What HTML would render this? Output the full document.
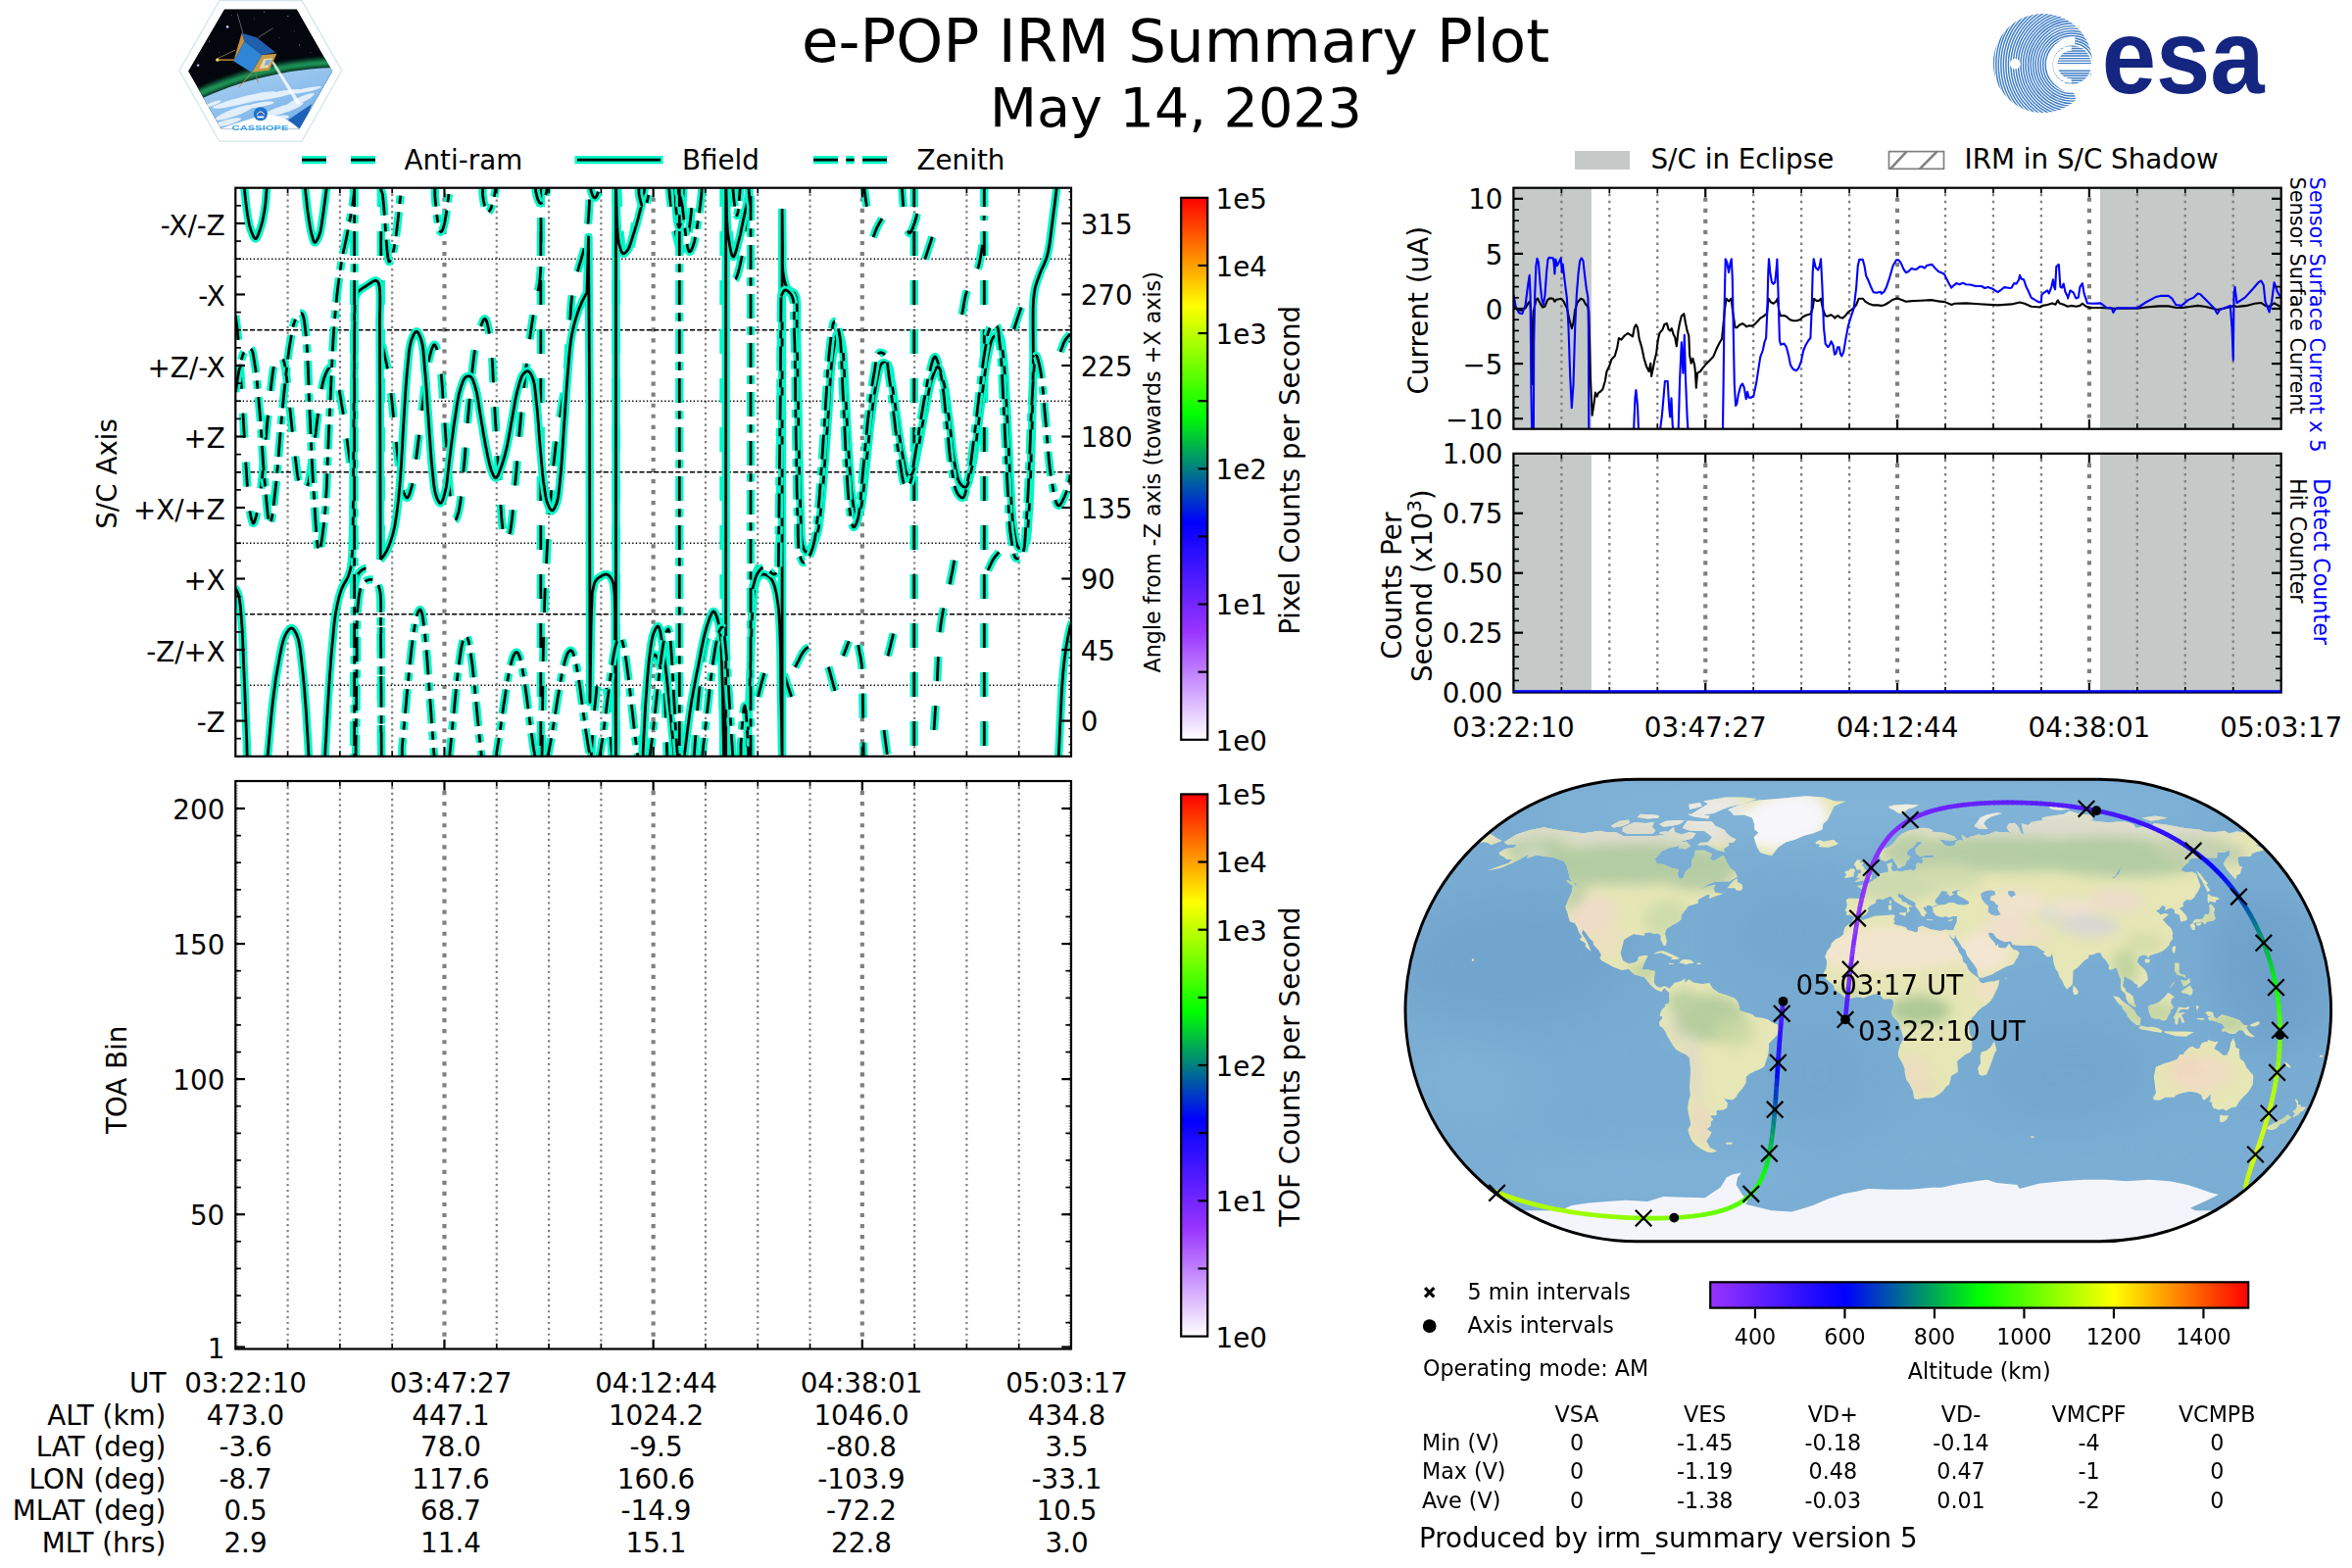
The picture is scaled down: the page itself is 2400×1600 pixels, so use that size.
<!DOCTYPE html><html><head><meta charset='utf-8'><title>e-POP IRM Summary Plot</title><style>html,body{margin:0;padding:0;background:#fff}svg{display:block}</style></head><body><svg width='2400' height='1600' viewBox='0 0 2400 1600' font-family="'DejaVu Sans','Liberation Sans',sans-serif">
<defs>
<linearGradient id='cb6' x1='0' y1='1' x2='0' y2='0'><stop offset='0' stop-color='#ffffff'/><stop offset='0.2' stop-color='#9933ff'/><stop offset='0.4' stop-color='#0000ff'/><stop offset='0.6' stop-color='#00ff00'/><stop offset='0.8' stop-color='#ffff00'/><stop offset='1' stop-color='#ff0000'/></linearGradient>
<linearGradient id='cb5' x1='0' y1='0' x2='1' y2='0'><stop offset='0' stop-color='#9933ff'/><stop offset='0.25' stop-color='#0000ff'/><stop offset='0.5' stop-color='#00ff00'/><stop offset='0.75' stop-color='#ffff00'/><stop offset='1' stop-color='#ff0000'/></linearGradient>
<pattern id='hatch' width='28' height='19' patternUnits='userSpaceOnUse'><path d='M-2 21 L16 -2 M26 21 L44 -2 M-30 21 L-12 -2' stroke='#808080' stroke-width='2.4'/></pattern>
<clipPath id='esadisc'><circle cx='2084.4' cy='64.5' r='50.5'/></clipPath><clipPath id='esaball'><circle cx='2114.2' cy='66.0' r='19.8'/></clipPath>
<clipPath id='hexclip'><path d='M191.9 72.7L228.9 9.2L302.9 9.2L339.2 72.7L305.4 131.4L225.7 131.4Z'/></clipPath><linearGradient id='earthg' x1='0' y1='0' x2='0.3' y2='1'><stop offset='0' stop-color='#d6ebfa'/><stop offset='0.18' stop-color='#7fb6ea'/><stop offset='1' stop-color='#2a74c8'/></linearGradient><filter id='bl2' x='-20%' y='-20%' width='140%' height='140%'><feGaussianBlur stdDeviation='1.6'/></filter><filter id='bl3' x='-20%' y='-20%' width='140%' height='140%'><feGaussianBlur stdDeviation='0.7'/></filter>
<clipPath id='mapclip'><path d='M1670.1 795.3L2142.5 795.3A236.2 235.7 0 0 1 2142.5 1266.7L1670.1 1266.7A236.2 235.7 0 0 1 1670.1 795.3Z'/></clipPath><clipPath id='landclip'><path d='M1534.7 859.5L1547.2 851.6L1561.0 846.9L1575.6 844.3L1587.1 846.4L1604.0 848.7L1615.4 850.3L1632.8 847.7L1638.1 849.0L1648.8 849.0L1656.5 852.9L1667.4 852.9L1678.3 852.9L1689.1 852.9L1698.6 851.6L1708.0 843.7L1708.9 849.0L1715.9 851.6L1723.9 849.0L1730.7 850.3L1726.9 855.5L1716.7 858.2L1711.9 863.4L1704.5 864.7L1695.8 868.6L1688.7 876.5L1691.0 881.7L1696.8 881.7L1706.8 886.2L1712.8 887.0L1711.7 892.2L1713.8 896.9L1717.6 896.1L1719.7 889.6L1726.2 884.3L1726.2 877.8L1728.8 873.9L1730.1 867.8L1739.1 867.8L1746.9 871.2L1744.9 877.0L1749.1 878.3L1756.3 873.9L1758.8 873.1L1762.4 880.4L1765.6 885.7L1770.5 889.6L1772.8 894.8L1764.6 899.5L1750.2 899.5L1742.2 902.7L1734.9 907.9L1741.8 904.5L1750.7 902.7L1748.6 906.6L1750.1 910.5L1757.2 911.8L1760.2 909.2L1757.0 912.6L1750.5 914.5L1743.9 917.1L1744.7 913.1L1742.2 913.1L1736.8 915.8L1732.5 918.4L1733.1 921.5L1729.1 922.8L1722.5 924.7L1720.7 927.6L1717.4 931.5L1715.7 934.1L1715.3 938.6L1710.4 942.0L1706.3 944.1L1700.6 947.7L1698.8 952.4L1700.9 960.3L1699.8 964.7L1697.5 965.0L1694.5 958.5L1694.8 955.1L1692.2 952.4L1688.2 953.0L1683.4 951.4L1678.2 951.9L1678.2 954.8L1674.0 954.3L1667.0 953.2L1663.6 955.1L1657.0 959.0L1655.5 965.5L1653.6 972.6L1656.0 979.9L1659.7 982.3L1662.2 983.3L1667.5 982.3L1670.8 980.5L1672.1 976.0L1678.7 974.7L1681.7 975.5L1679.1 979.9L1676.8 985.2L1675.3 989.4L1682.4 989.4L1688.8 990.9L1688.0 998.3L1687.5 1002.2L1690.4 1006.6L1694.2 1007.7L1698.2 1006.1L1703.6 1008.5L1702.2 1012.1L1701.4 1011.4L1698.2 1008.0L1695.6 1011.9L1692.3 1011.1L1688.9 1009.3L1683.9 1004.8L1682.0 1002.2L1677.9 997.0L1674.3 996.2L1667.6 994.3L1661.6 988.8L1655.0 989.9L1646.7 987.0L1641.3 983.9L1634.0 979.9L1632.5 977.6L1634.0 974.4L1631.6 969.7L1626.1 964.0L1625.5 960.3L1622.2 957.7L1618.7 952.4L1614.9 948.0L1614.1 952.4L1617.6 957.7L1620.4 962.9L1622.2 967.4L1623.7 970.5L1621.8 969.5L1617.8 966.1L1618.0 962.4L1613.3 959.8L1611.9 958.2L1614.4 956.1L1611.3 951.6L1609.3 945.9L1607.1 942.0L1602.1 940.6L1600.1 934.6L1599.7 932.0L1597.9 927.6L1597.4 925.2L1600.1 918.4L1603.9 910.0L1604.7 904.2L1609.5 902.7L1602.3 897.4L1600.0 888.3L1598.3 883.0L1596.0 879.1L1590.4 877.0L1585.1 874.7L1576.5 873.9L1568.3 872.6L1558.0 875.7L1559.8 871.8L1551.6 876.5L1542.6 880.9L1531.1 885.7L1522.7 887.5L1517.5 888.3L1526.9 884.9L1539.5 880.4L1543.2 877.0L1537.4 877.0L1534.9 874.4L1530.6 872.6L1529.4 869.9L1536.3 866.0L1545.3 864.7L1547.7 862.1L1538.8 862.1ZM1763.1 826.2L1777.2 820.2L1791.0 816.8L1814.5 814.9L1843.2 812.3L1860.8 813.6L1872.7 817.6L1883.9 817.6L1871.6 822.8L1868.5 829.3L1865.3 835.9L1860.3 841.1L1859.5 846.4L1850.3 850.3L1841.2 852.4L1831.6 856.8L1822.3 859.2L1814.4 864.7L1807.9 873.3L1801.4 871.8L1796.2 869.9L1793.1 864.7L1791.3 859.5L1789.7 854.2L1794.5 849.5L1790.3 846.4L1790.3 841.1L1788.1 834.6L1779.6 831.4L1769.3 832.0L1765.8 828.0ZM1703.6 1008.5L1708.9 1002.7L1715.5 1000.9L1719.5 998.5L1719.3 1002.7L1723.4 999.3L1728.5 1002.7L1737.6 1004.0L1744.2 1003.0L1747.9 1008.7L1754.3 1013.2L1762.1 1015.5L1769.9 1018.4L1772.5 1021.0L1775.1 1027.1L1775.1 1031.0L1780.3 1032.8L1788.2 1034.9L1790.8 1037.8L1797.4 1038.6L1804.0 1040.2L1808.7 1043.6L1814.0 1045.4L1815.1 1050.6L1813.4 1055.9L1808.8 1061.1L1805.0 1065.0L1804.8 1072.9L1803.7 1078.1L1801.4 1084.7L1800.3 1088.6L1795.3 1091.2L1790.3 1093.3L1785.3 1095.7L1781.7 1099.1L1781.7 1105.1L1777.7 1110.9L1773.8 1115.3L1771.1 1120.0L1767.6 1122.4L1761.2 1121.4L1758.7 1120.0L1763.0 1125.8L1762.2 1130.5L1759.0 1132.6L1751.6 1133.1L1751.7 1137.9L1745.1 1138.4L1748.3 1142.3L1745.6 1144.9L1745.9 1148.8L1741.7 1152.0L1746.6 1155.4L1743.8 1160.6L1741.2 1164.6L1743.6 1168.2L1744.8 1171.1L1752.2 1174.5L1746.8 1176.3L1741.9 1175.6L1736.2 1172.4L1730.3 1168.5L1725.9 1163.3L1723.4 1156.7L1722.4 1152.8L1725.3 1147.5L1724.1 1141.0L1722.7 1135.8L1722.2 1129.2L1723.0 1124.0L1724.9 1117.4L1724.0 1109.6L1724.4 1103.0L1724.9 1096.5L1724.9 1088.6L1723.8 1079.2L1720.4 1076.3L1715.0 1073.7L1710.1 1070.8L1707.2 1067.1L1704.6 1062.4L1701.4 1057.2L1698.9 1052.0L1696.6 1048.8L1693.4 1046.7L1693.1 1042.8L1695.6 1039.9L1696.4 1037.5L1693.8 1036.8L1694.3 1033.6L1696.1 1029.7L1699.0 1027.3L1699.5 1024.7L1702.7 1023.7L1703.5 1020.5L1703.1 1016.3L1703.5 1013.2L1702.2 1012.1ZM1891.5 937.2L1901.3 938.8L1906.3 937.0L1913.8 934.4L1923.9 934.1L1931.9 933.3L1933.9 934.4L1932.2 938.0L1933.6 940.6L1931.8 942.5L1935.4 944.1L1939.7 944.8L1945.1 946.4L1946.2 949.0L1950.8 950.1L1955.2 951.6L1957.2 949.8L1957.0 945.9L1962.0 944.8L1967.2 947.2L1970.3 948.2L1976.2 949.3L1980.1 950.1L1985.1 948.5L1988.4 949.0L1989.2 952.4L1989.9 956.4L1993.0 960.3L1995.0 964.2L1997.8 968.1L1998.4 970.8L2002.1 976.0L2003.1 981.2L2006.3 983.9L2008.4 989.1L2011.1 992.2L2015.4 995.6L2019.1 998.3L2019.5 1000.9L2022.7 1003.5L2029.2 1001.7L2034.4 1001.4L2040.1 999.8L2039.7 1003.8L2038.5 1007.4L2036.0 1012.7L2033.5 1017.9L2030.9 1021.8L2027.0 1025.2L2021.8 1028.4L2017.8 1032.3L2015.2 1035.7L2012.6 1038.1L2010.7 1041.5L2008.6 1045.4L2009.3 1049.3L2009.7 1054.6L2012.0 1058.5L2012.3 1065.0L2012.4 1070.3L2010.4 1073.7L2005.1 1076.3L2001.9 1078.9L1997.0 1083.1L1997.8 1088.6L1997.8 1093.9L1991.1 1097.8L1990.4 1101.7L1989.1 1106.4L1985.3 1109.6L1982.5 1113.5L1978.0 1116.9L1973.3 1119.8L1971.0 1120.2L1965.7 1120.3L1961.9 1120.6L1956.7 1122.1L1953.0 1120.8L1952.7 1116.6L1951.6 1112.2L1948.5 1105.9L1945.3 1101.7L1943.7 1093.9L1943.7 1090.4L1940.5 1083.4L1937.0 1078.1L1937.0 1072.9L1938.9 1066.4L1942.4 1059.8L1940.9 1054.6L1938.5 1046.7L1937.8 1044.1L1935.2 1041.0L1931.2 1037.0L1929.9 1032.8L1930.7 1029.7L1932.0 1025.8L1932.0 1021.8L1929.6 1019.2L1924.7 1019.5L1922.0 1019.7L1918.1 1014.8L1912.9 1014.5L1908.9 1015.5L1903.7 1017.4L1901.1 1018.4L1898.4 1017.6L1893.2 1017.4L1886.6 1019.5L1882.7 1017.9L1877.5 1013.5L1873.6 1011.4L1871.5 1008.7L1871.5 1006.1L1867.6 1002.7L1867.1 1002.2L1862.7 998.5L1862.5 995.6L1860.7 992.5L1863.3 989.1L1864.0 983.9L1864.0 979.9L1862.3 976.0L1865.0 969.5L1867.7 966.8L1869.1 962.4L1873.0 958.5L1876.9 956.9L1880.8 953.7L1881.6 949.8L1882.7 945.9L1886.1 943.3L1889.1 942.0ZM1883.4 918.4L1886.6 916.6L1894.0 916.8L1901.9 917.3L1903.4 914.2L1903.4 910.5L1901.0 907.9L1894.9 904.2L1899.1 903.2L1902.4 903.7L1902.7 900.8L1906.3 901.4L1909.9 899.5L1912.3 897.4L1914.7 896.4L1917.0 893.5L1918.1 891.4L1922.9 890.6L1926.9 889.8L1926.5 885.7L1925.4 881.7L1930.7 879.9L1930.4 883.6L1929.8 887.0L1932.3 889.6L1935.8 888.5L1939.4 889.6L1945.2 888.0L1949.8 887.5L1953.0 888.5L1955.5 885.7L1955.2 881.7L1957.4 880.2L1961.0 881.7L1962.5 878.3L1960.4 876.0L1963.7 875.2L1970.6 875.2L1975.0 873.9L1971.3 872.3L1965.7 872.8L1959.0 873.9L1955.3 871.2L1954.4 867.3L1955.6 864.7L1960.7 860.8L1961.6 859.2L1956.0 858.7L1954.2 862.1L1952.2 864.2L1948.0 866.8L1945.6 869.9L1946.3 872.6L1949.4 873.9L1947.8 876.5L1945.0 879.6L1944.1 883.0L1940.2 884.3L1939.1 885.9L1936.8 885.9L1936.0 883.8L1933.7 879.9L1931.6 876.5L1930.4 875.2L1928.2 877.0L1923.7 879.1L1919.0 877.0L1917.7 872.6L1917.6 868.6L1922.0 866.0L1927.6 863.9L1931.8 860.8L1934.9 856.8L1937.8 852.9L1941.9 850.3L1946.9 847.7L1953.1 846.4L1960.7 844.8L1966.7 845.1L1972.4 846.9L1970.6 848.5L1977.2 849.2L1983.7 849.8L1994.4 853.4L1996.8 856.8L1990.1 858.2L1978.7 856.3L1982.9 860.8L1984.4 862.6L1990.2 863.7L1995.3 861.8L1995.7 858.7L1999.7 857.1L2003.7 858.2L2002.2 854.2L2001.5 851.6L2007.0 855.5L2010.8 853.7L2018.8 851.6L2023.4 852.4L2029.5 851.3L2035.9 848.5L2043.9 849.5L2049.0 849.0L2053.4 851.6L2049.5 847.7L2047.6 844.5L2050.1 840.3L2056.0 839.8L2059.6 843.7L2062.5 850.3L2065.3 851.6L2063.4 843.7L2062.6 840.3L2069.8 841.9L2072.9 838.5L2081.0 843.2L2073.8 838.2L2084.4 837.2L2083.6 834.6L2088.7 833.3L2097.7 832.0L2106.6 830.7L2111.6 827.5L2119.9 829.9L2134.0 832.0L2135.7 835.9L2132.8 837.2L2139.7 838.0L2151.2 839.3L2161.9 838.5L2169.1 838.5L2176.9 841.1L2179.6 845.1L2184.7 843.7L2191.0 843.7L2197.0 841.4L2197.7 840.1L2212.0 841.7L2222.7 843.7L2230.7 845.3L2244.6 846.4L2250.4 848.7L2260.4 849.0L2269.6 847.7L2274.8 850.3L2283.0 848.2L2294.5 850.6L2305.9 860.8L2303.9 862.1L2301.1 861.6L2308.9 866.0L2311.3 867.3L2302.9 869.2L2298.0 871.2L2296.8 873.9L2286.5 873.9L2283.5 874.4L2283.7 879.1L2285.3 884.3L2288.3 884.3L2287.0 887.5L2285.8 891.9L2282.7 892.7L2281.3 897.4L2276.5 892.2L2272.1 887.0L2268.7 881.7L2269.9 879.1L2272.6 875.2L2275.1 872.6L2275.2 867.3L2269.5 869.9L2262.5 869.7L2262.3 875.2L2253.1 875.2L2248.3 874.9L2235.1 875.7L2232.5 880.4L2228.7 883.6L2225.3 887.7L2230.2 890.1L2237.0 889.6L2241.3 891.7L2242.3 894.8L2244.0 900.1L2245.5 904.0L2243.4 908.7L2240.5 913.1L2239.2 915.8L2235.4 918.4L2231.5 917.9L2229.0 919.7L2227.5 922.3L2228.0 924.9L2223.7 926.8L2226.7 929.6L2230.6 934.1L2232.0 937.5L2231.4 939.1L2228.0 940.1L2225.1 940.6L2224.4 936.7L2223.7 933.6L2219.2 932.0L2218.7 928.3L2215.6 926.5L2210.5 928.3L2209.1 929.4L2209.4 924.9L2206.6 924.1L2203.0 928.3L2199.9 928.9L2202.8 931.5L2204.6 933.3L2208.7 932.0L2213.3 933.1L2210.2 935.4L2206.9 938.6L2211.2 943.3L2215.5 947.2L2216.4 949.8L2217.3 952.4L2216.7 955.1L2217.3 957.7L2214.3 961.6L2213.5 964.2L2211.4 966.6L2208.0 969.5L2205.7 971.0L2201.6 972.6L2198.4 973.4L2193.4 975.0L2192.3 977.8L2190.0 974.7L2186.4 974.4L2182.5 976.5L2180.8 981.2L2183.0 984.4L2188.3 989.1L2191.1 994.3L2191.9 999.6L2187.5 1003.8L2185.5 1006.1L2181.2 1008.2L2181.0 1004.8L2178.3 1003.5L2174.9 1000.1L2170.0 997.7L2169.1 995.9L2167.4 997.0L2167.1 1000.9L2165.9 1006.1L2168.7 1008.7L2169.6 1012.1L2172.8 1013.5L2176.4 1016.6L2177.5 1020.5L2177.9 1023.9L2179.8 1027.3L2177.7 1027.3L2172.1 1023.7L2169.6 1019.2L2169.2 1015.3L2167.3 1012.7L2164.3 1010.0L2164.0 1004.8L2164.2 999.6L2161.9 994.3L2160.8 990.4L2159.2 987.3L2155.0 989.6L2151.8 989.1L2151.9 985.2L2149.4 980.5L2145.3 976.5L2143.5 972.6L2140.1 972.3L2136.4 973.9L2131.3 974.7L2131.2 977.8L2127.5 979.7L2124.4 982.8L2120.4 987.0L2115.5 990.4L2115.3 995.6L2115.1 999.6L2115.0 1003.8L2113.1 1006.6L2111.0 1007.7L2109.3 1009.8L2106.5 1006.1L2104.4 1000.9L2101.6 997.0L2099.9 991.7L2097.7 989.1L2095.9 983.9L2095.2 981.2L2094.7 976.0L2093.6 972.9L2092.7 976.0L2088.8 976.5L2084.6 972.6L2087.0 971.3L2083.2 969.5L2079.6 966.8L2077.9 965.5L2072.2 964.7L2064.5 965.0L2058.0 964.5L2053.6 964.0L2051.9 960.3L2046.1 961.3L2040.8 959.0L2036.7 956.4L2034.3 952.4L2031.1 951.4L2028.7 952.4L2030.3 956.4L2033.7 960.3L2035.2 962.1L2037.0 966.1L2038.8 962.9L2039.2 966.8L2042.8 967.6L2046.7 967.4L2050.1 962.9L2051.7 966.1L2054.5 968.7L2057.7 969.5L2060.8 972.1L2058.6 977.3L2056.0 981.2L2054.4 983.9L2050.1 985.4L2046.7 986.5L2042.2 989.1L2036.6 991.7L2032.8 994.3L2027.7 995.9L2023.8 997.5L2019.9 997.7L2017.9 994.3L2017.5 989.1L2014.1 983.9L2010.0 978.6L2007.2 974.7L2005.6 969.5L2002.3 966.8L2000.1 962.9L1996.6 957.7L1995.1 954.0L1994.1 958.2L1991.2 956.4L1989.4 952.7L1988.4 949.0L1993.3 949.0L1994.7 945.1L1996.7 940.6L1996.8 936.7L1997.2 934.9L1992.9 934.9L1989.3 936.5L1984.1 934.9L1982.9 935.9L1979.1 935.4L1975.3 934.1L1972.5 930.7L1972.3 927.6L1971.5 926.2L1974.6 924.9L1978.2 923.6L1984.4 923.1L1989.1 921.0L1993.3 921.0L1998.0 923.1L2004.3 923.6L2009.1 922.3L2008.8 919.7L2004.2 917.1L1999.5 914.5L1996.8 912.4L1997.6 909.2L2001.8 907.4L1999.9 907.7L1995.1 908.7L1991.6 910.0L1993.1 912.4L1995.6 912.1L1992.7 913.1L1989.7 914.7L1988.3 912.6L1985.8 912.1L1988.0 910.5L1984.2 909.2L1981.1 909.2L1979.0 913.1L1976.8 915.8L1975.0 917.9L1974.4 919.7L1975.6 921.8L1978.2 923.1L1975.8 923.6L1972.9 924.7L1970.9 925.7L1970.8 924.1L1965.9 924.1L1966.0 926.2L1962.9 924.9L1962.9 927.6L1964.5 929.4L1966.3 931.5L1964.4 933.3L1963.8 935.4L1960.8 934.6L1959.6 932.0L1959.0 930.7L1956.6 927.6L1954.5 924.9L1954.5 921.5L1952.0 919.7L1946.9 917.1L1943.1 914.5L1941.8 912.4L1939.6 913.1L1939.8 911.3L1936.4 912.4L1936.7 915.2L1939.5 916.8L1941.4 920.0L1945.9 921.3L1945.9 922.6L1949.7 924.1L1952.3 926.0L1948.5 924.9L1947.6 927.3L1949.0 928.9L1946.6 931.5L1945.8 929.9L1946.2 927.6L1944.6 926.0L1942.0 924.4L1938.5 922.8L1936.5 921.5L1933.5 919.7L1931.6 917.1L1929.6 915.0L1927.9 914.7L1924.7 916.3L1921.1 918.1L1918.1 917.3L1914.9 917.6L1914.0 919.7L1914.2 921.3L1911.8 922.6L1908.3 924.1L1905.6 927.6L1906.8 929.4L1904.5 932.5L1900.8 934.9L1895.3 934.9L1892.2 936.7L1890.5 935.1L1887.7 933.6L1884.0 934.1L1884.3 930.2L1882.6 929.4L1884.2 925.7L1884.7 923.1L1884.3 920.2ZM1518.1 850.6L1522.8 852.1L1527.7 855.5L1532.5 857.9L1521.8 862.3L1517.0 859.5L1511.4 859.5L1506.7 860.8ZM1892.6 899.8L1897.9 899.3L1902.7 898.2L1909.4 896.9L1910.3 893.0L1907.0 892.2L1906.3 890.6L1905.8 888.3L1902.8 887.0L1901.6 884.3L1899.8 883.3L1901.7 879.9L1897.0 880.2L1899.4 877.5L1894.8 877.5L1892.8 880.4L1891.8 882.5L1893.4 884.3L1894.5 887.0L1894.8 887.7L1898.1 887.2L1899.2 889.6L1898.7 891.2L1895.6 891.4L1896.1 892.7L1894.9 894.8L1893.9 895.3L1896.8 895.9L1899.1 896.4L1895.5 897.4ZM1892.0 894.3L1891.6 891.4L1893.1 888.0L1891.7 886.4L1888.7 886.2L1886.3 888.3L1882.7 889.1L1882.6 891.2L1884.2 891.9L1883.0 894.3L1881.7 895.3L1883.6 896.1L1887.2 895.3L1890.8 894.6ZM1852.5 859.5L1856.8 857.1L1861.0 858.7L1866.7 857.6L1871.2 856.8L1874.0 859.5L1876.1 860.8L1872.8 862.6L1865.9 864.7L1860.4 864.4L1855.5 863.9L1857.3 862.1L1853.0 861.0ZM1927.5 822.8L1933.1 821.5L1944.4 820.7L1957.9 821.2L1952.9 824.1L1947.3 825.4L1943.9 828.0L1940.3 830.4L1936.2 829.3L1932.9 826.7L1927.7 824.6ZM2014.7 843.2L2019.9 845.8L2028.5 846.1L2024.0 840.3L2026.5 836.7L2031.9 833.3L2043.1 829.9L2037.7 829.3L2026.9 831.4L2020.4 834.6L2018.1 838.5L2015.2 841.7ZM2090.7 824.1L2096.2 820.2L2111.5 825.4L2103.0 826.7L2094.4 825.9ZM2185.4 834.6L2199.2 832.5L2211.9 834.6L2205.4 835.9L2195.2 837.7ZM1995.6 820.2L2009.6 818.3L2025.0 818.9L2021.1 821.5L2002.0 821.5ZM2241.2 888.8L2245.1 891.4L2249.3 897.4L2253.1 901.4L2251.3 902.7L2255.4 908.4L2252.8 910.5L2250.3 905.3L2246.9 898.7L2243.5 893.5ZM2253.8 922.3L2252.6 918.4L2252.8 912.1L2257.1 914.5L2263.3 915.8L2264.6 917.6L2261.3 918.4L2260.7 921.0L2255.7 919.7L2254.1 920.2ZM2256.5 922.8L2260.1 927.6L2259.0 931.5L2259.9 934.6L2260.7 937.5L2258.8 939.3L2256.2 940.1L2252.0 940.4L2249.9 943.3L2247.0 940.4L2242.2 941.2L2237.4 942.0L2238.1 940.1L2240.7 938.0L2247.4 937.8L2249.4 934.6L2250.0 932.8L2253.4 933.3L2254.8 930.2L2254.6 926.2L2254.3 923.6ZM2237.4 942.0L2235.2 943.3L2235.1 945.4L2237.6 949.0L2239.4 949.0L2240.1 945.1L2238.9 942.7ZM2241.2 942.0L2246.0 941.4L2246.4 942.7L2243.3 945.1L2241.2 943.8ZM2218.8 965.0L2220.3 966.1L2219.0 972.9L2216.5 970.8L2216.6 966.8ZM2188.8 978.6L2194.0 979.1L2192.9 982.6L2188.8 982.3ZM2219.2 982.6L2223.6 982.8L2223.8 987.8L2223.2 991.7L2225.8 994.3L2229.8 994.9L2230.1 997.7L2226.0 995.6L2222.0 995.1L2220.7 993.0L2218.9 990.4L2219.3 987.8ZM2225.9 1011.4L2229.7 1008.7L2234.7 1005.6L2237.6 1010.0L2237.1 1014.0L2235.3 1015.8L2231.3 1014.0L2226.0 1012.9ZM2225.1 1000.1L2230.4 1000.9L2234.1 998.3L2235.0 1002.2L2232.0 1004.8L2228.2 1006.6L2226.7 1003.5ZM2213.5 1008.7L2218.8 1002.7L2219.2 1001.4L2215.1 1006.1ZM2192.3 1027.1L2193.9 1025.8L2198.6 1024.5L2202.8 1022.6L2207.9 1018.2L2212.1 1012.9L2214.8 1014.2L2218.9 1017.4L2215.8 1019.5L2215.1 1023.1L2218.1 1028.4L2214.7 1030.5L2214.7 1033.1L2212.0 1037.0L2210.6 1041.0L2206.9 1041.5L2202.8 1039.6L2198.8 1039.6L2195.4 1038.6L2193.1 1033.1L2192.4 1030.2ZM2156.2 1016.3L2162.0 1017.4L2165.2 1021.0L2169.5 1024.5L2172.7 1026.3L2177.9 1031.0L2180.5 1035.7L2184.4 1038.9L2183.7 1046.2L2180.3 1045.9L2174.6 1041.5L2171.3 1037.5L2169.5 1033.1L2166.1 1029.7L2165.3 1026.5L2162.1 1024.5L2159.5 1021.3ZM2182.3 1048.8L2184.7 1046.5L2190.7 1048.0L2196.5 1047.8L2201.6 1049.1L2206.2 1051.2L2205.8 1053.8L2199.6 1053.0L2191.8 1051.4L2185.3 1050.4ZM2207.5 1052.2L2218.0 1052.5L2228.4 1052.5L2233.7 1052.7L2238.9 1053.0L2230.7 1057.7L2220.3 1057.2L2210.0 1054.3ZM2220.7 1033.1L2223.3 1027.6L2229.1 1028.6L2234.3 1026.8L2233.0 1030.0L2225.2 1030.0L2221.8 1033.4L2225.2 1033.4L2230.2 1033.1L2225.9 1036.0L2227.7 1039.6L2229.4 1043.6L2226.3 1043.6L2225.1 1038.9L2223.3 1038.1L2222.0 1045.4L2219.6 1045.1L2219.3 1040.2L2218.0 1038.1ZM2240.9 1026.0L2244.0 1027.1L2242.2 1030.0L2242.7 1033.1L2241.2 1028.9ZM2242.1 1038.9L2249.5 1038.9L2248.6 1040.7L2242.1 1040.2ZM2250.1 1033.1L2254.0 1032.0L2258.0 1033.1L2259.2 1037.5L2261.8 1039.6L2267.1 1035.2L2276.3 1037.8L2285.4 1041.0L2289.1 1045.4L2293.8 1046.7L2292.1 1048.5L2295.2 1053.3L2300.8 1058.0L2297.3 1058.2L2291.8 1055.9L2288.7 1052.0L2284.9 1050.9L2280.6 1055.1L2275.4 1054.8L2270.4 1052.2L2267.7 1053.0L2267.4 1049.9L2270.1 1048.5L2267.6 1044.9L2261.2 1042.5L2256.5 1041.2L2254.7 1041.5L2252.6 1038.3L2256.6 1037.3L2253.2 1036.8ZM2295.6 1045.9L2299.7 1044.1L2305.0 1042.0L2305.7 1044.9L2300.8 1047.5L2296.9 1047.2ZM2331.3 1083.6L2334.8 1085.5L2337.8 1089.1L2335.9 1089.7L2331.9 1086.5ZM2367.2 1076.8L2370.6 1076.8L2369.9 1078.7L2366.9 1078.4ZM2199.9 1088.6L2201.5 1088.1L2208.8 1084.9L2214.7 1083.4L2221.6 1080.8L2224.3 1076.0L2227.7 1076.3L2229.0 1073.7L2234.4 1068.5L2237.6 1067.7L2240.4 1070.0L2244.1 1070.0L2246.2 1065.0L2248.2 1063.5L2252.7 1062.7L2252.9 1060.9L2259.5 1063.0L2263.7 1063.0L2261.2 1066.4L2259.4 1070.3L2264.3 1072.9L2268.4 1076.8L2272.3 1076.8L2275.3 1070.3L2276.0 1064.5L2278.9 1059.3L2281.0 1064.5L2281.3 1068.7L2285.0 1070.3L2284.9 1074.2L2285.8 1080.2L2289.9 1083.4L2292.5 1089.4L2295.2 1092.5L2299.2 1097.3L2299.1 1101.7L2298.8 1106.4L2295.6 1112.2L2292.2 1116.4L2288.8 1119.5L2284.0 1125.3L2282.1 1129.2L2276.7 1130.3L2271.4 1133.4L2268.2 1131.6L2264.5 1132.6L2258.9 1131.0L2257.0 1127.9L2257.3 1124.8L2254.2 1124.2L2255.6 1122.1L2255.7 1116.4L2252.5 1120.0L2249.2 1122.7L2247.7 1121.6L2245.9 1116.9L2241.4 1114.8L2234.1 1113.8L2226.0 1115.6L2220.4 1117.4L2218.5 1119.8L2209.6 1119.8L2203.8 1122.7L2198.8 1122.4L2196.7 1120.8L2200.1 1114.5L2199.2 1110.9L2198.6 1104.3L2197.8 1099.1L2198.5 1095.2ZM2265.5 1137.6L2269.6 1138.6L2274.2 1138.1L2272.2 1142.3L2269.5 1144.4L2265.5 1145.2L2265.0 1141.8ZM2342.3 1121.1L2344.7 1123.4L2345.0 1127.4L2347.7 1126.9L2347.1 1129.5L2353.2 1129.7L2349.9 1133.7L2347.3 1134.4L2345.7 1137.1L2340.3 1139.9L2339.5 1139.2L2341.8 1136.5L2339.5 1133.9L2342.8 1131.8L2343.9 1129.2L2343.8 1126.6L2342.2 1123.2ZM2335.3 1137.1L2335.5 1139.2L2338.4 1138.9L2337.1 1141.0L2332.5 1144.1L2331.9 1145.7L2326.8 1147.0L2323.2 1151.2L2319.0 1153.0L2316.1 1153.0L2312.6 1151.5L2315.2 1148.8L2319.8 1146.2L2325.3 1143.6L2329.2 1141.8L2332.9 1138.4ZM2035.1 1062.4L2037.3 1071.6L2035.0 1075.5L2033.4 1080.8L2030.4 1088.6L2027.2 1096.5L2022.5 1097.8L2019.5 1096.5L2018.1 1089.9L2021.0 1084.7L2020.6 1078.1L2021.9 1073.4L2026.9 1072.1L2031.2 1068.5L2033.4 1065.0ZM2115.6 1005.3L2118.9 1008.7L2120.9 1012.1L2119.4 1014.8L2116.5 1015.3L2115.1 1011.4L2115.5 1007.4ZM1686.8 973.6L1692.1 970.8L1697.3 970.2L1702.2 972.3L1707.2 974.4L1712.1 976.8L1714.1 978.1L1710.6 978.9L1704.9 979.1L1706.9 977.1L1703.1 976.0L1699.5 973.9L1694.5 972.3L1690.5 972.9ZM1713.1 982.6L1717.1 978.9L1720.4 979.1L1725.1 979.4L1728.7 982.3L1727.1 983.1L1723.2 983.3L1720.5 984.6L1718.0 983.3ZM1703.0 982.8L1708.1 983.3L1708.1 984.1L1703.1 983.9ZM1731.8 982.6L1736.0 982.8L1735.3 984.1L1731.7 983.9ZM1762.4 906.3L1768.4 898.7L1772.8 895.9L1772.9 900.1L1777.3 902.2L1778.4 906.6L1776.0 909.0L1771.3 908.2L1770.4 906.3ZM1598.7 898.0L1605.4 900.1L1607.9 904.2L1604.3 903.5L1599.2 900.1ZM1771.4 856.3L1769.1 859.5L1763.3 860.2L1764.7 862.6L1759.0 866.0L1759.6 869.4L1751.7 867.3L1747.1 864.7L1741.4 862.3L1732.3 862.6L1734.6 860.0L1742.6 859.5L1747.1 854.2L1744.0 851.6L1738.5 847.7L1730.9 847.9L1724.7 847.7L1716.7 845.1L1721.8 837.5L1730.7 838.0L1741.1 838.0L1746.9 838.5L1750.6 843.0L1755.9 845.1L1760.2 847.2L1761.9 850.3L1766.8 854.2ZM1655.9 844.3L1667.8 839.0L1679.4 840.1L1687.7 838.8L1685.9 843.7L1689.4 847.7L1686.2 850.8L1677.5 850.8L1668.7 851.1L1661.1 851.1L1655.6 848.5ZM1643.9 842.4L1652.5 837.7L1662.0 836.4L1663.0 839.8L1654.7 843.2L1646.2 844.5ZM1726.0 830.7L1734.3 825.4L1743.0 820.2L1738.1 817.6L1760.7 813.6L1779.2 813.4L1792.4 814.9L1786.7 817.6L1777.2 820.2L1765.2 823.3L1757.4 825.9L1748.4 830.1L1737.6 831.2ZM1722.0 830.7L1728.0 833.3L1742.8 835.4L1744.5 832.8L1736.0 830.7ZM1723.4 820.7L1734.8 818.9L1736.7 822.8L1724.1 825.9ZM1673.9 830.7L1685.4 831.2L1692.7 832.0L1692.4 834.6L1681.4 835.4L1670.5 834.1ZM1708.6 837.2L1718.9 837.2L1714.0 841.1L1706.8 842.4L1697.5 843.7L1693.1 841.1L1700.0 837.7ZM1713.8 859.5L1720.9 858.7L1725.3 863.4L1719.4 866.5L1713.2 865.2ZM1693.9 849.0L1700.8 848.2L1700.2 850.8L1693.5 851.1ZM1502.1 978.1L1504.5 979.1L1502.8 981.2L1501.7 979.9ZM2072.3 1159.3L2076.0 1159.8L2074.3 1161.2L2072.0 1160.6ZM1760.6 1165.9L1767.7 1165.6L1767.0 1167.7L1762.2 1167.7ZM1926.6 923.9L1930.1 923.4L1930.2 928.3L1927.5 928.9ZM1927.8 919.4L1929.7 918.4L1929.6 922.3L1928.1 922.1ZM1937.6 931.5L1945.3 931.0L1944.2 934.9L1937.9 932.5ZM1965.7 937.8L1972.6 938.6L1971.8 939.3L1965.8 938.8ZM1987.7 939.1L1993.2 937.8L1991.8 939.6L1988.3 940.1ZM2009.1 1046.2L2009.8 1047.2L2009.3 1047.8ZM2045.5 998.0L2048.6 998.3L2046.8 998.8ZM1743.2 1168.8L1744.8 1171.1L1752.2 1174.5L1746.8 1176.3L1741.9 1175.6L1736.2 1172.4L1739.4 1171.1L1739.1 1169.3ZM1552.3 1235.3L1591.6 1235.3L1604.0 1230.0L1621.0 1227.4L1640.0 1226.1L1659.2 1224.8L1681.0 1226.1L1697.3 1220.9L1718.8 1221.7L1739.9 1222.2L1747.4 1216.9L1755.5 1211.7L1758.0 1207.8L1762.0 1201.2L1767.7 1198.6L1777.1 1196.5L1773.1 1201.2L1771.6 1209.1L1778.2 1219.6L1783.4 1226.1L1780.7 1228.7L1808.0 1235.3L1828.1 1236.6L1837.0 1234.0L1849.9 1230.0L1864.9 1223.5L1881.0 1218.3L1895.7 1215.6L1906.3 1213.0L1927.7 1213.8L1949.1 1213.8L1970.9 1211.7L1981.7 1211.7L1993.2 1209.1L2016.1 1205.2L2027.5 1203.8L2037.4 1207.0L2058.3 1209.1L2060.8 1213.0L2075.7 1209.1L2080.7 1207.8L2104.0 1205.2L2126.7 1203.8L2148.8 1203.8L2169.9 1205.2L2192.9 1203.8L2213.8 1205.2L2232.1 1209.1L2248.2 1214.3L2255.9 1216.9L2263.9 1219.0L2252.2 1224.8L2234.9 1232.7L2240.7 1235.3L2260.3 1235.3L2253.2 1239.2L2245.5 1243.1L2236.9 1247.1L2227.3 1251.0L2216.3 1254.9L2203.0 1258.8L2185.4 1262.8L2142.5 1266.7L1670.1 1266.7L1627.2 1262.8L1609.6 1258.8L1596.3 1254.9L1585.3 1251.0L1575.7 1247.1L1567.1 1243.1L1559.4 1239.2Z'/></clipPath><filter id='bl6' x='-20%' y='-20%' width='140%' height='140%'><feGaussianBlur stdDeviation='6'/></filter><filter id='bl12' x='-30%' y='-30%' width='160%' height='160%'><feGaussianBlur stdDeviation='12'/></filter><filter id='bl25' x='-30%' y='-30%' width='160%' height='160%'><feGaussianBlur stdDeviation='25'/></filter><filter id='bl1' x='-5%' y='-5%' width='110%' height='110%'><feGaussianBlur stdDeviation='0.55'/></filter>
</defs>
<rect x='0.00' y='0.00' width='2400.00' height='1600.00' fill='#fff' stroke='none' stroke-width='0'/>
<text x='1199.5' y='62.5' font-size='61.10' text-anchor='middle' fill='#000'>e-POP IRM Summary Plot</text>
<text x='1200.0' y='128.6' font-size='55.56' text-anchor='middle' fill='#000'>May 14, 2023</text>
<line x1='293.59' y1='197.70' x2='293.59' y2='765.80' stroke='#808080' stroke-width='2.2' stroke-linecap='butt' stroke-dasharray='2.2 3.67'/>
<line x1='346.89' y1='197.70' x2='346.89' y2='765.80' stroke='#808080' stroke-width='2.2' stroke-linecap='butt' stroke-dasharray='2.2 3.67'/>
<line x1='400.18' y1='197.70' x2='400.18' y2='765.80' stroke='#808080' stroke-width='2.2' stroke-linecap='butt' stroke-dasharray='2.2 3.67'/>
<line x1='453.48' y1='201.70' x2='453.48' y2='761.80' stroke='#808080' stroke-width='4.17' stroke-linecap='butt' stroke-dasharray='4.17 6.88'/>
<line x1='506.77' y1='197.70' x2='506.77' y2='765.80' stroke='#808080' stroke-width='2.2' stroke-linecap='butt' stroke-dasharray='2.2 3.67'/>
<line x1='560.06' y1='197.70' x2='560.06' y2='765.80' stroke='#808080' stroke-width='2.2' stroke-linecap='butt' stroke-dasharray='2.2 3.67'/>
<line x1='613.36' y1='197.70' x2='613.36' y2='765.80' stroke='#808080' stroke-width='2.2' stroke-linecap='butt' stroke-dasharray='2.2 3.67'/>
<line x1='666.65' y1='201.70' x2='666.65' y2='761.80' stroke='#808080' stroke-width='4.17' stroke-linecap='butt' stroke-dasharray='4.17 6.88'/>
<line x1='719.94' y1='197.70' x2='719.94' y2='765.80' stroke='#808080' stroke-width='2.2' stroke-linecap='butt' stroke-dasharray='2.2 3.67'/>
<line x1='773.24' y1='197.70' x2='773.24' y2='765.80' stroke='#808080' stroke-width='2.2' stroke-linecap='butt' stroke-dasharray='2.2 3.67'/>
<line x1='826.53' y1='197.70' x2='826.53' y2='765.80' stroke='#808080' stroke-width='2.2' stroke-linecap='butt' stroke-dasharray='2.2 3.67'/>
<line x1='879.83' y1='201.70' x2='879.83' y2='761.80' stroke='#808080' stroke-width='4.17' stroke-linecap='butt' stroke-dasharray='4.17 6.88'/>
<line x1='933.12' y1='197.70' x2='933.12' y2='765.80' stroke='#808080' stroke-width='2.2' stroke-linecap='butt' stroke-dasharray='2.2 3.67'/>
<line x1='986.41' y1='197.70' x2='986.41' y2='765.80' stroke='#808080' stroke-width='2.2' stroke-linecap='butt' stroke-dasharray='2.2 3.67'/>
<line x1='1039.71' y1='197.70' x2='1039.71' y2='765.80' stroke='#808080' stroke-width='2.2' stroke-linecap='butt' stroke-dasharray='2.2 3.67'/>
<line x1='240.30' y1='264.21' x2='1093.00' y2='264.21' stroke='#000' stroke-width='1.39' stroke-linecap='butt' stroke-dasharray='1.39 2.29'/>
<line x1='240.30' y1='409.24' x2='1093.00' y2='409.24' stroke='#000' stroke-width='1.39' stroke-linecap='butt' stroke-dasharray='1.39 2.29'/>
<line x1='240.30' y1='554.26' x2='1093.00' y2='554.26' stroke='#000' stroke-width='1.39' stroke-linecap='butt' stroke-dasharray='1.39 2.29'/>
<line x1='240.30' y1='699.29' x2='1093.00' y2='699.29' stroke='#000' stroke-width='1.39' stroke-linecap='butt' stroke-dasharray='1.39 2.29'/>
<line x1='240.30' y1='336.72' x2='1093.00' y2='336.72' stroke='#000' stroke-width='1.39' stroke-linecap='butt' stroke-dasharray='5.14 2.22'/>
<line x1='240.30' y1='481.75' x2='1093.00' y2='481.75' stroke='#000' stroke-width='1.39' stroke-linecap='butt' stroke-dasharray='5.14 2.22'/>
<line x1='240.30' y1='626.77' x2='1093.00' y2='626.77' stroke='#000' stroke-width='1.39' stroke-linecap='butt' stroke-dasharray='5.14 2.22'/>
<clipPath id='clipTL'><rect x='240.3' y='191.7' width='852.7' height='580.0999999999999'/></clipPath>
<g clip-path='url(#clipTL)' fill='none' stroke-linejoin='round'>
<path d='M240.3 322.0L240.6 324.8L241.0 327.6L241.3 330.3L241.7 333.0L242.0 335.8L242.4 338.7L242.7 341.8L243.0 345.0L243.4 349.9L243.8 355.1L244.2 360.7L244.6 366.4L244.9 372.3L245.3 378.2L245.6 384.2L246.0 390.0L246.4 396.1L246.8 402.3L247.1 408.6L247.5 414.8L247.9 421.1L248.3 427.4L248.6 433.7L249.0 440.0L249.4 446.3L249.7 452.8L250.1 459.2L250.4 465.7L250.8 472.1L251.2 478.3L251.6 484.3L252.0 490.0L252.3 494.5L252.6 498.9L252.9 503.2L253.3 507.4L253.6 511.5L254.0 515.3L254.5 518.8L255.0 522.0L255.4 524.0L255.8 526.0L256.2 528.0L256.7 529.9L257.1 531.5L257.6 532.8L258.0 533.7L258.5 534.0L258.9 533.7L259.4 533.0L259.8 531.9L260.3 530.6L260.7 529.0L261.2 527.3L261.6 525.6L262.0 524.0L262.6 521.6L263.1 518.9L263.6 516.1L264.1 513.1L264.6 509.9L265.1 506.7L265.5 503.4L266.0 500.0L266.6 495.5L267.1 490.8L267.6 485.9L268.1 480.9L268.5 475.8L269.0 470.6L269.5 465.3L270.0 460.0L270.6 454.0L271.2 447.7L271.8 441.4L272.4 434.9L273.0 428.5L273.7 422.1L274.3 416.0L275.0 410.0L275.6 404.9L276.1 399.6L276.6 394.5L277.2 389.4L277.8 384.5L278.4 379.9L279.1 375.7L280.0 372.0L280.6 369.8L281.2 367.6L281.9 365.4L282.6 363.4L283.3 361.6L284.0 360.3L284.6 359.3L285.3 359.0L285.9 359.3L286.5 360.0L287.1 361.2L287.7 362.6L288.3 364.3L288.9 366.2L289.5 368.1L290.0 370.0L290.9 373.8L291.6 378.1L292.2 383.0L292.8 388.2L293.4 393.7L293.9 399.2L294.4 404.7L295.0 410.0L295.6 415.5L296.3 421.2L296.9 426.9L297.5 432.6L298.1 438.3L298.7 444.0L299.4 449.6L300.0 455.0L300.6 459.9L301.1 465.0L301.7 470.0L302.3 475.0L302.9 479.8L303.5 484.2L304.2 488.4L305.0 492.0L305.5 494.1L306.0 496.2L306.5 498.3L307.1 500.2L307.6 501.9L308.2 503.3L308.8 504.2L309.4 504.5L310.0 504.3L310.5 503.6L311.1 502.6L311.7 501.3L312.3 499.9L312.9 498.3L313.5 496.6L314.0 495.0L314.8 492.1L315.5 488.9L316.1 485.3L316.7 481.5L317.3 477.5L317.8 473.3L318.4 469.2L319.0 465.0L319.8 459.8L320.5 454.3L321.2 448.5L322.0 442.7L322.7 436.9L323.4 431.1L324.2 425.4L325.0 420.0L325.7 415.3L326.3 410.4L327.0 405.6L327.6 400.8L328.3 396.3L329.1 392.1L330.0 388.3L331.0 385.0L331.7 383.3L332.4 381.5L333.1 379.8L333.9 378.3L334.7 377.0L335.5 375.9L336.2 375.2L337.0 375.0L337.8 375.2L338.5 375.9L339.3 377.0L340.1 378.3L340.9 379.9L341.6 381.6L342.3 383.3L343.0 385.0L344.0 387.9L344.8 391.2L345.6 394.8L346.3 398.7L347.0 402.7L347.7 406.8L348.3 410.9L349.0 415.0L349.8 419.7L350.6 424.6L351.3 429.5L352.1 434.6L352.8 439.7L353.6 444.8L354.3 449.9L355.0 455.0L355.7 460.2L356.4 465.4L357.1 470.7L357.8 475.9L358.5 481.2L359.1 486.5L359.8 491.7L360.5 497.0M361.0 186.0L361.0 775.0M361.5 600.0L362.0 598.1L362.5 596.0L362.9 594.0L363.3 591.9L363.8 589.9L364.4 588.1L365.1 586.4L366.0 585.0L366.8 584.0L367.7 583.1L368.7 582.2L369.8 581.4L370.9 580.8L372.0 580.3L373.0 580.0L374.0 580.0L375.1 580.3L376.1 580.9L377.2 581.8L378.3 582.9L379.3 584.2L380.2 585.5L381.2 586.8L382.0 588.0L382.8 589.3L383.6 590.6L384.3 591.9L384.9 593.3L385.5 594.8L386.0 596.4L386.5 598.1L387.0 600.0L387.7 603.8L388.1 608.3L388.3 613.2L388.5 618.5L388.5 623.9L388.6 629.4L388.6 634.8L388.8 640.0M388.8 640.0L388.8 761.0M388.8 186.0L388.8 560.0M390.0 352.0L390.4 353.6L390.7 355.2L391.1 356.8L391.5 358.3L391.9 359.9L392.2 361.6L392.6 363.2L393.0 365.0L393.5 367.2L394.0 369.5L394.5 371.8L395.0 374.2L395.5 376.7L396.0 379.3L396.5 382.1L397.0 385.0L397.7 389.8L398.3 395.0L399.0 400.5L399.6 406.4L400.2 412.3L400.8 418.3L401.4 424.3L402.0 430.0L402.6 435.7L403.2 441.6L403.9 447.5L404.5 453.3L405.1 459.1L405.7 464.7L406.4 470.0L407.0 475.0L407.5 478.6L407.9 482.1L408.3 485.6L408.7 488.9L409.2 492.0L409.7 494.9L410.3 497.6L411.0 500.0L411.5 501.4L412.0 502.8L412.6 504.1L413.1 505.4L413.7 506.4L414.3 507.3L414.9 507.8L415.4 508.0L416.0 507.7L416.6 506.9L417.2 505.7L417.8 504.2L418.4 502.5L418.9 500.7L419.5 498.8L420.0 497.0L420.8 493.9L421.5 490.4L422.1 486.6L422.7 482.5L423.3 478.3L423.8 473.9L424.4 469.5L425.0 465.0L425.8 459.3L426.5 453.2L427.3 447.0L428.0 440.5L428.7 434.0L429.5 427.6L430.2 421.2L431.0 415.0L431.7 409.1L432.4 403.1L433.0 397.0L433.7 391.1L434.4 385.3L435.2 379.7L436.0 374.6L437.0 370.0L437.7 367.1L438.4 364.0L439.2 360.9L440.0 358.1L440.8 355.6L441.7 353.6L442.4 352.3L443.2 351.8L443.8 352.1L444.5 353.0L445.1 354.4L445.7 356.1L446.3 358.2L446.9 360.4L447.5 362.7L448.0 365.0L448.9 370.0L449.7 375.9L450.3 382.5L450.9 389.7L451.4 397.2L451.9 404.9L452.4 412.5L453.0 420.0L453.7 428.5L454.3 437.6L454.9 446.9L455.6 456.3L456.2 465.5L456.8 474.4L457.4 482.6L458.0 490.0L458.4 494.5L458.7 498.8L459.0 502.9L459.3 506.8L459.6 510.5L460.0 513.9L460.5 517.1L461.0 520.0L461.4 521.7L461.8 523.5L462.2 525.2L462.6 526.8L463.0 528.3L463.5 529.4L463.9 530.1L464.4 530.4L464.8 530.2L465.3 529.7L465.8 528.8L466.2 527.7L466.7 526.4L467.1 525.0L467.6 523.5L468.0 522.0L468.8 518.4L469.5 514.0L470.2 509.1L470.8 503.7L471.3 498.0L471.9 492.0L472.4 486.0L473.0 480.0L473.8 472.1L474.5 463.6L475.2 454.8L475.9 445.8L476.7 436.6L477.4 427.5L478.2 418.6L479.0 410.0L479.8 402.1L480.5 394.0L481.2 386.0L481.9 378.0L482.8 370.3L483.7 363.0L484.7 356.2L486.0 350.0L487.0 346.0L488.0 341.8L489.2 337.7L490.4 333.8L491.6 330.4L492.7 327.7L493.8 325.9L494.8 325.3L495.6 325.8L496.3 327.2L497.0 329.3L497.7 331.9L498.3 334.9L498.9 338.2L499.5 341.6L500.0 345.0L500.9 352.0L501.7 360.3L502.4 369.4L502.9 379.3L503.4 389.5L503.9 399.9L504.4 410.2L505.0 420.0L505.6 430.1L506.3 440.5L506.9 451.0L507.6 461.6L508.2 471.9L508.8 481.9L509.4 491.3L510.0 500.0L510.4 505.8L510.7 511.4L511.0 516.9L511.4 522.1L511.7 527.1L512.1 531.8L512.5 536.1L513.0 540.0L513.3 542.3L513.6 544.7L514.0 547.1L514.3 549.3L514.7 551.2L515.1 552.8L515.5 553.8L516.0 554.2L516.4 554.0L516.9 553.4L517.4 552.5L518.0 551.3L518.5 549.9L519.0 548.3L519.5 546.7L520.0 545.0L521.0 540.4L521.8 534.7L522.6 528.1L523.3 520.8L524.0 513.2L524.7 505.3L525.3 497.5L526.0 490.0L526.8 481.7L527.5 473.1L528.2 464.4L528.9 455.5L529.6 446.6L530.4 437.7L531.2 428.8L532.0 420.0L532.9 411.1L533.8 402.1L534.8 393.1L535.8 384.0L536.9 375.1L537.9 366.4L538.9 358.0L540.0 350.0L540.9 343.8L541.7 337.6L542.6 331.6L543.5 325.7L544.4 320.1L545.3 314.7L546.2 309.7L547.0 305.0L547.5 302.2L548.1 299.8L548.6 297.6L549.2 295.5L549.7 293.3L550.2 290.9L550.6 288.2L551.0 285.0L551.6 276.2L552.0 265.6L552.1 253.4L552.1 240.2L552.0 226.4L551.9 212.5L551.8 198.9L551.8 186.0M551.8 186.0L551.8 775.0M553.0 775.0L553.2 760.4L553.3 745.5L553.5 730.6L553.7 715.6L553.8 700.9L554.0 686.6L554.2 672.9L554.5 660.0L554.7 650.7L554.9 641.8L555.1 633.3L555.4 625.0L555.6 616.9L555.9 608.7L556.2 600.5L556.6 592.0L557.0 583.1L557.5 574.1L558.0 565.0L558.5 555.9L559.1 546.8L559.7 537.8L560.3 528.8L561.0 520.0L561.7 511.6L562.3 503.1L563.0 494.7L563.8 486.3L564.5 478.1L565.3 470.1L566.2 462.3L567.0 455.0L567.7 449.5L568.4 444.2L569.2 439.0L569.9 434.0L570.7 429.1L571.5 424.4L572.3 419.7L573.0 415.0L573.6 411.1L574.3 407.3L575.0 403.7L575.7 400.1L576.3 396.5L576.9 392.8L577.5 389.0L578.0 385.0L578.5 379.8L579.0 374.3L579.4 368.7L579.7 362.9L580.0 357.1L580.3 351.3L580.6 345.6L581.0 340.0L581.3 334.8L581.6 329.6L581.9 324.4L582.2 319.2L582.5 314.2L582.9 309.3L583.4 304.5L584.0 300.0L584.6 296.6L585.2 293.3L586.0 290.2L586.7 287.2L587.5 284.2L588.3 281.2L589.2 278.1L590.0 275.0L590.9 271.6L591.9 268.2L593.0 264.7L594.0 261.2L595.1 257.7L596.1 254.2L596.9 250.6L597.7 247.0L598.4 243.1L598.9 239.1L599.4 235.1L599.8 231.1L600.1 227.0L600.5 223.0L600.7 218.9L601.0 215.0L601.2 211.3L601.4 207.7L601.5 204.0L601.6 200.4L601.7 196.8L601.8 193.2L601.9 189.6L602.0 186.0M628.7 186.0L628.7 775.0M603.0 775.0L603.5 768.0L603.9 760.9L604.4 753.6L604.8 746.5L605.3 739.4L605.8 732.6L606.3 726.1L607.0 720.0L607.5 715.4L608.0 710.5L608.5 705.6L609.0 700.9L609.6 696.7L610.3 693.3L611.1 691.0L612.0 690.0L612.7 690.1L613.4 690.8L614.2 691.8L615.0 693.1L615.8 694.7L616.6 696.4L617.4 698.2L618.0 700.0L618.9 703.7L619.7 708.1L620.2 713.1L620.6 718.4L621.0 724.0L621.3 729.5L621.6 734.9L622.0 740.0L622.4 744.5L622.8 748.9L623.2 753.3L623.5 757.6L623.9 762.0L624.3 766.3L624.6 770.6L625.0 775.0M630.0 186.0L630.3 192.9L630.6 199.9L630.9 207.0L631.2 214.1L631.5 221.1L631.9 227.8L632.4 234.1L633.0 240.0L633.5 244.3L634.0 249.0L634.6 253.6L635.2 258.0L635.8 261.9L636.5 265.1L637.2 267.2L638.0 268.0L638.7 267.6L639.4 266.2L640.2 264.2L641.0 261.7L641.8 258.8L642.6 255.8L643.3 252.8L644.0 250.0L644.9 246.2L645.7 242.0L646.5 237.6L647.2 233.0L647.9 228.4L648.6 223.8L649.3 219.3L650.0 215.0L650.6 211.2L651.3 207.6L651.9 203.9L652.5 200.3L653.1 196.8L653.8 193.2L654.4 189.6L655.0 186.0M655.0 775.0L655.6 765.4L656.1 755.5L656.5 745.5L657.0 735.5L657.5 725.8L658.2 716.5L659.0 707.8L660.0 700.0L660.8 694.9L661.7 689.5L662.7 684.2L663.7 679.2L664.7 674.8L665.8 671.2L666.9 668.9L668.0 668.0L669.0 668.5L670.0 670.0L671.1 672.3L672.2 675.2L673.2 678.6L674.2 682.4L675.2 686.2L676.0 690.0L677.3 697.9L678.2 707.3L678.9 717.7L679.3 729.0L679.7 740.6L680.1 752.4L680.5 764.0L681.0 775.0M682.0 186.0L682.5 190.3L683.0 194.7L683.4 199.2L683.9 203.6L684.4 207.9L684.9 212.1L685.4 216.2L686.0 220.0L686.4 222.8L686.9 225.4L687.3 227.9L687.8 230.4L688.3 232.8L688.8 235.2L689.4 237.6L690.0 240.0L690.7 242.8L691.6 246.0L692.5 249.3L693.4 252.6L694.4 255.5L695.3 257.9L696.2 259.4L697.0 260.0L697.8 259.3L698.7 257.4L699.5 254.6L700.2 251.1L701.0 247.2L701.7 243.0L702.4 238.9L703.0 235.0L703.8 229.7L704.5 223.9L705.2 217.8L705.7 211.5L706.3 205.1L706.8 198.6L707.4 192.2L708.0 186.0M708.0 775.0L708.7 765.5L709.4 755.9L710.1 746.2L710.7 736.5L711.4 727.0L712.2 717.7L713.1 708.6L714.0 700.0L714.8 693.0L715.6 685.8L716.3 678.7L717.2 671.8L718.1 665.4L719.2 659.4L720.5 654.3L722.0 650.0L722.9 648.1L723.9 646.2L725.0 644.5L726.0 642.9L727.1 641.6L728.2 640.6L729.1 640.1L730.0 640.0L731.3 641.3L732.3 644.4L733.2 648.8L733.9 654.3L734.5 660.5L735.0 667.0L735.5 673.7L736.0 680.0L736.7 689.9L737.2 700.9L737.5 712.6L737.8 725.0L737.9 737.6L738.1 750.3L738.2 762.8L738.5 775.0M738.5 186.0L738.5 775.0M742.0 186.0L742.3 194.1L742.6 202.5L742.9 210.9L743.2 219.2L743.6 227.4L743.9 235.4L744.4 242.9L745.0 250.0L745.5 255.4L746.0 261.1L746.5 266.9L747.1 272.5L747.7 277.4L748.4 281.3L749.2 284.0L750.0 285.0L750.8 284.4L751.6 282.8L752.6 280.2L753.5 277.0L754.5 273.3L755.4 269.5L756.2 265.6L757.0 262.0L757.9 256.9L758.7 251.2L759.4 245.1L760.0 238.9L760.6 232.6L761.1 226.4L761.5 220.5L762.0 215.0L762.3 211.0L762.6 207.3L762.9 203.6L763.1 200.1L763.3 196.6L763.5 193.1L763.8 189.6L764.0 186.0M773.5 711.0L774.2 708.4L774.9 705.7L775.5 703.0L776.2 700.3L776.9 697.7L777.6 695.1L778.3 692.5L779.0 690.0L779.7 687.7L780.4 685.4L781.1 683.1L781.8 680.9L782.5 678.7L783.3 676.7L784.1 674.7L784.9 673.0L785.5 671.9L786.2 670.8L786.9 669.9L787.6 669.0L788.4 668.1L789.1 667.3L789.8 666.4L790.5 665.5M767.8 601.0L768.4 598.4L769.0 595.8L769.6 593.1L770.2 590.4L770.8 587.9L771.4 585.4L772.2 583.1L773.0 581.0L773.7 579.6L774.4 578.1L775.1 576.7L775.9 575.4L776.7 574.2L777.5 573.2L778.3 572.5L779.2 572.0L779.9 571.9L780.6 571.9L781.3 572.1L782.1 572.4L782.8 572.8L783.6 573.2L784.3 573.6L785.0 574.0L785.7 574.5L786.4 575.1L787.2 575.8L787.9 576.5L788.5 577.1L789.2 577.7L789.9 578.0L790.5 578.0L791.2 577.7L791.9 577.0L792.5 576.0L793.1 574.9L793.7 573.6L794.3 572.3L794.9 571.1L795.5 570.0M795.5 570.0L796.5 400.0L797.3 300.0M800.0 688.0L807.6 711.0M811.3 680.7L812.7 678.2L814.0 675.6L815.4 672.9L816.7 670.2L818.1 667.6L819.5 665.3L821.1 663.3L822.7 661.7L824.0 660.8L825.3 660.2L826.8 659.7L828.2 659.3L829.7 659.0L831.1 658.7L832.6 658.4L834.0 658.0M845.4 680.7L856.8 722.3M860.5 669.3L866.2 654.2M875.7 658.0L876.2 660.8L876.7 663.5L877.2 666.2L877.8 669.0L878.3 671.7L878.7 674.6L879.2 677.6L879.5 680.7L879.8 685.0L880.1 689.6L880.2 694.3L880.3 699.3L880.3 704.3L880.4 709.5L880.4 714.7L880.5 720.0L880.6 726.4L880.7 733.1L880.8 739.9L880.9 746.9L881.0 754.0L881.1 761.0L881.2 768.1L881.3 775.0M881.0 186.0L885.0 215.0M891.0 242.0L891.5 240.7L892.0 239.5L892.5 238.2L892.9 236.9L893.4 235.7L893.9 234.4L894.4 233.2L895.0 232.0L895.6 230.8L896.2 229.7L896.8 228.6L897.4 227.5L898.1 226.3L898.7 225.2L899.4 224.1L900.0 223.0M902.0 745.0L906.0 775.0M906.0 669.3L911.6 646.6M932.8 186.0L932.8 775.0M920.0 186.0L920.3 190.3L920.6 194.8L920.9 199.2L921.2 203.7L921.6 208.1L921.9 212.3L922.4 216.3L923.0 220.0L923.5 222.8L924.0 225.7L924.6 228.7L925.2 231.6L925.9 234.1L926.6 236.1L927.3 237.5L928.0 238.0L928.7 237.7L929.5 236.7L930.2 235.2L931.1 233.4L931.9 231.3L932.6 229.1L933.4 227.0L934.0 225.0L934.7 222.7L935.2 220.3L935.8 217.9L936.2 215.3L936.7 212.7L937.1 210.1L937.5 207.5L938.0 205.0M943.8 264.5L951.3 241.7M953.0 745.0L953.4 739.4L953.8 733.8L954.1 728.3L954.5 722.8L954.9 717.2L955.3 711.5L955.6 705.8L956.0 700.0L956.4 693.4L956.7 686.4L957.0 679.2L957.3 672.1L957.7 665.0L958.0 658.2L958.5 651.8L959.0 646.0L959.4 642.3L959.8 638.7L960.3 635.4L960.8 632.1L961.3 629.0L961.8 626.0L962.4 623.0L963.0 620.0L963.6 617.5L964.2 615.1L964.8 612.8L965.4 610.6L966.1 608.3L966.7 606.0L967.4 603.6L968.0 601.0L968.8 597.6L969.6 593.9L970.3 590.1L971.1 586.2L971.9 582.3L972.6 578.4L973.3 574.6L974.0 571.0L974.6 568.0L975.1 565.0L975.6 562.2L976.1 559.3L976.6 556.5L977.0 553.7L977.5 550.9L978.0 548.0M981.6 321.0L982.1 318.2L982.7 315.3L983.2 312.4L983.7 309.5L984.2 306.6L984.8 303.8L985.4 301.1L986.1 298.5L986.7 296.4L987.4 294.2L988.1 292.1L988.9 290.1L989.6 288.2L990.4 286.3L991.2 284.6L992.0 283.0L992.6 282.0L993.2 281.1L993.9 280.3L994.6 279.6L995.2 278.9L995.8 278.0L996.4 277.1L997.0 276.0L997.8 273.8L998.6 271.4L999.3 268.6L999.9 265.7L1000.5 262.6L1001.0 259.4L1001.5 256.2L1002.0 253.0L1002.5 249.2L1002.9 245.2L1003.2 241.1L1003.4 236.9L1003.6 232.6L1003.8 228.4L1004.0 224.2L1004.3 220.0M1004.3 186.0L1004.3 775.0M1008.0 582.0L1008.7 580.5L1009.5 578.9L1010.2 577.3L1010.9 575.7L1011.7 574.2L1012.4 572.7L1013.2 571.3L1014.0 570.0L1014.6 569.0L1015.3 568.2L1016.0 567.3L1016.7 566.5L1017.4 565.8L1018.0 565.0L1018.7 564.2L1019.4 563.4M1034.6 336.0L1042.0 313.6M1082.0 359.0L1082.6 357.5L1083.2 355.9L1083.8 354.3L1084.4 352.7L1085.0 351.1L1085.6 349.7L1086.3 348.3L1087.0 347.0L1087.6 346.1L1088.2 345.3L1088.8 344.5L1089.4 343.8L1090.1 343.1L1090.7 342.4L1091.4 341.7L1092.0 341.0' stroke='#02f6c6' stroke-width='8.33' stroke-dasharray='25 25'/>
<path d='M240.3 322.0L240.6 324.8L241.0 327.6L241.3 330.3L241.7 333.0L242.0 335.8L242.4 338.7L242.7 341.8L243.0 345.0L243.4 349.9L243.8 355.1L244.2 360.7L244.6 366.4L244.9 372.3L245.3 378.2L245.6 384.2L246.0 390.0L246.4 396.1L246.8 402.3L247.1 408.6L247.5 414.8L247.9 421.1L248.3 427.4L248.6 433.7L249.0 440.0L249.4 446.3L249.7 452.8L250.1 459.2L250.4 465.7L250.8 472.1L251.2 478.3L251.6 484.3L252.0 490.0L252.3 494.5L252.6 498.9L252.9 503.2L253.3 507.4L253.6 511.5L254.0 515.3L254.5 518.8L255.0 522.0L255.4 524.0L255.8 526.0L256.2 528.0L256.7 529.9L257.1 531.5L257.6 532.8L258.0 533.7L258.5 534.0L258.9 533.7L259.4 533.0L259.8 531.9L260.3 530.6L260.7 529.0L261.2 527.3L261.6 525.6L262.0 524.0L262.6 521.6L263.1 518.9L263.6 516.1L264.1 513.1L264.6 509.9L265.1 506.7L265.5 503.4L266.0 500.0L266.6 495.5L267.1 490.8L267.6 485.9L268.1 480.9L268.5 475.8L269.0 470.6L269.5 465.3L270.0 460.0L270.6 454.0L271.2 447.7L271.8 441.4L272.4 434.9L273.0 428.5L273.7 422.1L274.3 416.0L275.0 410.0L275.6 404.9L276.1 399.6L276.6 394.5L277.2 389.4L277.8 384.5L278.4 379.9L279.1 375.7L280.0 372.0L280.6 369.8L281.2 367.6L281.9 365.4L282.6 363.4L283.3 361.6L284.0 360.3L284.6 359.3L285.3 359.0L285.9 359.3L286.5 360.0L287.1 361.2L287.7 362.6L288.3 364.3L288.9 366.2L289.5 368.1L290.0 370.0L290.9 373.8L291.6 378.1L292.2 383.0L292.8 388.2L293.4 393.7L293.9 399.2L294.4 404.7L295.0 410.0L295.6 415.5L296.3 421.2L296.9 426.9L297.5 432.6L298.1 438.3L298.7 444.0L299.4 449.6L300.0 455.0L300.6 459.9L301.1 465.0L301.7 470.0L302.3 475.0L302.9 479.8L303.5 484.2L304.2 488.4L305.0 492.0L305.5 494.1L306.0 496.2L306.5 498.3L307.1 500.2L307.6 501.9L308.2 503.3L308.8 504.2L309.4 504.5L310.0 504.3L310.5 503.6L311.1 502.6L311.7 501.3L312.3 499.9L312.9 498.3L313.5 496.6L314.0 495.0L314.8 492.1L315.5 488.9L316.1 485.3L316.7 481.5L317.3 477.5L317.8 473.3L318.4 469.2L319.0 465.0L319.8 459.8L320.5 454.3L321.2 448.5L322.0 442.7L322.7 436.9L323.4 431.1L324.2 425.4L325.0 420.0L325.7 415.3L326.3 410.4L327.0 405.6L327.6 400.8L328.3 396.3L329.1 392.1L330.0 388.3L331.0 385.0L331.7 383.3L332.4 381.5L333.1 379.8L333.9 378.3L334.7 377.0L335.5 375.9L336.2 375.2L337.0 375.0L337.8 375.2L338.5 375.9L339.3 377.0L340.1 378.3L340.9 379.9L341.6 381.6L342.3 383.3L343.0 385.0L344.0 387.9L344.8 391.2L345.6 394.8L346.3 398.7L347.0 402.7L347.7 406.8L348.3 410.9L349.0 415.0L349.8 419.7L350.6 424.6L351.3 429.5L352.1 434.6L352.8 439.7L353.6 444.8L354.3 449.9L355.0 455.0L355.7 460.2L356.4 465.4L357.1 470.7L357.8 475.9L358.5 481.2L359.1 486.5L359.8 491.7L360.5 497.0M361.0 186.0L361.0 775.0M361.5 600.0L362.0 598.1L362.5 596.0L362.9 594.0L363.3 591.9L363.8 589.9L364.4 588.1L365.1 586.4L366.0 585.0L366.8 584.0L367.7 583.1L368.7 582.2L369.8 581.4L370.9 580.8L372.0 580.3L373.0 580.0L374.0 580.0L375.1 580.3L376.1 580.9L377.2 581.8L378.3 582.9L379.3 584.2L380.2 585.5L381.2 586.8L382.0 588.0L382.8 589.3L383.6 590.6L384.3 591.9L384.9 593.3L385.5 594.8L386.0 596.4L386.5 598.1L387.0 600.0L387.7 603.8L388.1 608.3L388.3 613.2L388.5 618.5L388.5 623.9L388.6 629.4L388.6 634.8L388.8 640.0M388.8 640.0L388.8 761.0M388.8 186.0L388.8 560.0M390.0 352.0L390.4 353.6L390.7 355.2L391.1 356.8L391.5 358.3L391.9 359.9L392.2 361.6L392.6 363.2L393.0 365.0L393.5 367.2L394.0 369.5L394.5 371.8L395.0 374.2L395.5 376.7L396.0 379.3L396.5 382.1L397.0 385.0L397.7 389.8L398.3 395.0L399.0 400.5L399.6 406.4L400.2 412.3L400.8 418.3L401.4 424.3L402.0 430.0L402.6 435.7L403.2 441.6L403.9 447.5L404.5 453.3L405.1 459.1L405.7 464.7L406.4 470.0L407.0 475.0L407.5 478.6L407.9 482.1L408.3 485.6L408.7 488.9L409.2 492.0L409.7 494.9L410.3 497.6L411.0 500.0L411.5 501.4L412.0 502.8L412.6 504.1L413.1 505.4L413.7 506.4L414.3 507.3L414.9 507.8L415.4 508.0L416.0 507.7L416.6 506.9L417.2 505.7L417.8 504.2L418.4 502.5L418.9 500.7L419.5 498.8L420.0 497.0L420.8 493.9L421.5 490.4L422.1 486.6L422.7 482.5L423.3 478.3L423.8 473.9L424.4 469.5L425.0 465.0L425.8 459.3L426.5 453.2L427.3 447.0L428.0 440.5L428.7 434.0L429.5 427.6L430.2 421.2L431.0 415.0L431.7 409.1L432.4 403.1L433.0 397.0L433.7 391.1L434.4 385.3L435.2 379.7L436.0 374.6L437.0 370.0L437.7 367.1L438.4 364.0L439.2 360.9L440.0 358.1L440.8 355.6L441.7 353.6L442.4 352.3L443.2 351.8L443.8 352.1L444.5 353.0L445.1 354.4L445.7 356.1L446.3 358.2L446.9 360.4L447.5 362.7L448.0 365.0L448.9 370.0L449.7 375.9L450.3 382.5L450.9 389.7L451.4 397.2L451.9 404.9L452.4 412.5L453.0 420.0L453.7 428.5L454.3 437.6L454.9 446.9L455.6 456.3L456.2 465.5L456.8 474.4L457.4 482.6L458.0 490.0L458.4 494.5L458.7 498.8L459.0 502.9L459.3 506.8L459.6 510.5L460.0 513.9L460.5 517.1L461.0 520.0L461.4 521.7L461.8 523.5L462.2 525.2L462.6 526.8L463.0 528.3L463.5 529.4L463.9 530.1L464.4 530.4L464.8 530.2L465.3 529.7L465.8 528.8L466.2 527.7L466.7 526.4L467.1 525.0L467.6 523.5L468.0 522.0L468.8 518.4L469.5 514.0L470.2 509.1L470.8 503.7L471.3 498.0L471.9 492.0L472.4 486.0L473.0 480.0L473.8 472.1L474.5 463.6L475.2 454.8L475.9 445.8L476.7 436.6L477.4 427.5L478.2 418.6L479.0 410.0L479.8 402.1L480.5 394.0L481.2 386.0L481.9 378.0L482.8 370.3L483.7 363.0L484.7 356.2L486.0 350.0L487.0 346.0L488.0 341.8L489.2 337.7L490.4 333.8L491.6 330.4L492.7 327.7L493.8 325.9L494.8 325.3L495.6 325.8L496.3 327.2L497.0 329.3L497.7 331.9L498.3 334.9L498.9 338.2L499.5 341.6L500.0 345.0L500.9 352.0L501.7 360.3L502.4 369.4L502.9 379.3L503.4 389.5L503.9 399.9L504.4 410.2L505.0 420.0L505.6 430.1L506.3 440.5L506.9 451.0L507.6 461.6L508.2 471.9L508.8 481.9L509.4 491.3L510.0 500.0L510.4 505.8L510.7 511.4L511.0 516.9L511.4 522.1L511.7 527.1L512.1 531.8L512.5 536.1L513.0 540.0L513.3 542.3L513.6 544.7L514.0 547.1L514.3 549.3L514.7 551.2L515.1 552.8L515.5 553.8L516.0 554.2L516.4 554.0L516.9 553.4L517.4 552.5L518.0 551.3L518.5 549.9L519.0 548.3L519.5 546.7L520.0 545.0L521.0 540.4L521.8 534.7L522.6 528.1L523.3 520.8L524.0 513.2L524.7 505.3L525.3 497.5L526.0 490.0L526.8 481.7L527.5 473.1L528.2 464.4L528.9 455.5L529.6 446.6L530.4 437.7L531.2 428.8L532.0 420.0L532.9 411.1L533.8 402.1L534.8 393.1L535.8 384.0L536.9 375.1L537.9 366.4L538.9 358.0L540.0 350.0L540.9 343.8L541.7 337.6L542.6 331.6L543.5 325.7L544.4 320.1L545.3 314.7L546.2 309.7L547.0 305.0L547.5 302.2L548.1 299.8L548.6 297.6L549.2 295.5L549.7 293.3L550.2 290.9L550.6 288.2L551.0 285.0L551.6 276.2L552.0 265.6L552.1 253.4L552.1 240.2L552.0 226.4L551.9 212.5L551.8 198.9L551.8 186.0M551.8 186.0L551.8 775.0M553.0 775.0L553.2 760.4L553.3 745.5L553.5 730.6L553.7 715.6L553.8 700.9L554.0 686.6L554.2 672.9L554.5 660.0L554.7 650.7L554.9 641.8L555.1 633.3L555.4 625.0L555.6 616.9L555.9 608.7L556.2 600.5L556.6 592.0L557.0 583.1L557.5 574.1L558.0 565.0L558.5 555.9L559.1 546.8L559.7 537.8L560.3 528.8L561.0 520.0L561.7 511.6L562.3 503.1L563.0 494.7L563.8 486.3L564.5 478.1L565.3 470.1L566.2 462.3L567.0 455.0L567.7 449.5L568.4 444.2L569.2 439.0L569.9 434.0L570.7 429.1L571.5 424.4L572.3 419.7L573.0 415.0L573.6 411.1L574.3 407.3L575.0 403.7L575.7 400.1L576.3 396.5L576.9 392.8L577.5 389.0L578.0 385.0L578.5 379.8L579.0 374.3L579.4 368.7L579.7 362.9L580.0 357.1L580.3 351.3L580.6 345.6L581.0 340.0L581.3 334.8L581.6 329.6L581.9 324.4L582.2 319.2L582.5 314.2L582.9 309.3L583.4 304.5L584.0 300.0L584.6 296.6L585.2 293.3L586.0 290.2L586.7 287.2L587.5 284.2L588.3 281.2L589.2 278.1L590.0 275.0L590.9 271.6L591.9 268.2L593.0 264.7L594.0 261.2L595.1 257.7L596.1 254.2L596.9 250.6L597.7 247.0L598.4 243.1L598.9 239.1L599.4 235.1L599.8 231.1L600.1 227.0L600.5 223.0L600.7 218.9L601.0 215.0L601.2 211.3L601.4 207.7L601.5 204.0L601.6 200.4L601.7 196.8L601.8 193.2L601.9 189.6L602.0 186.0M628.7 186.0L628.7 775.0M603.0 775.0L603.5 768.0L603.9 760.9L604.4 753.6L604.8 746.5L605.3 739.4L605.8 732.6L606.3 726.1L607.0 720.0L607.5 715.4L608.0 710.5L608.5 705.6L609.0 700.9L609.6 696.7L610.3 693.3L611.1 691.0L612.0 690.0L612.7 690.1L613.4 690.8L614.2 691.8L615.0 693.1L615.8 694.7L616.6 696.4L617.4 698.2L618.0 700.0L618.9 703.7L619.7 708.1L620.2 713.1L620.6 718.4L621.0 724.0L621.3 729.5L621.6 734.9L622.0 740.0L622.4 744.5L622.8 748.9L623.2 753.3L623.5 757.6L623.9 762.0L624.3 766.3L624.6 770.6L625.0 775.0M630.0 186.0L630.3 192.9L630.6 199.9L630.9 207.0L631.2 214.1L631.5 221.1L631.9 227.8L632.4 234.1L633.0 240.0L633.5 244.3L634.0 249.0L634.6 253.6L635.2 258.0L635.8 261.9L636.5 265.1L637.2 267.2L638.0 268.0L638.7 267.6L639.4 266.2L640.2 264.2L641.0 261.7L641.8 258.8L642.6 255.8L643.3 252.8L644.0 250.0L644.9 246.2L645.7 242.0L646.5 237.6L647.2 233.0L647.9 228.4L648.6 223.8L649.3 219.3L650.0 215.0L650.6 211.2L651.3 207.6L651.9 203.9L652.5 200.3L653.1 196.8L653.8 193.2L654.4 189.6L655.0 186.0M655.0 775.0L655.6 765.4L656.1 755.5L656.5 745.5L657.0 735.5L657.5 725.8L658.2 716.5L659.0 707.8L660.0 700.0L660.8 694.9L661.7 689.5L662.7 684.2L663.7 679.2L664.7 674.8L665.8 671.2L666.9 668.9L668.0 668.0L669.0 668.5L670.0 670.0L671.1 672.3L672.2 675.2L673.2 678.6L674.2 682.4L675.2 686.2L676.0 690.0L677.3 697.9L678.2 707.3L678.9 717.7L679.3 729.0L679.7 740.6L680.1 752.4L680.5 764.0L681.0 775.0M682.0 186.0L682.5 190.3L683.0 194.7L683.4 199.2L683.9 203.6L684.4 207.9L684.9 212.1L685.4 216.2L686.0 220.0L686.4 222.8L686.9 225.4L687.3 227.9L687.8 230.4L688.3 232.8L688.8 235.2L689.4 237.6L690.0 240.0L690.7 242.8L691.6 246.0L692.5 249.3L693.4 252.6L694.4 255.5L695.3 257.9L696.2 259.4L697.0 260.0L697.8 259.3L698.7 257.4L699.5 254.6L700.2 251.1L701.0 247.2L701.7 243.0L702.4 238.9L703.0 235.0L703.8 229.7L704.5 223.9L705.2 217.8L705.7 211.5L706.3 205.1L706.8 198.6L707.4 192.2L708.0 186.0M708.0 775.0L708.7 765.5L709.4 755.9L710.1 746.2L710.7 736.5L711.4 727.0L712.2 717.7L713.1 708.6L714.0 700.0L714.8 693.0L715.6 685.8L716.3 678.7L717.2 671.8L718.1 665.4L719.2 659.4L720.5 654.3L722.0 650.0L722.9 648.1L723.9 646.2L725.0 644.5L726.0 642.9L727.1 641.6L728.2 640.6L729.1 640.1L730.0 640.0L731.3 641.3L732.3 644.4L733.2 648.8L733.9 654.3L734.5 660.5L735.0 667.0L735.5 673.7L736.0 680.0L736.7 689.9L737.2 700.9L737.5 712.6L737.8 725.0L737.9 737.6L738.1 750.3L738.2 762.8L738.5 775.0M738.5 186.0L738.5 775.0M742.0 186.0L742.3 194.1L742.6 202.5L742.9 210.9L743.2 219.2L743.6 227.4L743.9 235.4L744.4 242.9L745.0 250.0L745.5 255.4L746.0 261.1L746.5 266.9L747.1 272.5L747.7 277.4L748.4 281.3L749.2 284.0L750.0 285.0L750.8 284.4L751.6 282.8L752.6 280.2L753.5 277.0L754.5 273.3L755.4 269.5L756.2 265.6L757.0 262.0L757.9 256.9L758.7 251.2L759.4 245.1L760.0 238.9L760.6 232.6L761.1 226.4L761.5 220.5L762.0 215.0L762.3 211.0L762.6 207.3L762.9 203.6L763.1 200.1L763.3 196.6L763.5 193.1L763.8 189.6L764.0 186.0M773.5 711.0L774.2 708.4L774.9 705.7L775.5 703.0L776.2 700.3L776.9 697.7L777.6 695.1L778.3 692.5L779.0 690.0L779.7 687.7L780.4 685.4L781.1 683.1L781.8 680.9L782.5 678.7L783.3 676.7L784.1 674.7L784.9 673.0L785.5 671.9L786.2 670.8L786.9 669.9L787.6 669.0L788.4 668.1L789.1 667.3L789.8 666.4L790.5 665.5M767.8 601.0L768.4 598.4L769.0 595.8L769.6 593.1L770.2 590.4L770.8 587.9L771.4 585.4L772.2 583.1L773.0 581.0L773.7 579.6L774.4 578.1L775.1 576.7L775.9 575.4L776.7 574.2L777.5 573.2L778.3 572.5L779.2 572.0L779.9 571.9L780.6 571.9L781.3 572.1L782.1 572.4L782.8 572.8L783.6 573.2L784.3 573.6L785.0 574.0L785.7 574.5L786.4 575.1L787.2 575.8L787.9 576.5L788.5 577.1L789.2 577.7L789.9 578.0L790.5 578.0L791.2 577.7L791.9 577.0L792.5 576.0L793.1 574.9L793.7 573.6L794.3 572.3L794.9 571.1L795.5 570.0M795.5 570.0L796.5 400.0L797.3 300.0M800.0 688.0L807.6 711.0M811.3 680.7L812.7 678.2L814.0 675.6L815.4 672.9L816.7 670.2L818.1 667.6L819.5 665.3L821.1 663.3L822.7 661.7L824.0 660.8L825.3 660.2L826.8 659.7L828.2 659.3L829.7 659.0L831.1 658.7L832.6 658.4L834.0 658.0M845.4 680.7L856.8 722.3M860.5 669.3L866.2 654.2M875.7 658.0L876.2 660.8L876.7 663.5L877.2 666.2L877.8 669.0L878.3 671.7L878.7 674.6L879.2 677.6L879.5 680.7L879.8 685.0L880.1 689.6L880.2 694.3L880.3 699.3L880.3 704.3L880.4 709.5L880.4 714.7L880.5 720.0L880.6 726.4L880.7 733.1L880.8 739.9L880.9 746.9L881.0 754.0L881.1 761.0L881.2 768.1L881.3 775.0M881.0 186.0L885.0 215.0M891.0 242.0L891.5 240.7L892.0 239.5L892.5 238.2L892.9 236.9L893.4 235.7L893.9 234.4L894.4 233.2L895.0 232.0L895.6 230.8L896.2 229.7L896.8 228.6L897.4 227.5L898.1 226.3L898.7 225.2L899.4 224.1L900.0 223.0M902.0 745.0L906.0 775.0M906.0 669.3L911.6 646.6M932.8 186.0L932.8 775.0M920.0 186.0L920.3 190.3L920.6 194.8L920.9 199.2L921.2 203.7L921.6 208.1L921.9 212.3L922.4 216.3L923.0 220.0L923.5 222.8L924.0 225.7L924.6 228.7L925.2 231.6L925.9 234.1L926.6 236.1L927.3 237.5L928.0 238.0L928.7 237.7L929.5 236.7L930.2 235.2L931.1 233.4L931.9 231.3L932.6 229.1L933.4 227.0L934.0 225.0L934.7 222.7L935.2 220.3L935.8 217.9L936.2 215.3L936.7 212.7L937.1 210.1L937.5 207.5L938.0 205.0M943.8 264.5L951.3 241.7M953.0 745.0L953.4 739.4L953.8 733.8L954.1 728.3L954.5 722.8L954.9 717.2L955.3 711.5L955.6 705.8L956.0 700.0L956.4 693.4L956.7 686.4L957.0 679.2L957.3 672.1L957.7 665.0L958.0 658.2L958.5 651.8L959.0 646.0L959.4 642.3L959.8 638.7L960.3 635.4L960.8 632.1L961.3 629.0L961.8 626.0L962.4 623.0L963.0 620.0L963.6 617.5L964.2 615.1L964.8 612.8L965.4 610.6L966.1 608.3L966.7 606.0L967.4 603.6L968.0 601.0L968.8 597.6L969.6 593.9L970.3 590.1L971.1 586.2L971.9 582.3L972.6 578.4L973.3 574.6L974.0 571.0L974.6 568.0L975.1 565.0L975.6 562.2L976.1 559.3L976.6 556.5L977.0 553.7L977.5 550.9L978.0 548.0M981.6 321.0L982.1 318.2L982.7 315.3L983.2 312.4L983.7 309.5L984.2 306.6L984.8 303.8L985.4 301.1L986.1 298.5L986.7 296.4L987.4 294.2L988.1 292.1L988.9 290.1L989.6 288.2L990.4 286.3L991.2 284.6L992.0 283.0L992.6 282.0L993.2 281.1L993.9 280.3L994.6 279.6L995.2 278.9L995.8 278.0L996.4 277.1L997.0 276.0L997.8 273.8L998.6 271.4L999.3 268.6L999.9 265.7L1000.5 262.6L1001.0 259.4L1001.5 256.2L1002.0 253.0L1002.5 249.2L1002.9 245.2L1003.2 241.1L1003.4 236.9L1003.6 232.6L1003.8 228.4L1004.0 224.2L1004.3 220.0M1004.3 186.0L1004.3 775.0M1008.0 582.0L1008.7 580.5L1009.5 578.9L1010.2 577.3L1010.9 575.7L1011.7 574.2L1012.4 572.7L1013.2 571.3L1014.0 570.0L1014.6 569.0L1015.3 568.2L1016.0 567.3L1016.7 566.5L1017.4 565.8L1018.0 565.0L1018.7 564.2L1019.4 563.4M1034.6 336.0L1042.0 313.6M1082.0 359.0L1082.6 357.5L1083.2 355.9L1083.8 354.3L1084.4 352.7L1085.0 351.1L1085.6 349.7L1086.3 348.3L1087.0 347.0L1087.6 346.1L1088.2 345.3L1088.8 344.5L1089.4 343.8L1090.1 343.1L1090.7 342.4L1091.4 341.7L1092.0 341.0' stroke='#000' stroke-width='2.78' stroke-dasharray='25 25'/>
<path d='M239.5 599.3L240.0 600.2L240.5 601.1L241.0 601.9L241.5 602.8L242.0 603.7L242.5 604.6L242.9 605.7L243.3 606.9L243.9 609.2L244.4 611.8L244.8 614.7L245.2 617.8L245.5 621.0L245.8 624.4L246.1 627.9L246.4 631.5L246.7 636.4L247.1 641.7L247.4 647.2L247.6 653.0L247.9 658.9L248.1 664.8L248.4 670.9L248.6 676.9L248.9 683.7L249.2 690.8L249.5 698.1L249.8 705.4L250.1 712.7L250.4 719.9L250.6 726.9L250.9 733.6L251.1 739.1L251.3 744.5L251.5 749.7L251.7 754.8L251.9 759.9L252.0 765.0L252.2 770.1L252.4 775.2M248.6 185.0L249.0 188.8L249.4 192.7L249.8 196.7L250.2 200.6L250.6 204.4L251.1 208.2L251.5 211.8L252.0 215.3L252.4 217.9L252.8 220.5L253.2 223.0L253.7 225.5L254.1 227.8L254.6 230.1L255.2 232.2L255.8 234.2L256.3 235.7L256.9 237.3L257.5 238.9L258.2 240.4L258.8 241.7L259.5 242.7L260.1 243.4L260.7 243.6L261.3 243.4L261.9 242.7L262.5 241.6L263.1 240.3L263.7 238.8L264.2 237.3L264.8 235.7L265.3 234.2L265.9 232.2L266.6 230.1L267.2 227.8L267.8 225.5L268.3 223.0L268.9 220.5L269.3 217.9L269.8 215.3L270.3 211.8L270.8 208.2L271.2 204.5L271.5 200.6L271.8 196.7L272.1 192.7L272.5 188.8L272.8 185.0M272.8 775.2L273.5 767.6L274.2 759.8L274.9 751.9L275.6 744.1L276.3 736.4L277.0 728.8L277.7 721.6L278.5 714.7L279.2 709.5L279.8 704.5L280.5 699.6L281.1 694.9L281.8 690.2L282.6 685.7L283.4 681.3L284.2 676.9L284.9 673.0L285.6 669.0L286.4 665.1L287.2 661.2L288.0 657.5L288.9 654.1L289.9 651.1L291.0 648.5L291.7 647.1L292.5 645.8L293.3 644.5L294.1 643.3L295.0 642.3L295.8 641.6L296.6 641.1L297.4 640.9L298.2 641.1L298.9 641.6L299.7 642.4L300.4 643.3L301.1 644.5L301.8 645.7L302.5 647.1L303.1 648.5L304.2 651.6L305.1 655.4L305.9 659.7L306.5 664.4L307.1 669.4L307.7 674.5L308.2 679.5L308.8 684.4L309.4 689.8L309.9 695.4L310.4 701.1L310.9 706.8L311.3 712.6L311.8 718.4L312.2 724.1L312.6 729.8L312.9 735.5L313.3 741.2L313.6 746.9L314.0 752.5L314.3 758.2L314.6 763.9L314.9 769.6L315.2 775.2M310.7 185.0L311.1 189.3L311.6 193.7L312.0 198.1L312.5 202.6L313.0 206.9L313.4 211.1L313.9 215.2L314.5 219.1L314.9 222.0L315.3 224.9L315.8 227.7L316.2 230.4L316.7 233.1L317.2 235.5L317.7 237.8L318.2 239.9L318.6 241.1L318.9 242.4L319.3 243.6L319.6 244.8L320.0 245.8L320.4 246.7L320.8 247.2L321.3 247.4L321.8 247.3L322.3 246.8L322.9 245.9L323.5 244.9L324.2 243.7L324.8 242.4L325.3 241.1L325.8 239.9L326.5 237.8L327.0 235.6L327.5 233.1L328.0 230.5L328.4 227.7L328.7 224.9L329.2 222.0L329.6 219.1L330.2 215.2L330.7 211.1L331.3 206.9L331.9 202.6L332.4 198.1L333.0 193.7L333.6 189.3L334.1 185.0M331.5 775.2L331.9 766.6L332.4 758.0L332.9 749.2L333.3 740.5L333.8 731.9L334.3 723.4L334.8 715.1L335.3 707.1L335.7 700.5L336.2 694.1L336.6 687.7L337.1 681.5L337.5 675.4L338.0 669.4L338.5 663.6L339.0 657.9L339.5 653.3L339.9 648.8L340.3 644.4L340.7 640.1L341.1 635.9L341.6 631.8L342.2 627.8L342.8 623.9L343.4 620.8L344.0 617.7L344.7 614.7L345.3 611.8L346.0 609.0L346.8 606.3L347.6 603.7L348.5 601.2L349.3 599.3L350.2 597.6L351.1 595.9L352.0 594.3L352.9 592.7L353.8 591.1L354.6 589.6L355.3 588.0L355.8 586.6L356.3 585.2L356.7 583.9L357.1 582.6L357.5 581.2L357.8 579.8L358.1 578.3L358.3 576.6L358.7 573.8L359.0 570.7L359.2 567.4L359.4 563.9L359.5 560.2L359.6 556.4L359.7 552.4L359.9 548.2L360.0 541.7L360.2 534.7L360.3 527.2L360.3 519.4L360.4 511.4L360.5 503.4L360.5 495.4L360.6 487.7M360.6 487.7L361.4 374.2L362.1 304.2M362.1 304.2L362.5 303.4L362.9 302.6L363.2 301.7L363.6 300.9L364.0 300.1L364.4 299.3L364.9 298.5L365.5 297.8L366.4 296.8L367.5 295.9L368.7 295.0L369.9 294.1L371.2 293.3L372.5 292.5L373.8 291.7L375.0 290.9L376.1 290.2L377.2 289.5L378.3 288.7L379.4 287.9L380.5 287.3L381.6 286.8L382.5 286.5L383.3 286.4L383.8 286.5L384.2 286.6L384.6 286.8L385.0 287.1L385.4 287.5L385.7 287.9L386.0 288.4L386.3 289.0L387.2 292.1L387.6 296.7L387.8 302.5L387.8 309.0L387.7 316.0L387.5 323.1L387.4 330.0L387.5 336.3M387.5 336.3L387.9 449.9L388.2 570.9M388.2 570.9L388.6 570.6L388.9 570.2L389.2 569.9L389.5 569.5L389.9 569.2L390.2 568.8L390.5 568.4L390.9 567.9L391.5 567.1L392.1 566.2L392.7 565.3L393.3 564.2L394.0 563.1L394.6 562.0L395.2 560.8L395.8 559.6L396.6 557.8L397.3 555.9L398.1 553.9L398.8 551.8L399.5 549.6L400.2 547.3L400.9 544.9L401.5 542.5L402.2 539.4L402.9 536.1L403.5 532.6L404.0 529.0L404.6 525.3L405.1 521.6L405.6 517.9L406.0 514.2L406.5 510.1L406.9 506.1L407.3 502.0L407.7 497.8L408.0 493.6L408.4 489.2L408.7 484.8L409.0 480.1L409.5 474.1L409.8 467.7L410.2 461.1L410.6 454.4L410.9 447.5L411.3 440.7L411.7 433.8L412.1 427.1L412.5 420.4L412.9 413.5L413.4 406.5L413.8 399.5L414.3 392.7L414.8 386.1L415.3 379.9L415.9 374.2L416.2 370.3L416.6 366.6L417.0 362.9L417.3 359.5L417.8 356.2L418.3 353.1L418.9 350.3L419.6 347.7L420.2 346.1L420.8 344.5L421.5 342.9L422.2 341.4L422.9 340.1L423.6 339.1L424.3 338.5L424.9 338.2L425.6 338.4L426.2 339.0L426.9 339.9L427.5 341.1L428.2 342.4L428.8 343.9L429.3 345.4L429.9 346.9L430.6 349.8L431.3 353.1L431.8 356.7L432.2 360.7L432.6 364.8L432.9 369.2L433.2 373.5L433.6 378.0L434.2 383.9L434.7 390.3L435.1 396.9L435.6 403.7L436.0 410.6L436.5 417.5L437.0 424.3L437.4 430.9L437.9 437.3L438.3 443.7L438.8 450.2L439.2 456.6L439.7 462.9L440.1 469.0L440.7 474.7L441.2 480.1L441.6 483.8L442.0 487.5L442.3 491.1L442.7 494.5L443.2 497.7L443.7 500.7L444.3 503.5L445.0 505.8L445.5 507.2L446.0 508.5L446.6 509.8L447.2 511.0L447.8 512.0L448.4 512.8L449.0 513.3L449.5 513.4L450.2 513.0L450.9 512.1L451.5 510.7L452.2 509.0L452.8 507.1L453.4 505.0L453.9 502.9L454.4 500.9L455.1 498.0L455.7 494.8L456.1 491.4L456.5 487.9L456.9 484.2L457.3 480.4L457.8 476.5L458.2 472.6L458.9 467.5L459.5 462.2L460.2 456.6L460.9 450.9L461.7 445.2L462.4 439.6L463.1 434.2L463.9 429.0L464.6 424.8L465.2 420.5L465.8 416.2L466.5 412.1L467.2 408.1L467.9 404.3L468.7 400.8L469.6 397.6L470.2 395.6L470.8 393.6L471.5 391.7L472.1 389.8L472.8 388.2L473.6 386.8L474.4 385.6L475.3 384.8L475.8 384.4L476.4 384.2L477.1 384.0L477.7 383.9L478.4 383.9L479.0 383.9L479.6 384.1L480.2 384.4L481.0 385.1L481.8 386.2L482.5 387.6L483.1 389.2L483.7 391.0L484.3 392.9L484.9 394.9L485.5 396.9L486.3 400.0L487.0 403.5L487.7 407.2L488.3 411.2L488.9 415.2L489.5 419.3L490.1 423.3L490.8 427.1L491.4 431.0L492.1 434.8L492.7 438.7L493.3 442.5L494.0 446.4L494.7 450.1L495.3 453.8L496.1 457.4L496.7 460.6L497.4 463.9L498.0 467.1L498.7 470.3L499.4 473.3L500.2 476.1L500.9 478.7L501.7 480.9L502.2 482.1L502.7 483.2L503.2 484.4L503.8 485.5L504.3 486.4L504.8 487.1L505.4 487.5L505.9 487.7L506.6 487.4L507.2 486.6L507.9 485.4L508.6 483.9L509.3 482.3L509.9 480.5L510.6 478.7L511.2 477.1L512.0 475.0L512.7 472.7L513.5 470.4L514.2 467.9L514.9 465.4L515.6 462.8L516.2 460.1L516.9 457.4L517.7 454.0L518.4 450.3L519.1 446.5L519.8 442.7L520.5 438.8L521.2 434.8L521.8 431.0L522.6 427.1L523.2 423.4L523.9 419.5L524.6 415.6L525.2 411.8L525.9 408.0L526.7 404.3L527.4 400.9L528.2 397.6L528.9 395.3L529.5 393.0L530.1 390.7L530.8 388.5L531.5 386.5L532.2 384.6L533.0 383.0L533.9 381.7L534.5 381.1L535.1 380.5L535.7 379.9L536.3 379.4L537.0 379.1L537.6 378.8L538.2 378.7L538.8 378.7L539.5 379.0L540.2 379.6L540.9 380.4L541.5 381.4L542.1 382.5L542.7 383.7L543.2 385.0L543.7 386.3L544.5 388.7L545.1 391.4L545.6 394.4L546.0 397.7L546.4 401.1L546.8 404.7L547.1 408.3L547.5 412.0L548.1 417.1L548.6 422.6L549.0 428.3L549.5 434.2L549.9 440.1L550.4 446.1L550.8 451.9L551.3 457.4L551.8 462.4L552.2 467.4L552.6 472.4L553.1 477.4L553.5 482.2L554.0 486.8L554.5 491.2L555.1 495.3L555.5 498.0L555.9 500.7L556.3 503.3L556.7 505.8L557.1 508.1L557.6 510.3L558.2 512.3L558.9 514.2L559.4 515.3L559.9 516.5L560.5 517.7L561.1 518.7L561.7 519.6L562.3 520.4L562.8 520.8L563.4 521.0L564.0 520.8L564.6 520.3L565.2 519.5L565.8 518.5L566.4 517.3L566.9 516.0L567.5 514.7L568.0 513.4L568.7 511.0L569.3 508.3L569.8 505.4L570.2 502.1L570.6 498.7L571.0 495.2L571.3 491.5L571.7 487.7L572.3 482.0L572.8 475.8L573.3 469.2L573.7 462.4L574.2 455.4L574.6 448.4L575.1 441.5L575.5 434.7L576.0 428.0L576.5 421.3L576.9 414.5L577.4 407.7L577.8 401.0L578.3 394.4L578.8 387.9L579.3 381.7L579.7 376.6L580.1 371.6L580.5 366.7L580.9 361.8L581.4 357.1L581.9 352.5L582.4 348.1L583.1 343.9L583.7 340.7L584.3 337.7L585.0 334.7L585.7 331.8L586.4 329.0L587.2 326.4L588.0 323.7L588.8 321.2L589.4 319.2L590.1 317.3L590.8 315.4L591.5 313.5L592.3 311.8L593.0 310.0L593.7 308.4L594.4 306.8L595.0 305.7L595.6 304.6L596.1 303.5L596.7 302.5L597.3 301.5L597.8 300.5L598.4 299.5L599.0 298.5M599.0 298.5L600.5 241.8L601.6 412.0L602.0 716.6L603.1 639.0L604.3 605.0M604.3 605.0L604.7 603.4L605.0 601.8L605.4 600.2L605.7 598.5L606.1 596.9L606.5 595.4L607.0 594.1L607.7 592.9L608.3 592.0L608.9 591.3L609.6 590.6L610.3 590.0L611.1 589.4L611.8 588.9L612.6 588.4L613.4 588.0L614.0 587.6L614.8 587.2L615.5 586.8L616.2 586.5L617.0 586.2L617.7 586.1L618.4 586.0L619.0 586.1L619.7 586.3L620.4 586.6L621.1 587.1L621.7 587.7L622.3 588.4L622.9 589.1L623.5 589.8L624.0 590.6L624.5 591.6L624.9 592.6L625.3 593.7L625.6 594.9L625.9 596.3L626.1 597.7L626.4 599.4L626.6 601.2L627.2 607.3L627.5 615.0L627.7 624.1L627.7 634.1L627.7 644.7L627.7 655.6L627.7 666.5L627.7 676.9L627.9 688.5L628.0 700.6L628.1 712.8L628.1 725.2L628.2 737.8L628.3 750.3L628.4 762.9L628.5 775.2M628.5 185.0L628.7 191.3L628.8 197.9L628.9 204.6L629.1 211.2L629.2 217.6L629.4 223.7L629.7 229.3L630.0 234.2L630.2 236.8L630.4 239.2L630.6 241.5L630.8 243.7L631.1 245.8L631.4 247.7L631.8 249.5L632.3 251.2L632.7 252.4L633.1 253.7L633.5 254.9L633.9 256.0L634.4 257.1L634.9 257.9L635.5 258.5L636.1 258.8L636.6 258.8L637.1 258.6L637.7 258.2L638.3 257.7L638.9 257.1L639.5 256.4L640.1 255.7L640.6 255.0L641.3 253.8L642.0 252.4L642.6 250.8L643.2 249.1L643.8 247.3L644.4 245.5L644.9 243.6L645.5 241.8L646.2 239.6L647.0 237.3L647.7 234.9L648.4 232.5L649.2 230.1L649.9 227.7L650.5 225.2L651.2 222.8L651.8 220.5L652.4 218.1L653.0 215.8L653.6 213.4L654.2 211.0L654.7 208.7L655.2 206.3L655.7 203.9L656.2 201.6L656.6 199.2L657.0 196.8L657.3 194.5L657.7 192.1L658.0 189.7L658.4 187.4L658.8 185.0M628.5 186.0L628.5 775.0M655.8 775.0L656.2 767.4L656.6 759.8L656.9 752.2L657.3 744.5L657.7 737.0L658.1 729.5L658.5 722.1L659.0 715.0L659.4 708.7L659.9 702.4L660.3 696.2L660.8 690.0L661.3 684.1L661.8 678.4L662.4 673.0L663.0 668.0L663.4 664.8L663.8 661.6L664.2 658.6L664.7 655.7L665.2 652.9L665.7 650.4L666.3 648.1L667.0 646.0L667.5 644.8L668.0 643.6L668.6 642.3L669.2 641.2L669.8 640.3L670.3 639.6L670.9 639.1L671.4 639.0L672.2 639.8L673.0 641.8L673.8 644.7L674.5 648.4L675.1 652.4L675.8 656.7L676.4 661.0L677.0 665.0L677.8 670.4L678.6 676.2L679.3 682.2L680.0 688.5L680.7 695.0L681.4 701.6L682.0 708.1L682.7 714.7L683.4 722.0L684.2 729.4L684.9 736.9L685.6 744.5L686.3 752.1L687.0 759.8L687.7 767.4L688.4 775.0M688.4 186.0L688.7 191.1L689.0 196.5L689.3 202.0L689.5 207.5L689.8 212.7L690.2 217.5L690.5 221.6L691.0 225.0L691.2 226.3L691.5 227.5L691.7 228.7L692.0 229.7L692.2 230.7L692.5 231.4L692.7 231.8L693.0 232.0L693.3 231.8L693.5 231.4L693.8 230.7L694.0 229.7L694.3 228.7L694.5 227.5L694.8 226.3L695.0 225.0L695.5 221.6L695.9 217.5L696.2 212.7L696.6 207.5L696.9 202.0L697.2 196.5L697.5 191.1L697.8 186.0M697.8 775.0L698.7 768.1L699.6 761.1L700.4 754.1L701.3 747.1L702.2 740.1L703.1 733.3L704.0 726.5L705.0 720.0L705.9 714.3L706.9 708.8L707.9 703.3L708.9 697.9L709.9 692.6L710.9 687.3L712.0 682.1L713.0 676.9L714.0 672.0L714.9 667.1L715.8 662.1L716.8 657.3L717.8 652.5L718.8 648.0L719.9 643.8L721.0 640.0L721.8 637.4L722.7 634.7L723.6 632.0L724.5 629.5L725.5 627.3L726.4 625.5L727.3 624.3L728.1 623.9L728.8 624.2L729.4 625.0L730.1 626.2L730.8 627.8L731.4 629.5L732.0 631.4L732.5 633.2L733.0 635.0L733.6 637.3L734.0 639.7L734.4 642.2L734.7 644.8L735.0 647.7L735.2 650.8L735.4 654.2L735.7 658.0L736.3 668.3L736.7 680.9L737.1 695.3L737.5 710.9L737.8 727.2L738.0 743.6L738.4 759.8L738.7 775.0M740.7 186.0L740.7 775.0M740.7 186.0L740.9 192.9L741.1 200.1L741.3 207.3L741.4 214.5L741.6 221.5L741.9 228.2L742.4 234.4L743.0 240.0L743.5 243.5L744.1 247.2L744.7 250.9L745.3 254.3L746.0 257.4L746.7 259.8L747.5 261.4L748.2 262.0L748.9 261.5L749.6 260.2L750.4 258.3L751.1 255.8L751.9 253.1L752.6 250.3L753.3 247.5L754.0 245.0L754.7 242.3L755.4 239.5L756.0 236.6L756.6 233.6L757.2 230.7L757.8 227.7L758.4 224.8L759.0 222.0L759.6 219.4L760.2 216.9L760.7 214.3L761.3 211.8L761.9 209.3L762.4 206.8L762.9 204.4L763.3 202.0L763.6 199.9L763.9 197.9L764.1 195.9L764.3 193.9L764.4 191.9L764.6 190.0L764.8 188.0L765.0 186.0M762.2 775.0L762.5 765.7L762.9 756.5L763.2 747.3L763.5 738.1L763.9 728.9L764.2 719.5L764.6 709.9L765.0 700.0L765.5 687.6L765.9 673.9L766.3 659.6L766.8 645.3L767.3 631.6L768.0 619.3L768.8 608.9L769.7 601.2L770.0 599.2L770.4 597.4L770.7 595.9L771.0 594.5L771.4 593.2L771.9 592.1L772.4 591.0L773.0 590.0L773.5 589.3L774.1 588.6L774.7 588.0L775.3 587.4L776.0 586.9L776.6 586.5L777.3 586.2L778.0 586.0L778.7 585.9L779.5 586.0L780.2 586.2L781.0 586.4L781.8 586.8L782.6 587.1L783.3 587.6L784.0 588.0L784.7 588.5L785.3 589.0L785.9 589.6L786.5 590.2L787.0 590.9L787.6 591.7L788.1 592.6L788.6 593.6L789.5 595.8L790.4 598.4L791.2 601.3L791.9 604.5L792.6 608.0L793.2 611.7L793.8 615.8L794.3 620.0L795.1 629.2L795.7 640.0L796.1 652.1L796.4 665.0L796.6 678.2L796.7 691.1L796.8 703.5L797.0 714.7L797.2 722.9L797.3 730.7L797.5 738.3L797.6 745.7L797.7 753.0L797.8 760.2L798.0 767.6L798.1 775.0M798.1 213.0L798.1 775.0M798.1 213.0L798.1 217.7L798.2 222.3L798.2 227.1L798.3 231.8L798.3 236.4L798.4 241.0L798.4 245.6L798.5 250.0L798.5 253.9L798.5 257.9L798.5 261.8L798.4 265.7L798.4 269.4L798.6 273.0L798.8 276.4L799.2 279.6L799.6 281.8L800.0 284.0L800.4 286.0L800.9 288.0L801.5 289.9L802.2 291.7L802.9 293.3L803.8 294.7L804.6 295.6L805.5 296.3L806.6 296.8L807.6 297.3L808.7 297.9L809.7 298.5L810.6 299.3L811.3 300.4L812.3 303.3L813.0 307.1L813.2 311.5L813.3 316.3L813.2 321.4L813.1 326.6L813.1 331.6L813.2 336.3M813.2 336.3L813.4 350.7L813.7 365.2L813.9 379.9L814.1 394.5L814.4 409.0L814.6 423.1L814.8 436.8L815.1 449.9L815.3 460.3L815.5 470.7L815.7 480.9L815.9 490.8L816.2 500.3L816.4 509.4L816.7 517.8L817.0 525.5L817.2 530.1L817.3 534.5L817.4 538.8L817.5 542.8L817.7 546.6L817.9 550.0L818.3 553.1L818.9 555.8L819.3 557.1L819.7 558.4L820.1 559.7L820.5 560.8L821.0 561.8L821.6 562.6L822.1 563.1L822.7 563.4L823.3 563.3L824.0 563.0L824.7 562.4L825.5 561.6L826.3 560.7L827.0 559.7L827.7 558.7L828.4 557.7L829.2 556.4L830.0 555.0L830.8 553.4L831.5 551.8L832.2 550.1L832.8 548.3L833.4 546.4L834.0 544.5L834.7 541.7L835.3 538.7L835.8 535.6L836.2 532.3L836.6 528.9L837.0 525.4L837.4 521.7L837.8 518.0L838.3 512.9L838.8 507.6L839.3 502.0L839.8 496.3L840.3 490.4L840.7 484.5L841.1 478.5L841.6 472.6L842.1 466.2L842.6 459.6L843.0 453.0L843.5 446.4L844.0 439.7L844.5 432.9L844.9 426.3L845.4 419.6L845.8 412.8L846.2 405.9L846.6 398.9L847.0 391.9L847.4 385.1L847.9 378.5L848.5 372.3L849.2 366.6L849.8 362.5L850.4 358.1L851.1 353.7L851.8 349.5L852.6 345.9L853.3 342.9L854.1 340.9L854.9 340.1L855.4 340.2L855.8 340.7L856.3 341.4L856.8 342.4L857.3 343.6L857.8 344.9L858.2 346.3L858.6 347.7L859.4 351.7L860.1 356.7L860.6 362.6L861.0 369.1L861.3 375.9L861.7 383.0L862.0 390.1L862.4 396.9L862.9 405.0L863.4 413.5L863.8 422.2L864.3 431.1L864.7 440.0L865.2 448.7L865.7 457.1L866.2 465.0L866.6 471.3L867.0 477.5L867.5 483.7L867.9 489.7L868.3 495.4L868.8 500.8L869.4 505.8L870.0 510.4L870.4 513.1L870.8 516.0L871.2 518.8L871.7 521.4L872.1 523.7L872.6 525.6L873.2 526.9L873.8 527.4L874.2 527.3L874.7 527.0L875.2 526.5L875.7 525.7L876.2 524.9L876.7 523.9L877.2 522.8L877.6 521.7L878.6 518.4L879.4 514.2L880.1 509.2L880.8 503.7L881.4 497.8L882.0 491.8L882.6 485.8L883.2 480.1L883.9 473.7L884.6 467.1L885.3 460.3L886.0 453.4L886.7 446.6L887.4 439.9L888.1 433.3L888.9 427.1L889.6 422.0L890.2 416.9L890.9 411.9L891.5 407.0L892.2 402.2L893.0 397.7L893.8 393.3L894.6 389.3L895.2 386.4L895.8 383.4L896.4 380.4L897.0 377.6L897.7 375.1L898.4 372.9L899.3 371.3L900.3 370.4L900.9 370.2L901.6 370.1L902.4 370.2L903.1 370.4L903.9 370.8L904.6 371.2L905.3 371.7L905.9 372.3L906.7 373.5L907.4 375.2L907.9 377.1L908.3 379.3L908.6 381.7L908.9 384.2L909.3 386.7L909.7 389.3L910.4 393.3L911.1 397.7L911.8 402.4L912.5 407.3L913.3 412.3L914.0 417.3L914.7 422.3L915.4 427.1L916.1 431.9L916.8 436.8L917.4 441.8L918.1 446.8L918.8 451.6L919.5 456.3L920.3 460.8L921.1 465.0L921.7 468.2L922.4 471.5L923.0 474.8L923.6 478.0L924.3 480.8L925.1 483.2L925.9 484.9L926.8 485.8L927.2 485.9L927.7 485.9L928.2 485.8L928.7 485.6L929.1 485.2L929.6 484.9L930.1 484.4L930.5 483.9L931.4 482.3L932.2 480.2L933.0 477.6L933.6 474.6L934.3 471.4L934.9 468.0L935.5 464.5L936.2 461.2L937.1 456.6L938.1 451.6L939.0 446.3L940.0 440.9L940.9 435.4L941.9 430.0L942.8 424.7L943.8 419.6L944.7 415.0L945.6 410.4L946.5 405.7L947.4 401.1L948.3 396.7L949.2 392.6L950.2 388.8L951.3 385.5L952.0 383.6L952.7 381.6L953.4 379.7L954.1 378.0L954.9 376.4L955.6 375.2L956.3 374.5L957.0 374.2L957.8 374.6L958.5 375.7L959.3 377.4L960.0 379.4L960.7 381.8L961.4 384.3L962.1 386.9L962.7 389.3L963.6 393.2L964.4 397.4L965.1 402.0L965.8 406.9L966.5 411.9L967.1 417.0L967.7 422.1L968.4 427.1L969.1 432.7L969.8 438.6L970.4 444.6L971.0 450.7L971.7 456.7L972.4 462.4L973.2 467.7L974.0 472.6L974.6 475.7L975.2 478.8L975.8 481.8L976.4 484.7L977.1 487.3L977.8 489.7L978.7 491.7L979.7 493.4L980.3 494.2L981.0 495.0L981.8 495.7L982.5 496.3L983.3 496.8L984.1 497.1L984.8 497.2L985.4 497.1L986.3 496.4L987.2 495.0L987.9 493.1L988.6 490.8L989.3 488.2L989.9 485.5L990.5 482.7L991.1 480.1L991.9 476.5L992.7 472.6L993.4 468.5L994.1 464.2L994.8 459.8L995.4 455.2L996.0 450.7L996.7 446.1L997.4 440.7L998.2 435.1L998.9 429.4L999.6 423.6L1000.3 417.7L1001.0 411.9L1001.7 406.2L1002.4 400.7L1003.1 395.7L1003.7 390.7L1004.4 385.6L1005.1 380.7L1005.8 375.9L1006.5 371.2L1007.3 366.9L1008.1 362.8L1008.7 360.0L1009.3 357.1L1009.9 354.3L1010.5 351.7L1011.2 349.2L1011.9 347.1L1012.8 345.3L1013.8 343.9L1014.4 343.3L1015.1 342.8L1015.9 342.4L1016.6 342.0L1017.4 341.8L1018.1 341.7L1018.8 341.8L1019.4 342.0L1020.2 342.8L1020.9 344.2L1021.4 346.1L1021.8 348.3L1022.2 350.8L1022.5 353.5L1022.8 356.2L1023.2 359.0L1023.9 364.1L1024.4 369.9L1024.9 376.3L1025.4 383.1L1025.8 390.1L1026.2 397.4L1026.6 404.7L1027.0 412.0L1027.5 420.9L1028.0 430.3L1028.4 440.0L1028.9 449.9L1029.4 459.7L1029.8 469.4L1030.3 478.8L1030.8 487.7L1031.2 495.0L1031.6 502.3L1031.9 509.5L1032.2 516.5L1032.7 523.2L1033.2 529.6L1033.8 535.4L1034.6 540.7L1035.1 543.8L1035.7 546.9L1036.3 549.9L1036.9 552.8L1037.6 555.3L1038.4 557.4L1039.2 558.8L1040.2 559.6L1040.8 559.7L1041.6 559.6L1042.3 559.3L1043.1 558.8L1043.9 558.2L1044.6 557.5L1045.3 556.7L1045.9 555.8L1046.9 553.6L1047.7 550.7L1048.2 547.3L1048.6 543.4L1048.9 539.2L1049.1 534.8L1049.4 530.2L1049.7 525.5L1050.3 517.7L1050.7 509.0L1051.2 499.6L1051.5 489.8L1051.8 479.7L1052.1 469.5L1052.4 459.5L1052.7 449.8L1053.0 440.3L1053.2 430.9L1053.4 421.5L1053.6 412.0L1053.8 402.6L1054.0 393.1L1054.1 383.7L1054.3 374.2L1054.4 364.4L1054.3 354.1L1054.2 343.6L1054.1 333.2L1054.1 323.1L1054.2 313.8L1054.6 305.5L1055.4 298.5L1055.9 295.5L1056.5 292.8L1057.2 290.4L1057.9 288.2L1058.6 286.1L1059.4 284.0L1060.2 281.9L1061.0 279.6L1061.9 277.3L1062.8 275.0L1063.8 272.8L1064.9 270.6L1065.9 268.3L1066.9 265.9L1067.8 263.4L1068.6 260.7L1069.6 256.6L1070.4 252.2L1071.2 247.5L1071.8 242.6L1072.5 237.6L1073.1 232.6L1073.7 227.6L1074.3 222.8L1074.9 218.2L1075.5 213.6L1076.1 209.0L1076.7 204.4L1077.3 199.8L1077.8 195.2L1078.4 190.6L1079.0 186.0M1080.0 775.0L1080.7 762.4L1081.3 749.3L1081.9 736.0L1082.6 722.8L1083.2 710.0L1083.9 697.8L1084.8 686.7L1085.7 676.9L1086.3 671.6L1087.0 666.6L1087.7 661.8L1088.4 657.3L1089.2 653.2L1089.9 649.3L1090.6 645.9L1091.3 642.8L1091.6 641.4L1092.0 640.2L1092.3 639.1L1092.7 638.0L1093.0 637.0L1093.3 636.1L1093.7 635.1L1094.0 634.0' stroke='#02f6c6' stroke-width='8.33'/>
<path d='M239.5 599.3L240.0 600.2L240.5 601.1L241.0 601.9L241.5 602.8L242.0 603.7L242.5 604.6L242.9 605.7L243.3 606.9L243.9 609.2L244.4 611.8L244.8 614.7L245.2 617.8L245.5 621.0L245.8 624.4L246.1 627.9L246.4 631.5L246.7 636.4L247.1 641.7L247.4 647.2L247.6 653.0L247.9 658.9L248.1 664.8L248.4 670.9L248.6 676.9L248.9 683.7L249.2 690.8L249.5 698.1L249.8 705.4L250.1 712.7L250.4 719.9L250.6 726.9L250.9 733.6L251.1 739.1L251.3 744.5L251.5 749.7L251.7 754.8L251.9 759.9L252.0 765.0L252.2 770.1L252.4 775.2M248.6 185.0L249.0 188.8L249.4 192.7L249.8 196.7L250.2 200.6L250.6 204.4L251.1 208.2L251.5 211.8L252.0 215.3L252.4 217.9L252.8 220.5L253.2 223.0L253.7 225.5L254.1 227.8L254.6 230.1L255.2 232.2L255.8 234.2L256.3 235.7L256.9 237.3L257.5 238.9L258.2 240.4L258.8 241.7L259.5 242.7L260.1 243.4L260.7 243.6L261.3 243.4L261.9 242.7L262.5 241.6L263.1 240.3L263.7 238.8L264.2 237.3L264.8 235.7L265.3 234.2L265.9 232.2L266.6 230.1L267.2 227.8L267.8 225.5L268.3 223.0L268.9 220.5L269.3 217.9L269.8 215.3L270.3 211.8L270.8 208.2L271.2 204.5L271.5 200.6L271.8 196.7L272.1 192.7L272.5 188.8L272.8 185.0M272.8 775.2L273.5 767.6L274.2 759.8L274.9 751.9L275.6 744.1L276.3 736.4L277.0 728.8L277.7 721.6L278.5 714.7L279.2 709.5L279.8 704.5L280.5 699.6L281.1 694.9L281.8 690.2L282.6 685.7L283.4 681.3L284.2 676.9L284.9 673.0L285.6 669.0L286.4 665.1L287.2 661.2L288.0 657.5L288.9 654.1L289.9 651.1L291.0 648.5L291.7 647.1L292.5 645.8L293.3 644.5L294.1 643.3L295.0 642.3L295.8 641.6L296.6 641.1L297.4 640.9L298.2 641.1L298.9 641.6L299.7 642.4L300.4 643.3L301.1 644.5L301.8 645.7L302.5 647.1L303.1 648.5L304.2 651.6L305.1 655.4L305.9 659.7L306.5 664.4L307.1 669.4L307.7 674.5L308.2 679.5L308.8 684.4L309.4 689.8L309.9 695.4L310.4 701.1L310.9 706.8L311.3 712.6L311.8 718.4L312.2 724.1L312.6 729.8L312.9 735.5L313.3 741.2L313.6 746.9L314.0 752.5L314.3 758.2L314.6 763.9L314.9 769.6L315.2 775.2M310.7 185.0L311.1 189.3L311.6 193.7L312.0 198.1L312.5 202.6L313.0 206.9L313.4 211.1L313.9 215.2L314.5 219.1L314.9 222.0L315.3 224.9L315.8 227.7L316.2 230.4L316.7 233.1L317.2 235.5L317.7 237.8L318.2 239.9L318.6 241.1L318.9 242.4L319.3 243.6L319.6 244.8L320.0 245.8L320.4 246.7L320.8 247.2L321.3 247.4L321.8 247.3L322.3 246.8L322.9 245.9L323.5 244.9L324.2 243.7L324.8 242.4L325.3 241.1L325.8 239.9L326.5 237.8L327.0 235.6L327.5 233.1L328.0 230.5L328.4 227.7L328.7 224.9L329.2 222.0L329.6 219.1L330.2 215.2L330.7 211.1L331.3 206.9L331.9 202.6L332.4 198.1L333.0 193.7L333.6 189.3L334.1 185.0M331.5 775.2L331.9 766.6L332.4 758.0L332.9 749.2L333.3 740.5L333.8 731.9L334.3 723.4L334.8 715.1L335.3 707.1L335.7 700.5L336.2 694.1L336.6 687.7L337.1 681.5L337.5 675.4L338.0 669.4L338.5 663.6L339.0 657.9L339.5 653.3L339.9 648.8L340.3 644.4L340.7 640.1L341.1 635.9L341.6 631.8L342.2 627.8L342.8 623.9L343.4 620.8L344.0 617.7L344.7 614.7L345.3 611.8L346.0 609.0L346.8 606.3L347.6 603.7L348.5 601.2L349.3 599.3L350.2 597.6L351.1 595.9L352.0 594.3L352.9 592.7L353.8 591.1L354.6 589.6L355.3 588.0L355.8 586.6L356.3 585.2L356.7 583.9L357.1 582.6L357.5 581.2L357.8 579.8L358.1 578.3L358.3 576.6L358.7 573.8L359.0 570.7L359.2 567.4L359.4 563.9L359.5 560.2L359.6 556.4L359.7 552.4L359.9 548.2L360.0 541.7L360.2 534.7L360.3 527.2L360.3 519.4L360.4 511.4L360.5 503.4L360.5 495.4L360.6 487.7M360.6 487.7L361.4 374.2L362.1 304.2M362.1 304.2L362.5 303.4L362.9 302.6L363.2 301.7L363.6 300.9L364.0 300.1L364.4 299.3L364.9 298.5L365.5 297.8L366.4 296.8L367.5 295.9L368.7 295.0L369.9 294.1L371.2 293.3L372.5 292.5L373.8 291.7L375.0 290.9L376.1 290.2L377.2 289.5L378.3 288.7L379.4 287.9L380.5 287.3L381.6 286.8L382.5 286.5L383.3 286.4L383.8 286.5L384.2 286.6L384.6 286.8L385.0 287.1L385.4 287.5L385.7 287.9L386.0 288.4L386.3 289.0L387.2 292.1L387.6 296.7L387.8 302.5L387.8 309.0L387.7 316.0L387.5 323.1L387.4 330.0L387.5 336.3M387.5 336.3L387.9 449.9L388.2 570.9M388.2 570.9L388.6 570.6L388.9 570.2L389.2 569.9L389.5 569.5L389.9 569.2L390.2 568.8L390.5 568.4L390.9 567.9L391.5 567.1L392.1 566.2L392.7 565.3L393.3 564.2L394.0 563.1L394.6 562.0L395.2 560.8L395.8 559.6L396.6 557.8L397.3 555.9L398.1 553.9L398.8 551.8L399.5 549.6L400.2 547.3L400.9 544.9L401.5 542.5L402.2 539.4L402.9 536.1L403.5 532.6L404.0 529.0L404.6 525.3L405.1 521.6L405.6 517.9L406.0 514.2L406.5 510.1L406.9 506.1L407.3 502.0L407.7 497.8L408.0 493.6L408.4 489.2L408.7 484.8L409.0 480.1L409.5 474.1L409.8 467.7L410.2 461.1L410.6 454.4L410.9 447.5L411.3 440.7L411.7 433.8L412.1 427.1L412.5 420.4L412.9 413.5L413.4 406.5L413.8 399.5L414.3 392.7L414.8 386.1L415.3 379.9L415.9 374.2L416.2 370.3L416.6 366.6L417.0 362.9L417.3 359.5L417.8 356.2L418.3 353.1L418.9 350.3L419.6 347.7L420.2 346.1L420.8 344.5L421.5 342.9L422.2 341.4L422.9 340.1L423.6 339.1L424.3 338.5L424.9 338.2L425.6 338.4L426.2 339.0L426.9 339.9L427.5 341.1L428.2 342.4L428.8 343.9L429.3 345.4L429.9 346.9L430.6 349.8L431.3 353.1L431.8 356.7L432.2 360.7L432.6 364.8L432.9 369.2L433.2 373.5L433.6 378.0L434.2 383.9L434.7 390.3L435.1 396.9L435.6 403.7L436.0 410.6L436.5 417.5L437.0 424.3L437.4 430.9L437.9 437.3L438.3 443.7L438.8 450.2L439.2 456.6L439.7 462.9L440.1 469.0L440.7 474.7L441.2 480.1L441.6 483.8L442.0 487.5L442.3 491.1L442.7 494.5L443.2 497.7L443.7 500.7L444.3 503.5L445.0 505.8L445.5 507.2L446.0 508.5L446.6 509.8L447.2 511.0L447.8 512.0L448.4 512.8L449.0 513.3L449.5 513.4L450.2 513.0L450.9 512.1L451.5 510.7L452.2 509.0L452.8 507.1L453.4 505.0L453.9 502.9L454.4 500.9L455.1 498.0L455.7 494.8L456.1 491.4L456.5 487.9L456.9 484.2L457.3 480.4L457.8 476.5L458.2 472.6L458.9 467.5L459.5 462.2L460.2 456.6L460.9 450.9L461.7 445.2L462.4 439.6L463.1 434.2L463.9 429.0L464.6 424.8L465.2 420.5L465.8 416.2L466.5 412.1L467.2 408.1L467.9 404.3L468.7 400.8L469.6 397.6L470.2 395.6L470.8 393.6L471.5 391.7L472.1 389.8L472.8 388.2L473.6 386.8L474.4 385.6L475.3 384.8L475.8 384.4L476.4 384.2L477.1 384.0L477.7 383.9L478.4 383.9L479.0 383.9L479.6 384.1L480.2 384.4L481.0 385.1L481.8 386.2L482.5 387.6L483.1 389.2L483.7 391.0L484.3 392.9L484.9 394.9L485.5 396.9L486.3 400.0L487.0 403.5L487.7 407.2L488.3 411.2L488.9 415.2L489.5 419.3L490.1 423.3L490.8 427.1L491.4 431.0L492.1 434.8L492.7 438.7L493.3 442.5L494.0 446.4L494.7 450.1L495.3 453.8L496.1 457.4L496.7 460.6L497.4 463.9L498.0 467.1L498.7 470.3L499.4 473.3L500.2 476.1L500.9 478.7L501.7 480.9L502.2 482.1L502.7 483.2L503.2 484.4L503.8 485.5L504.3 486.4L504.8 487.1L505.4 487.5L505.9 487.7L506.6 487.4L507.2 486.6L507.9 485.4L508.6 483.9L509.3 482.3L509.9 480.5L510.6 478.7L511.2 477.1L512.0 475.0L512.7 472.7L513.5 470.4L514.2 467.9L514.9 465.4L515.6 462.8L516.2 460.1L516.9 457.4L517.7 454.0L518.4 450.3L519.1 446.5L519.8 442.7L520.5 438.8L521.2 434.8L521.8 431.0L522.6 427.1L523.2 423.4L523.9 419.5L524.6 415.6L525.2 411.8L525.9 408.0L526.7 404.3L527.4 400.9L528.2 397.6L528.9 395.3L529.5 393.0L530.1 390.7L530.8 388.5L531.5 386.5L532.2 384.6L533.0 383.0L533.9 381.7L534.5 381.1L535.1 380.5L535.7 379.9L536.3 379.4L537.0 379.1L537.6 378.8L538.2 378.7L538.8 378.7L539.5 379.0L540.2 379.6L540.9 380.4L541.5 381.4L542.1 382.5L542.7 383.7L543.2 385.0L543.7 386.3L544.5 388.7L545.1 391.4L545.6 394.4L546.0 397.7L546.4 401.1L546.8 404.7L547.1 408.3L547.5 412.0L548.1 417.1L548.6 422.6L549.0 428.3L549.5 434.2L549.9 440.1L550.4 446.1L550.8 451.9L551.3 457.4L551.8 462.4L552.2 467.4L552.6 472.4L553.1 477.4L553.5 482.2L554.0 486.8L554.5 491.2L555.1 495.3L555.5 498.0L555.9 500.7L556.3 503.3L556.7 505.8L557.1 508.1L557.6 510.3L558.2 512.3L558.9 514.2L559.4 515.3L559.9 516.5L560.5 517.7L561.1 518.7L561.7 519.6L562.3 520.4L562.8 520.8L563.4 521.0L564.0 520.8L564.6 520.3L565.2 519.5L565.8 518.5L566.4 517.3L566.9 516.0L567.5 514.7L568.0 513.4L568.7 511.0L569.3 508.3L569.8 505.4L570.2 502.1L570.6 498.7L571.0 495.2L571.3 491.5L571.7 487.7L572.3 482.0L572.8 475.8L573.3 469.2L573.7 462.4L574.2 455.4L574.6 448.4L575.1 441.5L575.5 434.7L576.0 428.0L576.5 421.3L576.9 414.5L577.4 407.7L577.8 401.0L578.3 394.4L578.8 387.9L579.3 381.7L579.7 376.6L580.1 371.6L580.5 366.7L580.9 361.8L581.4 357.1L581.9 352.5L582.4 348.1L583.1 343.9L583.7 340.7L584.3 337.7L585.0 334.7L585.7 331.8L586.4 329.0L587.2 326.4L588.0 323.7L588.8 321.2L589.4 319.2L590.1 317.3L590.8 315.4L591.5 313.5L592.3 311.8L593.0 310.0L593.7 308.4L594.4 306.8L595.0 305.7L595.6 304.6L596.1 303.5L596.7 302.5L597.3 301.5L597.8 300.5L598.4 299.5L599.0 298.5M599.0 298.5L600.5 241.8L601.6 412.0L602.0 716.6L603.1 639.0L604.3 605.0M604.3 605.0L604.7 603.4L605.0 601.8L605.4 600.2L605.7 598.5L606.1 596.9L606.5 595.4L607.0 594.1L607.7 592.9L608.3 592.0L608.9 591.3L609.6 590.6L610.3 590.0L611.1 589.4L611.8 588.9L612.6 588.4L613.4 588.0L614.0 587.6L614.8 587.2L615.5 586.8L616.2 586.5L617.0 586.2L617.7 586.1L618.4 586.0L619.0 586.1L619.7 586.3L620.4 586.6L621.1 587.1L621.7 587.7L622.3 588.4L622.9 589.1L623.5 589.8L624.0 590.6L624.5 591.6L624.9 592.6L625.3 593.7L625.6 594.9L625.9 596.3L626.1 597.7L626.4 599.4L626.6 601.2L627.2 607.3L627.5 615.0L627.7 624.1L627.7 634.1L627.7 644.7L627.7 655.6L627.7 666.5L627.7 676.9L627.9 688.5L628.0 700.6L628.1 712.8L628.1 725.2L628.2 737.8L628.3 750.3L628.4 762.9L628.5 775.2M628.5 185.0L628.7 191.3L628.8 197.9L628.9 204.6L629.1 211.2L629.2 217.6L629.4 223.7L629.7 229.3L630.0 234.2L630.2 236.8L630.4 239.2L630.6 241.5L630.8 243.7L631.1 245.8L631.4 247.7L631.8 249.5L632.3 251.2L632.7 252.4L633.1 253.7L633.5 254.9L633.9 256.0L634.4 257.1L634.9 257.9L635.5 258.5L636.1 258.8L636.6 258.8L637.1 258.6L637.7 258.2L638.3 257.7L638.9 257.1L639.5 256.4L640.1 255.7L640.6 255.0L641.3 253.8L642.0 252.4L642.6 250.8L643.2 249.1L643.8 247.3L644.4 245.5L644.9 243.6L645.5 241.8L646.2 239.6L647.0 237.3L647.7 234.9L648.4 232.5L649.2 230.1L649.9 227.7L650.5 225.2L651.2 222.8L651.8 220.5L652.4 218.1L653.0 215.8L653.6 213.4L654.2 211.0L654.7 208.7L655.2 206.3L655.7 203.9L656.2 201.6L656.6 199.2L657.0 196.8L657.3 194.5L657.7 192.1L658.0 189.7L658.4 187.4L658.8 185.0M628.5 186.0L628.5 775.0M655.8 775.0L656.2 767.4L656.6 759.8L656.9 752.2L657.3 744.5L657.7 737.0L658.1 729.5L658.5 722.1L659.0 715.0L659.4 708.7L659.9 702.4L660.3 696.2L660.8 690.0L661.3 684.1L661.8 678.4L662.4 673.0L663.0 668.0L663.4 664.8L663.8 661.6L664.2 658.6L664.7 655.7L665.2 652.9L665.7 650.4L666.3 648.1L667.0 646.0L667.5 644.8L668.0 643.6L668.6 642.3L669.2 641.2L669.8 640.3L670.3 639.6L670.9 639.1L671.4 639.0L672.2 639.8L673.0 641.8L673.8 644.7L674.5 648.4L675.1 652.4L675.8 656.7L676.4 661.0L677.0 665.0L677.8 670.4L678.6 676.2L679.3 682.2L680.0 688.5L680.7 695.0L681.4 701.6L682.0 708.1L682.7 714.7L683.4 722.0L684.2 729.4L684.9 736.9L685.6 744.5L686.3 752.1L687.0 759.8L687.7 767.4L688.4 775.0M688.4 186.0L688.7 191.1L689.0 196.5L689.3 202.0L689.5 207.5L689.8 212.7L690.2 217.5L690.5 221.6L691.0 225.0L691.2 226.3L691.5 227.5L691.7 228.7L692.0 229.7L692.2 230.7L692.5 231.4L692.7 231.8L693.0 232.0L693.3 231.8L693.5 231.4L693.8 230.7L694.0 229.7L694.3 228.7L694.5 227.5L694.8 226.3L695.0 225.0L695.5 221.6L695.9 217.5L696.2 212.7L696.6 207.5L696.9 202.0L697.2 196.5L697.5 191.1L697.8 186.0M697.8 775.0L698.7 768.1L699.6 761.1L700.4 754.1L701.3 747.1L702.2 740.1L703.1 733.3L704.0 726.5L705.0 720.0L705.9 714.3L706.9 708.8L707.9 703.3L708.9 697.9L709.9 692.6L710.9 687.3L712.0 682.1L713.0 676.9L714.0 672.0L714.9 667.1L715.8 662.1L716.8 657.3L717.8 652.5L718.8 648.0L719.9 643.8L721.0 640.0L721.8 637.4L722.7 634.7L723.6 632.0L724.5 629.5L725.5 627.3L726.4 625.5L727.3 624.3L728.1 623.9L728.8 624.2L729.4 625.0L730.1 626.2L730.8 627.8L731.4 629.5L732.0 631.4L732.5 633.2L733.0 635.0L733.6 637.3L734.0 639.7L734.4 642.2L734.7 644.8L735.0 647.7L735.2 650.8L735.4 654.2L735.7 658.0L736.3 668.3L736.7 680.9L737.1 695.3L737.5 710.9L737.8 727.2L738.0 743.6L738.4 759.8L738.7 775.0M740.7 186.0L740.7 775.0M740.7 186.0L740.9 192.9L741.1 200.1L741.3 207.3L741.4 214.5L741.6 221.5L741.9 228.2L742.4 234.4L743.0 240.0L743.5 243.5L744.1 247.2L744.7 250.9L745.3 254.3L746.0 257.4L746.7 259.8L747.5 261.4L748.2 262.0L748.9 261.5L749.6 260.2L750.4 258.3L751.1 255.8L751.9 253.1L752.6 250.3L753.3 247.5L754.0 245.0L754.7 242.3L755.4 239.5L756.0 236.6L756.6 233.6L757.2 230.7L757.8 227.7L758.4 224.8L759.0 222.0L759.6 219.4L760.2 216.9L760.7 214.3L761.3 211.8L761.9 209.3L762.4 206.8L762.9 204.4L763.3 202.0L763.6 199.9L763.9 197.9L764.1 195.9L764.3 193.9L764.4 191.9L764.6 190.0L764.8 188.0L765.0 186.0M762.2 775.0L762.5 765.7L762.9 756.5L763.2 747.3L763.5 738.1L763.9 728.9L764.2 719.5L764.6 709.9L765.0 700.0L765.5 687.6L765.9 673.9L766.3 659.6L766.8 645.3L767.3 631.6L768.0 619.3L768.8 608.9L769.7 601.2L770.0 599.2L770.4 597.4L770.7 595.9L771.0 594.5L771.4 593.2L771.9 592.1L772.4 591.0L773.0 590.0L773.5 589.3L774.1 588.6L774.7 588.0L775.3 587.4L776.0 586.9L776.6 586.5L777.3 586.2L778.0 586.0L778.7 585.9L779.5 586.0L780.2 586.2L781.0 586.4L781.8 586.8L782.6 587.1L783.3 587.6L784.0 588.0L784.7 588.5L785.3 589.0L785.9 589.6L786.5 590.2L787.0 590.9L787.6 591.7L788.1 592.6L788.6 593.6L789.5 595.8L790.4 598.4L791.2 601.3L791.9 604.5L792.6 608.0L793.2 611.7L793.8 615.8L794.3 620.0L795.1 629.2L795.7 640.0L796.1 652.1L796.4 665.0L796.6 678.2L796.7 691.1L796.8 703.5L797.0 714.7L797.2 722.9L797.3 730.7L797.5 738.3L797.6 745.7L797.7 753.0L797.8 760.2L798.0 767.6L798.1 775.0M798.1 213.0L798.1 775.0M798.1 213.0L798.1 217.7L798.2 222.3L798.2 227.1L798.3 231.8L798.3 236.4L798.4 241.0L798.4 245.6L798.5 250.0L798.5 253.9L798.5 257.9L798.5 261.8L798.4 265.7L798.4 269.4L798.6 273.0L798.8 276.4L799.2 279.6L799.6 281.8L800.0 284.0L800.4 286.0L800.9 288.0L801.5 289.9L802.2 291.7L802.9 293.3L803.8 294.7L804.6 295.6L805.5 296.3L806.6 296.8L807.6 297.3L808.7 297.9L809.7 298.5L810.6 299.3L811.3 300.4L812.3 303.3L813.0 307.1L813.2 311.5L813.3 316.3L813.2 321.4L813.1 326.6L813.1 331.6L813.2 336.3M813.2 336.3L813.4 350.7L813.7 365.2L813.9 379.9L814.1 394.5L814.4 409.0L814.6 423.1L814.8 436.8L815.1 449.9L815.3 460.3L815.5 470.7L815.7 480.9L815.9 490.8L816.2 500.3L816.4 509.4L816.7 517.8L817.0 525.5L817.2 530.1L817.3 534.5L817.4 538.8L817.5 542.8L817.7 546.6L817.9 550.0L818.3 553.1L818.9 555.8L819.3 557.1L819.7 558.4L820.1 559.7L820.5 560.8L821.0 561.8L821.6 562.6L822.1 563.1L822.7 563.4L823.3 563.3L824.0 563.0L824.7 562.4L825.5 561.6L826.3 560.7L827.0 559.7L827.7 558.7L828.4 557.7L829.2 556.4L830.0 555.0L830.8 553.4L831.5 551.8L832.2 550.1L832.8 548.3L833.4 546.4L834.0 544.5L834.7 541.7L835.3 538.7L835.8 535.6L836.2 532.3L836.6 528.9L837.0 525.4L837.4 521.7L837.8 518.0L838.3 512.9L838.8 507.6L839.3 502.0L839.8 496.3L840.3 490.4L840.7 484.5L841.1 478.5L841.6 472.6L842.1 466.2L842.6 459.6L843.0 453.0L843.5 446.4L844.0 439.7L844.5 432.9L844.9 426.3L845.4 419.6L845.8 412.8L846.2 405.9L846.6 398.9L847.0 391.9L847.4 385.1L847.9 378.5L848.5 372.3L849.2 366.6L849.8 362.5L850.4 358.1L851.1 353.7L851.8 349.5L852.6 345.9L853.3 342.9L854.1 340.9L854.9 340.1L855.4 340.2L855.8 340.7L856.3 341.4L856.8 342.4L857.3 343.6L857.8 344.9L858.2 346.3L858.6 347.7L859.4 351.7L860.1 356.7L860.6 362.6L861.0 369.1L861.3 375.9L861.7 383.0L862.0 390.1L862.4 396.9L862.9 405.0L863.4 413.5L863.8 422.2L864.3 431.1L864.7 440.0L865.2 448.7L865.7 457.1L866.2 465.0L866.6 471.3L867.0 477.5L867.5 483.7L867.9 489.7L868.3 495.4L868.8 500.8L869.4 505.8L870.0 510.4L870.4 513.1L870.8 516.0L871.2 518.8L871.7 521.4L872.1 523.7L872.6 525.6L873.2 526.9L873.8 527.4L874.2 527.3L874.7 527.0L875.2 526.5L875.7 525.7L876.2 524.9L876.7 523.9L877.2 522.8L877.6 521.7L878.6 518.4L879.4 514.2L880.1 509.2L880.8 503.7L881.4 497.8L882.0 491.8L882.6 485.8L883.2 480.1L883.9 473.7L884.6 467.1L885.3 460.3L886.0 453.4L886.7 446.6L887.4 439.9L888.1 433.3L888.9 427.1L889.6 422.0L890.2 416.9L890.9 411.9L891.5 407.0L892.2 402.2L893.0 397.7L893.8 393.3L894.6 389.3L895.2 386.4L895.8 383.4L896.4 380.4L897.0 377.6L897.7 375.1L898.4 372.9L899.3 371.3L900.3 370.4L900.9 370.2L901.6 370.1L902.4 370.2L903.1 370.4L903.9 370.8L904.6 371.2L905.3 371.7L905.9 372.3L906.7 373.5L907.4 375.2L907.9 377.1L908.3 379.3L908.6 381.7L908.9 384.2L909.3 386.7L909.7 389.3L910.4 393.3L911.1 397.7L911.8 402.4L912.5 407.3L913.3 412.3L914.0 417.3L914.7 422.3L915.4 427.1L916.1 431.9L916.8 436.8L917.4 441.8L918.1 446.8L918.8 451.6L919.5 456.3L920.3 460.8L921.1 465.0L921.7 468.2L922.4 471.5L923.0 474.8L923.6 478.0L924.3 480.8L925.1 483.2L925.9 484.9L926.8 485.8L927.2 485.9L927.7 485.9L928.2 485.8L928.7 485.6L929.1 485.2L929.6 484.9L930.1 484.4L930.5 483.9L931.4 482.3L932.2 480.2L933.0 477.6L933.6 474.6L934.3 471.4L934.9 468.0L935.5 464.5L936.2 461.2L937.1 456.6L938.1 451.6L939.0 446.3L940.0 440.9L940.9 435.4L941.9 430.0L942.8 424.7L943.8 419.6L944.7 415.0L945.6 410.4L946.5 405.7L947.4 401.1L948.3 396.7L949.2 392.6L950.2 388.8L951.3 385.5L952.0 383.6L952.7 381.6L953.4 379.7L954.1 378.0L954.9 376.4L955.6 375.2L956.3 374.5L957.0 374.2L957.8 374.6L958.5 375.7L959.3 377.4L960.0 379.4L960.7 381.8L961.4 384.3L962.1 386.9L962.7 389.3L963.6 393.2L964.4 397.4L965.1 402.0L965.8 406.9L966.5 411.9L967.1 417.0L967.7 422.1L968.4 427.1L969.1 432.7L969.8 438.6L970.4 444.6L971.0 450.7L971.7 456.7L972.4 462.4L973.2 467.7L974.0 472.6L974.6 475.7L975.2 478.8L975.8 481.8L976.4 484.7L977.1 487.3L977.8 489.7L978.7 491.7L979.7 493.4L980.3 494.2L981.0 495.0L981.8 495.7L982.5 496.3L983.3 496.8L984.1 497.1L984.8 497.2L985.4 497.1L986.3 496.4L987.2 495.0L987.9 493.1L988.6 490.8L989.3 488.2L989.9 485.5L990.5 482.7L991.1 480.1L991.9 476.5L992.7 472.6L993.4 468.5L994.1 464.2L994.8 459.8L995.4 455.2L996.0 450.7L996.7 446.1L997.4 440.7L998.2 435.1L998.9 429.4L999.6 423.6L1000.3 417.7L1001.0 411.9L1001.7 406.2L1002.4 400.7L1003.1 395.7L1003.7 390.7L1004.4 385.6L1005.1 380.7L1005.8 375.9L1006.5 371.2L1007.3 366.9L1008.1 362.8L1008.7 360.0L1009.3 357.1L1009.9 354.3L1010.5 351.7L1011.2 349.2L1011.9 347.1L1012.8 345.3L1013.8 343.9L1014.4 343.3L1015.1 342.8L1015.9 342.4L1016.6 342.0L1017.4 341.8L1018.1 341.7L1018.8 341.8L1019.4 342.0L1020.2 342.8L1020.9 344.2L1021.4 346.1L1021.8 348.3L1022.2 350.8L1022.5 353.5L1022.8 356.2L1023.2 359.0L1023.9 364.1L1024.4 369.9L1024.9 376.3L1025.4 383.1L1025.8 390.1L1026.2 397.4L1026.6 404.7L1027.0 412.0L1027.5 420.9L1028.0 430.3L1028.4 440.0L1028.9 449.9L1029.4 459.7L1029.8 469.4L1030.3 478.8L1030.8 487.7L1031.2 495.0L1031.6 502.3L1031.9 509.5L1032.2 516.5L1032.7 523.2L1033.2 529.6L1033.8 535.4L1034.6 540.7L1035.1 543.8L1035.7 546.9L1036.3 549.9L1036.9 552.8L1037.6 555.3L1038.4 557.4L1039.2 558.8L1040.2 559.6L1040.8 559.7L1041.6 559.6L1042.3 559.3L1043.1 558.8L1043.9 558.2L1044.6 557.5L1045.3 556.7L1045.9 555.8L1046.9 553.6L1047.7 550.7L1048.2 547.3L1048.6 543.4L1048.9 539.2L1049.1 534.8L1049.4 530.2L1049.7 525.5L1050.3 517.7L1050.7 509.0L1051.2 499.6L1051.5 489.8L1051.8 479.7L1052.1 469.5L1052.4 459.5L1052.7 449.8L1053.0 440.3L1053.2 430.9L1053.4 421.5L1053.6 412.0L1053.8 402.6L1054.0 393.1L1054.1 383.7L1054.3 374.2L1054.4 364.4L1054.3 354.1L1054.2 343.6L1054.1 333.2L1054.1 323.1L1054.2 313.8L1054.6 305.5L1055.4 298.5L1055.9 295.5L1056.5 292.8L1057.2 290.4L1057.9 288.2L1058.6 286.1L1059.4 284.0L1060.2 281.9L1061.0 279.6L1061.9 277.3L1062.8 275.0L1063.8 272.8L1064.9 270.6L1065.9 268.3L1066.9 265.9L1067.8 263.4L1068.6 260.7L1069.6 256.6L1070.4 252.2L1071.2 247.5L1071.8 242.6L1072.5 237.6L1073.1 232.6L1073.7 227.6L1074.3 222.8L1074.9 218.2L1075.5 213.6L1076.1 209.0L1076.7 204.4L1077.3 199.8L1077.8 195.2L1078.4 190.6L1079.0 186.0M1080.0 775.0L1080.7 762.4L1081.3 749.3L1081.9 736.0L1082.6 722.8L1083.2 710.0L1083.9 697.8L1084.8 686.7L1085.7 676.9L1086.3 671.6L1087.0 666.6L1087.7 661.8L1088.4 657.3L1089.2 653.2L1089.9 649.3L1090.6 645.9L1091.3 642.8L1091.6 641.4L1092.0 640.2L1092.3 639.1L1092.7 638.0L1093.0 637.0L1093.3 636.1L1093.7 635.1L1094.0 634.0' stroke='#000' stroke-width='2.78'/>
<path d='M240.3 400.0L240.7 397.2L241.2 394.5L241.6 391.7L242.0 388.9L242.4 386.2L242.9 383.4L243.4 380.7L244.0 378.0L244.6 375.3L245.2 372.4L245.8 369.5L246.5 366.6L247.2 363.9L248.0 361.5L248.9 359.5L250.0 358.0L250.7 357.4L251.4 356.8L252.2 356.4L253.0 356.0L253.8 355.8L254.6 355.7L255.3 355.8L255.9 356.0L256.7 356.8L257.4 358.1L258.0 359.9L258.4 362.0L258.8 364.3L259.2 366.8L259.6 369.4L260.0 372.0L260.8 376.7L261.4 382.0L262.1 387.7L262.7 393.8L263.3 400.2L263.9 406.7L264.4 413.4L265.0 420.0L265.7 428.2L266.3 436.9L266.9 446.0L267.4 455.2L268.0 464.3L268.6 473.3L269.3 481.9L270.0 490.0L270.6 496.7L271.3 504.0L271.9 511.5L272.6 518.6L273.3 525.0L274.0 530.1L274.8 533.5L275.5 534.8L276.2 533.9L276.8 531.3L277.5 527.5L278.3 522.7L279.0 517.2L279.7 511.4L280.3 505.5L281.0 500.0L281.9 491.5L282.8 482.2L283.7 472.2L284.5 461.7L285.3 451.1L286.2 440.4L287.1 430.0L288.0 420.0L288.9 410.8L289.8 401.3L290.8 391.8L291.8 382.5L292.8 373.4L293.8 364.9L294.9 357.0L296.0 350.0L296.7 346.1L297.3 342.4L297.9 338.8L298.6 335.5L299.3 332.4L300.1 329.6L301.0 327.1L302.0 325.0L302.6 323.9L303.3 322.9L304.1 321.9L304.8 321.1L305.6 320.4L306.3 319.9L307.0 319.6L307.6 319.6L308.4 320.3L309.2 321.8L309.8 324.0L310.3 326.7L310.7 329.7L311.2 333.1L311.6 336.5L312.0 340.0L312.8 347.5L313.4 356.3L313.9 366.1L314.4 376.7L314.8 387.7L315.1 398.8L315.5 409.6L316.0 420.0L316.5 430.1L316.9 440.2L317.4 450.4L317.9 460.6L318.3 470.7L318.8 480.7L319.4 490.5L320.0 500.0L320.6 509.0L321.2 519.1L321.8 529.5L322.5 539.5L323.2 548.5L323.9 555.8L324.7 560.7L325.5 562.5L326.1 561.7L326.8 559.4L327.6 555.9L328.3 551.5L329.0 546.4L329.7 540.9L330.4 535.4L331.0 530.0L331.9 520.2L332.6 508.9L333.3 496.6L333.8 483.6L334.3 470.1L334.9 456.5L335.4 443.0L336.0 430.0L336.7 416.8L337.3 403.1L337.9 389.3L338.5 375.5L339.2 362.0L339.9 348.9L340.7 336.5L341.6 325.0L342.3 317.2L343.0 309.7L343.7 302.5L344.5 295.6L345.3 288.9L346.2 282.4L347.1 276.1L348.0 270.0L348.8 265.2L349.7 260.7L350.5 256.3L351.5 252.0L352.4 247.8L353.3 243.6L354.2 239.3L355.0 235.0L355.8 230.5L356.7 225.9L357.6 221.2L358.4 216.5L359.2 212.0L359.9 207.7L360.5 203.6L361.0 200.0L361.2 198.0L361.4 196.1L361.5 194.3L361.6 192.6L361.7 191.0L361.8 189.4L361.9 187.7L362.0 186.0M361.6 186.0L361.6 775.0M363.0 775.0L363.1 763.0L363.2 750.7L363.4 738.4L363.5 726.1L363.6 714.0L363.7 702.2L363.9 690.8L364.0 680.0L364.1 671.6L364.1 663.3L364.1 655.2L364.1 647.3L364.1 639.7L364.3 632.6L364.5 626.0L365.0 620.0L365.3 616.6L365.7 613.4L366.0 610.3L366.4 607.4L366.9 604.7L367.4 602.2L368.1 599.9L369.0 598.0L369.6 596.9L370.3 595.9L371.0 595.1L371.7 594.2L372.5 593.5L373.3 592.9L374.1 592.4L375.0 592.0L375.8 591.7L376.7 591.5L377.6 591.3L378.6 591.3L379.5 591.3L380.4 591.4L381.2 591.7L382.0 592.0L382.8 592.5L383.5 593.2L384.2 594.0L384.9 594.9L385.5 596.0L386.0 597.2L386.5 598.5L387.0 600.0L387.9 604.0L388.4 608.9L388.6 614.5L388.7 620.8L388.6 627.7L388.5 634.9L388.4 642.4L388.5 650.0L388.7 662.9L388.8 677.3L388.9 692.8L389.0 709.0L389.1 725.7L389.1 742.4L389.2 759.0L389.3 775.0M389.3 194.9L390.4 198.5L391.5 208.5L392.6 222.9L393.7 239.0L394.8 253.4L395.9 263.4L397.0 267.0L398.0 266.4L399.0 264.7L400.1 261.8L401.1 257.9L402.1 252.9L403.1 246.8L404.2 239.8L405.2 232.0L406.2 223.3L407.2 214.0L408.2 204.0L409.3 193.5L410.3 185.7M410.3 777.8L410.3 762.8L411.3 751.6L412.3 740.3L413.4 728.8L414.4 717.5L415.4 706.3L416.4 695.5L417.5 685.0L418.5 675.0L419.5 665.7L420.5 657.0L421.5 649.2L422.6 642.2L423.6 636.1L424.6 631.1L425.6 627.2L426.7 624.3L427.7 622.6L428.7 622.0L429.7 623.1L430.7 626.3L431.7 631.6L432.7 638.9L433.7 648.0L434.7 658.7L435.7 670.7L436.7 683.8L437.7 697.7L438.7 712.1L439.8 726.6L440.8 741.0L441.8 754.9L442.8 768.0L443.8 777.8M443.8 185.7L443.8 199.9L444.8 210.6L445.8 219.7L446.8 227.0L447.8 232.3L448.8 235.5L449.8 236.6L450.8 235.9L451.8 234.0L452.9 230.7L453.9 226.2L454.9 220.5L455.9 213.8L456.9 206.1L458.0 197.6L459.0 185.7M459.0 777.8L459.0 768.4L460.0 758.6L461.0 748.4L462.0 737.9L463.1 727.3L464.1 716.8L465.1 706.6L466.1 696.8L467.1 687.5L468.2 679.0L469.2 671.3L470.2 664.6L471.2 658.9L472.2 654.4L473.3 651.1L474.3 649.2L475.3 648.5L476.3 649.3L477.3 651.5L478.3 655.2L479.3 660.3L480.3 666.6L481.4 674.1L482.4 682.6L483.4 691.9L484.4 701.8L485.4 712.1L486.4 722.7L487.4 733.3L488.4 743.6L489.4 753.5L490.4 762.8L491.4 771.3L492.5 777.8M492.5 185.7L492.5 198.7L493.5 205.0L494.5 210.1L495.5 213.8L496.5 216.0L497.5 216.8L498.5 216.4L499.5 215.3L500.6 213.4L501.6 210.7L502.6 207.4L503.6 203.4L504.6 198.8L505.7 193.6L506.7 185.7M506.7 777.8L506.7 768.1L507.7 762.0L508.7 755.5L509.7 748.8L510.8 741.8L511.8 734.8L512.8 727.6L513.8 720.6L514.9 713.6L515.9 706.9L516.9 700.4L517.9 694.3L518.9 688.7L520.0 683.5L521.0 678.9L522.0 674.9L523.0 671.6L524.0 668.9L525.1 667.0L526.1 665.9L527.1 665.5L528.1 666.0L529.1 667.6L530.2 670.1L531.2 673.7L532.2 678.1L533.2 683.4L534.3 689.4L535.3 696.0L536.3 703.2L537.4 710.7L538.4 718.6L539.4 726.5L540.4 734.5L541.5 742.4L542.5 749.9L543.5 757.1L544.5 763.7L545.6 769.7L546.6 777.8M546.6 185.7L546.6 194.9L547.6 199.3L548.6 202.9L549.7 205.4L550.7 207.0L551.7 207.5L552.7 207.2L553.7 206.1L554.8 204.5L555.8 202.1L556.8 199.2L557.8 195.7L558.8 185.7M558.8 777.8L558.8 771.7L559.9 767.1L560.9 762.0L561.9 756.6L562.9 750.8L563.9 744.8L565.0 738.5L566.0 732.1L567.0 725.6L568.0 719.1L569.0 712.7L570.1 706.4L571.1 700.4L572.1 694.6L573.1 689.2L574.1 684.1L575.2 679.5L576.2 675.4L577.2 671.9L578.2 669.0L579.2 666.6L580.3 665.0L581.3 663.9L582.3 663.6L583.3 664.1L584.4 665.6L585.4 668.1L586.4 671.5L587.4 675.8L588.5 680.9L589.5 686.8L590.5 693.2L591.6 700.1L592.6 707.5L593.6 715.1L594.6 722.8L595.7 730.5L596.7 738.1L597.7 745.5L598.8 752.4L599.8 758.8L600.8 764.7L601.9 769.8L602.9 777.8M602.9 185.7L602.9 194.0L603.9 197.4L604.9 199.9L606.0 201.4L607.0 201.9L608.0 201.4L609.0 199.8L610.0 197.3L611.0 193.8L612.1 185.7M612.1 777.8L612.1 769.4L613.1 764.2L614.1 758.1L615.1 751.5L616.1 744.2L617.1 736.5L618.1 728.5L619.1 720.3L620.2 712.1L621.2 703.9L622.2 695.9L623.2 688.2L624.2 680.9L625.2 674.3L626.2 668.2L627.2 663.0L628.3 658.5L629.3 655.0L630.3 652.5L631.3 650.9L632.3 650.4L633.3 651.0L634.4 652.8L635.4 655.8L636.4 659.9L637.4 665.0L638.5 671.1L639.5 678.1L640.5 685.8L641.6 694.1L642.6 702.9L643.6 712.0L644.6 721.2L645.7 730.4L646.7 739.5L647.7 748.3L648.8 756.6L649.8 764.3L650.8 771.3L651.9 777.8M651.9 185.7L651.9 197.3L652.9 202.4L653.9 206.5L654.9 209.5L656.0 211.3L657.0 211.9L658.0 211.3L659.0 209.5L660.0 206.6L661.0 202.6L662.0 197.6L663.0 185.7M663.0 777.8L663.0 771.7L664.0 764.8L665.0 757.2L666.0 748.9L667.0 740.2L668.0 731.1L669.0 721.7L670.0 712.3L671.0 702.9L672.0 693.8L673.0 685.1L674.0 676.8L675.0 669.2L676.0 662.3L677.0 656.3L678.0 651.3L679.0 647.3L680.0 644.4L681.0 642.6L682.0 642.0L683.0 644.8L684.1 653.0L685.1 665.8L686.1 682.3L687.1 701.2L688.2 720.8L689.2 739.7L690.2 756.2L691.2 769.0L692.3 777.8M692.3 185.7L692.3 197.1L693.3 199.9M693.3 186.0L693.3 775.0M693.3 199.9L694.3 201.3L695.3 205.3L696.4 211.6L697.4 219.6L698.4 228.4L699.4 237.2L700.4 245.2L701.5 251.5L702.5 255.5L703.5 256.9L704.5 256.5L705.5 255.1L706.5 252.9L707.6 249.8L708.6 246.0L709.6 241.3L710.6 235.8L711.6 229.7L712.6 222.9L713.7 215.5L714.7 207.7L715.7 199.3L716.7 185.7M716.7 777.8L716.7 770.7L717.7 761.7L718.7 752.5L719.7 743.2L720.8 733.8L721.8 724.5L722.8 715.3L723.8 706.3L724.8 697.6L725.8 689.2L726.8 681.4L727.9 674.0L728.9 667.2L729.9 661.1L730.9 655.6L731.9 650.9L732.9 647.1L734.0 644.0L735.0 641.8L736.0 640.4L737.0 640.0L738.0 641.7L739.0 646.9L740.0 655.3L741.0 666.5L742.0 680.0L743.0 695.3L744.0 711.6L745.0 728.4L746.0 744.7L747.0 760.0L748.0 777.8M748.0 185.7L748.0 193.4L749.0 204.6L750.0 213.0L751.0 218.2L752.0 219.9L753.0 216.9L754.0 208.2L755.0 195.2L756.0 185.7M756.0 777.8L756.0 760.0L757.0 744.7L758.0 731.7L759.0 723.0L760.0 720.0L761.0 724.7L762.0 737.5L763.0 755.0L764.0 777.8M764.0 185.7L764.0 192.4L765.0 205.2L766.0 209.9M766.0 200.0L766.0 775.0M767.8 601.0L768.4 598.9L769.0 596.8L769.6 594.6L770.1 592.4L770.8 590.3L771.4 588.4L772.2 586.6L773.0 585.0L773.7 584.0L774.4 582.9L775.2 581.9L776.0 581.0L776.8 580.2L777.6 579.6L778.4 579.2L779.2 579.0L779.9 579.1L780.6 579.4L781.4 579.9L782.1 580.5L782.8 581.2L783.5 581.8L784.3 582.5L785.0 583.0L785.7 583.5L786.4 584.0L787.2 584.6L787.9 585.1L788.6 585.6L789.3 585.9L789.9 586.1L790.5 586.0L791.1 585.6L791.6 585.0L792.1 584.1L792.6 583.0L793.0 581.8L793.4 580.7L793.8 579.5L794.3 578.5M794.3 578.5L796.2 412.0L797.0 302.0M797.0 302.0L797.5 301.2L798.0 300.3L798.4 299.3L798.9 298.3L799.3 297.5L799.9 296.8L800.4 296.2L801.0 296.0L801.8 296.0L802.7 296.3L803.6 296.9L804.6 297.6L805.5 298.5L806.5 299.6L807.3 300.8L808.0 302.0L809.1 305.0L809.8 308.6L810.1 312.8L810.3 317.6L810.3 322.8L810.3 328.3L810.3 334.1L810.5 340.0L810.9 351.1L811.2 363.9L811.4 377.8L811.6 392.5L811.7 407.5L811.9 422.4L812.1 436.7L812.3 450.0L812.5 460.8L812.7 471.6L812.9 482.3L813.0 492.8L813.2 502.9L813.5 512.5L813.7 521.6L814.0 530.0L814.2 535.4L814.3 540.6L814.3 545.7L814.5 550.6L814.6 555.1L814.9 559.2L815.4 562.9L816.0 566.0L816.4 567.4L816.8 568.8L817.3 570.1L817.8 571.3L818.3 572.4L818.8 573.2L819.4 573.8L820.0 574.0L820.7 573.9L821.4 573.4L822.2 572.7L823.0 571.7L823.8 570.6L824.6 569.4L825.3 568.2L826.0 567.0L826.8 565.5L827.5 563.9L828.2 562.1L828.8 560.3L829.4 558.4L830.0 556.3L830.5 554.2L831.0 552.0L831.7 548.6L832.3 545.0L832.8 541.2L833.3 537.2L833.7 533.0L834.2 528.8L834.6 524.4L835.0 520.0L835.5 514.5L836.0 508.8L836.5 502.9L836.9 496.9L837.3 490.7L837.7 484.5L838.2 478.3L838.6 472.0L839.1 465.1L839.6 458.1L840.0 450.9L840.5 443.7L841.0 436.5L841.4 429.3L841.9 422.1L842.4 415.0L842.8 408.0L843.3 400.8L843.7 393.6L844.1 386.5L844.5 379.5L845.0 372.7L845.6 366.1L846.2 360.0L846.7 355.2L847.3 349.9L847.9 344.6L848.5 339.6L849.2 335.1L849.9 331.4L850.7 329.0L851.5 328.0L852.0 328.2L852.6 328.8L853.2 329.8L853.8 331.1L854.4 332.6L855.0 334.3L855.5 336.2L856.0 338.0L856.9 343.0L857.7 349.3L858.2 356.5L858.6 364.5L859.0 372.8L859.3 381.4L859.6 389.9L860.0 398.0L860.5 406.8L860.9 415.8L861.3 425.1L861.8 434.4L862.2 443.7L862.6 452.8L863.0 461.6L863.5 470.0L863.9 476.9L864.2 483.7L864.6 490.5L865.0 497.2L865.4 503.5L865.8 509.5L866.4 515.0L867.0 520.0L867.4 522.9L867.8 526.0L868.3 528.9L868.8 531.7L869.3 534.2L869.8 536.1L870.4 537.5L871.0 538.0L871.5 537.9L871.9 537.5L872.5 536.8L873.0 535.9L873.5 534.8L874.0 533.6L874.5 532.3L875.0 531.0L876.0 527.1L876.8 522.0L877.5 516.1L878.2 509.6L878.7 502.6L879.3 495.6L879.9 488.6L880.5 482.0L881.2 475.0L881.9 467.8L882.5 460.6L883.2 453.2L883.9 445.9L884.6 438.7L885.3 431.7L886.0 425.0L886.6 419.4L887.3 413.7L887.9 408.2L888.6 402.8L889.3 397.5L890.0 392.4L890.8 387.6L891.6 383.0L892.2 379.5L892.8 375.9L893.3 372.3L893.9 368.8L894.6 365.7L895.3 363.1L896.2 361.1L897.3 360.0L897.9 359.8L898.6 359.7L899.4 359.8L900.2 360.0L901.0 360.4L901.7 360.8L902.4 361.4L903.0 362.0L903.9 363.5L904.6 365.5L905.1 367.9L905.6 370.6L905.9 373.6L906.2 376.7L906.6 379.8L907.0 383.0L907.7 387.7L908.4 392.9L909.1 398.3L909.8 404.0L910.4 409.8L911.1 415.7L911.8 421.4L912.5 427.0L913.2 432.5L913.8 438.0L914.5 443.6L915.1 449.2L915.8 454.7L916.5 460.0L917.2 465.2L918.0 470.0L918.6 473.9L919.3 478.0L919.9 482.2L920.6 486.2L921.3 489.8L922.1 492.7L923.0 494.9L924.0 496.0L924.5 496.1L925.0 496.1L925.5 496.0L926.0 495.8L926.5 495.5L927.1 495.0L927.5 494.5L928.0 494.0L929.0 492.1L929.8 489.5L930.5 486.2L931.1 482.5L931.7 478.5L932.3 474.3L932.8 470.1L933.5 466.0L934.4 460.8L935.3 455.2L936.2 449.4L937.2 443.5L938.1 437.5L939.1 431.5L940.0 425.7L941.0 420.0L941.9 414.7L942.8 409.4L943.7 404.0L944.6 398.7L945.6 393.5L946.5 388.6L947.5 384.1L948.5 380.0L949.2 377.4L949.8 374.7L950.5 372.0L951.2 369.5L951.9 367.3L952.6 365.6L953.3 364.4L954.0 364.0L954.8 364.5L955.5 365.8L956.3 367.7L957.1 370.2L957.9 373.0L958.6 376.0L959.3 379.1L960.0 382.0L960.9 386.6L961.7 391.7L962.4 397.2L963.1 403.0L963.7 409.0L964.3 415.1L964.9 421.1L965.5 427.0L966.2 433.3L966.8 440.0L967.5 446.7L968.1 453.4L968.7 460.1L969.4 466.5L970.2 472.5L971.0 478.0L971.6 481.7L972.2 485.4L972.7 488.9L973.4 492.4L974.0 495.5L974.8 498.4L975.7 500.9L976.7 503.0L977.3 504.0L978.1 505.0L978.8 505.9L979.6 506.7L980.4 507.3L981.1 507.8L981.8 508.0L982.5 508.0L983.5 507.2L984.3 505.5L985.1 503.1L985.8 500.2L986.4 497.0L987.0 493.6L987.6 490.2L988.2 487.0L989.0 482.7L989.8 478.2L990.5 473.5L991.2 468.5L991.8 463.5L992.5 458.3L993.1 453.2L993.8 448.0L994.5 442.2L995.3 436.3L996.0 430.2L996.7 424.1L997.4 418.0L998.1 411.9L998.8 405.9L999.5 400.0L1000.2 394.5L1000.8 389.0L1001.4 383.5L1002.1 378.1L1002.8 372.7L1003.5 367.6L1004.2 362.7L1005.0 358.0L1005.6 354.5L1006.2 350.9L1006.7 347.3L1007.3 343.9L1008.0 340.7L1008.8 338.0L1009.7 335.7L1010.8 334.0L1011.4 333.4L1012.2 332.8L1012.9 332.4L1013.7 332.0L1014.5 331.8L1015.2 331.7L1015.9 331.8L1016.5 332.0L1017.4 333.0L1018.1 334.6L1018.6 336.8L1019.0 339.4L1019.3 342.3L1019.6 345.5L1019.9 348.8L1020.3 352.0L1020.9 357.9L1021.5 364.5L1022.0 371.8L1022.4 379.5L1022.8 387.5L1023.2 395.7L1023.6 403.9L1024.0 412.0L1024.5 421.3L1025.0 431.1L1025.4 441.0L1025.9 451.1L1026.3 461.1L1026.8 471.1L1027.3 480.7L1027.8 490.0L1028.2 497.9L1028.6 505.8L1028.9 513.6L1029.3 521.3L1029.7 528.7L1030.2 535.7L1030.8 542.2L1031.6 548.0L1032.1 551.5L1032.7 555.1L1033.2 558.7L1033.9 562.0L1034.5 565.0L1035.3 567.4L1036.2 569.1L1037.2 570.0L1037.9 570.1L1038.6 570.0L1039.3 569.7L1040.1 569.2L1040.9 568.5L1041.7 567.8L1042.4 566.9L1043.0 566.0L1044.0 563.7L1044.8 560.7L1045.4 557.1L1045.8 553.1L1046.1 548.8L1046.4 544.3L1046.6 539.6L1047.0 535.0L1047.6 528.0L1048.1 520.4L1048.5 512.3L1049.0 503.8L1049.4 495.2L1049.8 486.6L1050.1 478.2L1050.5 470.0L1050.8 462.3L1051.1 454.7L1051.4 447.0L1051.6 439.4L1051.9 431.9L1052.2 424.4L1052.6 417.1L1053.0 410.0L1053.4 403.2L1053.8 395.6L1054.3 387.8L1054.8 380.2L1055.3 373.4L1055.9 367.9L1056.5 364.2L1057.3 362.8L1057.8 363.2L1058.4 364.4L1059.0 366.3L1059.6 368.6L1060.3 371.3L1060.9 374.2L1061.5 377.2L1062.0 380.0L1062.8 385.0L1063.5 390.5L1064.1 396.6L1064.7 403.1L1065.3 409.8L1065.8 416.6L1066.4 423.4L1067.0 430.0L1067.7 437.4L1068.3 445.2L1069.0 453.2L1069.6 461.2L1070.3 469.1L1071.1 476.6L1072.0 483.7L1073.0 490.0L1073.7 494.1L1074.5 498.4L1075.3 502.7L1076.1 506.8L1077.0 510.4L1077.9 513.2L1078.9 515.2L1080.0 516.0L1080.8 515.8L1081.7 515.1L1082.6 513.9L1083.5 512.4L1084.4 510.6L1085.3 508.7L1086.2 506.8L1087.0 505.0L1088.1 502.2L1089.0 499.2L1089.9 495.8L1090.7 492.3L1091.5 488.7L1092.3 485.1L1093.2 481.5L1094.0 478.0' stroke='#02f6c6' stroke-width='8.33' stroke-dasharray='25 8.33 8.33 8.33'/>
<path d='M240.3 400.0L240.7 397.2L241.2 394.5L241.6 391.7L242.0 388.9L242.4 386.2L242.9 383.4L243.4 380.7L244.0 378.0L244.6 375.3L245.2 372.4L245.8 369.5L246.5 366.6L247.2 363.9L248.0 361.5L248.9 359.5L250.0 358.0L250.7 357.4L251.4 356.8L252.2 356.4L253.0 356.0L253.8 355.8L254.6 355.7L255.3 355.8L255.9 356.0L256.7 356.8L257.4 358.1L258.0 359.9L258.4 362.0L258.8 364.3L259.2 366.8L259.6 369.4L260.0 372.0L260.8 376.7L261.4 382.0L262.1 387.7L262.7 393.8L263.3 400.2L263.9 406.7L264.4 413.4L265.0 420.0L265.7 428.2L266.3 436.9L266.9 446.0L267.4 455.2L268.0 464.3L268.6 473.3L269.3 481.9L270.0 490.0L270.6 496.7L271.3 504.0L271.9 511.5L272.6 518.6L273.3 525.0L274.0 530.1L274.8 533.5L275.5 534.8L276.2 533.9L276.8 531.3L277.5 527.5L278.3 522.7L279.0 517.2L279.7 511.4L280.3 505.5L281.0 500.0L281.9 491.5L282.8 482.2L283.7 472.2L284.5 461.7L285.3 451.1L286.2 440.4L287.1 430.0L288.0 420.0L288.9 410.8L289.8 401.3L290.8 391.8L291.8 382.5L292.8 373.4L293.8 364.9L294.9 357.0L296.0 350.0L296.7 346.1L297.3 342.4L297.9 338.8L298.6 335.5L299.3 332.4L300.1 329.6L301.0 327.1L302.0 325.0L302.6 323.9L303.3 322.9L304.1 321.9L304.8 321.1L305.6 320.4L306.3 319.9L307.0 319.6L307.6 319.6L308.4 320.3L309.2 321.8L309.8 324.0L310.3 326.7L310.7 329.7L311.2 333.1L311.6 336.5L312.0 340.0L312.8 347.5L313.4 356.3L313.9 366.1L314.4 376.7L314.8 387.7L315.1 398.8L315.5 409.6L316.0 420.0L316.5 430.1L316.9 440.2L317.4 450.4L317.9 460.6L318.3 470.7L318.8 480.7L319.4 490.5L320.0 500.0L320.6 509.0L321.2 519.1L321.8 529.5L322.5 539.5L323.2 548.5L323.9 555.8L324.7 560.7L325.5 562.5L326.1 561.7L326.8 559.4L327.6 555.9L328.3 551.5L329.0 546.4L329.7 540.9L330.4 535.4L331.0 530.0L331.9 520.2L332.6 508.9L333.3 496.6L333.8 483.6L334.3 470.1L334.9 456.5L335.4 443.0L336.0 430.0L336.7 416.8L337.3 403.1L337.9 389.3L338.5 375.5L339.2 362.0L339.9 348.9L340.7 336.5L341.6 325.0L342.3 317.2L343.0 309.7L343.7 302.5L344.5 295.6L345.3 288.9L346.2 282.4L347.1 276.1L348.0 270.0L348.8 265.2L349.7 260.7L350.5 256.3L351.5 252.0L352.4 247.8L353.3 243.6L354.2 239.3L355.0 235.0L355.8 230.5L356.7 225.9L357.6 221.2L358.4 216.5L359.2 212.0L359.9 207.7L360.5 203.6L361.0 200.0L361.2 198.0L361.4 196.1L361.5 194.3L361.6 192.6L361.7 191.0L361.8 189.4L361.9 187.7L362.0 186.0M361.6 186.0L361.6 775.0M363.0 775.0L363.1 763.0L363.2 750.7L363.4 738.4L363.5 726.1L363.6 714.0L363.7 702.2L363.9 690.8L364.0 680.0L364.1 671.6L364.1 663.3L364.1 655.2L364.1 647.3L364.1 639.7L364.3 632.6L364.5 626.0L365.0 620.0L365.3 616.6L365.7 613.4L366.0 610.3L366.4 607.4L366.9 604.7L367.4 602.2L368.1 599.9L369.0 598.0L369.6 596.9L370.3 595.9L371.0 595.1L371.7 594.2L372.5 593.5L373.3 592.9L374.1 592.4L375.0 592.0L375.8 591.7L376.7 591.5L377.6 591.3L378.6 591.3L379.5 591.3L380.4 591.4L381.2 591.7L382.0 592.0L382.8 592.5L383.5 593.2L384.2 594.0L384.9 594.9L385.5 596.0L386.0 597.2L386.5 598.5L387.0 600.0L387.9 604.0L388.4 608.9L388.6 614.5L388.7 620.8L388.6 627.7L388.5 634.9L388.4 642.4L388.5 650.0L388.7 662.9L388.8 677.3L388.9 692.8L389.0 709.0L389.1 725.7L389.1 742.4L389.2 759.0L389.3 775.0M389.3 194.9L390.4 198.5L391.5 208.5L392.6 222.9L393.7 239.0L394.8 253.4L395.9 263.4L397.0 267.0L398.0 266.4L399.0 264.7L400.1 261.8L401.1 257.9L402.1 252.9L403.1 246.8L404.2 239.8L405.2 232.0L406.2 223.3L407.2 214.0L408.2 204.0L409.3 193.5L410.3 185.7M410.3 777.8L410.3 762.8L411.3 751.6L412.3 740.3L413.4 728.8L414.4 717.5L415.4 706.3L416.4 695.5L417.5 685.0L418.5 675.0L419.5 665.7L420.5 657.0L421.5 649.2L422.6 642.2L423.6 636.1L424.6 631.1L425.6 627.2L426.7 624.3L427.7 622.6L428.7 622.0L429.7 623.1L430.7 626.3L431.7 631.6L432.7 638.9L433.7 648.0L434.7 658.7L435.7 670.7L436.7 683.8L437.7 697.7L438.7 712.1L439.8 726.6L440.8 741.0L441.8 754.9L442.8 768.0L443.8 777.8M443.8 185.7L443.8 199.9L444.8 210.6L445.8 219.7L446.8 227.0L447.8 232.3L448.8 235.5L449.8 236.6L450.8 235.9L451.8 234.0L452.9 230.7L453.9 226.2L454.9 220.5L455.9 213.8L456.9 206.1L458.0 197.6L459.0 185.7M459.0 777.8L459.0 768.4L460.0 758.6L461.0 748.4L462.0 737.9L463.1 727.3L464.1 716.8L465.1 706.6L466.1 696.8L467.1 687.5L468.2 679.0L469.2 671.3L470.2 664.6L471.2 658.9L472.2 654.4L473.3 651.1L474.3 649.2L475.3 648.5L476.3 649.3L477.3 651.5L478.3 655.2L479.3 660.3L480.3 666.6L481.4 674.1L482.4 682.6L483.4 691.9L484.4 701.8L485.4 712.1L486.4 722.7L487.4 733.3L488.4 743.6L489.4 753.5L490.4 762.8L491.4 771.3L492.5 777.8M492.5 185.7L492.5 198.7L493.5 205.0L494.5 210.1L495.5 213.8L496.5 216.0L497.5 216.8L498.5 216.4L499.5 215.3L500.6 213.4L501.6 210.7L502.6 207.4L503.6 203.4L504.6 198.8L505.7 193.6L506.7 185.7M506.7 777.8L506.7 768.1L507.7 762.0L508.7 755.5L509.7 748.8L510.8 741.8L511.8 734.8L512.8 727.6L513.8 720.6L514.9 713.6L515.9 706.9L516.9 700.4L517.9 694.3L518.9 688.7L520.0 683.5L521.0 678.9L522.0 674.9L523.0 671.6L524.0 668.9L525.1 667.0L526.1 665.9L527.1 665.5L528.1 666.0L529.1 667.6L530.2 670.1L531.2 673.7L532.2 678.1L533.2 683.4L534.3 689.4L535.3 696.0L536.3 703.2L537.4 710.7L538.4 718.6L539.4 726.5L540.4 734.5L541.5 742.4L542.5 749.9L543.5 757.1L544.5 763.7L545.6 769.7L546.6 777.8M546.6 185.7L546.6 194.9L547.6 199.3L548.6 202.9L549.7 205.4L550.7 207.0L551.7 207.5L552.7 207.2L553.7 206.1L554.8 204.5L555.8 202.1L556.8 199.2L557.8 195.7L558.8 185.7M558.8 777.8L558.8 771.7L559.9 767.1L560.9 762.0L561.9 756.6L562.9 750.8L563.9 744.8L565.0 738.5L566.0 732.1L567.0 725.6L568.0 719.1L569.0 712.7L570.1 706.4L571.1 700.4L572.1 694.6L573.1 689.2L574.1 684.1L575.2 679.5L576.2 675.4L577.2 671.9L578.2 669.0L579.2 666.6L580.3 665.0L581.3 663.9L582.3 663.6L583.3 664.1L584.4 665.6L585.4 668.1L586.4 671.5L587.4 675.8L588.5 680.9L589.5 686.8L590.5 693.2L591.6 700.1L592.6 707.5L593.6 715.1L594.6 722.8L595.7 730.5L596.7 738.1L597.7 745.5L598.8 752.4L599.8 758.8L600.8 764.7L601.9 769.8L602.9 777.8M602.9 185.7L602.9 194.0L603.9 197.4L604.9 199.9L606.0 201.4L607.0 201.9L608.0 201.4L609.0 199.8L610.0 197.3L611.0 193.8L612.1 185.7M612.1 777.8L612.1 769.4L613.1 764.2L614.1 758.1L615.1 751.5L616.1 744.2L617.1 736.5L618.1 728.5L619.1 720.3L620.2 712.1L621.2 703.9L622.2 695.9L623.2 688.2L624.2 680.9L625.2 674.3L626.2 668.2L627.2 663.0L628.3 658.5L629.3 655.0L630.3 652.5L631.3 650.9L632.3 650.4L633.3 651.0L634.4 652.8L635.4 655.8L636.4 659.9L637.4 665.0L638.5 671.1L639.5 678.1L640.5 685.8L641.6 694.1L642.6 702.9L643.6 712.0L644.6 721.2L645.7 730.4L646.7 739.5L647.7 748.3L648.8 756.6L649.8 764.3L650.8 771.3L651.9 777.8M651.9 185.7L651.9 197.3L652.9 202.4L653.9 206.5L654.9 209.5L656.0 211.3L657.0 211.9L658.0 211.3L659.0 209.5L660.0 206.6L661.0 202.6L662.0 197.6L663.0 185.7M663.0 777.8L663.0 771.7L664.0 764.8L665.0 757.2L666.0 748.9L667.0 740.2L668.0 731.1L669.0 721.7L670.0 712.3L671.0 702.9L672.0 693.8L673.0 685.1L674.0 676.8L675.0 669.2L676.0 662.3L677.0 656.3L678.0 651.3L679.0 647.3L680.0 644.4L681.0 642.6L682.0 642.0L683.0 644.8L684.1 653.0L685.1 665.8L686.1 682.3L687.1 701.2L688.2 720.8L689.2 739.7L690.2 756.2L691.2 769.0L692.3 777.8M692.3 185.7L692.3 197.1L693.3 199.9M693.3 186.0L693.3 775.0M693.3 199.9L694.3 201.3L695.3 205.3L696.4 211.6L697.4 219.6L698.4 228.4L699.4 237.2L700.4 245.2L701.5 251.5L702.5 255.5L703.5 256.9L704.5 256.5L705.5 255.1L706.5 252.9L707.6 249.8L708.6 246.0L709.6 241.3L710.6 235.8L711.6 229.7L712.6 222.9L713.7 215.5L714.7 207.7L715.7 199.3L716.7 185.7M716.7 777.8L716.7 770.7L717.7 761.7L718.7 752.5L719.7 743.2L720.8 733.8L721.8 724.5L722.8 715.3L723.8 706.3L724.8 697.6L725.8 689.2L726.8 681.4L727.9 674.0L728.9 667.2L729.9 661.1L730.9 655.6L731.9 650.9L732.9 647.1L734.0 644.0L735.0 641.8L736.0 640.4L737.0 640.0L738.0 641.7L739.0 646.9L740.0 655.3L741.0 666.5L742.0 680.0L743.0 695.3L744.0 711.6L745.0 728.4L746.0 744.7L747.0 760.0L748.0 777.8M748.0 185.7L748.0 193.4L749.0 204.6L750.0 213.0L751.0 218.2L752.0 219.9L753.0 216.9L754.0 208.2L755.0 195.2L756.0 185.7M756.0 777.8L756.0 760.0L757.0 744.7L758.0 731.7L759.0 723.0L760.0 720.0L761.0 724.7L762.0 737.5L763.0 755.0L764.0 777.8M764.0 185.7L764.0 192.4L765.0 205.2L766.0 209.9M766.0 200.0L766.0 775.0M767.8 601.0L768.4 598.9L769.0 596.8L769.6 594.6L770.1 592.4L770.8 590.3L771.4 588.4L772.2 586.6L773.0 585.0L773.7 584.0L774.4 582.9L775.2 581.9L776.0 581.0L776.8 580.2L777.6 579.6L778.4 579.2L779.2 579.0L779.9 579.1L780.6 579.4L781.4 579.9L782.1 580.5L782.8 581.2L783.5 581.8L784.3 582.5L785.0 583.0L785.7 583.5L786.4 584.0L787.2 584.6L787.9 585.1L788.6 585.6L789.3 585.9L789.9 586.1L790.5 586.0L791.1 585.6L791.6 585.0L792.1 584.1L792.6 583.0L793.0 581.8L793.4 580.7L793.8 579.5L794.3 578.5M794.3 578.5L796.2 412.0L797.0 302.0M797.0 302.0L797.5 301.2L798.0 300.3L798.4 299.3L798.9 298.3L799.3 297.5L799.9 296.8L800.4 296.2L801.0 296.0L801.8 296.0L802.7 296.3L803.6 296.9L804.6 297.6L805.5 298.5L806.5 299.6L807.3 300.8L808.0 302.0L809.1 305.0L809.8 308.6L810.1 312.8L810.3 317.6L810.3 322.8L810.3 328.3L810.3 334.1L810.5 340.0L810.9 351.1L811.2 363.9L811.4 377.8L811.6 392.5L811.7 407.5L811.9 422.4L812.1 436.7L812.3 450.0L812.5 460.8L812.7 471.6L812.9 482.3L813.0 492.8L813.2 502.9L813.5 512.5L813.7 521.6L814.0 530.0L814.2 535.4L814.3 540.6L814.3 545.7L814.5 550.6L814.6 555.1L814.9 559.2L815.4 562.9L816.0 566.0L816.4 567.4L816.8 568.8L817.3 570.1L817.8 571.3L818.3 572.4L818.8 573.2L819.4 573.8L820.0 574.0L820.7 573.9L821.4 573.4L822.2 572.7L823.0 571.7L823.8 570.6L824.6 569.4L825.3 568.2L826.0 567.0L826.8 565.5L827.5 563.9L828.2 562.1L828.8 560.3L829.4 558.4L830.0 556.3L830.5 554.2L831.0 552.0L831.7 548.6L832.3 545.0L832.8 541.2L833.3 537.2L833.7 533.0L834.2 528.8L834.6 524.4L835.0 520.0L835.5 514.5L836.0 508.8L836.5 502.9L836.9 496.9L837.3 490.7L837.7 484.5L838.2 478.3L838.6 472.0L839.1 465.1L839.6 458.1L840.0 450.9L840.5 443.7L841.0 436.5L841.4 429.3L841.9 422.1L842.4 415.0L842.8 408.0L843.3 400.8L843.7 393.6L844.1 386.5L844.5 379.5L845.0 372.7L845.6 366.1L846.2 360.0L846.7 355.2L847.3 349.9L847.9 344.6L848.5 339.6L849.2 335.1L849.9 331.4L850.7 329.0L851.5 328.0L852.0 328.2L852.6 328.8L853.2 329.8L853.8 331.1L854.4 332.6L855.0 334.3L855.5 336.2L856.0 338.0L856.9 343.0L857.7 349.3L858.2 356.5L858.6 364.5L859.0 372.8L859.3 381.4L859.6 389.9L860.0 398.0L860.5 406.8L860.9 415.8L861.3 425.1L861.8 434.4L862.2 443.7L862.6 452.8L863.0 461.6L863.5 470.0L863.9 476.9L864.2 483.7L864.6 490.5L865.0 497.2L865.4 503.5L865.8 509.5L866.4 515.0L867.0 520.0L867.4 522.9L867.8 526.0L868.3 528.9L868.8 531.7L869.3 534.2L869.8 536.1L870.4 537.5L871.0 538.0L871.5 537.9L871.9 537.5L872.5 536.8L873.0 535.9L873.5 534.8L874.0 533.6L874.5 532.3L875.0 531.0L876.0 527.1L876.8 522.0L877.5 516.1L878.2 509.6L878.7 502.6L879.3 495.6L879.9 488.6L880.5 482.0L881.2 475.0L881.9 467.8L882.5 460.6L883.2 453.2L883.9 445.9L884.6 438.7L885.3 431.7L886.0 425.0L886.6 419.4L887.3 413.7L887.9 408.2L888.6 402.8L889.3 397.5L890.0 392.4L890.8 387.6L891.6 383.0L892.2 379.5L892.8 375.9L893.3 372.3L893.9 368.8L894.6 365.7L895.3 363.1L896.2 361.1L897.3 360.0L897.9 359.8L898.6 359.7L899.4 359.8L900.2 360.0L901.0 360.4L901.7 360.8L902.4 361.4L903.0 362.0L903.9 363.5L904.6 365.5L905.1 367.9L905.6 370.6L905.9 373.6L906.2 376.7L906.6 379.8L907.0 383.0L907.7 387.7L908.4 392.9L909.1 398.3L909.8 404.0L910.4 409.8L911.1 415.7L911.8 421.4L912.5 427.0L913.2 432.5L913.8 438.0L914.5 443.6L915.1 449.2L915.8 454.7L916.5 460.0L917.2 465.2L918.0 470.0L918.6 473.9L919.3 478.0L919.9 482.2L920.6 486.2L921.3 489.8L922.1 492.7L923.0 494.9L924.0 496.0L924.5 496.1L925.0 496.1L925.5 496.0L926.0 495.8L926.5 495.5L927.1 495.0L927.5 494.5L928.0 494.0L929.0 492.1L929.8 489.5L930.5 486.2L931.1 482.5L931.7 478.5L932.3 474.3L932.8 470.1L933.5 466.0L934.4 460.8L935.3 455.2L936.2 449.4L937.2 443.5L938.1 437.5L939.1 431.5L940.0 425.7L941.0 420.0L941.9 414.7L942.8 409.4L943.7 404.0L944.6 398.7L945.6 393.5L946.5 388.6L947.5 384.1L948.5 380.0L949.2 377.4L949.8 374.7L950.5 372.0L951.2 369.5L951.9 367.3L952.6 365.6L953.3 364.4L954.0 364.0L954.8 364.5L955.5 365.8L956.3 367.7L957.1 370.2L957.9 373.0L958.6 376.0L959.3 379.1L960.0 382.0L960.9 386.6L961.7 391.7L962.4 397.2L963.1 403.0L963.7 409.0L964.3 415.1L964.9 421.1L965.5 427.0L966.2 433.3L966.8 440.0L967.5 446.7L968.1 453.4L968.7 460.1L969.4 466.5L970.2 472.5L971.0 478.0L971.6 481.7L972.2 485.4L972.7 488.9L973.4 492.4L974.0 495.5L974.8 498.4L975.7 500.9L976.7 503.0L977.3 504.0L978.1 505.0L978.8 505.9L979.6 506.7L980.4 507.3L981.1 507.8L981.8 508.0L982.5 508.0L983.5 507.2L984.3 505.5L985.1 503.1L985.8 500.2L986.4 497.0L987.0 493.6L987.6 490.2L988.2 487.0L989.0 482.7L989.8 478.2L990.5 473.5L991.2 468.5L991.8 463.5L992.5 458.3L993.1 453.2L993.8 448.0L994.5 442.2L995.3 436.3L996.0 430.2L996.7 424.1L997.4 418.0L998.1 411.9L998.8 405.9L999.5 400.0L1000.2 394.5L1000.8 389.0L1001.4 383.5L1002.1 378.1L1002.8 372.7L1003.5 367.6L1004.2 362.7L1005.0 358.0L1005.6 354.5L1006.2 350.9L1006.7 347.3L1007.3 343.9L1008.0 340.7L1008.8 338.0L1009.7 335.7L1010.8 334.0L1011.4 333.4L1012.2 332.8L1012.9 332.4L1013.7 332.0L1014.5 331.8L1015.2 331.7L1015.9 331.8L1016.5 332.0L1017.4 333.0L1018.1 334.6L1018.6 336.8L1019.0 339.4L1019.3 342.3L1019.6 345.5L1019.9 348.8L1020.3 352.0L1020.9 357.9L1021.5 364.5L1022.0 371.8L1022.4 379.5L1022.8 387.5L1023.2 395.7L1023.6 403.9L1024.0 412.0L1024.5 421.3L1025.0 431.1L1025.4 441.0L1025.9 451.1L1026.3 461.1L1026.8 471.1L1027.3 480.7L1027.8 490.0L1028.2 497.9L1028.6 505.8L1028.9 513.6L1029.3 521.3L1029.7 528.7L1030.2 535.7L1030.8 542.2L1031.6 548.0L1032.1 551.5L1032.7 555.1L1033.2 558.7L1033.9 562.0L1034.5 565.0L1035.3 567.4L1036.2 569.1L1037.2 570.0L1037.9 570.1L1038.6 570.0L1039.3 569.7L1040.1 569.2L1040.9 568.5L1041.7 567.8L1042.4 566.9L1043.0 566.0L1044.0 563.7L1044.8 560.7L1045.4 557.1L1045.8 553.1L1046.1 548.8L1046.4 544.3L1046.6 539.6L1047.0 535.0L1047.6 528.0L1048.1 520.4L1048.5 512.3L1049.0 503.8L1049.4 495.2L1049.8 486.6L1050.1 478.2L1050.5 470.0L1050.8 462.3L1051.1 454.7L1051.4 447.0L1051.6 439.4L1051.9 431.9L1052.2 424.4L1052.6 417.1L1053.0 410.0L1053.4 403.2L1053.8 395.6L1054.3 387.8L1054.8 380.2L1055.3 373.4L1055.9 367.9L1056.5 364.2L1057.3 362.8L1057.8 363.2L1058.4 364.4L1059.0 366.3L1059.6 368.6L1060.3 371.3L1060.9 374.2L1061.5 377.2L1062.0 380.0L1062.8 385.0L1063.5 390.5L1064.1 396.6L1064.7 403.1L1065.3 409.8L1065.8 416.6L1066.4 423.4L1067.0 430.0L1067.7 437.4L1068.3 445.2L1069.0 453.2L1069.6 461.2L1070.3 469.1L1071.1 476.6L1072.0 483.7L1073.0 490.0L1073.7 494.1L1074.5 498.4L1075.3 502.7L1076.1 506.8L1077.0 510.4L1077.9 513.2L1078.9 515.2L1080.0 516.0L1080.8 515.8L1081.7 515.1L1082.6 513.9L1083.5 512.4L1084.4 510.6L1085.3 508.7L1086.2 506.8L1087.0 505.0L1088.1 502.2L1089.0 499.2L1089.9 495.8L1090.7 492.3L1091.5 488.7L1092.3 485.1L1093.2 481.5L1094.0 478.0' stroke='#000' stroke-width='2.78' stroke-dasharray='25 8.33 8.33 8.33'/>
</g>
<line x1='293.59' y1='191.70' x2='293.59' y2='197.30' stroke='#000' stroke-width='1.7' stroke-linecap='butt'/>
<line x1='293.59' y1='771.80' x2='293.59' y2='766.20' stroke='#000' stroke-width='1.7' stroke-linecap='butt'/>
<line x1='346.89' y1='191.70' x2='346.89' y2='197.30' stroke='#000' stroke-width='1.7' stroke-linecap='butt'/>
<line x1='346.89' y1='771.80' x2='346.89' y2='766.20' stroke='#000' stroke-width='1.7' stroke-linecap='butt'/>
<line x1='400.18' y1='191.70' x2='400.18' y2='197.30' stroke='#000' stroke-width='1.7' stroke-linecap='butt'/>
<line x1='400.18' y1='771.80' x2='400.18' y2='766.20' stroke='#000' stroke-width='1.7' stroke-linecap='butt'/>
<line x1='453.48' y1='191.70' x2='453.48' y2='201.40' stroke='#000' stroke-width='2.2' stroke-linecap='butt'/>
<line x1='453.48' y1='771.80' x2='453.48' y2='762.10' stroke='#000' stroke-width='2.2' stroke-linecap='butt'/>
<line x1='506.77' y1='191.70' x2='506.77' y2='197.30' stroke='#000' stroke-width='1.7' stroke-linecap='butt'/>
<line x1='506.77' y1='771.80' x2='506.77' y2='766.20' stroke='#000' stroke-width='1.7' stroke-linecap='butt'/>
<line x1='560.06' y1='191.70' x2='560.06' y2='197.30' stroke='#000' stroke-width='1.7' stroke-linecap='butt'/>
<line x1='560.06' y1='771.80' x2='560.06' y2='766.20' stroke='#000' stroke-width='1.7' stroke-linecap='butt'/>
<line x1='613.36' y1='191.70' x2='613.36' y2='197.30' stroke='#000' stroke-width='1.7' stroke-linecap='butt'/>
<line x1='613.36' y1='771.80' x2='613.36' y2='766.20' stroke='#000' stroke-width='1.7' stroke-linecap='butt'/>
<line x1='666.65' y1='191.70' x2='666.65' y2='201.40' stroke='#000' stroke-width='2.2' stroke-linecap='butt'/>
<line x1='666.65' y1='771.80' x2='666.65' y2='762.10' stroke='#000' stroke-width='2.2' stroke-linecap='butt'/>
<line x1='719.94' y1='191.70' x2='719.94' y2='197.30' stroke='#000' stroke-width='1.7' stroke-linecap='butt'/>
<line x1='719.94' y1='771.80' x2='719.94' y2='766.20' stroke='#000' stroke-width='1.7' stroke-linecap='butt'/>
<line x1='773.24' y1='191.70' x2='773.24' y2='197.30' stroke='#000' stroke-width='1.7' stroke-linecap='butt'/>
<line x1='773.24' y1='771.80' x2='773.24' y2='766.20' stroke='#000' stroke-width='1.7' stroke-linecap='butt'/>
<line x1='826.53' y1='191.70' x2='826.53' y2='197.30' stroke='#000' stroke-width='1.7' stroke-linecap='butt'/>
<line x1='826.53' y1='771.80' x2='826.53' y2='766.20' stroke='#000' stroke-width='1.7' stroke-linecap='butt'/>
<line x1='879.83' y1='191.70' x2='879.83' y2='201.40' stroke='#000' stroke-width='2.2' stroke-linecap='butt'/>
<line x1='879.83' y1='771.80' x2='879.83' y2='762.10' stroke='#000' stroke-width='2.2' stroke-linecap='butt'/>
<line x1='933.12' y1='191.70' x2='933.12' y2='197.30' stroke='#000' stroke-width='1.7' stroke-linecap='butt'/>
<line x1='933.12' y1='771.80' x2='933.12' y2='766.20' stroke='#000' stroke-width='1.7' stroke-linecap='butt'/>
<line x1='986.41' y1='191.70' x2='986.41' y2='197.30' stroke='#000' stroke-width='1.7' stroke-linecap='butt'/>
<line x1='986.41' y1='771.80' x2='986.41' y2='766.20' stroke='#000' stroke-width='1.7' stroke-linecap='butt'/>
<line x1='1039.71' y1='191.70' x2='1039.71' y2='197.30' stroke='#000' stroke-width='1.7' stroke-linecap='butt'/>
<line x1='1039.71' y1='771.80' x2='1039.71' y2='766.20' stroke='#000' stroke-width='1.7' stroke-linecap='butt'/>
<line x1='240.30' y1='753.67' x2='245.90' y2='753.67' stroke='#000' stroke-width='1.7' stroke-linecap='butt'/>
<line x1='240.30' y1='735.54' x2='250.00' y2='735.54' stroke='#000' stroke-width='2.2' stroke-linecap='butt'/>
<line x1='1093.00' y1='735.54' x2='1083.30' y2='735.54' stroke='#000' stroke-width='2.2' stroke-linecap='butt'/>
<line x1='240.30' y1='717.42' x2='245.90' y2='717.42' stroke='#000' stroke-width='1.7' stroke-linecap='butt'/>
<line x1='240.30' y1='699.29' x2='245.90' y2='699.29' stroke='#000' stroke-width='1.7' stroke-linecap='butt'/>
<line x1='240.30' y1='681.16' x2='245.90' y2='681.16' stroke='#000' stroke-width='1.7' stroke-linecap='butt'/>
<line x1='240.30' y1='663.03' x2='250.00' y2='663.03' stroke='#000' stroke-width='2.2' stroke-linecap='butt'/>
<line x1='1093.00' y1='663.03' x2='1083.30' y2='663.03' stroke='#000' stroke-width='2.2' stroke-linecap='butt'/>
<line x1='240.30' y1='644.90' x2='245.90' y2='644.90' stroke='#000' stroke-width='1.7' stroke-linecap='butt'/>
<line x1='240.30' y1='626.77' x2='245.90' y2='626.77' stroke='#000' stroke-width='1.7' stroke-linecap='butt'/>
<line x1='240.30' y1='608.65' x2='245.90' y2='608.65' stroke='#000' stroke-width='1.7' stroke-linecap='butt'/>
<line x1='240.30' y1='590.52' x2='250.00' y2='590.52' stroke='#000' stroke-width='2.2' stroke-linecap='butt'/>
<line x1='1093.00' y1='590.52' x2='1083.30' y2='590.52' stroke='#000' stroke-width='2.2' stroke-linecap='butt'/>
<line x1='240.30' y1='572.39' x2='245.90' y2='572.39' stroke='#000' stroke-width='1.7' stroke-linecap='butt'/>
<line x1='240.30' y1='554.26' x2='245.90' y2='554.26' stroke='#000' stroke-width='1.7' stroke-linecap='butt'/>
<line x1='240.30' y1='536.13' x2='245.90' y2='536.13' stroke='#000' stroke-width='1.7' stroke-linecap='butt'/>
<line x1='240.30' y1='518.01' x2='250.00' y2='518.01' stroke='#000' stroke-width='2.2' stroke-linecap='butt'/>
<line x1='1093.00' y1='518.01' x2='1083.30' y2='518.01' stroke='#000' stroke-width='2.2' stroke-linecap='butt'/>
<line x1='240.30' y1='499.88' x2='245.90' y2='499.88' stroke='#000' stroke-width='1.7' stroke-linecap='butt'/>
<line x1='240.30' y1='481.75' x2='245.90' y2='481.75' stroke='#000' stroke-width='1.7' stroke-linecap='butt'/>
<line x1='240.30' y1='463.62' x2='245.90' y2='463.62' stroke='#000' stroke-width='1.7' stroke-linecap='butt'/>
<line x1='240.30' y1='445.49' x2='250.00' y2='445.49' stroke='#000' stroke-width='2.2' stroke-linecap='butt'/>
<line x1='1093.00' y1='445.49' x2='1083.30' y2='445.49' stroke='#000' stroke-width='2.2' stroke-linecap='butt'/>
<line x1='240.30' y1='427.37' x2='245.90' y2='427.37' stroke='#000' stroke-width='1.7' stroke-linecap='butt'/>
<line x1='240.30' y1='409.24' x2='245.90' y2='409.24' stroke='#000' stroke-width='1.7' stroke-linecap='butt'/>
<line x1='240.30' y1='391.11' x2='245.90' y2='391.11' stroke='#000' stroke-width='1.7' stroke-linecap='butt'/>
<line x1='240.30' y1='372.98' x2='250.00' y2='372.98' stroke='#000' stroke-width='2.2' stroke-linecap='butt'/>
<line x1='1093.00' y1='372.98' x2='1083.30' y2='372.98' stroke='#000' stroke-width='2.2' stroke-linecap='butt'/>
<line x1='240.30' y1='354.85' x2='245.90' y2='354.85' stroke='#000' stroke-width='1.7' stroke-linecap='butt'/>
<line x1='240.30' y1='336.72' x2='245.90' y2='336.72' stroke='#000' stroke-width='1.7' stroke-linecap='butt'/>
<line x1='240.30' y1='318.60' x2='245.90' y2='318.60' stroke='#000' stroke-width='1.7' stroke-linecap='butt'/>
<line x1='240.30' y1='300.47' x2='250.00' y2='300.47' stroke='#000' stroke-width='2.2' stroke-linecap='butt'/>
<line x1='1093.00' y1='300.47' x2='1083.30' y2='300.47' stroke='#000' stroke-width='2.2' stroke-linecap='butt'/>
<line x1='240.30' y1='282.34' x2='245.90' y2='282.34' stroke='#000' stroke-width='1.7' stroke-linecap='butt'/>
<line x1='240.30' y1='264.21' x2='245.90' y2='264.21' stroke='#000' stroke-width='1.7' stroke-linecap='butt'/>
<line x1='240.30' y1='246.08' x2='245.90' y2='246.08' stroke='#000' stroke-width='1.7' stroke-linecap='butt'/>
<line x1='240.30' y1='227.96' x2='250.00' y2='227.96' stroke='#000' stroke-width='2.2' stroke-linecap='butt'/>
<line x1='1093.00' y1='227.96' x2='1083.30' y2='227.96' stroke='#000' stroke-width='2.2' stroke-linecap='butt'/>
<line x1='240.30' y1='209.83' x2='245.90' y2='209.83' stroke='#000' stroke-width='1.7' stroke-linecap='butt'/>
<line x1='1093.00' y1='767.77' x2='1090.40' y2='767.77' stroke='#000' stroke-width='1.1' stroke-linecap='butt'/>
<line x1='1093.00' y1='759.71' x2='1090.40' y2='759.71' stroke='#000' stroke-width='1.1' stroke-linecap='butt'/>
<line x1='1093.00' y1='751.66' x2='1090.40' y2='751.66' stroke='#000' stroke-width='1.1' stroke-linecap='butt'/>
<line x1='1093.00' y1='743.60' x2='1090.40' y2='743.60' stroke='#000' stroke-width='1.1' stroke-linecap='butt'/>
<line x1='1093.00' y1='727.49' x2='1090.40' y2='727.49' stroke='#000' stroke-width='1.1' stroke-linecap='butt'/>
<line x1='1093.00' y1='719.43' x2='1090.40' y2='719.43' stroke='#000' stroke-width='1.1' stroke-linecap='butt'/>
<line x1='1093.00' y1='711.37' x2='1090.40' y2='711.37' stroke='#000' stroke-width='1.1' stroke-linecap='butt'/>
<line x1='1093.00' y1='703.32' x2='1090.40' y2='703.32' stroke='#000' stroke-width='1.1' stroke-linecap='butt'/>
<line x1='1093.00' y1='695.26' x2='1090.40' y2='695.26' stroke='#000' stroke-width='1.1' stroke-linecap='butt'/>
<line x1='1093.00' y1='687.20' x2='1090.40' y2='687.20' stroke='#000' stroke-width='1.1' stroke-linecap='butt'/>
<line x1='1093.00' y1='679.15' x2='1090.40' y2='679.15' stroke='#000' stroke-width='1.1' stroke-linecap='butt'/>
<line x1='1093.00' y1='671.09' x2='1090.40' y2='671.09' stroke='#000' stroke-width='1.1' stroke-linecap='butt'/>
<line x1='1093.00' y1='654.97' x2='1090.40' y2='654.97' stroke='#000' stroke-width='1.1' stroke-linecap='butt'/>
<line x1='1093.00' y1='646.92' x2='1090.40' y2='646.92' stroke='#000' stroke-width='1.1' stroke-linecap='butt'/>
<line x1='1093.00' y1='638.86' x2='1090.40' y2='638.86' stroke='#000' stroke-width='1.1' stroke-linecap='butt'/>
<line x1='1093.00' y1='630.80' x2='1090.40' y2='630.80' stroke='#000' stroke-width='1.1' stroke-linecap='butt'/>
<line x1='1093.00' y1='622.75' x2='1090.40' y2='622.75' stroke='#000' stroke-width='1.1' stroke-linecap='butt'/>
<line x1='1093.00' y1='614.69' x2='1090.40' y2='614.69' stroke='#000' stroke-width='1.1' stroke-linecap='butt'/>
<line x1='1093.00' y1='606.63' x2='1090.40' y2='606.63' stroke='#000' stroke-width='1.1' stroke-linecap='butt'/>
<line x1='1093.00' y1='598.58' x2='1090.40' y2='598.58' stroke='#000' stroke-width='1.1' stroke-linecap='butt'/>
<line x1='1093.00' y1='582.46' x2='1090.40' y2='582.46' stroke='#000' stroke-width='1.1' stroke-linecap='butt'/>
<line x1='1093.00' y1='574.40' x2='1090.40' y2='574.40' stroke='#000' stroke-width='1.1' stroke-linecap='butt'/>
<line x1='1093.00' y1='566.35' x2='1090.40' y2='566.35' stroke='#000' stroke-width='1.1' stroke-linecap='butt'/>
<line x1='1093.00' y1='558.29' x2='1090.40' y2='558.29' stroke='#000' stroke-width='1.1' stroke-linecap='butt'/>
<line x1='1093.00' y1='550.23' x2='1090.40' y2='550.23' stroke='#000' stroke-width='1.1' stroke-linecap='butt'/>
<line x1='1093.00' y1='542.18' x2='1090.40' y2='542.18' stroke='#000' stroke-width='1.1' stroke-linecap='butt'/>
<line x1='1093.00' y1='534.12' x2='1090.40' y2='534.12' stroke='#000' stroke-width='1.1' stroke-linecap='butt'/>
<line x1='1093.00' y1='526.06' x2='1090.40' y2='526.06' stroke='#000' stroke-width='1.1' stroke-linecap='butt'/>
<line x1='1093.00' y1='509.95' x2='1090.40' y2='509.95' stroke='#000' stroke-width='1.1' stroke-linecap='butt'/>
<line x1='1093.00' y1='501.89' x2='1090.40' y2='501.89' stroke='#000' stroke-width='1.1' stroke-linecap='butt'/>
<line x1='1093.00' y1='493.84' x2='1090.40' y2='493.84' stroke='#000' stroke-width='1.1' stroke-linecap='butt'/>
<line x1='1093.00' y1='485.78' x2='1090.40' y2='485.78' stroke='#000' stroke-width='1.1' stroke-linecap='butt'/>
<line x1='1093.00' y1='477.72' x2='1090.40' y2='477.72' stroke='#000' stroke-width='1.1' stroke-linecap='butt'/>
<line x1='1093.00' y1='469.66' x2='1090.40' y2='469.66' stroke='#000' stroke-width='1.1' stroke-linecap='butt'/>
<line x1='1093.00' y1='461.61' x2='1090.40' y2='461.61' stroke='#000' stroke-width='1.1' stroke-linecap='butt'/>
<line x1='1093.00' y1='453.55' x2='1090.40' y2='453.55' stroke='#000' stroke-width='1.1' stroke-linecap='butt'/>
<line x1='1093.00' y1='437.44' x2='1090.40' y2='437.44' stroke='#000' stroke-width='1.1' stroke-linecap='butt'/>
<line x1='1093.00' y1='429.38' x2='1090.40' y2='429.38' stroke='#000' stroke-width='1.1' stroke-linecap='butt'/>
<line x1='1093.00' y1='421.32' x2='1090.40' y2='421.32' stroke='#000' stroke-width='1.1' stroke-linecap='butt'/>
<line x1='1093.00' y1='413.27' x2='1090.40' y2='413.27' stroke='#000' stroke-width='1.1' stroke-linecap='butt'/>
<line x1='1093.00' y1='405.21' x2='1090.40' y2='405.21' stroke='#000' stroke-width='1.1' stroke-linecap='butt'/>
<line x1='1093.00' y1='397.15' x2='1090.40' y2='397.15' stroke='#000' stroke-width='1.1' stroke-linecap='butt'/>
<line x1='1093.00' y1='389.10' x2='1090.40' y2='389.10' stroke='#000' stroke-width='1.1' stroke-linecap='butt'/>
<line x1='1093.00' y1='381.04' x2='1090.40' y2='381.04' stroke='#000' stroke-width='1.1' stroke-linecap='butt'/>
<line x1='1093.00' y1='364.92' x2='1090.40' y2='364.92' stroke='#000' stroke-width='1.1' stroke-linecap='butt'/>
<line x1='1093.00' y1='356.87' x2='1090.40' y2='356.87' stroke='#000' stroke-width='1.1' stroke-linecap='butt'/>
<line x1='1093.00' y1='348.81' x2='1090.40' y2='348.81' stroke='#000' stroke-width='1.1' stroke-linecap='butt'/>
<line x1='1093.00' y1='340.75' x2='1090.40' y2='340.75' stroke='#000' stroke-width='1.1' stroke-linecap='butt'/>
<line x1='1093.00' y1='332.70' x2='1090.40' y2='332.70' stroke='#000' stroke-width='1.1' stroke-linecap='butt'/>
<line x1='1093.00' y1='324.64' x2='1090.40' y2='324.64' stroke='#000' stroke-width='1.1' stroke-linecap='butt'/>
<line x1='1093.00' y1='316.58' x2='1090.40' y2='316.58' stroke='#000' stroke-width='1.1' stroke-linecap='butt'/>
<line x1='1093.00' y1='308.53' x2='1090.40' y2='308.53' stroke='#000' stroke-width='1.1' stroke-linecap='butt'/>
<line x1='1093.00' y1='292.41' x2='1090.40' y2='292.41' stroke='#000' stroke-width='1.1' stroke-linecap='butt'/>
<line x1='1093.00' y1='284.35' x2='1090.40' y2='284.35' stroke='#000' stroke-width='1.1' stroke-linecap='butt'/>
<line x1='1093.00' y1='276.30' x2='1090.40' y2='276.30' stroke='#000' stroke-width='1.1' stroke-linecap='butt'/>
<line x1='1093.00' y1='268.24' x2='1090.40' y2='268.24' stroke='#000' stroke-width='1.1' stroke-linecap='butt'/>
<line x1='1093.00' y1='260.18' x2='1090.40' y2='260.18' stroke='#000' stroke-width='1.1' stroke-linecap='butt'/>
<line x1='1093.00' y1='252.13' x2='1090.40' y2='252.13' stroke='#000' stroke-width='1.1' stroke-linecap='butt'/>
<line x1='1093.00' y1='244.07' x2='1090.40' y2='244.07' stroke='#000' stroke-width='1.1' stroke-linecap='butt'/>
<line x1='1093.00' y1='236.01' x2='1090.40' y2='236.01' stroke='#000' stroke-width='1.1' stroke-linecap='butt'/>
<line x1='1093.00' y1='219.90' x2='1090.40' y2='219.90' stroke='#000' stroke-width='1.1' stroke-linecap='butt'/>
<line x1='1093.00' y1='211.84' x2='1090.40' y2='211.84' stroke='#000' stroke-width='1.1' stroke-linecap='butt'/>
<line x1='1093.00' y1='203.79' x2='1090.40' y2='203.79' stroke='#000' stroke-width='1.1' stroke-linecap='butt'/>
<line x1='1093.00' y1='195.73' x2='1090.40' y2='195.73' stroke='#000' stroke-width='1.1' stroke-linecap='butt'/>
<rect x='240.30' y='191.70' width='852.70' height='580.10' fill='none' stroke='#000' stroke-width='2.2'/>
<text x='229.9' y='239.9' font-size='27.78' text-anchor='end' fill='#000'>-X/-Z</text>
<text x='1102.7' y='238.7' font-size='27.78' text-anchor='start' fill='#000'>315</text>
<text x='229.9' y='312.4' font-size='27.78' text-anchor='end' fill='#000'>-X</text>
<text x='1102.7' y='311.2' font-size='27.78' text-anchor='start' fill='#000'>270</text>
<text x='229.9' y='384.9' font-size='27.78' text-anchor='end' fill='#000'>+Z/-X</text>
<text x='1102.7' y='383.7' font-size='27.78' text-anchor='start' fill='#000'>225</text>
<text x='229.9' y='457.4' font-size='27.78' text-anchor='end' fill='#000'>+Z</text>
<text x='1102.7' y='456.2' font-size='27.78' text-anchor='start' fill='#000'>180</text>
<text x='229.9' y='529.9' font-size='27.78' text-anchor='end' fill='#000'>+X/+Z</text>
<text x='1102.7' y='528.7' font-size='27.78' text-anchor='start' fill='#000'>135</text>
<text x='229.9' y='602.4' font-size='27.78' text-anchor='end' fill='#000'>+X</text>
<text x='1102.7' y='601.2' font-size='27.78' text-anchor='start' fill='#000'>90</text>
<text x='229.9' y='674.9' font-size='27.78' text-anchor='end' fill='#000'>-Z/+X</text>
<text x='1102.7' y='673.7' font-size='27.78' text-anchor='start' fill='#000'>45</text>
<text x='229.9' y='747.4' font-size='27.78' text-anchor='end' fill='#000'>-Z</text>
<text x='1102.7' y='746.2' font-size='27.78' text-anchor='start' fill='#000'>0</text>
<text x='119.5' y='483.4' font-size='27.78' text-anchor='middle' fill='#000' transform='rotate(-90 119.5 483.4)'>S/C Axis</text>
<text x='1184.0' y='481.8' font-size='22.22' text-anchor='middle' fill='#000' transform='rotate(-90 1184.0 481.8)'>Angle from -Z axis (towards +X axis)</text>
<path d='M308 163.2L383.5 163.2' stroke='#02f6c6' stroke-width='8.33' fill='none' stroke-dasharray='25 25'/>
<path d='M308 163.2L383.5 163.2' stroke='#000' stroke-width='2.78' fill='none' stroke-dasharray='25 25'/>
<text x='412.5' y='172.6' font-size='27.78' text-anchor='start' fill='#000'>Anti-ram</text>
<path d='M586.5 163.2L676.5 163.2' stroke='#02f6c6' stroke-width='8.33' fill='none'/>
<path d='M589 163.2L674 163.2' stroke='#000' stroke-width='2.78' fill='none'/>
<text x='696.0' y='172.6' font-size='27.78' text-anchor='start' fill='#000'>Bfield</text>
<path d='M830 163.2L906 163.2' stroke='#02f6c6' stroke-width='8.33' fill='none' stroke-dasharray='25 8.33 8.33 8.33'/>
<path d='M830 163.2L906 163.2' stroke='#000' stroke-width='2.78' fill='none' stroke-dasharray='25 8.33 8.33 8.33'/>
<text x='935.5' y='172.6' font-size='27.78' text-anchor='start' fill='#000'>Zenith</text>
<rect x='1205.20' y='201.80' width='27.00' height='553.00' fill='url(#cb6)' stroke='none' stroke-width='0'/>
<text x='1240.6' y='212.7' font-size='27.78' text-anchor='start' fill='#000'>1e5</text>
<line x1='1232.20' y1='270.93' x2='1222.50' y2='270.93' stroke='#000' stroke-width='2.2' stroke-linecap='butt'/>
<text x='1240.6' y='281.8' font-size='27.78' text-anchor='start' fill='#000'>1e4</text>
<line x1='1232.20' y1='340.05' x2='1222.50' y2='340.05' stroke='#000' stroke-width='2.2' stroke-linecap='butt'/>
<text x='1240.6' y='350.9' font-size='27.78' text-anchor='start' fill='#000'>1e3</text>
<line x1='1232.20' y1='409.18' x2='1222.50' y2='409.18' stroke='#000' stroke-width='2.2' stroke-linecap='butt'/>
<line x1='1232.20' y1='478.30' x2='1222.50' y2='478.30' stroke='#000' stroke-width='2.2' stroke-linecap='butt'/>
<text x='1240.6' y='489.2' font-size='27.78' text-anchor='start' fill='#000'>1e2</text>
<line x1='1232.20' y1='547.42' x2='1222.50' y2='547.42' stroke='#000' stroke-width='2.2' stroke-linecap='butt'/>
<line x1='1232.20' y1='616.55' x2='1222.50' y2='616.55' stroke='#000' stroke-width='2.2' stroke-linecap='butt'/>
<text x='1240.6' y='627.4' font-size='27.78' text-anchor='start' fill='#000'>1e1</text>
<line x1='1232.20' y1='685.67' x2='1222.50' y2='685.67' stroke='#000' stroke-width='2.2' stroke-linecap='butt'/>
<text x='1240.6' y='765.7' font-size='27.78' text-anchor='start' fill='#000'>1e0</text>
<rect x='1205.20' y='201.80' width='27.00' height='553.00' fill='none' stroke='#000' stroke-width='2.2'/>
<text x='1325.7' y='479.8' font-size='27.78' text-anchor='middle' fill='#000' transform='rotate(-90 1325.7 479.8)'>Pixel Counts per Second</text>
<rect x='1205.20' y='810.40' width='27.00' height='553.20' fill='url(#cb6)' stroke='none' stroke-width='0'/>
<text x='1240.6' y='821.3' font-size='27.78' text-anchor='start' fill='#000'>1e5</text>
<line x1='1232.20' y1='879.55' x2='1222.50' y2='879.55' stroke='#000' stroke-width='2.2' stroke-linecap='butt'/>
<text x='1240.6' y='890.4' font-size='27.78' text-anchor='start' fill='#000'>1e4</text>
<line x1='1232.20' y1='948.70' x2='1222.50' y2='948.70' stroke='#000' stroke-width='2.2' stroke-linecap='butt'/>
<text x='1240.6' y='959.6' font-size='27.78' text-anchor='start' fill='#000'>1e3</text>
<line x1='1232.20' y1='1017.85' x2='1222.50' y2='1017.85' stroke='#000' stroke-width='2.2' stroke-linecap='butt'/>
<line x1='1232.20' y1='1087.00' x2='1222.50' y2='1087.00' stroke='#000' stroke-width='2.2' stroke-linecap='butt'/>
<text x='1240.6' y='1097.9' font-size='27.78' text-anchor='start' fill='#000'>1e2</text>
<line x1='1232.20' y1='1156.15' x2='1222.50' y2='1156.15' stroke='#000' stroke-width='2.2' stroke-linecap='butt'/>
<line x1='1232.20' y1='1225.30' x2='1222.50' y2='1225.30' stroke='#000' stroke-width='2.2' stroke-linecap='butt'/>
<text x='1240.6' y='1236.2' font-size='27.78' text-anchor='start' fill='#000'>1e1</text>
<line x1='1232.20' y1='1294.45' x2='1222.50' y2='1294.45' stroke='#000' stroke-width='2.2' stroke-linecap='butt'/>
<text x='1240.6' y='1374.5' font-size='27.78' text-anchor='start' fill='#000'>1e0</text>
<rect x='1205.20' y='810.40' width='27.00' height='553.20' fill='none' stroke='#000' stroke-width='2.2'/>
<text x='1325.7' y='1088.5' font-size='27.78' text-anchor='middle' fill='#000' transform='rotate(-90 1325.7 1088.5)'>TOF Counts per Second</text>
<line x1='293.59' y1='803.00' x2='293.59' y2='1370.50' stroke='#808080' stroke-width='2.2' stroke-linecap='butt' stroke-dasharray='2.2 3.67'/>
<line x1='346.89' y1='803.00' x2='346.89' y2='1370.50' stroke='#808080' stroke-width='2.2' stroke-linecap='butt' stroke-dasharray='2.2 3.67'/>
<line x1='400.18' y1='803.00' x2='400.18' y2='1370.50' stroke='#808080' stroke-width='2.2' stroke-linecap='butt' stroke-dasharray='2.2 3.67'/>
<line x1='453.48' y1='807.00' x2='453.48' y2='1366.50' stroke='#808080' stroke-width='4.17' stroke-linecap='butt' stroke-dasharray='4.17 6.88'/>
<line x1='506.77' y1='803.00' x2='506.77' y2='1370.50' stroke='#808080' stroke-width='2.2' stroke-linecap='butt' stroke-dasharray='2.2 3.67'/>
<line x1='560.06' y1='803.00' x2='560.06' y2='1370.50' stroke='#808080' stroke-width='2.2' stroke-linecap='butt' stroke-dasharray='2.2 3.67'/>
<line x1='613.36' y1='803.00' x2='613.36' y2='1370.50' stroke='#808080' stroke-width='2.2' stroke-linecap='butt' stroke-dasharray='2.2 3.67'/>
<line x1='666.65' y1='807.00' x2='666.65' y2='1366.50' stroke='#808080' stroke-width='4.17' stroke-linecap='butt' stroke-dasharray='4.17 6.88'/>
<line x1='719.94' y1='803.00' x2='719.94' y2='1370.50' stroke='#808080' stroke-width='2.2' stroke-linecap='butt' stroke-dasharray='2.2 3.67'/>
<line x1='773.24' y1='803.00' x2='773.24' y2='1370.50' stroke='#808080' stroke-width='2.2' stroke-linecap='butt' stroke-dasharray='2.2 3.67'/>
<line x1='826.53' y1='803.00' x2='826.53' y2='1370.50' stroke='#808080' stroke-width='2.2' stroke-linecap='butt' stroke-dasharray='2.2 3.67'/>
<line x1='879.83' y1='807.00' x2='879.83' y2='1366.50' stroke='#808080' stroke-width='4.17' stroke-linecap='butt' stroke-dasharray='4.17 6.88'/>
<line x1='933.12' y1='803.00' x2='933.12' y2='1370.50' stroke='#808080' stroke-width='2.2' stroke-linecap='butt' stroke-dasharray='2.2 3.67'/>
<line x1='986.41' y1='803.00' x2='986.41' y2='1370.50' stroke='#808080' stroke-width='2.2' stroke-linecap='butt' stroke-dasharray='2.2 3.67'/>
<line x1='1039.71' y1='803.00' x2='1039.71' y2='1370.50' stroke='#808080' stroke-width='2.2' stroke-linecap='butt' stroke-dasharray='2.2 3.67'/>
<line x1='293.59' y1='797.00' x2='293.59' y2='802.60' stroke='#000' stroke-width='1.7' stroke-linecap='butt'/>
<line x1='293.59' y1='1376.50' x2='293.59' y2='1370.90' stroke='#000' stroke-width='1.7' stroke-linecap='butt'/>
<line x1='346.89' y1='797.00' x2='346.89' y2='802.60' stroke='#000' stroke-width='1.7' stroke-linecap='butt'/>
<line x1='346.89' y1='1376.50' x2='346.89' y2='1370.90' stroke='#000' stroke-width='1.7' stroke-linecap='butt'/>
<line x1='400.18' y1='797.00' x2='400.18' y2='802.60' stroke='#000' stroke-width='1.7' stroke-linecap='butt'/>
<line x1='400.18' y1='1376.50' x2='400.18' y2='1370.90' stroke='#000' stroke-width='1.7' stroke-linecap='butt'/>
<line x1='453.48' y1='797.00' x2='453.48' y2='806.70' stroke='#000' stroke-width='2.2' stroke-linecap='butt'/>
<line x1='453.48' y1='1376.50' x2='453.48' y2='1366.80' stroke='#000' stroke-width='2.2' stroke-linecap='butt'/>
<line x1='506.77' y1='797.00' x2='506.77' y2='802.60' stroke='#000' stroke-width='1.7' stroke-linecap='butt'/>
<line x1='506.77' y1='1376.50' x2='506.77' y2='1370.90' stroke='#000' stroke-width='1.7' stroke-linecap='butt'/>
<line x1='560.06' y1='797.00' x2='560.06' y2='802.60' stroke='#000' stroke-width='1.7' stroke-linecap='butt'/>
<line x1='560.06' y1='1376.50' x2='560.06' y2='1370.90' stroke='#000' stroke-width='1.7' stroke-linecap='butt'/>
<line x1='613.36' y1='797.00' x2='613.36' y2='802.60' stroke='#000' stroke-width='1.7' stroke-linecap='butt'/>
<line x1='613.36' y1='1376.50' x2='613.36' y2='1370.90' stroke='#000' stroke-width='1.7' stroke-linecap='butt'/>
<line x1='666.65' y1='797.00' x2='666.65' y2='806.70' stroke='#000' stroke-width='2.2' stroke-linecap='butt'/>
<line x1='666.65' y1='1376.50' x2='666.65' y2='1366.80' stroke='#000' stroke-width='2.2' stroke-linecap='butt'/>
<line x1='719.94' y1='797.00' x2='719.94' y2='802.60' stroke='#000' stroke-width='1.7' stroke-linecap='butt'/>
<line x1='719.94' y1='1376.50' x2='719.94' y2='1370.90' stroke='#000' stroke-width='1.7' stroke-linecap='butt'/>
<line x1='773.24' y1='797.00' x2='773.24' y2='802.60' stroke='#000' stroke-width='1.7' stroke-linecap='butt'/>
<line x1='773.24' y1='1376.50' x2='773.24' y2='1370.90' stroke='#000' stroke-width='1.7' stroke-linecap='butt'/>
<line x1='826.53' y1='797.00' x2='826.53' y2='802.60' stroke='#000' stroke-width='1.7' stroke-linecap='butt'/>
<line x1='826.53' y1='1376.50' x2='826.53' y2='1370.90' stroke='#000' stroke-width='1.7' stroke-linecap='butt'/>
<line x1='879.83' y1='797.00' x2='879.83' y2='806.70' stroke='#000' stroke-width='2.2' stroke-linecap='butt'/>
<line x1='879.83' y1='1376.50' x2='879.83' y2='1366.80' stroke='#000' stroke-width='2.2' stroke-linecap='butt'/>
<line x1='933.12' y1='797.00' x2='933.12' y2='802.60' stroke='#000' stroke-width='1.7' stroke-linecap='butt'/>
<line x1='933.12' y1='1376.50' x2='933.12' y2='1370.90' stroke='#000' stroke-width='1.7' stroke-linecap='butt'/>
<line x1='986.41' y1='797.00' x2='986.41' y2='802.60' stroke='#000' stroke-width='1.7' stroke-linecap='butt'/>
<line x1='986.41' y1='1376.50' x2='986.41' y2='1370.90' stroke='#000' stroke-width='1.7' stroke-linecap='butt'/>
<line x1='1039.71' y1='797.00' x2='1039.71' y2='802.60' stroke='#000' stroke-width='1.7' stroke-linecap='butt'/>
<line x1='1039.71' y1='1376.50' x2='1039.71' y2='1370.90' stroke='#000' stroke-width='1.7' stroke-linecap='butt'/>
<line x1='240.30' y1='1349.65' x2='245.90' y2='1349.65' stroke='#000' stroke-width='1.7' stroke-linecap='butt'/>
<line x1='1093.00' y1='1349.65' x2='1087.40' y2='1349.65' stroke='#000' stroke-width='1.7' stroke-linecap='butt'/>
<line x1='240.30' y1='1322.03' x2='245.90' y2='1322.03' stroke='#000' stroke-width='1.7' stroke-linecap='butt'/>
<line x1='1093.00' y1='1322.03' x2='1087.40' y2='1322.03' stroke='#000' stroke-width='1.7' stroke-linecap='butt'/>
<line x1='240.30' y1='1294.42' x2='245.90' y2='1294.42' stroke='#000' stroke-width='1.7' stroke-linecap='butt'/>
<line x1='1093.00' y1='1294.42' x2='1087.40' y2='1294.42' stroke='#000' stroke-width='1.7' stroke-linecap='butt'/>
<line x1='240.30' y1='1266.81' x2='245.90' y2='1266.81' stroke='#000' stroke-width='1.7' stroke-linecap='butt'/>
<line x1='1093.00' y1='1266.81' x2='1087.40' y2='1266.81' stroke='#000' stroke-width='1.7' stroke-linecap='butt'/>
<line x1='240.30' y1='1239.19' x2='250.00' y2='1239.19' stroke='#000' stroke-width='2.2' stroke-linecap='butt'/>
<line x1='1093.00' y1='1239.19' x2='1083.30' y2='1239.19' stroke='#000' stroke-width='2.2' stroke-linecap='butt'/>
<line x1='240.30' y1='1211.58' x2='245.90' y2='1211.58' stroke='#000' stroke-width='1.7' stroke-linecap='butt'/>
<line x1='1093.00' y1='1211.58' x2='1087.40' y2='1211.58' stroke='#000' stroke-width='1.7' stroke-linecap='butt'/>
<line x1='240.30' y1='1183.97' x2='245.90' y2='1183.97' stroke='#000' stroke-width='1.7' stroke-linecap='butt'/>
<line x1='1093.00' y1='1183.97' x2='1087.40' y2='1183.97' stroke='#000' stroke-width='1.7' stroke-linecap='butt'/>
<line x1='240.30' y1='1156.36' x2='245.90' y2='1156.36' stroke='#000' stroke-width='1.7' stroke-linecap='butt'/>
<line x1='1093.00' y1='1156.36' x2='1087.40' y2='1156.36' stroke='#000' stroke-width='1.7' stroke-linecap='butt'/>
<line x1='240.30' y1='1128.74' x2='245.90' y2='1128.74' stroke='#000' stroke-width='1.7' stroke-linecap='butt'/>
<line x1='1093.00' y1='1128.74' x2='1087.40' y2='1128.74' stroke='#000' stroke-width='1.7' stroke-linecap='butt'/>
<line x1='240.30' y1='1101.13' x2='250.00' y2='1101.13' stroke='#000' stroke-width='2.2' stroke-linecap='butt'/>
<line x1='1093.00' y1='1101.13' x2='1083.30' y2='1101.13' stroke='#000' stroke-width='2.2' stroke-linecap='butt'/>
<line x1='240.30' y1='1073.52' x2='245.90' y2='1073.52' stroke='#000' stroke-width='1.7' stroke-linecap='butt'/>
<line x1='1093.00' y1='1073.52' x2='1087.40' y2='1073.52' stroke='#000' stroke-width='1.7' stroke-linecap='butt'/>
<line x1='240.30' y1='1045.90' x2='245.90' y2='1045.90' stroke='#000' stroke-width='1.7' stroke-linecap='butt'/>
<line x1='1093.00' y1='1045.90' x2='1087.40' y2='1045.90' stroke='#000' stroke-width='1.7' stroke-linecap='butt'/>
<line x1='240.30' y1='1018.29' x2='245.90' y2='1018.29' stroke='#000' stroke-width='1.7' stroke-linecap='butt'/>
<line x1='1093.00' y1='1018.29' x2='1087.40' y2='1018.29' stroke='#000' stroke-width='1.7' stroke-linecap='butt'/>
<line x1='240.30' y1='990.68' x2='245.90' y2='990.68' stroke='#000' stroke-width='1.7' stroke-linecap='butt'/>
<line x1='1093.00' y1='990.68' x2='1087.40' y2='990.68' stroke='#000' stroke-width='1.7' stroke-linecap='butt'/>
<line x1='240.30' y1='963.07' x2='250.00' y2='963.07' stroke='#000' stroke-width='2.2' stroke-linecap='butt'/>
<line x1='1093.00' y1='963.07' x2='1083.30' y2='963.07' stroke='#000' stroke-width='2.2' stroke-linecap='butt'/>
<line x1='240.30' y1='935.45' x2='245.90' y2='935.45' stroke='#000' stroke-width='1.7' stroke-linecap='butt'/>
<line x1='1093.00' y1='935.45' x2='1087.40' y2='935.45' stroke='#000' stroke-width='1.7' stroke-linecap='butt'/>
<line x1='240.30' y1='907.84' x2='245.90' y2='907.84' stroke='#000' stroke-width='1.7' stroke-linecap='butt'/>
<line x1='1093.00' y1='907.84' x2='1087.40' y2='907.84' stroke='#000' stroke-width='1.7' stroke-linecap='butt'/>
<line x1='240.30' y1='880.23' x2='245.90' y2='880.23' stroke='#000' stroke-width='1.7' stroke-linecap='butt'/>
<line x1='1093.00' y1='880.23' x2='1087.40' y2='880.23' stroke='#000' stroke-width='1.7' stroke-linecap='butt'/>
<line x1='240.30' y1='852.61' x2='245.90' y2='852.61' stroke='#000' stroke-width='1.7' stroke-linecap='butt'/>
<line x1='1093.00' y1='852.61' x2='1087.40' y2='852.61' stroke='#000' stroke-width='1.7' stroke-linecap='butt'/>
<line x1='240.30' y1='825.00' x2='250.00' y2='825.00' stroke='#000' stroke-width='2.2' stroke-linecap='butt'/>
<line x1='1093.00' y1='825.00' x2='1083.30' y2='825.00' stroke='#000' stroke-width='2.2' stroke-linecap='butt'/>
<line x1='240.30' y1='1374.50' x2='250.00' y2='1374.50' stroke='#000' stroke-width='2.2' stroke-linecap='butt'/>
<line x1='1093.00' y1='1374.50' x2='1083.30' y2='1374.50' stroke='#000' stroke-width='2.2' stroke-linecap='butt'/>
<line x1='242.10' y1='801.00' x2='242.10' y2='1374.50' stroke='#000' stroke-width='1.0' stroke-linecap='butt' stroke-dasharray='1.0 1.76' opacity='0.6'/>
<line x1='1091.20' y1='801.00' x2='1091.20' y2='1374.50' stroke='#000' stroke-width='1.0' stroke-linecap='butt' stroke-dasharray='1.0 1.76' opacity='0.6'/>
<rect x='240.30' y='797.00' width='852.70' height='579.50' fill='none' stroke='#000' stroke-width='2.2'/>
<text x='229.3' y='835.6' font-size='27.78' text-anchor='end' fill='#000'>200</text>
<text x='229.3' y='973.7' font-size='27.78' text-anchor='end' fill='#000'>150</text>
<text x='229.3' y='1111.7' font-size='27.78' text-anchor='end' fill='#000'>100</text>
<text x='229.3' y='1249.8' font-size='27.78' text-anchor='end' fill='#000'>50</text>
<text x='229.3' y='1385.5' font-size='27.78' text-anchor='end' fill='#000'>1</text>
<text x='129.5' y='1101.8' font-size='27.78' text-anchor='middle' fill='#000' transform='rotate(-90 129.5 1101.8)'>TOA Bin</text>
<text x='169.4' y='1421.0' font-size='27.78' text-anchor='end' fill='#000'>UT</text>
<text x='250.5' y='1421.0' font-size='27.78' text-anchor='middle' fill='#000'>03:22:10</text>
<text x='460.0' y='1421.0' font-size='27.78' text-anchor='middle' fill='#000'>03:47:27</text>
<text x='669.5' y='1421.0' font-size='27.78' text-anchor='middle' fill='#000'>04:12:44</text>
<text x='879.0' y='1421.0' font-size='27.78' text-anchor='middle' fill='#000'>04:38:01</text>
<text x='1088.5' y='1421.0' font-size='27.78' text-anchor='middle' fill='#000'>05:03:17</text>
<text x='169.4' y='1453.6' font-size='27.78' text-anchor='end' fill='#000'>ALT (km)</text>
<text x='250.5' y='1453.6' font-size='27.78' text-anchor='middle' fill='#000'>473.0</text>
<text x='460.0' y='1453.6' font-size='27.78' text-anchor='middle' fill='#000'>447.1</text>
<text x='669.5' y='1453.6' font-size='27.78' text-anchor='middle' fill='#000'>1024.2</text>
<text x='879.0' y='1453.6' font-size='27.78' text-anchor='middle' fill='#000'>1046.0</text>
<text x='1088.5' y='1453.6' font-size='27.78' text-anchor='middle' fill='#000'>434.8</text>
<text x='169.4' y='1486.1' font-size='27.78' text-anchor='end' fill='#000'>LAT (deg)</text>
<text x='250.5' y='1486.1' font-size='27.78' text-anchor='middle' fill='#000'>-3.6</text>
<text x='460.0' y='1486.1' font-size='27.78' text-anchor='middle' fill='#000'>78.0</text>
<text x='669.5' y='1486.1' font-size='27.78' text-anchor='middle' fill='#000'>-9.5</text>
<text x='879.0' y='1486.1' font-size='27.78' text-anchor='middle' fill='#000'>-80.8</text>
<text x='1088.5' y='1486.1' font-size='27.78' text-anchor='middle' fill='#000'>3.5</text>
<text x='169.4' y='1518.7' font-size='27.78' text-anchor='end' fill='#000'>LON (deg)</text>
<text x='250.5' y='1518.7' font-size='27.78' text-anchor='middle' fill='#000'>-8.7</text>
<text x='460.0' y='1518.7' font-size='27.78' text-anchor='middle' fill='#000'>117.6</text>
<text x='669.5' y='1518.7' font-size='27.78' text-anchor='middle' fill='#000'>160.6</text>
<text x='879.0' y='1518.7' font-size='27.78' text-anchor='middle' fill='#000'>-103.9</text>
<text x='1088.5' y='1518.7' font-size='27.78' text-anchor='middle' fill='#000'>-33.1</text>
<text x='169.4' y='1551.2' font-size='27.78' text-anchor='end' fill='#000'>MLAT (deg)</text>
<text x='250.5' y='1551.2' font-size='27.78' text-anchor='middle' fill='#000'>0.5</text>
<text x='460.0' y='1551.2' font-size='27.78' text-anchor='middle' fill='#000'>68.7</text>
<text x='669.5' y='1551.2' font-size='27.78' text-anchor='middle' fill='#000'>-14.9</text>
<text x='879.0' y='1551.2' font-size='27.78' text-anchor='middle' fill='#000'>-72.2</text>
<text x='1088.5' y='1551.2' font-size='27.78' text-anchor='middle' fill='#000'>10.5</text>
<text x='169.4' y='1583.7' font-size='27.78' text-anchor='end' fill='#000'>MLT (hrs)</text>
<text x='250.5' y='1583.7' font-size='27.78' text-anchor='middle' fill='#000'>2.9</text>
<text x='460.0' y='1583.7' font-size='27.78' text-anchor='middle' fill='#000'>11.4</text>
<text x='669.5' y='1583.7' font-size='27.78' text-anchor='middle' fill='#000'>15.1</text>
<text x='879.0' y='1583.7' font-size='27.78' text-anchor='middle' fill='#000'>22.8</text>
<text x='1088.5' y='1583.7' font-size='27.78' text-anchor='middle' fill='#000'>3.0</text>
<rect x='1544.40' y='191.70' width='79.50' height='246.00' fill='#c5c9c7' stroke='none' stroke-width='0'/>
<rect x='2143.00' y='191.70' width='184.70' height='246.00' fill='#c5c9c7' stroke='none' stroke-width='0'/>
<line x1='1593.36' y1='197.70' x2='1593.36' y2='431.70' stroke='#808080' stroke-width='2.3' stroke-linecap='butt' stroke-dasharray='2.5 4.6'/>
<line x1='1642.31' y1='197.70' x2='1642.31' y2='431.70' stroke='#808080' stroke-width='2.3' stroke-linecap='butt' stroke-dasharray='2.5 4.6'/>
<line x1='1691.27' y1='197.70' x2='1691.27' y2='431.70' stroke='#808080' stroke-width='2.3' stroke-linecap='butt' stroke-dasharray='2.5 4.6'/>
<line x1='1740.22' y1='201.70' x2='1740.22' y2='427.70' stroke='#808080' stroke-width='4.17' stroke-linecap='butt' stroke-dasharray='4.17 6.88'/>
<line x1='1789.18' y1='197.70' x2='1789.18' y2='431.70' stroke='#808080' stroke-width='2.3' stroke-linecap='butt' stroke-dasharray='2.5 4.6'/>
<line x1='1838.14' y1='197.70' x2='1838.14' y2='431.70' stroke='#808080' stroke-width='2.3' stroke-linecap='butt' stroke-dasharray='2.5 4.6'/>
<line x1='1887.09' y1='197.70' x2='1887.09' y2='431.70' stroke='#808080' stroke-width='2.3' stroke-linecap='butt' stroke-dasharray='2.5 4.6'/>
<line x1='1936.05' y1='201.70' x2='1936.05' y2='427.70' stroke='#808080' stroke-width='4.17' stroke-linecap='butt' stroke-dasharray='4.17 6.88'/>
<line x1='1985.01' y1='197.70' x2='1985.01' y2='431.70' stroke='#808080' stroke-width='2.3' stroke-linecap='butt' stroke-dasharray='2.5 4.6'/>
<line x1='2033.96' y1='197.70' x2='2033.96' y2='431.70' stroke='#808080' stroke-width='2.3' stroke-linecap='butt' stroke-dasharray='2.5 4.6'/>
<line x1='2082.92' y1='197.70' x2='2082.92' y2='431.70' stroke='#808080' stroke-width='2.3' stroke-linecap='butt' stroke-dasharray='2.5 4.6'/>
<line x1='2131.88' y1='201.70' x2='2131.88' y2='427.70' stroke='#808080' stroke-width='4.17' stroke-linecap='butt' stroke-dasharray='4.17 6.88'/>
<line x1='2180.83' y1='197.70' x2='2180.83' y2='431.70' stroke='#808080' stroke-width='2.3' stroke-linecap='butt' stroke-dasharray='2.5 4.6'/>
<line x1='2229.79' y1='197.70' x2='2229.79' y2='431.70' stroke='#808080' stroke-width='2.3' stroke-linecap='butt' stroke-dasharray='2.5 4.6'/>
<line x1='2278.74' y1='197.70' x2='2278.74' y2='431.70' stroke='#808080' stroke-width='2.3' stroke-linecap='butt' stroke-dasharray='2.5 4.6'/>
<rect x='1544.40' y='462.80' width='79.50' height='243.80' fill='#c5c9c7' stroke='none' stroke-width='0'/>
<rect x='2143.00' y='462.80' width='184.70' height='243.80' fill='#c5c9c7' stroke='none' stroke-width='0'/>
<line x1='1593.36' y1='468.80' x2='1593.36' y2='700.60' stroke='#808080' stroke-width='2.3' stroke-linecap='butt' stroke-dasharray='2.5 4.6'/>
<line x1='1642.31' y1='468.80' x2='1642.31' y2='700.60' stroke='#808080' stroke-width='2.3' stroke-linecap='butt' stroke-dasharray='2.5 4.6'/>
<line x1='1691.27' y1='468.80' x2='1691.27' y2='700.60' stroke='#808080' stroke-width='2.3' stroke-linecap='butt' stroke-dasharray='2.5 4.6'/>
<line x1='1740.22' y1='472.80' x2='1740.22' y2='696.60' stroke='#808080' stroke-width='4.17' stroke-linecap='butt' stroke-dasharray='4.17 6.88'/>
<line x1='1789.18' y1='468.80' x2='1789.18' y2='700.60' stroke='#808080' stroke-width='2.3' stroke-linecap='butt' stroke-dasharray='2.5 4.6'/>
<line x1='1838.14' y1='468.80' x2='1838.14' y2='700.60' stroke='#808080' stroke-width='2.3' stroke-linecap='butt' stroke-dasharray='2.5 4.6'/>
<line x1='1887.09' y1='468.80' x2='1887.09' y2='700.60' stroke='#808080' stroke-width='2.3' stroke-linecap='butt' stroke-dasharray='2.5 4.6'/>
<line x1='1936.05' y1='472.80' x2='1936.05' y2='696.60' stroke='#808080' stroke-width='4.17' stroke-linecap='butt' stroke-dasharray='4.17 6.88'/>
<line x1='1985.01' y1='468.80' x2='1985.01' y2='700.60' stroke='#808080' stroke-width='2.3' stroke-linecap='butt' stroke-dasharray='2.5 4.6'/>
<line x1='2033.96' y1='468.80' x2='2033.96' y2='700.60' stroke='#808080' stroke-width='2.3' stroke-linecap='butt' stroke-dasharray='2.5 4.6'/>
<line x1='2082.92' y1='468.80' x2='2082.92' y2='700.60' stroke='#808080' stroke-width='2.3' stroke-linecap='butt' stroke-dasharray='2.5 4.6'/>
<line x1='2131.88' y1='472.80' x2='2131.88' y2='696.60' stroke='#808080' stroke-width='4.17' stroke-linecap='butt' stroke-dasharray='4.17 6.88'/>
<line x1='2180.83' y1='468.80' x2='2180.83' y2='700.60' stroke='#808080' stroke-width='2.3' stroke-linecap='butt' stroke-dasharray='2.5 4.6'/>
<line x1='2229.79' y1='468.80' x2='2229.79' y2='700.60' stroke='#808080' stroke-width='2.3' stroke-linecap='butt' stroke-dasharray='2.5 4.6'/>
<line x1='2278.74' y1='468.80' x2='2278.74' y2='700.60' stroke='#808080' stroke-width='2.3' stroke-linecap='butt' stroke-dasharray='2.5 4.6'/>
<clipPath id='clipTR'><rect x='1544.4' y='191.7' width='783.2999999999997' height='246.0'/></clipPath>
<g clip-path='url(#clipTR)' fill='none' stroke-linejoin='round' stroke-width='2.1'>
<path d='M1544.6 311.0L1548.3 316.0L1552.4 316.8L1556.6 314.4L1559.9 308.5L1561.2 307.7L1562.2 317.7L1563.2 392.3L1564.2 334.3L1564.9 317.7L1567.4 306.1L1569.0 304.4L1571.5 309.4L1574.0 313.5L1576.5 312.7L1579.0 306.1L1581.5 304.4L1584.8 304.7L1586.4 307.7L1588.1 305.7L1593.1 304.7L1595.6 307.7L1598.9 314.4L1601.4 326.0L1603.8 335.1L1605.5 329.3L1607.2 316.0L1609.7 308.5L1613.0 304.7L1615.5 305.7L1617.9 310.2L1620.4 313.0L1621.3 317.7L1622.9 384.0L1624.6 423.8L1626.2 413.9L1627.9 400.6L1629.6 404.7L1631.2 400.6L1632.9 399.8L1635.4 397.3L1637.8 389.0L1639.5 379.0L1642.0 374.1L1644.5 366.6L1647.8 363.3L1650.3 354.2L1651.9 345.0L1654.4 346.7L1657.7 342.5L1661.1 340.1L1663.5 341.7L1666.0 343.4L1667.7 334.3L1669.4 331.3L1671.0 334.3L1672.7 345.9L1675.2 354.2L1677.6 365.8L1680.1 374.1L1682.6 379.0L1684.3 370.7L1685.1 384.0L1686.8 375.7L1688.4 367.4L1690.1 360.8L1691.7 347.5L1693.4 340.1L1696.7 335.9L1698.4 330.9L1700.9 330.1L1702.5 335.9L1704.2 337.6L1705.8 335.1L1707.5 340.9L1709.2 344.2L1710.8 353.3L1712.5 337.6L1714.1 329.3L1715.8 322.6L1718.3 320.2L1719.9 329.3L1721.6 337.6L1723.3 342.5L1724.1 362.4L1725.7 370.7L1727.4 365.8L1729.1 372.4L1730.0 380.7L1730.8 395.6L1732.0 380.7L1735.0 379.0L1737.5 375.7L1741.6 370.7L1744.9 367.4L1748.2 364.1L1751.6 355.8L1754.9 349.2L1757.0 345.9L1758.2 334.3L1759.9 316.0L1761.5 304.7L1764.0 307.4L1766.5 304.7L1768.1 317.7L1770.6 334.3L1772.3 334.3L1774.8 331.8L1778.1 330.1L1780.6 331.8L1782.2 333.4L1784.7 332.3L1788.0 332.6L1790.5 330.9L1793.8 327.6L1796.3 324.6L1799.7 322.6L1803.0 319.7L1804.6 304.7L1807.1 308.5L1809.6 309.7L1812.1 307.7L1813.7 304.7L1815.4 317.7L1817.1 322.3L1820.4 322.0L1822.9 323.0L1826.2 326.0L1829.5 327.3L1833.6 327.3L1837.0 326.0L1839.5 323.5L1842.8 321.8L1847.7 320.2L1849.7 314.4L1851.1 304.7L1853.5 306.9L1856.0 306.9L1858.0 304.7L1860.2 316.0L1862.7 322.3L1865.2 322.6L1868.5 321.3L1871.0 323.0L1872.3 324.6L1874.3 322.6L1875.9 322.3L1877.6 324.0L1880.1 324.6L1882.6 322.6L1885.9 318.5L1889.2 316.0L1891.7 314.0L1894.2 311.0L1896.7 304.7L1900.8 304.7L1903.3 307.7L1906.6 309.7L1911.6 311.4L1915.7 311.4L1919.9 311.9L1920.0 311.9L1923.3 311.0L1927.5 308.5L1931.6 305.7L1935.8 304.4L1939.9 305.7L1944.9 307.7L1950.7 307.1L1959.8 306.7L1970.6 306.1L1978.0 307.4L1984.7 308.1L1991.3 311.0L1994.6 309.7L2006.2 309.4L2019.5 310.2L2038.6 311.4L2052.7 310.4L2061.0 308.5L2065.9 309.7L2072.6 312.7L2081.7 313.5L2084.2 311.9L2089.2 311.0L2094.1 309.4L2097.4 310.7L2099.9 306.4L2101.6 309.4L2105.7 310.7L2109.9 312.7L2113.3 311.9L2118.3 312.7L2122.4 311.9L2124.9 309.7L2128.2 312.4L2132.4 314.0L2143.2 314.0L2156.4 314.7L2181.3 314.7L2189.6 313.5L2202.9 312.4L2212.8 312.4L2221.1 314.0L2227.7 314.0L2236.0 312.7L2242.7 311.9L2251.0 313.0L2262.6 316.0L2269.2 314.7L2276.7 313.0L2279.2 311.9L2282.5 313.0L2292.4 311.9L2300.7 309.7L2307.3 309.0L2311.5 311.9L2315.6 312.7L2320.6 309.4L2327.2 313.0' stroke='#000'/>
<path d='M1544.6 301.1L1546.6 312.7L1550.0 319.3L1553.3 320.2L1556.6 311.0L1559.1 291.1L1560.7 280.9L1561.6 301.1L1562.4 395.6L1563.2 443.7L1564.9 443.7L1565.2 350.8L1566.2 301.1L1567.4 271.2L1568.5 263.8L1569.9 267.9L1571.5 287.8L1573.2 304.4L1574.8 311.0L1576.5 301.1L1578.1 277.9L1579.5 264.6L1580.6 262.9L1584.8 263.3L1585.6 267.9L1586.4 279.5L1587.3 264.6L1588.9 271.2L1591.4 266.3L1592.7 263.3L1593.9 277.9L1594.7 269.6L1596.4 284.5L1598.9 304.4L1600.5 334.3L1602.2 384.0L1603.8 416.3L1605.5 392.3L1607.2 334.3L1608.8 301.1L1610.5 279.5L1612.1 266.3L1613.8 263.3L1615.5 266.3L1617.1 281.2L1618.8 294.5L1620.4 303.6L1620.9 334.3L1621.3 443.7' stroke='#0000ff'/>
<path d='M1666.9 443.7L1668.5 405.6L1669.4 398.1L1671.0 413.9L1672.2 443.7' stroke='#0000ff'/>
<path d='M1693.4 443.7L1695.9 423.8L1697.5 405.6L1698.9 389.0L1701.7 389.0L1703.3 417.2L1704.2 425.5L1705.5 406.4L1706.7 433.8L1708.3 443.7' stroke='#0000ff'/>
<path d='M1712.5 443.7L1714.1 387.3L1715.8 349.2L1717.4 380.7L1718.8 341.7L1719.9 384.0L1721.6 425.5L1722.8 443.7' stroke='#0000ff'/>
<path d='M1757.9 443.7L1758.5 400.6L1759.5 317.7L1760.7 264.3L1762.3 267.9L1764.0 277.9L1765.7 267.9L1766.8 264.3L1767.8 284.5L1769.0 350.8L1769.8 392.3L1771.1 413.9L1772.3 412.2L1773.9 402.2L1776.1 394.0L1778.1 391.5L1779.8 395.6L1781.7 407.2L1783.1 399.8L1784.4 405.6L1787.2 405.6L1789.4 403.9L1792.2 390.6L1794.7 374.1L1796.3 364.1L1798.8 357.5L1800.5 349.2L1802.1 345.0L1803.3 317.7L1804.3 277.9L1805.0 264.3L1806.3 277.9L1807.9 287.8L1809.6 289.8L1811.3 287.8L1812.6 274.6L1813.4 264.6L1814.6 301.1L1815.9 347.5L1817.1 351.7L1820.4 350.5L1822.9 354.2L1825.4 364.1L1827.0 372.4L1829.5 376.5L1832.8 378.2L1835.3 375.7L1837.8 369.1L1840.3 357.5L1842.8 351.7L1845.3 347.5L1847.4 345.0L1848.6 317.7L1849.7 277.9L1850.7 264.3L1852.7 272.9L1855.2 275.4L1856.9 271.2L1858.0 264.3L1859.4 291.1L1861.0 334.3L1862.7 350.8L1865.2 354.2L1866.8 352.5L1868.5 348.3L1870.6 352.5L1872.0 361.6L1873.4 360.8L1875.1 354.2L1876.8 354.2L1877.9 360.8L1879.3 363.3L1881.2 359.1L1883.4 345.9L1885.9 332.6L1888.4 324.3L1891.7 314.4L1894.2 292.8L1895.8 271.2L1897.2 264.9L1900.8 264.9L1902.5 271.2L1904.1 281.2L1906.6 286.5L1909.1 292.8L1911.6 298.1L1914.9 298.8L1919.1 297.8L1919.9 299.8L1920.0 299.4L1922.5 297.8L1925.0 292.8L1928.3 282.8L1931.6 271.2L1934.9 265.4L1937.4 265.4L1939.9 268.7L1942.4 274.6L1944.9 278.2L1947.4 277.0L1950.7 273.7L1953.2 274.9L1955.7 274.6L1959.0 272.1L1961.5 272.1L1963.9 273.7L1966.4 270.7L1971.4 269.9L1974.7 273.7L1978.0 277.0L1983.8 279.5L1986.3 284.5L1988.8 289.5L1991.3 293.6L1993.8 291.1L1996.3 289.1L1999.6 290.3L2002.9 288.6L2006.2 290.3L2010.4 290.5L2016.2 292.0L2022.0 292.0L2025.3 294.0L2028.6 293.1L2032.8 294.5L2038.6 298.1L2041.9 295.8L2045.2 293.1L2051.0 294.0L2052.7 293.6L2055.2 289.1L2057.6 289.5L2060.1 285.3L2061.0 280.9L2062.6 284.5L2065.1 285.3L2067.6 292.8L2070.1 297.8L2072.6 303.6L2075.9 305.7L2080.0 308.1L2082.9 308.5L2083.3 301.1L2085.8 298.6L2089.2 296.4L2090.8 299.4L2093.3 292.8L2095.0 285.3L2096.1 292.8L2097.1 295.3L2098.3 272.1L2100.8 269.9L2102.4 292.8L2104.1 293.6L2105.7 289.5L2107.4 297.8L2110.0 303.1L2110.0 304.4L2112.5 296.4L2115.8 298.6L2118.3 304.4L2120.8 303.6L2122.4 292.8L2124.9 289.1L2126.6 299.4L2129.9 309.4L2134.9 309.7L2143.2 309.4L2145.7 311.0L2149.8 314.0L2154.8 314.4L2156.4 319.0L2158.1 316.0L2159.8 314.4L2181.3 314.0L2189.6 308.5L2199.6 303.1L2204.5 301.9L2212.8 301.9L2216.1 304.4L2220.3 311.0L2226.1 311.9L2232.7 306.1L2238.5 303.6L2242.7 299.4L2245.2 300.3L2251.0 306.1L2259.3 314.4L2262.6 320.2L2265.1 316.0L2275.8 311.9L2277.5 334.3L2278.8 367.4L2279.5 301.1L2280.5 292.8L2282.5 309.0L2290.8 303.6L2299.1 294.5L2304.9 287.8L2307.3 286.5L2309.8 291.1L2311.5 307.7L2315.6 318.5L2318.1 307.7L2320.6 288.2L2323.9 297.8L2327.2 303.6' stroke='#0000ff'/>
</g>
<line x1='1544.40' y1='705.40' x2='2327.70' y2='705.40' stroke='#0000ff' stroke-width='2.2' stroke-linecap='butt'/>
<line x1='1593.36' y1='191.70' x2='1593.36' y2='197.30' stroke='#000' stroke-width='1.7' stroke-linecap='butt'/>
<line x1='1593.36' y1='437.70' x2='1593.36' y2='432.10' stroke='#000' stroke-width='1.7' stroke-linecap='butt'/>
<line x1='1642.31' y1='191.70' x2='1642.31' y2='197.30' stroke='#000' stroke-width='1.7' stroke-linecap='butt'/>
<line x1='1642.31' y1='437.70' x2='1642.31' y2='432.10' stroke='#000' stroke-width='1.7' stroke-linecap='butt'/>
<line x1='1691.27' y1='191.70' x2='1691.27' y2='197.30' stroke='#000' stroke-width='1.7' stroke-linecap='butt'/>
<line x1='1691.27' y1='437.70' x2='1691.27' y2='432.10' stroke='#000' stroke-width='1.7' stroke-linecap='butt'/>
<line x1='1740.22' y1='191.70' x2='1740.22' y2='201.40' stroke='#000' stroke-width='2.2' stroke-linecap='butt'/>
<line x1='1740.22' y1='437.70' x2='1740.22' y2='428.00' stroke='#000' stroke-width='2.2' stroke-linecap='butt'/>
<line x1='1789.18' y1='191.70' x2='1789.18' y2='197.30' stroke='#000' stroke-width='1.7' stroke-linecap='butt'/>
<line x1='1789.18' y1='437.70' x2='1789.18' y2='432.10' stroke='#000' stroke-width='1.7' stroke-linecap='butt'/>
<line x1='1838.14' y1='191.70' x2='1838.14' y2='197.30' stroke='#000' stroke-width='1.7' stroke-linecap='butt'/>
<line x1='1838.14' y1='437.70' x2='1838.14' y2='432.10' stroke='#000' stroke-width='1.7' stroke-linecap='butt'/>
<line x1='1887.09' y1='191.70' x2='1887.09' y2='197.30' stroke='#000' stroke-width='1.7' stroke-linecap='butt'/>
<line x1='1887.09' y1='437.70' x2='1887.09' y2='432.10' stroke='#000' stroke-width='1.7' stroke-linecap='butt'/>
<line x1='1936.05' y1='191.70' x2='1936.05' y2='201.40' stroke='#000' stroke-width='2.2' stroke-linecap='butt'/>
<line x1='1936.05' y1='437.70' x2='1936.05' y2='428.00' stroke='#000' stroke-width='2.2' stroke-linecap='butt'/>
<line x1='1985.01' y1='191.70' x2='1985.01' y2='197.30' stroke='#000' stroke-width='1.7' stroke-linecap='butt'/>
<line x1='1985.01' y1='437.70' x2='1985.01' y2='432.10' stroke='#000' stroke-width='1.7' stroke-linecap='butt'/>
<line x1='2033.96' y1='191.70' x2='2033.96' y2='197.30' stroke='#000' stroke-width='1.7' stroke-linecap='butt'/>
<line x1='2033.96' y1='437.70' x2='2033.96' y2='432.10' stroke='#000' stroke-width='1.7' stroke-linecap='butt'/>
<line x1='2082.92' y1='191.70' x2='2082.92' y2='197.30' stroke='#000' stroke-width='1.7' stroke-linecap='butt'/>
<line x1='2082.92' y1='437.70' x2='2082.92' y2='432.10' stroke='#000' stroke-width='1.7' stroke-linecap='butt'/>
<line x1='2131.88' y1='191.70' x2='2131.88' y2='201.40' stroke='#000' stroke-width='2.2' stroke-linecap='butt'/>
<line x1='2131.88' y1='437.70' x2='2131.88' y2='428.00' stroke='#000' stroke-width='2.2' stroke-linecap='butt'/>
<line x1='2180.83' y1='191.70' x2='2180.83' y2='197.30' stroke='#000' stroke-width='1.7' stroke-linecap='butt'/>
<line x1='2180.83' y1='437.70' x2='2180.83' y2='432.10' stroke='#000' stroke-width='1.7' stroke-linecap='butt'/>
<line x1='2229.79' y1='191.70' x2='2229.79' y2='197.30' stroke='#000' stroke-width='1.7' stroke-linecap='butt'/>
<line x1='2229.79' y1='437.70' x2='2229.79' y2='432.10' stroke='#000' stroke-width='1.7' stroke-linecap='butt'/>
<line x1='2278.74' y1='191.70' x2='2278.74' y2='197.30' stroke='#000' stroke-width='1.7' stroke-linecap='butt'/>
<line x1='2278.74' y1='437.70' x2='2278.74' y2='432.10' stroke='#000' stroke-width='1.7' stroke-linecap='butt'/>
<line x1='1593.36' y1='462.80' x2='1593.36' y2='468.40' stroke='#000' stroke-width='1.7' stroke-linecap='butt'/>
<line x1='1593.36' y1='706.60' x2='1593.36' y2='701.00' stroke='#000' stroke-width='1.7' stroke-linecap='butt'/>
<line x1='1642.31' y1='462.80' x2='1642.31' y2='468.40' stroke='#000' stroke-width='1.7' stroke-linecap='butt'/>
<line x1='1642.31' y1='706.60' x2='1642.31' y2='701.00' stroke='#000' stroke-width='1.7' stroke-linecap='butt'/>
<line x1='1691.27' y1='462.80' x2='1691.27' y2='468.40' stroke='#000' stroke-width='1.7' stroke-linecap='butt'/>
<line x1='1691.27' y1='706.60' x2='1691.27' y2='701.00' stroke='#000' stroke-width='1.7' stroke-linecap='butt'/>
<line x1='1740.22' y1='462.80' x2='1740.22' y2='472.50' stroke='#000' stroke-width='2.2' stroke-linecap='butt'/>
<line x1='1740.22' y1='706.60' x2='1740.22' y2='696.90' stroke='#000' stroke-width='2.2' stroke-linecap='butt'/>
<line x1='1789.18' y1='462.80' x2='1789.18' y2='468.40' stroke='#000' stroke-width='1.7' stroke-linecap='butt'/>
<line x1='1789.18' y1='706.60' x2='1789.18' y2='701.00' stroke='#000' stroke-width='1.7' stroke-linecap='butt'/>
<line x1='1838.14' y1='462.80' x2='1838.14' y2='468.40' stroke='#000' stroke-width='1.7' stroke-linecap='butt'/>
<line x1='1838.14' y1='706.60' x2='1838.14' y2='701.00' stroke='#000' stroke-width='1.7' stroke-linecap='butt'/>
<line x1='1887.09' y1='462.80' x2='1887.09' y2='468.40' stroke='#000' stroke-width='1.7' stroke-linecap='butt'/>
<line x1='1887.09' y1='706.60' x2='1887.09' y2='701.00' stroke='#000' stroke-width='1.7' stroke-linecap='butt'/>
<line x1='1936.05' y1='462.80' x2='1936.05' y2='472.50' stroke='#000' stroke-width='2.2' stroke-linecap='butt'/>
<line x1='1936.05' y1='706.60' x2='1936.05' y2='696.90' stroke='#000' stroke-width='2.2' stroke-linecap='butt'/>
<line x1='1985.01' y1='462.80' x2='1985.01' y2='468.40' stroke='#000' stroke-width='1.7' stroke-linecap='butt'/>
<line x1='1985.01' y1='706.60' x2='1985.01' y2='701.00' stroke='#000' stroke-width='1.7' stroke-linecap='butt'/>
<line x1='2033.96' y1='462.80' x2='2033.96' y2='468.40' stroke='#000' stroke-width='1.7' stroke-linecap='butt'/>
<line x1='2033.96' y1='706.60' x2='2033.96' y2='701.00' stroke='#000' stroke-width='1.7' stroke-linecap='butt'/>
<line x1='2082.92' y1='462.80' x2='2082.92' y2='468.40' stroke='#000' stroke-width='1.7' stroke-linecap='butt'/>
<line x1='2082.92' y1='706.60' x2='2082.92' y2='701.00' stroke='#000' stroke-width='1.7' stroke-linecap='butt'/>
<line x1='2131.88' y1='462.80' x2='2131.88' y2='472.50' stroke='#000' stroke-width='2.2' stroke-linecap='butt'/>
<line x1='2131.88' y1='706.60' x2='2131.88' y2='696.90' stroke='#000' stroke-width='2.2' stroke-linecap='butt'/>
<line x1='2180.83' y1='462.80' x2='2180.83' y2='468.40' stroke='#000' stroke-width='1.7' stroke-linecap='butt'/>
<line x1='2180.83' y1='706.60' x2='2180.83' y2='701.00' stroke='#000' stroke-width='1.7' stroke-linecap='butt'/>
<line x1='2229.79' y1='462.80' x2='2229.79' y2='468.40' stroke='#000' stroke-width='1.7' stroke-linecap='butt'/>
<line x1='2229.79' y1='706.60' x2='2229.79' y2='701.00' stroke='#000' stroke-width='1.7' stroke-linecap='butt'/>
<line x1='2278.74' y1='462.80' x2='2278.74' y2='468.40' stroke='#000' stroke-width='1.7' stroke-linecap='butt'/>
<line x1='2278.74' y1='706.60' x2='2278.74' y2='701.00' stroke='#000' stroke-width='1.7' stroke-linecap='butt'/>
<line x1='1544.40' y1='427.20' x2='1554.10' y2='427.20' stroke='#000' stroke-width='2.2' stroke-linecap='butt'/>
<line x1='2327.70' y1='427.20' x2='2318.00' y2='427.20' stroke='#000' stroke-width='2.2' stroke-linecap='butt'/>
<line x1='1544.40' y1='415.98' x2='1550.00' y2='415.98' stroke='#000' stroke-width='1.7' stroke-linecap='butt'/>
<line x1='2327.70' y1='415.98' x2='2322.10' y2='415.98' stroke='#000' stroke-width='1.7' stroke-linecap='butt'/>
<line x1='1544.40' y1='404.76' x2='1550.00' y2='404.76' stroke='#000' stroke-width='1.7' stroke-linecap='butt'/>
<line x1='2327.70' y1='404.76' x2='2322.10' y2='404.76' stroke='#000' stroke-width='1.7' stroke-linecap='butt'/>
<line x1='1544.40' y1='393.54' x2='1550.00' y2='393.54' stroke='#000' stroke-width='1.7' stroke-linecap='butt'/>
<line x1='2327.70' y1='393.54' x2='2322.10' y2='393.54' stroke='#000' stroke-width='1.7' stroke-linecap='butt'/>
<line x1='1544.40' y1='382.32' x2='1550.00' y2='382.32' stroke='#000' stroke-width='1.7' stroke-linecap='butt'/>
<line x1='2327.70' y1='382.32' x2='2322.10' y2='382.32' stroke='#000' stroke-width='1.7' stroke-linecap='butt'/>
<line x1='1544.40' y1='371.10' x2='1554.10' y2='371.10' stroke='#000' stroke-width='2.2' stroke-linecap='butt'/>
<line x1='2327.70' y1='371.10' x2='2318.00' y2='371.10' stroke='#000' stroke-width='2.2' stroke-linecap='butt'/>
<line x1='1544.40' y1='359.88' x2='1550.00' y2='359.88' stroke='#000' stroke-width='1.7' stroke-linecap='butt'/>
<line x1='2327.70' y1='359.88' x2='2322.10' y2='359.88' stroke='#000' stroke-width='1.7' stroke-linecap='butt'/>
<line x1='1544.40' y1='348.66' x2='1550.00' y2='348.66' stroke='#000' stroke-width='1.7' stroke-linecap='butt'/>
<line x1='2327.70' y1='348.66' x2='2322.10' y2='348.66' stroke='#000' stroke-width='1.7' stroke-linecap='butt'/>
<line x1='1544.40' y1='337.44' x2='1550.00' y2='337.44' stroke='#000' stroke-width='1.7' stroke-linecap='butt'/>
<line x1='2327.70' y1='337.44' x2='2322.10' y2='337.44' stroke='#000' stroke-width='1.7' stroke-linecap='butt'/>
<line x1='1544.40' y1='326.22' x2='1550.00' y2='326.22' stroke='#000' stroke-width='1.7' stroke-linecap='butt'/>
<line x1='2327.70' y1='326.22' x2='2322.10' y2='326.22' stroke='#000' stroke-width='1.7' stroke-linecap='butt'/>
<line x1='1544.40' y1='315.00' x2='1554.10' y2='315.00' stroke='#000' stroke-width='2.2' stroke-linecap='butt'/>
<line x1='2327.70' y1='315.00' x2='2318.00' y2='315.00' stroke='#000' stroke-width='2.2' stroke-linecap='butt'/>
<line x1='1544.40' y1='303.78' x2='1550.00' y2='303.78' stroke='#000' stroke-width='1.7' stroke-linecap='butt'/>
<line x1='2327.70' y1='303.78' x2='2322.10' y2='303.78' stroke='#000' stroke-width='1.7' stroke-linecap='butt'/>
<line x1='1544.40' y1='292.56' x2='1550.00' y2='292.56' stroke='#000' stroke-width='1.7' stroke-linecap='butt'/>
<line x1='2327.70' y1='292.56' x2='2322.10' y2='292.56' stroke='#000' stroke-width='1.7' stroke-linecap='butt'/>
<line x1='1544.40' y1='281.34' x2='1550.00' y2='281.34' stroke='#000' stroke-width='1.7' stroke-linecap='butt'/>
<line x1='2327.70' y1='281.34' x2='2322.10' y2='281.34' stroke='#000' stroke-width='1.7' stroke-linecap='butt'/>
<line x1='1544.40' y1='270.12' x2='1550.00' y2='270.12' stroke='#000' stroke-width='1.7' stroke-linecap='butt'/>
<line x1='2327.70' y1='270.12' x2='2322.10' y2='270.12' stroke='#000' stroke-width='1.7' stroke-linecap='butt'/>
<line x1='1544.40' y1='258.90' x2='1554.10' y2='258.90' stroke='#000' stroke-width='2.2' stroke-linecap='butt'/>
<line x1='2327.70' y1='258.90' x2='2318.00' y2='258.90' stroke='#000' stroke-width='2.2' stroke-linecap='butt'/>
<line x1='1544.40' y1='247.68' x2='1550.00' y2='247.68' stroke='#000' stroke-width='1.7' stroke-linecap='butt'/>
<line x1='2327.70' y1='247.68' x2='2322.10' y2='247.68' stroke='#000' stroke-width='1.7' stroke-linecap='butt'/>
<line x1='1544.40' y1='236.46' x2='1550.00' y2='236.46' stroke='#000' stroke-width='1.7' stroke-linecap='butt'/>
<line x1='2327.70' y1='236.46' x2='2322.10' y2='236.46' stroke='#000' stroke-width='1.7' stroke-linecap='butt'/>
<line x1='1544.40' y1='225.24' x2='1550.00' y2='225.24' stroke='#000' stroke-width='1.7' stroke-linecap='butt'/>
<line x1='2327.70' y1='225.24' x2='2322.10' y2='225.24' stroke='#000' stroke-width='1.7' stroke-linecap='butt'/>
<line x1='1544.40' y1='214.02' x2='1550.00' y2='214.02' stroke='#000' stroke-width='1.7' stroke-linecap='butt'/>
<line x1='2327.70' y1='214.02' x2='2322.10' y2='214.02' stroke='#000' stroke-width='1.7' stroke-linecap='butt'/>
<line x1='1544.40' y1='202.80' x2='1554.10' y2='202.80' stroke='#000' stroke-width='2.2' stroke-linecap='butt'/>
<line x1='2327.70' y1='202.80' x2='2318.00' y2='202.80' stroke='#000' stroke-width='2.2' stroke-linecap='butt'/>
<text x='1533.5' y='213.4' font-size='27.78' text-anchor='end' fill='#000'>10</text>
<text x='1533.5' y='269.5' font-size='27.78' text-anchor='end' fill='#000'>5</text>
<text x='1533.5' y='325.6' font-size='27.78' text-anchor='end' fill='#000'>0</text>
<text x='1533.5' y='381.7' font-size='27.78' text-anchor='end' fill='#000'>−5</text>
<text x='1533.5' y='437.8' font-size='27.78' text-anchor='end' fill='#000'>−10</text>
<line x1='1544.40' y1='694.41' x2='1550.00' y2='694.41' stroke='#000' stroke-width='1.7' stroke-linecap='butt'/>
<line x1='2327.70' y1='694.41' x2='2322.10' y2='694.41' stroke='#000' stroke-width='1.7' stroke-linecap='butt'/>
<line x1='1544.40' y1='682.22' x2='1550.00' y2='682.22' stroke='#000' stroke-width='1.7' stroke-linecap='butt'/>
<line x1='2327.70' y1='682.22' x2='2322.10' y2='682.22' stroke='#000' stroke-width='1.7' stroke-linecap='butt'/>
<line x1='1544.40' y1='670.03' x2='1550.00' y2='670.03' stroke='#000' stroke-width='1.7' stroke-linecap='butt'/>
<line x1='2327.70' y1='670.03' x2='2322.10' y2='670.03' stroke='#000' stroke-width='1.7' stroke-linecap='butt'/>
<line x1='1544.40' y1='657.84' x2='1550.00' y2='657.84' stroke='#000' stroke-width='1.7' stroke-linecap='butt'/>
<line x1='2327.70' y1='657.84' x2='2322.10' y2='657.84' stroke='#000' stroke-width='1.7' stroke-linecap='butt'/>
<line x1='1544.40' y1='645.65' x2='1554.10' y2='645.65' stroke='#000' stroke-width='2.2' stroke-linecap='butt'/>
<line x1='2327.70' y1='645.65' x2='2318.00' y2='645.65' stroke='#000' stroke-width='2.2' stroke-linecap='butt'/>
<line x1='1544.40' y1='633.46' x2='1550.00' y2='633.46' stroke='#000' stroke-width='1.7' stroke-linecap='butt'/>
<line x1='2327.70' y1='633.46' x2='2322.10' y2='633.46' stroke='#000' stroke-width='1.7' stroke-linecap='butt'/>
<line x1='1544.40' y1='621.27' x2='1550.00' y2='621.27' stroke='#000' stroke-width='1.7' stroke-linecap='butt'/>
<line x1='2327.70' y1='621.27' x2='2322.10' y2='621.27' stroke='#000' stroke-width='1.7' stroke-linecap='butt'/>
<line x1='1544.40' y1='609.08' x2='1550.00' y2='609.08' stroke='#000' stroke-width='1.7' stroke-linecap='butt'/>
<line x1='2327.70' y1='609.08' x2='2322.10' y2='609.08' stroke='#000' stroke-width='1.7' stroke-linecap='butt'/>
<line x1='1544.40' y1='596.89' x2='1550.00' y2='596.89' stroke='#000' stroke-width='1.7' stroke-linecap='butt'/>
<line x1='2327.70' y1='596.89' x2='2322.10' y2='596.89' stroke='#000' stroke-width='1.7' stroke-linecap='butt'/>
<line x1='1544.40' y1='584.70' x2='1554.10' y2='584.70' stroke='#000' stroke-width='2.2' stroke-linecap='butt'/>
<line x1='2327.70' y1='584.70' x2='2318.00' y2='584.70' stroke='#000' stroke-width='2.2' stroke-linecap='butt'/>
<line x1='1544.40' y1='572.51' x2='1550.00' y2='572.51' stroke='#000' stroke-width='1.7' stroke-linecap='butt'/>
<line x1='2327.70' y1='572.51' x2='2322.10' y2='572.51' stroke='#000' stroke-width='1.7' stroke-linecap='butt'/>
<line x1='1544.40' y1='560.32' x2='1550.00' y2='560.32' stroke='#000' stroke-width='1.7' stroke-linecap='butt'/>
<line x1='2327.70' y1='560.32' x2='2322.10' y2='560.32' stroke='#000' stroke-width='1.7' stroke-linecap='butt'/>
<line x1='1544.40' y1='548.13' x2='1550.00' y2='548.13' stroke='#000' stroke-width='1.7' stroke-linecap='butt'/>
<line x1='2327.70' y1='548.13' x2='2322.10' y2='548.13' stroke='#000' stroke-width='1.7' stroke-linecap='butt'/>
<line x1='1544.40' y1='535.94' x2='1550.00' y2='535.94' stroke='#000' stroke-width='1.7' stroke-linecap='butt'/>
<line x1='2327.70' y1='535.94' x2='2322.10' y2='535.94' stroke='#000' stroke-width='1.7' stroke-linecap='butt'/>
<line x1='1544.40' y1='523.75' x2='1554.10' y2='523.75' stroke='#000' stroke-width='2.2' stroke-linecap='butt'/>
<line x1='2327.70' y1='523.75' x2='2318.00' y2='523.75' stroke='#000' stroke-width='2.2' stroke-linecap='butt'/>
<line x1='1544.40' y1='511.56' x2='1550.00' y2='511.56' stroke='#000' stroke-width='1.7' stroke-linecap='butt'/>
<line x1='2327.70' y1='511.56' x2='2322.10' y2='511.56' stroke='#000' stroke-width='1.7' stroke-linecap='butt'/>
<line x1='1544.40' y1='499.37' x2='1550.00' y2='499.37' stroke='#000' stroke-width='1.7' stroke-linecap='butt'/>
<line x1='2327.70' y1='499.37' x2='2322.10' y2='499.37' stroke='#000' stroke-width='1.7' stroke-linecap='butt'/>
<line x1='1544.40' y1='487.18' x2='1550.00' y2='487.18' stroke='#000' stroke-width='1.7' stroke-linecap='butt'/>
<line x1='2327.70' y1='487.18' x2='2322.10' y2='487.18' stroke='#000' stroke-width='1.7' stroke-linecap='butt'/>
<line x1='1544.40' y1='474.99' x2='1550.00' y2='474.99' stroke='#000' stroke-width='1.7' stroke-linecap='butt'/>
<line x1='2327.70' y1='474.99' x2='2322.10' y2='474.99' stroke='#000' stroke-width='1.7' stroke-linecap='butt'/>
<text x='1533.5' y='473.4' font-size='27.78' text-anchor='end' fill='#000'>1.00</text>
<text x='1533.5' y='534.4' font-size='27.78' text-anchor='end' fill='#000'>0.75</text>
<text x='1533.5' y='595.3' font-size='27.78' text-anchor='end' fill='#000'>0.50</text>
<text x='1533.5' y='656.2' font-size='27.78' text-anchor='end' fill='#000'>0.25</text>
<text x='1533.5' y='717.2' font-size='27.78' text-anchor='end' fill='#000'>0.00</text>
<rect x='1544.40' y='191.70' width='783.30' height='246.00' fill='none' stroke='#000' stroke-width='2.2'/>
<rect x='1544.40' y='462.80' width='783.30' height='243.80' fill='none' stroke='#000' stroke-width='2.2'/>
<line x1='1544.40' y1='705.60' x2='2327.70' y2='705.60' stroke='#0000ff' stroke-width='1.6' stroke-linecap='butt'/>
<text x='1544.4' y='752.4' font-size='27.78' text-anchor='middle' fill='#000'>03:22:10</text>
<text x='1740.2' y='752.4' font-size='27.78' text-anchor='middle' fill='#000'>03:47:27</text>
<text x='1936.0' y='752.4' font-size='27.78' text-anchor='middle' fill='#000'>04:12:44</text>
<text x='2131.9' y='752.4' font-size='27.78' text-anchor='middle' fill='#000'>04:38:01</text>
<text x='2327.7' y='752.4' font-size='27.78' text-anchor='middle' fill='#000'>05:03:17</text>
<text x='1457.5' y='316.7' font-size='27.78' text-anchor='middle' fill='#000' transform='rotate(-90 1457.5 316.7)'>Current (uA)</text>
<text x='1430.0' y='597.7' font-size='27.78' text-anchor='middle' fill='#000' transform='rotate(-90 1430.0 597.7)'>Counts Per</text>
<text x='1461.0' y='597.7' font-size='27.78' text-anchor='middle' transform='rotate(-90 1461.0 597.7)'>Second (x10<tspan font-size='19.4' dy='-10.5'>3</tspan><tspan dy='10.5'>)</tspan></text>
<text x='2337.0' y='180.5' font-size='20.83' text-anchor='start' fill='#000' transform='rotate(90 2337.0 180.5)'>Sensor Surface Current</text>
<text x='2357.2' y='180.5' font-size='20.83' text-anchor='start' fill='#0000ff' transform='rotate(90 2357.2 180.5)'>Sensor Surface Current x 5</text>
<text x='2337.2' y='488.0' font-size='22.22' text-anchor='start' fill='#000' transform='rotate(90 2337.2 488.0)'>Hit Counter</text>
<text x='2360.5' y='488.0' font-size='22.22' text-anchor='start' fill='#0000ff' transform='rotate(90 2360.5 488.0)'>Detect Counter</text>
<rect x='1607.00' y='154.00' width='56.00' height='18.90' fill='#c5c9c7' stroke='none' stroke-width='0'/>
<text x='1684.5' y='172.3' font-size='27.78' text-anchor='start' fill='#000'>S/C in Eclipse</text>
<rect x='1927.50' y='154.60' width='56.00' height='17.70' fill='url(#hatch)' stroke='#808080' stroke-width='1.7' style='fill:#fff'/>
<g><clipPath id='hc'><rect x='1927.5' y='154.6' width='56' height='17.7'/></clipPath><g clip-path='url(#hc)' stroke='#808080' stroke-width='2.6'><line x1='1929' y1='172.3' x2='1945.5' y2='154.6'/><line x1='1959' y1='172.3' x2='1976.5' y2='154.6'/></g></g>
<text x='2004.5' y='172.3' font-size='27.78' text-anchor='start' fill='#000'>IRM in S/C Shadow</text>
<g clip-path='url(#mapclip)'>
<path d='M1670.1 795.3L2142.5 795.3A236.2 235.7 0 0 1 2142.5 1266.7L1670.1 1266.7A236.2 235.7 0 0 1 1670.1 795.3Z' fill='#7aadd3'/>
<g filter='url(#bl25)'>
<path d='M1673.1 978.6L1672.7 965.9L1669.0 953.5L1661.9 942.0L1651.9 931.5L1639.1 922.4L1624.0 915.1L1606.7 909.7L1587.7 906.4L1567.2 905.3L1545.6 906.4L1523.4 909.7L1501.2 915.1L1479.9 922.4L1460.2 931.5L1443.1 942.0L1429.2 953.5L1419.3 965.9L1413.9 978.6L1413.2 991.4L1417.2 1003.7L1425.8 1015.3L1438.4 1025.8L1454.6 1034.8L1473.5 1042.1L1494.5 1047.5L1516.8 1050.8L1539.6 1052.0L1562.3 1050.8L1584.2 1047.5L1604.7 1042.1L1623.2 1034.8L1639.4 1025.8L1652.8 1015.3L1663.0 1003.7L1669.8 991.4Z' fill='#6fa3cc' opacity='0.8'/>
<path d='M1901.2 952.4L1900.2 944.2L1897.0 936.3L1892.0 928.9L1885.1 922.1L1876.8 916.3L1867.2 911.6L1856.6 908.1L1845.3 906.0L1833.6 905.3L1821.8 906.0L1810.0 908.1L1798.8 911.6L1788.3 916.3L1778.9 922.1L1771.0 928.9L1764.7 936.3L1760.5 944.2L1758.4 952.4L1758.6 960.6L1761.2 968.6L1765.9 976.0L1772.7 982.7L1781.4 988.5L1791.6 993.3L1803.0 996.7L1815.2 998.9L1827.9 999.6L1840.6 998.9L1853.0 996.7L1864.6 993.3L1875.1 988.5L1884.1 982.7L1891.4 976.0L1896.8 968.6L1900.1 960.6Z' fill='#6fa4cc' opacity='0.7'/>
<path d='M1919.2 1096.5L1918.3 1085.1L1915.4 1074.1L1910.6 1063.7L1904.1 1054.4L1896.0 1046.3L1886.6 1039.8L1876.3 1034.9L1865.2 1032.0L1853.8 1031.0L1842.4 1032.0L1831.4 1034.9L1821.0 1039.8L1811.7 1046.3L1803.8 1054.4L1797.5 1063.7L1793.1 1074.1L1790.8 1085.1L1790.5 1096.5L1792.4 1107.8L1796.3 1118.9L1802.0 1129.2L1809.2 1138.6L1817.7 1146.6L1827.2 1153.2L1837.3 1158.0L1847.7 1160.9L1858.2 1161.9L1868.6 1160.9L1878.6 1158.0L1888.0 1153.2L1896.6 1146.6L1904.2 1138.6L1910.4 1129.2L1915.1 1118.9L1918.1 1107.8Z' fill='#70a4cc' opacity='0.6'/>
<path d='M2202.2 1096.5L2202.5 1086.5L2199.8 1076.8L2194.0 1067.7L2185.6 1059.4L2174.7 1052.3L2161.9 1046.6L2147.5 1042.3L2132.1 1039.7L2116.2 1038.9L2100.2 1039.7L2084.7 1042.3L2070.1 1046.6L2056.9 1052.3L2045.4 1059.4L2035.9 1067.7L2028.8 1076.8L2024.1 1086.5L2022.1 1096.5L2022.6 1106.5L2025.8 1116.2L2031.3 1125.3L2038.9 1133.5L2048.6 1140.6L2059.8 1146.4L2072.5 1150.6L2086.2 1153.2L2100.8 1154.1L2115.8 1153.2L2131.0 1150.6L2145.8 1146.4L2159.9 1140.6L2172.7 1133.5L2183.7 1125.3L2192.6 1116.2L2198.8 1106.5Z' fill='#70a4cc' opacity='0.7'/>
<path d='M2388.4 991.7L2384.6 978.1L2378.2 964.8L2369.4 952.4L2358.7 941.2L2346.8 931.5L2334.2 923.7L2321.5 917.9L2309.3 914.3L2298.1 913.1L2288.0 914.3L2279.4 917.9L2272.2 923.7L2266.4 931.5L2262.0 941.2L2259.0 952.4L2257.4 964.8L2257.1 978.1L2258.1 991.7L2260.5 1005.4L2264.3 1018.6L2269.4 1031.0L2275.7 1042.2L2283.3 1051.9L2292.0 1059.8L2301.6 1065.5L2312.1 1069.1L2323.3 1070.3L2334.8 1069.1L2346.3 1065.5L2357.3 1059.8L2367.5 1051.9L2376.2 1042.2L2383.0 1031.0L2387.5 1018.6L2389.4 1005.4Z' fill='#6b9fc8' opacity='0.8'/>
<path d='M1762.1 1161.9L1758.4 1155.1L1750.5 1148.5L1738.3 1142.3L1722.3 1136.7L1702.9 1131.9L1680.5 1127.9L1656.1 1125.0L1630.2 1123.3L1603.8 1122.7L1577.7 1123.3L1552.8 1125.0L1530.0 1127.9L1510.2 1131.9L1493.9 1136.7L1481.7 1142.3L1474.2 1148.5L1471.5 1155.1L1473.7 1161.9L1480.6 1168.8L1491.9 1175.4L1507.1 1181.6L1525.4 1187.2L1546.3 1192.0L1568.9 1196.0L1592.5 1198.9L1616.3 1200.6L1639.9 1201.2L1662.7 1200.6L1684.1 1198.9L1703.8 1196.0L1721.4 1192.0L1736.4 1187.2L1748.3 1181.6L1756.8 1175.4L1761.5 1168.8Z' fill='#76aad0' opacity='0.6'/>
<path d='M2250.7 821.5L2234.3 816.0L2207.3 810.7L2171.2 805.8L2127.8 801.3L2078.4 797.4L2030.0 795.6L1990.9 795.6L1949.2 795.6L1906.3 795.6L1863.4 795.6L1821.7 795.6L1782.6 795.6L1734.2 797.4L1684.8 801.3L1641.4 805.8L1605.3 810.7L1578.3 816.0L1561.9 821.5L1557.3 826.9L1565.1 832.2L1585.3 837.2L1617.6 841.7L1660.8 845.6L1713.3 848.7L1773.4 851.0L1838.5 852.4L1906.3 852.9L1974.1 852.4L2039.2 851.0L2099.3 848.7L2151.8 845.6L2195.0 841.7L2227.3 837.2L2247.5 832.2L2255.3 826.9Z' fill='#86b8dc' opacity='0.7'/>
<path d='M1861.9 1201.2L1858.8 1197.6L1850.2 1194.1L1836.4 1190.8L1817.6 1187.8L1794.3 1185.2L1767.4 1183.1L1737.6 1181.5L1706.0 1180.6L1673.5 1180.3L1641.4 1180.6L1610.6 1181.5L1582.2 1183.1L1557.3 1185.2L1536.6 1187.8L1520.8 1190.8L1510.4 1194.1L1505.7 1197.6L1506.7 1201.2L1513.3 1204.9L1525.1 1208.4L1541.5 1211.7L1562.1 1214.7L1585.9 1217.3L1612.2 1219.4L1640.2 1220.9L1669.2 1221.9L1698.3 1222.2L1727.0 1221.9L1754.5 1220.9L1780.2 1219.4L1803.5 1217.3L1823.7 1214.7L1840.1 1211.7L1852.3 1208.4L1859.7 1204.9Z' fill='#84b7dc' opacity='0.6'/>
<path d='M2323.1 1182.9L2322.6 1179.3L2314.8 1175.7L2299.8 1172.4L2278.1 1169.4L2250.3 1166.8L2217.4 1164.8L2180.2 1163.2L2140.2 1162.3L2098.6 1161.9L2056.8 1162.3L2016.1 1163.2L1978.1 1164.8L1943.8 1166.8L1914.4 1169.4L1890.7 1172.4L1873.5 1175.7L1863.2 1179.3L1860.0 1182.9L1863.8 1186.5L1874.4 1190.1L1891.4 1193.4L1913.9 1196.4L1941.4 1198.9L1972.9 1201.0L2007.6 1202.6L2044.5 1203.5L2082.6 1203.8L2121.1 1203.5L2158.9 1202.6L2195.0 1201.0L2228.5 1198.9L2258.2 1196.4L2283.4 1193.4L2303.1 1190.1L2316.5 1186.5Z' fill='#80b3d8' opacity='0.5'/>
<path d='M1562.1 1109.6L1558.9 1100.5L1554.1 1091.7L1547.7 1083.4L1540.0 1075.9L1531.1 1069.4L1521.1 1064.2L1510.4 1060.3L1499.1 1058.0L1487.7 1057.2L1476.4 1058.0L1465.7 1060.3L1455.8 1064.2L1447.3 1069.4L1440.4 1075.9L1435.5 1083.4L1432.8 1091.7L1432.5 1100.5L1434.7 1109.6L1439.2 1118.7L1445.8 1127.5L1454.4 1135.8L1464.5 1143.2L1475.6 1149.7L1487.4 1154.9L1499.3 1158.8L1510.9 1161.1L1521.8 1161.9L1531.7 1161.1L1540.6 1158.8L1548.1 1154.9L1554.3 1149.7L1558.9 1143.2L1562.1 1135.8L1563.7 1127.5L1563.7 1118.7Z' fill='#84b6da' opacity='0.4'/>
</g>
<g filter='url(#bl1)'>
<path d='M1534.7 859.5L1547.2 851.6L1561.0 846.9L1575.6 844.3L1587.1 846.4L1604.0 848.7L1615.4 850.3L1632.8 847.7L1638.1 849.0L1648.8 849.0L1656.5 852.9L1667.4 852.9L1678.3 852.9L1689.1 852.9L1698.6 851.6L1708.0 843.7L1708.9 849.0L1715.9 851.6L1723.9 849.0L1730.7 850.3L1726.9 855.5L1716.7 858.2L1711.9 863.4L1704.5 864.7L1695.8 868.6L1688.7 876.5L1691.0 881.7L1696.8 881.7L1706.8 886.2L1712.8 887.0L1711.7 892.2L1713.8 896.9L1717.6 896.1L1719.7 889.6L1726.2 884.3L1726.2 877.8L1728.8 873.9L1730.1 867.8L1739.1 867.8L1746.9 871.2L1744.9 877.0L1749.1 878.3L1756.3 873.9L1758.8 873.1L1762.4 880.4L1765.6 885.7L1770.5 889.6L1772.8 894.8L1764.6 899.5L1750.2 899.5L1742.2 902.7L1734.9 907.9L1741.8 904.5L1750.7 902.7L1748.6 906.6L1750.1 910.5L1757.2 911.8L1760.2 909.2L1757.0 912.6L1750.5 914.5L1743.9 917.1L1744.7 913.1L1742.2 913.1L1736.8 915.8L1732.5 918.4L1733.1 921.5L1729.1 922.8L1722.5 924.7L1720.7 927.6L1717.4 931.5L1715.7 934.1L1715.3 938.6L1710.4 942.0L1706.3 944.1L1700.6 947.7L1698.8 952.4L1700.9 960.3L1699.8 964.7L1697.5 965.0L1694.5 958.5L1694.8 955.1L1692.2 952.4L1688.2 953.0L1683.4 951.4L1678.2 951.9L1678.2 954.8L1674.0 954.3L1667.0 953.2L1663.6 955.1L1657.0 959.0L1655.5 965.5L1653.6 972.6L1656.0 979.9L1659.7 982.3L1662.2 983.3L1667.5 982.3L1670.8 980.5L1672.1 976.0L1678.7 974.7L1681.7 975.5L1679.1 979.9L1676.8 985.2L1675.3 989.4L1682.4 989.4L1688.8 990.9L1688.0 998.3L1687.5 1002.2L1690.4 1006.6L1694.2 1007.7L1698.2 1006.1L1703.6 1008.5L1702.2 1012.1L1701.4 1011.4L1698.2 1008.0L1695.6 1011.9L1692.3 1011.1L1688.9 1009.3L1683.9 1004.8L1682.0 1002.2L1677.9 997.0L1674.3 996.2L1667.6 994.3L1661.6 988.8L1655.0 989.9L1646.7 987.0L1641.3 983.9L1634.0 979.9L1632.5 977.6L1634.0 974.4L1631.6 969.7L1626.1 964.0L1625.5 960.3L1622.2 957.7L1618.7 952.4L1614.9 948.0L1614.1 952.4L1617.6 957.7L1620.4 962.9L1622.2 967.4L1623.7 970.5L1621.8 969.5L1617.8 966.1L1618.0 962.4L1613.3 959.8L1611.9 958.2L1614.4 956.1L1611.3 951.6L1609.3 945.9L1607.1 942.0L1602.1 940.6L1600.1 934.6L1599.7 932.0L1597.9 927.6L1597.4 925.2L1600.1 918.4L1603.9 910.0L1604.7 904.2L1609.5 902.7L1602.3 897.4L1600.0 888.3L1598.3 883.0L1596.0 879.1L1590.4 877.0L1585.1 874.7L1576.5 873.9L1568.3 872.6L1558.0 875.7L1559.8 871.8L1551.6 876.5L1542.6 880.9L1531.1 885.7L1522.7 887.5L1517.5 888.3L1526.9 884.9L1539.5 880.4L1543.2 877.0L1537.4 877.0L1534.9 874.4L1530.6 872.6L1529.4 869.9L1536.3 866.0L1545.3 864.7L1547.7 862.1L1538.8 862.1ZM1763.1 826.2L1777.2 820.2L1791.0 816.8L1814.5 814.9L1843.2 812.3L1860.8 813.6L1872.7 817.6L1883.9 817.6L1871.6 822.8L1868.5 829.3L1865.3 835.9L1860.3 841.1L1859.5 846.4L1850.3 850.3L1841.2 852.4L1831.6 856.8L1822.3 859.2L1814.4 864.7L1807.9 873.3L1801.4 871.8L1796.2 869.9L1793.1 864.7L1791.3 859.5L1789.7 854.2L1794.5 849.5L1790.3 846.4L1790.3 841.1L1788.1 834.6L1779.6 831.4L1769.3 832.0L1765.8 828.0ZM1703.6 1008.5L1708.9 1002.7L1715.5 1000.9L1719.5 998.5L1719.3 1002.7L1723.4 999.3L1728.5 1002.7L1737.6 1004.0L1744.2 1003.0L1747.9 1008.7L1754.3 1013.2L1762.1 1015.5L1769.9 1018.4L1772.5 1021.0L1775.1 1027.1L1775.1 1031.0L1780.3 1032.8L1788.2 1034.9L1790.8 1037.8L1797.4 1038.6L1804.0 1040.2L1808.7 1043.6L1814.0 1045.4L1815.1 1050.6L1813.4 1055.9L1808.8 1061.1L1805.0 1065.0L1804.8 1072.9L1803.7 1078.1L1801.4 1084.7L1800.3 1088.6L1795.3 1091.2L1790.3 1093.3L1785.3 1095.7L1781.7 1099.1L1781.7 1105.1L1777.7 1110.9L1773.8 1115.3L1771.1 1120.0L1767.6 1122.4L1761.2 1121.4L1758.7 1120.0L1763.0 1125.8L1762.2 1130.5L1759.0 1132.6L1751.6 1133.1L1751.7 1137.9L1745.1 1138.4L1748.3 1142.3L1745.6 1144.9L1745.9 1148.8L1741.7 1152.0L1746.6 1155.4L1743.8 1160.6L1741.2 1164.6L1743.6 1168.2L1744.8 1171.1L1752.2 1174.5L1746.8 1176.3L1741.9 1175.6L1736.2 1172.4L1730.3 1168.5L1725.9 1163.3L1723.4 1156.7L1722.4 1152.8L1725.3 1147.5L1724.1 1141.0L1722.7 1135.8L1722.2 1129.2L1723.0 1124.0L1724.9 1117.4L1724.0 1109.6L1724.4 1103.0L1724.9 1096.5L1724.9 1088.6L1723.8 1079.2L1720.4 1076.3L1715.0 1073.7L1710.1 1070.8L1707.2 1067.1L1704.6 1062.4L1701.4 1057.2L1698.9 1052.0L1696.6 1048.8L1693.4 1046.7L1693.1 1042.8L1695.6 1039.9L1696.4 1037.5L1693.8 1036.8L1694.3 1033.6L1696.1 1029.7L1699.0 1027.3L1699.5 1024.7L1702.7 1023.7L1703.5 1020.5L1703.1 1016.3L1703.5 1013.2L1702.2 1012.1ZM1891.5 937.2L1901.3 938.8L1906.3 937.0L1913.8 934.4L1923.9 934.1L1931.9 933.3L1933.9 934.4L1932.2 938.0L1933.6 940.6L1931.8 942.5L1935.4 944.1L1939.7 944.8L1945.1 946.4L1946.2 949.0L1950.8 950.1L1955.2 951.6L1957.2 949.8L1957.0 945.9L1962.0 944.8L1967.2 947.2L1970.3 948.2L1976.2 949.3L1980.1 950.1L1985.1 948.5L1988.4 949.0L1989.2 952.4L1989.9 956.4L1993.0 960.3L1995.0 964.2L1997.8 968.1L1998.4 970.8L2002.1 976.0L2003.1 981.2L2006.3 983.9L2008.4 989.1L2011.1 992.2L2015.4 995.6L2019.1 998.3L2019.5 1000.9L2022.7 1003.5L2029.2 1001.7L2034.4 1001.4L2040.1 999.8L2039.7 1003.8L2038.5 1007.4L2036.0 1012.7L2033.5 1017.9L2030.9 1021.8L2027.0 1025.2L2021.8 1028.4L2017.8 1032.3L2015.2 1035.7L2012.6 1038.1L2010.7 1041.5L2008.6 1045.4L2009.3 1049.3L2009.7 1054.6L2012.0 1058.5L2012.3 1065.0L2012.4 1070.3L2010.4 1073.7L2005.1 1076.3L2001.9 1078.9L1997.0 1083.1L1997.8 1088.6L1997.8 1093.9L1991.1 1097.8L1990.4 1101.7L1989.1 1106.4L1985.3 1109.6L1982.5 1113.5L1978.0 1116.9L1973.3 1119.8L1971.0 1120.2L1965.7 1120.3L1961.9 1120.6L1956.7 1122.1L1953.0 1120.8L1952.7 1116.6L1951.6 1112.2L1948.5 1105.9L1945.3 1101.7L1943.7 1093.9L1943.7 1090.4L1940.5 1083.4L1937.0 1078.1L1937.0 1072.9L1938.9 1066.4L1942.4 1059.8L1940.9 1054.6L1938.5 1046.7L1937.8 1044.1L1935.2 1041.0L1931.2 1037.0L1929.9 1032.8L1930.7 1029.7L1932.0 1025.8L1932.0 1021.8L1929.6 1019.2L1924.7 1019.5L1922.0 1019.7L1918.1 1014.8L1912.9 1014.5L1908.9 1015.5L1903.7 1017.4L1901.1 1018.4L1898.4 1017.6L1893.2 1017.4L1886.6 1019.5L1882.7 1017.9L1877.5 1013.5L1873.6 1011.4L1871.5 1008.7L1871.5 1006.1L1867.6 1002.7L1867.1 1002.2L1862.7 998.5L1862.5 995.6L1860.7 992.5L1863.3 989.1L1864.0 983.9L1864.0 979.9L1862.3 976.0L1865.0 969.5L1867.7 966.8L1869.1 962.4L1873.0 958.5L1876.9 956.9L1880.8 953.7L1881.6 949.8L1882.7 945.9L1886.1 943.3L1889.1 942.0ZM1883.4 918.4L1886.6 916.6L1894.0 916.8L1901.9 917.3L1903.4 914.2L1903.4 910.5L1901.0 907.9L1894.9 904.2L1899.1 903.2L1902.4 903.7L1902.7 900.8L1906.3 901.4L1909.9 899.5L1912.3 897.4L1914.7 896.4L1917.0 893.5L1918.1 891.4L1922.9 890.6L1926.9 889.8L1926.5 885.7L1925.4 881.7L1930.7 879.9L1930.4 883.6L1929.8 887.0L1932.3 889.6L1935.8 888.5L1939.4 889.6L1945.2 888.0L1949.8 887.5L1953.0 888.5L1955.5 885.7L1955.2 881.7L1957.4 880.2L1961.0 881.7L1962.5 878.3L1960.4 876.0L1963.7 875.2L1970.6 875.2L1975.0 873.9L1971.3 872.3L1965.7 872.8L1959.0 873.9L1955.3 871.2L1954.4 867.3L1955.6 864.7L1960.7 860.8L1961.6 859.2L1956.0 858.7L1954.2 862.1L1952.2 864.2L1948.0 866.8L1945.6 869.9L1946.3 872.6L1949.4 873.9L1947.8 876.5L1945.0 879.6L1944.1 883.0L1940.2 884.3L1939.1 885.9L1936.8 885.9L1936.0 883.8L1933.7 879.9L1931.6 876.5L1930.4 875.2L1928.2 877.0L1923.7 879.1L1919.0 877.0L1917.7 872.6L1917.6 868.6L1922.0 866.0L1927.6 863.9L1931.8 860.8L1934.9 856.8L1937.8 852.9L1941.9 850.3L1946.9 847.7L1953.1 846.4L1960.7 844.8L1966.7 845.1L1972.4 846.9L1970.6 848.5L1977.2 849.2L1983.7 849.8L1994.4 853.4L1996.8 856.8L1990.1 858.2L1978.7 856.3L1982.9 860.8L1984.4 862.6L1990.2 863.7L1995.3 861.8L1995.7 858.7L1999.7 857.1L2003.7 858.2L2002.2 854.2L2001.5 851.6L2007.0 855.5L2010.8 853.7L2018.8 851.6L2023.4 852.4L2029.5 851.3L2035.9 848.5L2043.9 849.5L2049.0 849.0L2053.4 851.6L2049.5 847.7L2047.6 844.5L2050.1 840.3L2056.0 839.8L2059.6 843.7L2062.5 850.3L2065.3 851.6L2063.4 843.7L2062.6 840.3L2069.8 841.9L2072.9 838.5L2081.0 843.2L2073.8 838.2L2084.4 837.2L2083.6 834.6L2088.7 833.3L2097.7 832.0L2106.6 830.7L2111.6 827.5L2119.9 829.9L2134.0 832.0L2135.7 835.9L2132.8 837.2L2139.7 838.0L2151.2 839.3L2161.9 838.5L2169.1 838.5L2176.9 841.1L2179.6 845.1L2184.7 843.7L2191.0 843.7L2197.0 841.4L2197.7 840.1L2212.0 841.7L2222.7 843.7L2230.7 845.3L2244.6 846.4L2250.4 848.7L2260.4 849.0L2269.6 847.7L2274.8 850.3L2283.0 848.2L2294.5 850.6L2305.9 860.8L2303.9 862.1L2301.1 861.6L2308.9 866.0L2311.3 867.3L2302.9 869.2L2298.0 871.2L2296.8 873.9L2286.5 873.9L2283.5 874.4L2283.7 879.1L2285.3 884.3L2288.3 884.3L2287.0 887.5L2285.8 891.9L2282.7 892.7L2281.3 897.4L2276.5 892.2L2272.1 887.0L2268.7 881.7L2269.9 879.1L2272.6 875.2L2275.1 872.6L2275.2 867.3L2269.5 869.9L2262.5 869.7L2262.3 875.2L2253.1 875.2L2248.3 874.9L2235.1 875.7L2232.5 880.4L2228.7 883.6L2225.3 887.7L2230.2 890.1L2237.0 889.6L2241.3 891.7L2242.3 894.8L2244.0 900.1L2245.5 904.0L2243.4 908.7L2240.5 913.1L2239.2 915.8L2235.4 918.4L2231.5 917.9L2229.0 919.7L2227.5 922.3L2228.0 924.9L2223.7 926.8L2226.7 929.6L2230.6 934.1L2232.0 937.5L2231.4 939.1L2228.0 940.1L2225.1 940.6L2224.4 936.7L2223.7 933.6L2219.2 932.0L2218.7 928.3L2215.6 926.5L2210.5 928.3L2209.1 929.4L2209.4 924.9L2206.6 924.1L2203.0 928.3L2199.9 928.9L2202.8 931.5L2204.6 933.3L2208.7 932.0L2213.3 933.1L2210.2 935.4L2206.9 938.6L2211.2 943.3L2215.5 947.2L2216.4 949.8L2217.3 952.4L2216.7 955.1L2217.3 957.7L2214.3 961.6L2213.5 964.2L2211.4 966.6L2208.0 969.5L2205.7 971.0L2201.6 972.6L2198.4 973.4L2193.4 975.0L2192.3 977.8L2190.0 974.7L2186.4 974.4L2182.5 976.5L2180.8 981.2L2183.0 984.4L2188.3 989.1L2191.1 994.3L2191.9 999.6L2187.5 1003.8L2185.5 1006.1L2181.2 1008.2L2181.0 1004.8L2178.3 1003.5L2174.9 1000.1L2170.0 997.7L2169.1 995.9L2167.4 997.0L2167.1 1000.9L2165.9 1006.1L2168.7 1008.7L2169.6 1012.1L2172.8 1013.5L2176.4 1016.6L2177.5 1020.5L2177.9 1023.9L2179.8 1027.3L2177.7 1027.3L2172.1 1023.7L2169.6 1019.2L2169.2 1015.3L2167.3 1012.7L2164.3 1010.0L2164.0 1004.8L2164.2 999.6L2161.9 994.3L2160.8 990.4L2159.2 987.3L2155.0 989.6L2151.8 989.1L2151.9 985.2L2149.4 980.5L2145.3 976.5L2143.5 972.6L2140.1 972.3L2136.4 973.9L2131.3 974.7L2131.2 977.8L2127.5 979.7L2124.4 982.8L2120.4 987.0L2115.5 990.4L2115.3 995.6L2115.1 999.6L2115.0 1003.8L2113.1 1006.6L2111.0 1007.7L2109.3 1009.8L2106.5 1006.1L2104.4 1000.9L2101.6 997.0L2099.9 991.7L2097.7 989.1L2095.9 983.9L2095.2 981.2L2094.7 976.0L2093.6 972.9L2092.7 976.0L2088.8 976.5L2084.6 972.6L2087.0 971.3L2083.2 969.5L2079.6 966.8L2077.9 965.5L2072.2 964.7L2064.5 965.0L2058.0 964.5L2053.6 964.0L2051.9 960.3L2046.1 961.3L2040.8 959.0L2036.7 956.4L2034.3 952.4L2031.1 951.4L2028.7 952.4L2030.3 956.4L2033.7 960.3L2035.2 962.1L2037.0 966.1L2038.8 962.9L2039.2 966.8L2042.8 967.6L2046.7 967.4L2050.1 962.9L2051.7 966.1L2054.5 968.7L2057.7 969.5L2060.8 972.1L2058.6 977.3L2056.0 981.2L2054.4 983.9L2050.1 985.4L2046.7 986.5L2042.2 989.1L2036.6 991.7L2032.8 994.3L2027.7 995.9L2023.8 997.5L2019.9 997.7L2017.9 994.3L2017.5 989.1L2014.1 983.9L2010.0 978.6L2007.2 974.7L2005.6 969.5L2002.3 966.8L2000.1 962.9L1996.6 957.7L1995.1 954.0L1994.1 958.2L1991.2 956.4L1989.4 952.7L1988.4 949.0L1993.3 949.0L1994.7 945.1L1996.7 940.6L1996.8 936.7L1997.2 934.9L1992.9 934.9L1989.3 936.5L1984.1 934.9L1982.9 935.9L1979.1 935.4L1975.3 934.1L1972.5 930.7L1972.3 927.6L1971.5 926.2L1974.6 924.9L1978.2 923.6L1984.4 923.1L1989.1 921.0L1993.3 921.0L1998.0 923.1L2004.3 923.6L2009.1 922.3L2008.8 919.7L2004.2 917.1L1999.5 914.5L1996.8 912.4L1997.6 909.2L2001.8 907.4L1999.9 907.7L1995.1 908.7L1991.6 910.0L1993.1 912.4L1995.6 912.1L1992.7 913.1L1989.7 914.7L1988.3 912.6L1985.8 912.1L1988.0 910.5L1984.2 909.2L1981.1 909.2L1979.0 913.1L1976.8 915.8L1975.0 917.9L1974.4 919.7L1975.6 921.8L1978.2 923.1L1975.8 923.6L1972.9 924.7L1970.9 925.7L1970.8 924.1L1965.9 924.1L1966.0 926.2L1962.9 924.9L1962.9 927.6L1964.5 929.4L1966.3 931.5L1964.4 933.3L1963.8 935.4L1960.8 934.6L1959.6 932.0L1959.0 930.7L1956.6 927.6L1954.5 924.9L1954.5 921.5L1952.0 919.7L1946.9 917.1L1943.1 914.5L1941.8 912.4L1939.6 913.1L1939.8 911.3L1936.4 912.4L1936.7 915.2L1939.5 916.8L1941.4 920.0L1945.9 921.3L1945.9 922.6L1949.7 924.1L1952.3 926.0L1948.5 924.9L1947.6 927.3L1949.0 928.9L1946.6 931.5L1945.8 929.9L1946.2 927.6L1944.6 926.0L1942.0 924.4L1938.5 922.8L1936.5 921.5L1933.5 919.7L1931.6 917.1L1929.6 915.0L1927.9 914.7L1924.7 916.3L1921.1 918.1L1918.1 917.3L1914.9 917.6L1914.0 919.7L1914.2 921.3L1911.8 922.6L1908.3 924.1L1905.6 927.6L1906.8 929.4L1904.5 932.5L1900.8 934.9L1895.3 934.9L1892.2 936.7L1890.5 935.1L1887.7 933.6L1884.0 934.1L1884.3 930.2L1882.6 929.4L1884.2 925.7L1884.7 923.1L1884.3 920.2ZM1518.1 850.6L1522.8 852.1L1527.7 855.5L1532.5 857.9L1521.8 862.3L1517.0 859.5L1511.4 859.5L1506.7 860.8ZM1892.6 899.8L1897.9 899.3L1902.7 898.2L1909.4 896.9L1910.3 893.0L1907.0 892.2L1906.3 890.6L1905.8 888.3L1902.8 887.0L1901.6 884.3L1899.8 883.3L1901.7 879.9L1897.0 880.2L1899.4 877.5L1894.8 877.5L1892.8 880.4L1891.8 882.5L1893.4 884.3L1894.5 887.0L1894.8 887.7L1898.1 887.2L1899.2 889.6L1898.7 891.2L1895.6 891.4L1896.1 892.7L1894.9 894.8L1893.9 895.3L1896.8 895.9L1899.1 896.4L1895.5 897.4ZM1892.0 894.3L1891.6 891.4L1893.1 888.0L1891.7 886.4L1888.7 886.2L1886.3 888.3L1882.7 889.1L1882.6 891.2L1884.2 891.9L1883.0 894.3L1881.7 895.3L1883.6 896.1L1887.2 895.3L1890.8 894.6ZM1852.5 859.5L1856.8 857.1L1861.0 858.7L1866.7 857.6L1871.2 856.8L1874.0 859.5L1876.1 860.8L1872.8 862.6L1865.9 864.7L1860.4 864.4L1855.5 863.9L1857.3 862.1L1853.0 861.0ZM1927.5 822.8L1933.1 821.5L1944.4 820.7L1957.9 821.2L1952.9 824.1L1947.3 825.4L1943.9 828.0L1940.3 830.4L1936.2 829.3L1932.9 826.7L1927.7 824.6ZM2014.7 843.2L2019.9 845.8L2028.5 846.1L2024.0 840.3L2026.5 836.7L2031.9 833.3L2043.1 829.9L2037.7 829.3L2026.9 831.4L2020.4 834.6L2018.1 838.5L2015.2 841.7ZM2090.7 824.1L2096.2 820.2L2111.5 825.4L2103.0 826.7L2094.4 825.9ZM2185.4 834.6L2199.2 832.5L2211.9 834.6L2205.4 835.9L2195.2 837.7ZM1995.6 820.2L2009.6 818.3L2025.0 818.9L2021.1 821.5L2002.0 821.5ZM2241.2 888.8L2245.1 891.4L2249.3 897.4L2253.1 901.4L2251.3 902.7L2255.4 908.4L2252.8 910.5L2250.3 905.3L2246.9 898.7L2243.5 893.5ZM2253.8 922.3L2252.6 918.4L2252.8 912.1L2257.1 914.5L2263.3 915.8L2264.6 917.6L2261.3 918.4L2260.7 921.0L2255.7 919.7L2254.1 920.2ZM2256.5 922.8L2260.1 927.6L2259.0 931.5L2259.9 934.6L2260.7 937.5L2258.8 939.3L2256.2 940.1L2252.0 940.4L2249.9 943.3L2247.0 940.4L2242.2 941.2L2237.4 942.0L2238.1 940.1L2240.7 938.0L2247.4 937.8L2249.4 934.6L2250.0 932.8L2253.4 933.3L2254.8 930.2L2254.6 926.2L2254.3 923.6ZM2237.4 942.0L2235.2 943.3L2235.1 945.4L2237.6 949.0L2239.4 949.0L2240.1 945.1L2238.9 942.7ZM2241.2 942.0L2246.0 941.4L2246.4 942.7L2243.3 945.1L2241.2 943.8ZM2218.8 965.0L2220.3 966.1L2219.0 972.9L2216.5 970.8L2216.6 966.8ZM2188.8 978.6L2194.0 979.1L2192.9 982.6L2188.8 982.3ZM2219.2 982.6L2223.6 982.8L2223.8 987.8L2223.2 991.7L2225.8 994.3L2229.8 994.9L2230.1 997.7L2226.0 995.6L2222.0 995.1L2220.7 993.0L2218.9 990.4L2219.3 987.8ZM2225.9 1011.4L2229.7 1008.7L2234.7 1005.6L2237.6 1010.0L2237.1 1014.0L2235.3 1015.8L2231.3 1014.0L2226.0 1012.9ZM2225.1 1000.1L2230.4 1000.9L2234.1 998.3L2235.0 1002.2L2232.0 1004.8L2228.2 1006.6L2226.7 1003.5ZM2213.5 1008.7L2218.8 1002.7L2219.2 1001.4L2215.1 1006.1ZM2192.3 1027.1L2193.9 1025.8L2198.6 1024.5L2202.8 1022.6L2207.9 1018.2L2212.1 1012.9L2214.8 1014.2L2218.9 1017.4L2215.8 1019.5L2215.1 1023.1L2218.1 1028.4L2214.7 1030.5L2214.7 1033.1L2212.0 1037.0L2210.6 1041.0L2206.9 1041.5L2202.8 1039.6L2198.8 1039.6L2195.4 1038.6L2193.1 1033.1L2192.4 1030.2ZM2156.2 1016.3L2162.0 1017.4L2165.2 1021.0L2169.5 1024.5L2172.7 1026.3L2177.9 1031.0L2180.5 1035.7L2184.4 1038.9L2183.7 1046.2L2180.3 1045.9L2174.6 1041.5L2171.3 1037.5L2169.5 1033.1L2166.1 1029.7L2165.3 1026.5L2162.1 1024.5L2159.5 1021.3ZM2182.3 1048.8L2184.7 1046.5L2190.7 1048.0L2196.5 1047.8L2201.6 1049.1L2206.2 1051.2L2205.8 1053.8L2199.6 1053.0L2191.8 1051.4L2185.3 1050.4ZM2207.5 1052.2L2218.0 1052.5L2228.4 1052.5L2233.7 1052.7L2238.9 1053.0L2230.7 1057.7L2220.3 1057.2L2210.0 1054.3ZM2220.7 1033.1L2223.3 1027.6L2229.1 1028.6L2234.3 1026.8L2233.0 1030.0L2225.2 1030.0L2221.8 1033.4L2225.2 1033.4L2230.2 1033.1L2225.9 1036.0L2227.7 1039.6L2229.4 1043.6L2226.3 1043.6L2225.1 1038.9L2223.3 1038.1L2222.0 1045.4L2219.6 1045.1L2219.3 1040.2L2218.0 1038.1ZM2240.9 1026.0L2244.0 1027.1L2242.2 1030.0L2242.7 1033.1L2241.2 1028.9ZM2242.1 1038.9L2249.5 1038.9L2248.6 1040.7L2242.1 1040.2ZM2250.1 1033.1L2254.0 1032.0L2258.0 1033.1L2259.2 1037.5L2261.8 1039.6L2267.1 1035.2L2276.3 1037.8L2285.4 1041.0L2289.1 1045.4L2293.8 1046.7L2292.1 1048.5L2295.2 1053.3L2300.8 1058.0L2297.3 1058.2L2291.8 1055.9L2288.7 1052.0L2284.9 1050.9L2280.6 1055.1L2275.4 1054.8L2270.4 1052.2L2267.7 1053.0L2267.4 1049.9L2270.1 1048.5L2267.6 1044.9L2261.2 1042.5L2256.5 1041.2L2254.7 1041.5L2252.6 1038.3L2256.6 1037.3L2253.2 1036.8ZM2295.6 1045.9L2299.7 1044.1L2305.0 1042.0L2305.7 1044.9L2300.8 1047.5L2296.9 1047.2ZM2331.3 1083.6L2334.8 1085.5L2337.8 1089.1L2335.9 1089.7L2331.9 1086.5ZM2367.2 1076.8L2370.6 1076.8L2369.9 1078.7L2366.9 1078.4ZM2199.9 1088.6L2201.5 1088.1L2208.8 1084.9L2214.7 1083.4L2221.6 1080.8L2224.3 1076.0L2227.7 1076.3L2229.0 1073.7L2234.4 1068.5L2237.6 1067.7L2240.4 1070.0L2244.1 1070.0L2246.2 1065.0L2248.2 1063.5L2252.7 1062.7L2252.9 1060.9L2259.5 1063.0L2263.7 1063.0L2261.2 1066.4L2259.4 1070.3L2264.3 1072.9L2268.4 1076.8L2272.3 1076.8L2275.3 1070.3L2276.0 1064.5L2278.9 1059.3L2281.0 1064.5L2281.3 1068.7L2285.0 1070.3L2284.9 1074.2L2285.8 1080.2L2289.9 1083.4L2292.5 1089.4L2295.2 1092.5L2299.2 1097.3L2299.1 1101.7L2298.8 1106.4L2295.6 1112.2L2292.2 1116.4L2288.8 1119.5L2284.0 1125.3L2282.1 1129.2L2276.7 1130.3L2271.4 1133.4L2268.2 1131.6L2264.5 1132.6L2258.9 1131.0L2257.0 1127.9L2257.3 1124.8L2254.2 1124.2L2255.6 1122.1L2255.7 1116.4L2252.5 1120.0L2249.2 1122.7L2247.7 1121.6L2245.9 1116.9L2241.4 1114.8L2234.1 1113.8L2226.0 1115.6L2220.4 1117.4L2218.5 1119.8L2209.6 1119.8L2203.8 1122.7L2198.8 1122.4L2196.7 1120.8L2200.1 1114.5L2199.2 1110.9L2198.6 1104.3L2197.8 1099.1L2198.5 1095.2ZM2265.5 1137.6L2269.6 1138.6L2274.2 1138.1L2272.2 1142.3L2269.5 1144.4L2265.5 1145.2L2265.0 1141.8ZM2342.3 1121.1L2344.7 1123.4L2345.0 1127.4L2347.7 1126.9L2347.1 1129.5L2353.2 1129.7L2349.9 1133.7L2347.3 1134.4L2345.7 1137.1L2340.3 1139.9L2339.5 1139.2L2341.8 1136.5L2339.5 1133.9L2342.8 1131.8L2343.9 1129.2L2343.8 1126.6L2342.2 1123.2ZM2335.3 1137.1L2335.5 1139.2L2338.4 1138.9L2337.1 1141.0L2332.5 1144.1L2331.9 1145.7L2326.8 1147.0L2323.2 1151.2L2319.0 1153.0L2316.1 1153.0L2312.6 1151.5L2315.2 1148.8L2319.8 1146.2L2325.3 1143.6L2329.2 1141.8L2332.9 1138.4ZM2035.1 1062.4L2037.3 1071.6L2035.0 1075.5L2033.4 1080.8L2030.4 1088.6L2027.2 1096.5L2022.5 1097.8L2019.5 1096.5L2018.1 1089.9L2021.0 1084.7L2020.6 1078.1L2021.9 1073.4L2026.9 1072.1L2031.2 1068.5L2033.4 1065.0ZM2115.6 1005.3L2118.9 1008.7L2120.9 1012.1L2119.4 1014.8L2116.5 1015.3L2115.1 1011.4L2115.5 1007.4ZM1686.8 973.6L1692.1 970.8L1697.3 970.2L1702.2 972.3L1707.2 974.4L1712.1 976.8L1714.1 978.1L1710.6 978.9L1704.9 979.1L1706.9 977.1L1703.1 976.0L1699.5 973.9L1694.5 972.3L1690.5 972.9ZM1713.1 982.6L1717.1 978.9L1720.4 979.1L1725.1 979.4L1728.7 982.3L1727.1 983.1L1723.2 983.3L1720.5 984.6L1718.0 983.3ZM1703.0 982.8L1708.1 983.3L1708.1 984.1L1703.1 983.9ZM1731.8 982.6L1736.0 982.8L1735.3 984.1L1731.7 983.9ZM1762.4 906.3L1768.4 898.7L1772.8 895.9L1772.9 900.1L1777.3 902.2L1778.4 906.6L1776.0 909.0L1771.3 908.2L1770.4 906.3ZM1598.7 898.0L1605.4 900.1L1607.9 904.2L1604.3 903.5L1599.2 900.1ZM1771.4 856.3L1769.1 859.5L1763.3 860.2L1764.7 862.6L1759.0 866.0L1759.6 869.4L1751.7 867.3L1747.1 864.7L1741.4 862.3L1732.3 862.6L1734.6 860.0L1742.6 859.5L1747.1 854.2L1744.0 851.6L1738.5 847.7L1730.9 847.9L1724.7 847.7L1716.7 845.1L1721.8 837.5L1730.7 838.0L1741.1 838.0L1746.9 838.5L1750.6 843.0L1755.9 845.1L1760.2 847.2L1761.9 850.3L1766.8 854.2ZM1655.9 844.3L1667.8 839.0L1679.4 840.1L1687.7 838.8L1685.9 843.7L1689.4 847.7L1686.2 850.8L1677.5 850.8L1668.7 851.1L1661.1 851.1L1655.6 848.5ZM1643.9 842.4L1652.5 837.7L1662.0 836.4L1663.0 839.8L1654.7 843.2L1646.2 844.5ZM1726.0 830.7L1734.3 825.4L1743.0 820.2L1738.1 817.6L1760.7 813.6L1779.2 813.4L1792.4 814.9L1786.7 817.6L1777.2 820.2L1765.2 823.3L1757.4 825.9L1748.4 830.1L1737.6 831.2ZM1722.0 830.7L1728.0 833.3L1742.8 835.4L1744.5 832.8L1736.0 830.7ZM1723.4 820.7L1734.8 818.9L1736.7 822.8L1724.1 825.9ZM1673.9 830.7L1685.4 831.2L1692.7 832.0L1692.4 834.6L1681.4 835.4L1670.5 834.1ZM1708.6 837.2L1718.9 837.2L1714.0 841.1L1706.8 842.4L1697.5 843.7L1693.1 841.1L1700.0 837.7ZM1713.8 859.5L1720.9 858.7L1725.3 863.4L1719.4 866.5L1713.2 865.2ZM1693.9 849.0L1700.8 848.2L1700.2 850.8L1693.5 851.1ZM1502.1 978.1L1504.5 979.1L1502.8 981.2L1501.7 979.9ZM2072.3 1159.3L2076.0 1159.8L2074.3 1161.2L2072.0 1160.6ZM1760.6 1165.9L1767.7 1165.6L1767.0 1167.7L1762.2 1167.7ZM1926.6 923.9L1930.1 923.4L1930.2 928.3L1927.5 928.9ZM1927.8 919.4L1929.7 918.4L1929.6 922.3L1928.1 922.1ZM1937.6 931.5L1945.3 931.0L1944.2 934.9L1937.9 932.5ZM1965.7 937.8L1972.6 938.6L1971.8 939.3L1965.8 938.8ZM1987.7 939.1L1993.2 937.8L1991.8 939.6L1988.3 940.1ZM2009.1 1046.2L2009.8 1047.2L2009.3 1047.8ZM2045.5 998.0L2048.6 998.3L2046.8 998.8ZM1743.2 1168.8L1744.8 1171.1L1752.2 1174.5L1746.8 1176.3L1741.9 1175.6L1736.2 1172.4L1739.4 1171.1L1739.1 1169.3Z' fill='#e6e6b6'/>
<path d='M1552.3 1235.3L1591.6 1235.3L1604.0 1230.0L1621.0 1227.4L1640.0 1226.1L1659.2 1224.8L1681.0 1226.1L1697.3 1220.9L1718.8 1221.7L1739.9 1222.2L1747.4 1216.9L1755.5 1211.7L1758.0 1207.8L1762.0 1201.2L1767.7 1198.6L1777.1 1196.5L1773.1 1201.2L1771.6 1209.1L1778.2 1219.6L1783.4 1226.1L1780.7 1228.7L1808.0 1235.3L1828.1 1236.6L1837.0 1234.0L1849.9 1230.0L1864.9 1223.5L1881.0 1218.3L1895.7 1215.6L1906.3 1213.0L1927.7 1213.8L1949.1 1213.8L1970.9 1211.7L1981.7 1211.7L1993.2 1209.1L2016.1 1205.2L2027.5 1203.8L2037.4 1207.0L2058.3 1209.1L2060.8 1213.0L2075.7 1209.1L2080.7 1207.8L2104.0 1205.2L2126.7 1203.8L2148.8 1203.8L2169.9 1205.2L2192.9 1203.8L2213.8 1205.2L2232.1 1209.1L2248.2 1214.3L2255.9 1216.9L2263.9 1219.0L2252.2 1224.8L2234.9 1232.7L2240.7 1235.3L2260.3 1235.3L2253.2 1239.2L2245.5 1243.1L2236.9 1247.1L2227.3 1251.0L2216.3 1254.9L2203.0 1258.8L2185.4 1262.8L2142.5 1266.7L1670.1 1266.7L1627.2 1262.8L1609.6 1258.8L1596.3 1254.9L1585.3 1251.0L1575.7 1247.1L1567.1 1243.1L1559.4 1239.2Z' fill='#f4f5fa'/>
</g>
<g clip-path='url(#landclip)'><g filter='url(#bl6)'>
<path d='M1820.8 847.7L1819.3 844.9L1813.5 842.3L1803.6 839.8L1790.0 837.6L1773.3 835.6L1753.8 834.1L1732.2 832.9L1708.9 832.2L1684.6 832.0L1659.9 832.2L1635.3 832.9L1611.5 834.1L1589.1 835.6L1568.9 837.6L1551.5 839.8L1537.4 842.3L1527.3 844.9L1521.6 847.7L1520.6 850.4L1524.4 853.1L1532.9 855.5L1546.0 857.8L1563.2 859.7L1584.0 861.3L1607.7 862.4L1633.5 863.2L1660.5 863.4L1687.8 863.2L1714.4 862.4L1739.6 861.3L1762.4 859.7L1782.2 857.8L1798.2 855.5L1810.2 853.1L1817.8 850.4Z' fill='#dcdccc' opacity='1'/>
<path d='M2294.7 842.4L2288.9 840.2L2277.8 838.0L2261.9 835.9L2242.0 834.0L2218.5 832.4L2192.4 831.1L2164.3 830.1L2135.1 829.5L2105.5 829.3L2076.2 829.5L2048.1 830.1L2021.7 831.1L1997.9 832.4L1977.2 834.0L1960.4 835.9L1947.9 838.0L1940.2 840.2L1937.8 842.4L1940.8 844.7L1949.2 846.9L1962.9 849.0L1981.6 850.9L2004.7 852.5L2031.5 853.8L2061.2 854.7L2092.7 855.3L2125.1 855.5L2157.3 855.3L2188.1 854.7L2216.6 853.8L2241.7 852.5L2262.7 850.9L2278.9 849.0L2289.7 846.9L2295.1 844.7Z' fill='#dcdccc' opacity='1'/>
<path d='M1610.9 855.5L1612.1 853.3L1612.1 851.1L1610.8 849.0L1608.3 847.1L1604.7 845.5L1600.0 844.2L1594.4 843.2L1587.9 842.6L1580.9 842.4L1573.3 842.6L1565.6 843.2L1557.8 844.2L1550.1 845.5L1543.0 847.1L1536.5 849.0L1530.9 851.1L1526.5 853.3L1523.3 855.5L1521.6 857.8L1521.3 860.0L1522.5 862.1L1525.1 864.0L1529.1 865.6L1534.4 866.9L1540.7 867.8L1547.8 868.4L1555.5 868.6L1563.5 868.4L1571.6 867.8L1579.5 866.9L1586.9 865.6L1593.7 864.0L1599.6 862.1L1604.5 860.0L1608.3 857.8Z' fill='#d8dcc4' opacity='1'/>
<path d='M1778.3 881.7L1777.5 878.1L1773.2 874.6L1765.8 871.2L1755.5 868.3L1742.5 865.7L1727.4 863.6L1710.5 862.0L1692.3 861.1L1673.2 860.8L1653.7 861.1L1634.4 862.0L1615.6 863.6L1598.1 865.7L1582.2 868.3L1568.6 871.2L1557.7 874.6L1549.9 878.1L1545.5 881.7L1544.8 885.4L1547.8 888.9L1554.4 892.2L1564.6 895.2L1577.9 897.8L1594.0 899.9L1612.2 901.4L1632.1 902.4L1652.9 902.7L1674.0 902.4L1694.6 901.4L1714.1 899.9L1731.8 897.8L1747.2 895.2L1759.9 892.2L1769.4 888.9L1775.6 885.4Z' fill='#b4cca2' opacity='1'/>
<path d='M1600.4 866.0L1601.3 864.2L1601.2 862.4L1600.2 860.8L1598.4 859.3L1595.6 858.0L1592.1 856.9L1588.0 856.2L1583.2 855.7L1578.0 855.5L1572.6 855.7L1567.0 856.2L1561.4 856.9L1556.0 858.0L1550.9 859.3L1546.4 860.8L1542.6 862.4L1539.5 864.2L1537.4 866.0L1536.3 867.8L1536.2 869.6L1537.1 871.2L1539.1 872.7L1542.0 874.0L1545.8 875.1L1550.3 875.9L1555.3 876.3L1560.8 876.5L1566.5 876.3L1572.3 875.9L1577.9 875.1L1583.2 874.0L1588.1 872.7L1592.3 871.2L1595.9 869.6L1598.6 867.8Z' fill='#b8cea6' opacity='1'/>
<path d='M1768.1 894.8L1768.1 892.5L1767.1 890.3L1765.2 888.3L1762.4 886.4L1758.8 884.8L1754.5 883.5L1749.6 882.5L1744.3 881.9L1738.7 881.7L1733.0 881.9L1727.3 882.5L1721.8 883.5L1716.6 884.8L1712.0 886.4L1708.1 888.3L1704.9 890.3L1702.6 892.5L1701.3 894.8L1701.1 897.1L1701.9 899.3L1703.7 901.4L1706.5 903.2L1710.2 904.8L1714.7 906.2L1719.8 907.1L1725.4 907.7L1731.2 907.9L1737.2 907.7L1743.1 907.1L1748.7 906.2L1753.8 904.8L1758.3 903.2L1762.1 901.4L1765.0 899.3L1767.0 897.1Z' fill='#b6cca4' opacity='1'/>
<path d='M2168.2 871.2L2164.4 868.1L2156.9 865.0L2146.0 862.1L2132.2 859.5L2115.9 857.2L2097.7 855.4L2078.0 854.0L2057.5 853.2L2036.6 852.9L2016.0 853.2L1996.0 854.0L1977.4 855.4L1960.5 857.2L1945.8 859.5L1933.8 862.1L1925.0 865.0L1919.5 868.1L1917.7 871.2L1919.7 874.4L1925.5 877.5L1935.0 880.4L1948.0 883.0L1964.1 885.3L1982.7 887.1L2003.4 888.5L2025.4 889.3L2048.0 889.6L2070.5 889.3L2092.1 888.5L2112.1 887.1L2129.8 885.3L2144.6 883.0L2156.2 880.4L2164.1 877.5L2168.1 874.4Z' fill='#b6cda4' opacity='1'/>
<path d='M2249.8 873.9L2245.7 870.2L2238.8 866.7L2229.5 863.4L2218.2 860.4L2205.2 857.8L2190.9 855.7L2175.9 854.2L2160.5 853.2L2145.2 852.9L2130.3 853.2L2116.3 854.2L2103.4 855.7L2091.9 857.8L2082.3 860.4L2074.7 863.4L2069.5 866.7L2066.7 870.2L2066.6 873.9L2069.3 877.5L2074.6 881.0L2082.6 884.3L2093.0 887.3L2105.5 889.9L2119.8 892.0L2135.4 893.6L2151.8 894.5L2168.5 894.8L2184.9 894.5L2200.4 893.6L2214.7 892.0L2227.0 889.9L2237.2 887.3L2244.7 884.3L2249.4 881.0L2251.1 877.5Z' fill='#b4cca2' opacity='1'/>
<path d='M1978.7 868.6L1977.8 865.4L1976.0 862.4L1973.5 859.5L1970.4 856.8L1966.8 854.6L1962.7 852.8L1958.4 851.4L1953.9 850.6L1949.4 850.3L1944.9 850.6L1940.7 851.4L1936.7 852.8L1933.1 854.6L1930.0 856.8L1927.6 859.5L1925.7 862.4L1924.7 865.4L1924.4 868.6L1925.0 871.8L1926.3 874.9L1928.5 877.8L1931.4 880.4L1935.0 882.7L1939.1 884.5L1943.6 885.9L1948.4 886.7L1953.3 887.0L1958.2 886.7L1962.9 885.9L1967.1 884.5L1970.9 882.7L1974.1 880.4L1976.5 877.8L1978.1 874.9L1978.8 871.8Z' fill='#bccfa8' opacity='1'/>
<path d='M2291.1 868.6L2287.9 865.9L2283.4 863.3L2277.7 860.8L2271.1 858.5L2263.8 856.6L2255.9 855.0L2247.9 853.9L2239.9 853.2L2232.1 852.9L2224.8 853.2L2218.1 853.9L2212.2 855.0L2207.3 856.6L2203.5 858.5L2200.8 860.8L2199.4 863.3L2199.3 865.9L2200.5 868.6L2203.1 871.4L2206.9 874.0L2211.9 876.5L2217.9 878.7L2224.9 880.7L2232.5 882.2L2240.6 883.4L2248.9 884.1L2257.2 884.3L2265.2 884.1L2272.6 883.4L2279.1 882.2L2284.6 880.7L2288.8 878.7L2291.7 876.5L2293.0 874.0L2292.8 871.4Z' fill='#c4d0b0' opacity='1'/>
<path d='M1983.5 902.7L1982.5 899.9L1980.0 897.3L1976.2 894.8L1971.2 892.6L1965.1 890.6L1958.2 889.1L1950.7 887.9L1942.7 887.2L1934.5 887.0L1926.4 887.2L1918.5 887.9L1911.0 889.1L1904.3 890.6L1898.4 892.6L1893.6 894.8L1890.0 897.3L1887.8 899.9L1887.0 902.7L1887.7 905.4L1889.8 908.0L1893.3 910.5L1898.2 912.8L1904.2 914.7L1911.2 916.3L1919.0 917.4L1927.3 918.1L1935.9 918.4L1944.4 918.1L1952.7 917.4L1960.4 916.3L1967.3 914.7L1973.2 912.8L1977.8 910.5L1981.2 908.0L1983.1 905.4Z' fill='#ccd9ae' opacity='1'/>
<path d='M2023.1 894.8L2022.1 892.5L2020.2 890.3L2017.3 888.3L2013.7 886.4L2009.3 884.8L2004.4 883.5L1999.1 882.5L1993.5 881.9L1987.8 881.7L1982.1 881.9L1976.7 882.5L1971.7 883.5L1967.2 884.8L1963.3 886.4L1960.2 888.3L1958.0 890.3L1956.7 892.5L1956.3 894.8L1957.0 897.1L1958.7 899.3L1961.4 901.4L1964.9 903.2L1969.2 904.8L1974.2 906.2L1979.7 907.1L1985.5 907.7L1991.4 907.9L1997.3 907.7L2002.9 907.1L2008.2 906.2L2012.8 904.8L2016.7 903.2L2019.8 901.4L2021.9 899.3L2023.0 897.1Z' fill='#d2dcae' opacity='1'/>
<path d='M1722.7 936.7L1722.9 933.5L1722.5 930.5L1721.4 927.6L1719.7 924.9L1717.5 922.7L1714.7 920.8L1711.5 919.5L1708.0 918.7L1704.2 918.4L1700.2 918.7L1696.3 919.5L1692.4 920.8L1688.8 922.7L1685.5 924.9L1682.6 927.6L1680.2 930.5L1678.5 933.5L1677.4 936.7L1677.1 939.9L1677.5 943.0L1678.6 945.9L1680.4 948.5L1682.8 950.8L1685.7 952.6L1689.2 953.9L1692.9 954.8L1696.8 955.1L1700.9 954.8L1704.9 953.9L1708.7 952.6L1712.3 950.8L1715.4 948.5L1718.1 945.9L1720.3 943.0L1721.8 939.9Z' fill='#cfdcaa' opacity='1'/>
<path d='M1617.4 913.1L1618.3 910.4L1618.9 907.8L1619.2 905.3L1619.2 903.0L1618.8 901.1L1618.1 899.5L1617.1 898.4L1615.9 897.7L1614.3 897.4L1612.5 897.7L1610.6 898.4L1608.5 899.5L1606.4 901.1L1604.4 903.0L1602.4 905.3L1600.6 907.8L1599.0 910.4L1597.8 913.1L1596.8 915.9L1596.3 918.5L1596.1 921.0L1596.2 923.3L1596.8 925.2L1597.6 926.8L1598.8 927.9L1600.3 928.6L1601.9 928.9L1603.7 928.6L1605.7 927.9L1607.6 926.8L1609.5 925.2L1611.4 923.3L1613.2 921.0L1614.8 918.5L1616.2 915.9Z' fill='#bfd0a6' opacity='1'/>
<path d='M1647.9 934.1L1648.6 930.5L1648.5 926.9L1647.8 923.6L1646.5 920.6L1644.6 918.1L1642.1 916.0L1639.2 914.4L1635.8 913.5L1632.1 913.1L1628.1 913.5L1624.1 914.4L1620.0 916.0L1616.1 918.1L1612.4 920.6L1609.2 923.6L1606.4 926.9L1604.3 930.5L1602.8 934.1L1602.0 937.7L1602.1 941.3L1602.9 944.6L1604.4 947.6L1606.6 950.2L1609.3 952.2L1612.6 953.8L1616.3 954.7L1620.2 955.1L1624.3 954.7L1628.3 953.8L1632.3 952.2L1636.0 950.2L1639.4 947.6L1642.3 944.6L1644.8 941.3L1646.7 937.7Z' fill='#eedcc8' opacity='1'/>
<path d='M1655.0 960.3L1655.3 957.6L1655.1 954.9L1654.4 952.4L1653.3 950.2L1651.8 948.3L1650.0 946.7L1647.9 945.5L1645.4 944.8L1642.9 944.6L1640.2 944.8L1637.4 945.5L1634.8 946.7L1632.2 948.3L1629.9 950.2L1627.9 952.4L1626.3 954.9L1625.0 957.6L1624.3 960.3L1624.0 963.0L1624.2 965.7L1624.9 968.1L1626.1 970.4L1627.7 972.3L1629.7 973.9L1631.9 975.1L1634.5 975.8L1637.1 976.0L1639.9 975.8L1642.6 975.1L1645.2 973.9L1647.6 972.3L1649.8 970.4L1651.7 968.1L1653.2 965.7L1654.3 963.0Z' fill='#ece0c0' opacity='1'/>
<path d='M1692.6 991.7L1692.5 989.9L1691.9 988.1L1690.9 986.5L1689.5 985.0L1687.7 983.7L1685.6 982.6L1683.2 981.9L1680.6 981.4L1678.0 981.2L1675.2 981.4L1672.6 981.9L1670.0 982.6L1667.7 983.7L1665.6 985.0L1663.9 986.5L1662.6 988.1L1661.7 989.9L1661.3 991.7L1661.4 993.5L1662.0 995.3L1663.0 997.0L1664.5 998.5L1666.3 999.7L1668.5 1000.8L1670.9 1001.6L1673.5 1002.0L1676.2 1002.2L1678.9 1002.0L1681.6 1001.6L1684.1 1000.8L1686.4 999.7L1688.5 998.5L1690.1 997.0L1691.4 995.3L1692.2 993.5Z' fill='#c6d6a2' opacity='1'/>
<path d='M1780.4 1038.9L1779.8 1034.8L1778.1 1030.8L1775.4 1027.1L1771.8 1023.7L1767.3 1020.8L1762.1 1018.4L1756.3 1016.7L1750.1 1015.6L1743.8 1015.3L1737.4 1015.6L1731.2 1016.7L1725.3 1018.4L1720.1 1020.8L1715.5 1023.7L1711.8 1027.1L1709.1 1030.8L1707.4 1034.8L1706.9 1038.9L1707.5 1042.9L1709.3 1046.9L1712.1 1050.6L1715.9 1054.0L1720.5 1056.9L1725.9 1059.3L1731.7 1061.0L1737.9 1062.1L1744.3 1062.4L1750.6 1062.1L1756.8 1061.0L1762.5 1059.3L1767.6 1056.9L1772.1 1054.0L1775.6 1050.6L1778.3 1046.9L1779.8 1042.9Z' fill='#b6cd9e' opacity='1'/>
<path d='M1733.1 1023.1L1732.9 1020.9L1732.3 1018.7L1731.1 1016.6L1729.6 1014.7L1727.7 1013.1L1725.5 1011.8L1723.1 1010.8L1720.4 1010.2L1717.7 1010.0L1715.0 1010.2L1712.3 1010.8L1709.8 1011.8L1707.5 1013.1L1705.5 1014.7L1703.9 1016.6L1702.7 1018.7L1701.9 1020.9L1701.7 1023.1L1701.9 1025.4L1702.6 1027.6L1703.7 1029.7L1705.3 1031.6L1707.2 1033.2L1709.5 1034.5L1712.0 1035.4L1714.6 1036.0L1717.4 1036.2L1720.1 1036.0L1722.7 1035.4L1725.2 1034.5L1727.5 1033.2L1729.4 1031.6L1731.0 1029.7L1732.1 1027.6L1732.9 1025.4Z' fill='#bcd0a0' opacity='1'/>
<path d='M1791.1 1052.0L1790.7 1049.2L1789.7 1046.6L1788.1 1044.1L1786.0 1041.9L1783.4 1039.9L1780.4 1038.3L1777.0 1037.2L1773.5 1036.5L1769.8 1036.2L1766.2 1036.5L1762.7 1037.2L1759.4 1038.3L1756.4 1039.9L1753.8 1041.9L1751.8 1044.1L1750.3 1046.6L1749.4 1049.2L1749.1 1052.0L1749.5 1054.7L1750.6 1057.3L1752.2 1059.8L1754.4 1062.1L1757.1 1064.0L1760.1 1065.6L1763.5 1066.7L1767.0 1067.4L1770.7 1067.7L1774.3 1067.4L1777.8 1066.7L1781.0 1065.6L1783.9 1064.0L1786.4 1062.1L1788.5 1059.8L1789.9 1057.3L1790.8 1054.7Z' fill='#c8d8a4' opacity='0.8'/>
<path d='M1733.6 1088.6L1733.0 1082.2L1732.3 1076.1L1731.4 1070.3L1730.6 1065.0L1729.6 1060.5L1728.6 1056.9L1727.6 1054.2L1726.6 1052.5L1725.6 1052.0L1724.6 1052.5L1723.7 1054.2L1722.9 1056.9L1722.2 1060.5L1721.8 1065.0L1721.5 1070.3L1721.5 1076.1L1721.8 1082.2L1722.3 1088.6L1723.0 1095.0L1724.0 1101.2L1725.2 1106.9L1726.5 1112.2L1727.8 1116.7L1729.2 1120.4L1730.5 1123.1L1731.7 1124.7L1732.8 1125.3L1733.6 1124.7L1734.3 1123.1L1734.8 1120.4L1735.0 1116.7L1735.0 1112.2L1734.9 1106.9L1734.6 1101.2L1734.2 1095.0Z' fill='#dcd6cc' opacity='0.9'/>
<path d='M1715.1 1052.0L1714.9 1048.3L1714.6 1044.8L1714.1 1041.5L1713.5 1038.5L1712.9 1035.9L1712.1 1033.8L1711.3 1032.3L1710.4 1031.3L1709.5 1031.0L1708.6 1031.3L1707.7 1032.3L1706.8 1033.8L1706.1 1035.9L1705.5 1038.5L1705.0 1041.5L1704.7 1044.8L1704.6 1048.3L1704.6 1052.0L1704.8 1055.6L1705.3 1059.1L1705.8 1062.4L1706.5 1065.4L1707.3 1068.0L1708.2 1070.1L1709.2 1071.6L1710.1 1072.6L1711.0 1072.9L1711.9 1072.6L1712.7 1071.6L1713.4 1070.1L1714.0 1068.0L1714.5 1065.4L1714.9 1062.4L1715.1 1059.1L1715.2 1055.6Z' fill='#d6d4c4' opacity='0.7'/>
<path d='M1746.6 1146.2L1745.7 1142.6L1744.6 1139.1L1743.3 1135.8L1741.7 1132.8L1740.1 1130.2L1738.3 1128.1L1736.4 1126.5L1734.6 1125.6L1732.8 1125.3L1731.1 1125.6L1729.5 1126.5L1728.2 1128.1L1727.2 1130.2L1726.4 1132.8L1726.0 1135.8L1726.0 1139.1L1726.3 1142.6L1726.9 1146.2L1727.9 1149.9L1729.2 1153.4L1730.8 1156.7L1732.5 1159.7L1734.4 1162.3L1736.3 1164.4L1738.2 1165.9L1740.1 1166.9L1741.9 1167.2L1743.4 1166.9L1744.8 1165.9L1745.9 1164.4L1746.7 1162.3L1747.3 1159.7L1747.6 1156.7L1747.5 1153.4L1747.2 1149.9Z' fill='#ead8c0' opacity='1'/>
<path d='M1999.1 968.1L1997.8 964.3L1994.3 960.5L1988.8 957.0L1981.5 953.8L1972.5 951.1L1962.2 948.9L1950.9 947.2L1938.9 946.2L1926.6 945.9L1914.3 946.2L1902.3 947.2L1891.0 948.9L1880.8 951.1L1872.0 953.8L1864.7 957.0L1859.3 960.5L1856.0 964.3L1854.8 968.1L1855.7 972.0L1858.9 975.8L1864.2 979.3L1871.4 982.5L1880.3 985.2L1890.7 987.4L1902.2 989.1L1914.5 990.1L1927.1 990.4L1939.8 990.1L1952.1 989.1L1963.5 987.4L1973.9 985.2L1982.8 982.5L1989.9 979.3L1995.1 975.8L1998.2 972.0Z' fill='#f2e5cf' opacity='1'/>
<path d='M1999.1 968.1L1998.6 965.0L1997.5 961.9L1995.8 959.0L1993.6 956.4L1990.9 954.1L1987.9 952.3L1984.6 950.9L1981.1 950.1L1977.5 949.8L1974.0 950.1L1970.6 950.9L1967.5 952.3L1964.6 954.1L1962.2 956.4L1960.3 959.0L1958.9 961.9L1958.1 965.0L1957.8 968.1L1958.2 971.3L1959.3 974.4L1960.9 977.3L1963.0 979.9L1965.6 982.2L1968.7 984.0L1972.0 985.4L1975.5 986.2L1979.1 986.5L1982.7 986.2L1986.2 985.4L1989.4 984.0L1992.3 982.2L1994.8 979.9L1996.8 977.3L1998.2 974.4L1998.9 971.3Z' fill='#f2e5cf' opacity='1'/>
<path d='M1911.5 973.4L1911.1 970.7L1909.9 968.0L1908.0 965.5L1905.4 963.3L1902.3 961.3L1898.6 959.8L1894.6 958.6L1890.3 957.9L1885.8 957.7L1881.4 957.9L1877.1 958.6L1873.0 959.8L1869.3 961.3L1866.1 963.3L1863.4 965.5L1861.5 968.0L1860.2 970.7L1859.8 973.4L1860.1 976.1L1861.2 978.8L1863.1 981.2L1865.6 983.5L1868.8 985.4L1872.5 987.0L1876.6 988.2L1881.0 988.9L1885.5 989.1L1890.0 988.9L1894.4 988.2L1898.5 987.0L1902.2 985.4L1905.4 983.5L1908.0 981.2L1909.9 978.8L1911.1 976.1Z' fill='#f2e5cf' opacity='1'/>
<path d='M1990.3 1031.0L1989.8 1028.5L1988.4 1026.1L1986.0 1023.8L1982.9 1021.7L1979.0 1020.0L1974.5 1018.5L1969.5 1017.5L1964.2 1016.8L1958.7 1016.6L1953.3 1016.8L1948.0 1017.5L1943.0 1018.5L1938.5 1020.0L1934.7 1021.7L1931.5 1023.8L1929.2 1026.1L1927.8 1028.5L1927.3 1031.0L1927.8 1033.5L1929.2 1035.9L1931.5 1038.2L1934.7 1040.3L1938.5 1042.0L1943.0 1043.5L1948.0 1044.5L1953.3 1045.2L1958.7 1045.4L1964.2 1045.2L1969.5 1044.5L1974.5 1043.5L1979.0 1042.0L1982.9 1040.3L1986.0 1038.2L1988.4 1035.9L1989.8 1033.5Z' fill='#aec896' opacity='1'/>
<path d='M1901.1 1012.7L1900.8 1011.5L1900.1 1010.4L1899.0 1009.4L1897.4 1008.5L1895.5 1007.7L1893.2 1007.0L1890.7 1006.5L1888.1 1006.2L1885.4 1006.1L1882.6 1006.2L1880.0 1006.5L1877.5 1007.0L1875.3 1007.7L1873.3 1008.5L1871.7 1009.4L1870.6 1010.4L1869.9 1011.5L1869.6 1012.7L1869.8 1013.8L1870.5 1014.9L1871.7 1015.9L1873.3 1016.9L1875.2 1017.7L1877.5 1018.3L1879.9 1018.8L1882.6 1019.1L1885.3 1019.2L1888.1 1019.1L1890.7 1018.8L1893.2 1018.3L1895.4 1017.7L1897.4 1016.9L1898.9 1015.9L1900.1 1014.9L1900.8 1013.8Z' fill='#c2d4a0' opacity='0.9'/>
<path d='M2039.9 1010.0L2039.6 1008.2L2039.0 1006.5L2038.0 1004.8L2036.6 1003.3L2035.0 1002.0L2033.1 1001.0L2031.0 1000.2L2028.8 999.7L2026.5 999.6L2024.2 999.7L2022.0 1000.2L2020.0 1001.0L2018.2 1002.0L2016.6 1003.3L2015.3 1004.8L2014.4 1006.5L2013.8 1008.2L2013.7 1010.0L2013.9 1011.9L2014.5 1013.6L2015.5 1015.3L2016.9 1016.8L2018.5 1018.1L2020.4 1019.1L2022.5 1019.9L2024.7 1020.4L2027.0 1020.5L2029.2 1020.4L2031.4 1019.9L2033.5 1019.1L2035.4 1018.1L2037.0 1016.8L2038.2 1015.3L2039.2 1013.6L2039.7 1011.9Z' fill='#f0e0c4' opacity='1'/>
<path d='M1968.1 1093.9L1968.0 1091.1L1967.4 1088.5L1966.3 1086.0L1964.9 1083.8L1963.0 1081.8L1960.8 1080.2L1958.4 1079.1L1955.8 1078.4L1953.1 1078.1L1950.4 1078.4L1947.7 1079.1L1945.2 1080.2L1943.0 1081.8L1941.0 1083.8L1939.4 1086.0L1938.3 1088.5L1937.5 1091.1L1937.2 1093.9L1937.4 1096.6L1938.0 1099.2L1939.1 1101.7L1940.6 1104.0L1942.5 1105.9L1944.6 1107.5L1947.0 1108.6L1949.5 1109.3L1952.2 1109.6L1954.9 1109.3L1957.5 1108.6L1959.9 1107.5L1962.2 1105.9L1964.1 1104.0L1965.8 1101.7L1967.0 1099.2L1967.8 1096.6Z' fill='#ecdcc0' opacity='1'/>
<path d='M1975.1 1109.6L1975.0 1108.2L1974.5 1106.9L1973.6 1105.6L1972.4 1104.5L1970.9 1103.5L1969.1 1102.8L1967.1 1102.2L1964.9 1101.8L1962.7 1101.7L1960.5 1101.8L1958.3 1102.2L1956.3 1102.8L1954.4 1103.5L1952.8 1104.5L1951.5 1105.6L1950.5 1106.9L1949.9 1108.2L1949.6 1109.6L1949.8 1110.9L1950.3 1112.3L1951.2 1113.5L1952.4 1114.6L1954.0 1115.6L1955.7 1116.4L1957.7 1116.9L1959.8 1117.3L1962.0 1117.4L1964.2 1117.3L1966.4 1116.9L1968.4 1116.4L1970.3 1115.6L1971.9 1114.6L1973.2 1113.5L1974.2 1112.3L1974.9 1110.9Z' fill='#ead8bc' opacity='0.8'/>
<path d='M2050.8 970.8L2050.1 967.1L2048.7 963.6L2046.4 960.3L2043.6 957.3L2040.2 954.7L2036.3 952.6L2032.2 951.1L2027.8 950.1L2023.3 949.8L2018.9 950.1L2014.7 951.1L2010.8 952.6L2007.4 954.7L2004.4 957.3L2002.0 960.3L2000.4 963.6L1999.4 967.1L1999.2 970.8L1999.8 974.4L2001.1 977.9L2003.2 981.2L2005.9 984.2L2009.2 986.8L2013.0 988.9L2017.2 990.5L2021.6 991.4L2026.2 991.7L2030.7 991.4L2035.0 990.5L2039.1 988.9L2042.7 986.8L2045.7 984.2L2048.1 981.2L2049.8 977.9L2050.7 974.4Z' fill='#f3e6d2' opacity='1'/>
<path d='M2071.3 947.2L2070.6 944.5L2069.2 941.8L2067.1 939.3L2064.5 937.1L2061.4 935.2L2058.0 933.6L2054.2 932.4L2050.3 931.7L2046.4 931.5L2042.5 931.7L2038.8 932.4L2035.4 933.6L2032.4 935.2L2029.8 937.1L2027.8 939.3L2026.4 941.8L2025.7 944.5L2025.6 947.2L2026.2 949.9L2027.5 952.6L2029.4 955.1L2031.9 957.3L2035.0 959.2L2038.4 960.8L2042.1 962.0L2046.1 962.7L2050.1 962.9L2054.1 962.7L2057.9 962.0L2061.5 960.8L2064.6 959.2L2067.2 957.3L2069.3 955.1L2070.6 952.6L2071.3 949.9Z' fill='#efdfcc' opacity='1'/>
<path d='M2089.3 921.0L2088.3 918.7L2086.5 916.5L2083.9 914.5L2080.5 912.6L2076.5 911.0L2072.0 909.7L2067.2 908.7L2062.2 908.1L2057.0 907.9L2052.0 908.1L2047.2 908.7L2042.8 909.7L2038.8 911.0L2035.5 912.6L2032.9 914.5L2031.0 916.5L2030.1 918.7L2029.9 921.0L2030.7 923.3L2032.4 925.5L2034.9 927.6L2038.1 929.4L2042.0 931.0L2046.5 932.3L2051.4 933.3L2056.6 933.9L2061.8 934.1L2067.0 933.9L2072.0 933.3L2076.6 932.3L2080.6 931.0L2084.0 929.4L2086.7 927.6L2088.4 925.5L2089.3 923.3Z' fill='#efe2cc' opacity='1'/>
<path d='M2090.2 955.1L2089.8 953.2L2089.1 951.5L2088.1 949.8L2086.9 948.3L2085.4 947.0L2083.8 946.0L2082.1 945.2L2080.3 944.7L2078.5 944.6L2076.8 944.7L2075.2 945.2L2073.7 946.0L2072.4 947.0L2071.3 948.3L2070.5 949.8L2070.0 951.5L2069.7 953.2L2069.8 955.1L2070.2 956.9L2070.8 958.6L2071.8 960.3L2073.0 961.8L2074.4 963.1L2076.0 964.1L2077.7 964.9L2079.4 965.4L2081.3 965.5L2083.0 965.4L2084.7 964.9L2086.2 964.1L2087.6 963.1L2088.7 961.8L2089.5 960.3L2090.1 958.6L2090.3 956.9Z' fill='#eedfc4' opacity='1'/>
<path d='M2137.7 926.2L2136.9 924.7L2135.5 923.1L2133.5 921.7L2130.9 920.4L2127.8 919.2L2124.4 918.3L2120.7 917.6L2116.9 917.2L2113.0 917.1L2109.2 917.2L2105.6 917.6L2102.2 918.3L2099.3 919.2L2096.8 920.4L2094.9 921.7L2093.6 923.1L2092.9 924.7L2092.9 926.2L2093.5 927.8L2094.9 929.4L2096.8 930.8L2099.3 932.1L2102.3 933.3L2105.7 934.2L2109.4 934.9L2113.3 935.3L2117.3 935.4L2121.2 935.3L2124.9 934.9L2128.3 934.2L2131.3 933.3L2133.8 932.1L2135.8 930.8L2137.1 929.4L2137.7 927.8Z' fill='#eee0d0' opacity='1'/>
<path d='M2187.3 918.4L2186.3 916.6L2184.4 914.8L2181.8 913.1L2178.6 911.7L2174.8 910.4L2170.6 909.3L2166.1 908.5L2161.4 908.1L2156.7 907.9L2152.1 908.1L2147.8 908.5L2143.8 909.3L2140.3 910.4L2137.4 911.7L2135.2 913.1L2133.7 914.8L2133.0 916.6L2133.1 918.4L2134.0 920.2L2135.7 922.0L2138.1 923.6L2141.3 925.1L2145.0 926.4L2149.2 927.5L2153.7 928.2L2158.5 928.7L2163.3 928.9L2168.0 928.7L2172.5 928.2L2176.6 927.5L2180.2 926.4L2183.1 925.1L2185.4 923.6L2186.9 922.0L2187.5 920.2Z' fill='#ecdccc' opacity='1'/>
<path d='M2162.1 944.6L2161.2 942.7L2159.5 940.8L2156.8 939.1L2153.4 937.5L2149.4 936.2L2144.8 935.1L2139.9 934.2L2134.7 933.7L2129.4 933.6L2124.2 933.7L2119.3 934.2L2114.7 935.1L2110.6 936.2L2107.2 937.5L2104.4 939.1L2102.5 940.8L2101.5 942.7L2101.3 944.6L2102.1 946.5L2103.8 948.3L2106.3 950.1L2109.6 951.6L2113.6 953.0L2118.2 954.1L2123.1 954.9L2128.4 955.4L2133.7 955.6L2139.0 955.4L2144.1 954.9L2148.8 954.1L2153.0 953.0L2156.5 951.6L2159.2 950.1L2161.1 948.3L2162.1 946.5Z' fill='#d7d7d3' opacity='1'/>
<path d='M2102.0 934.1L2101.5 932.7L2100.8 931.4L2099.8 930.2L2098.6 929.1L2097.2 928.1L2095.6 927.3L2093.9 926.7L2092.1 926.4L2090.4 926.2L2088.7 926.4L2087.1 926.7L2085.6 927.3L2084.4 928.1L2083.3 929.1L2082.5 930.2L2082.0 931.4L2081.8 932.7L2081.9 934.1L2082.3 935.5L2083.0 936.8L2083.9 938.0L2085.1 939.2L2086.5 940.1L2088.1 940.9L2089.8 941.5L2091.5 941.8L2093.3 942.0L2095.0 941.8L2096.7 941.5L2098.2 940.9L2099.5 940.1L2100.6 939.2L2101.4 938.0L2101.9 936.8L2102.1 935.5Z' fill='#dadad4' opacity='0.9'/>
<path d='M2182.0 986.5L2181.4 983.3L2180.4 980.2L2179.1 977.3L2177.4 974.7L2175.5 972.4L2173.4 970.6L2171.1 969.3L2168.9 968.4L2166.6 968.1L2164.4 968.4L2162.3 969.3L2160.5 970.6L2158.9 972.4L2157.6 974.7L2156.7 977.3L2156.1 980.2L2155.8 983.3L2156.0 986.5L2156.5 989.7L2157.4 992.7L2158.6 995.6L2160.1 998.3L2161.9 1000.5L2163.8 1002.4L2166.0 1003.7L2168.3 1004.5L2170.5 1004.8L2172.8 1004.5L2175.0 1003.7L2176.9 1002.4L2178.7 1000.5L2180.1 998.3L2181.2 995.6L2181.9 992.7L2182.1 989.7Z' fill='#c2d4a0' opacity='1'/>
<path d='M2223.8 1033.6L2223.3 1031.3L2221.8 1029.1L2219.3 1027.1L2215.8 1025.2L2211.6 1023.6L2206.7 1022.3L2201.3 1021.3L2195.5 1020.7L2189.6 1020.5L2183.7 1020.7L2178.0 1021.3L2172.6 1022.3L2167.7 1023.6L2163.6 1025.2L2160.2 1027.1L2157.7 1029.1L2156.1 1031.3L2155.6 1033.6L2156.1 1035.9L2157.6 1038.1L2160.1 1040.2L2163.5 1042.0L2167.6 1043.6L2172.4 1045.0L2177.8 1045.9L2183.5 1046.5L2189.4 1046.7L2195.4 1046.5L2201.1 1045.9L2206.5 1045.0L2211.5 1043.6L2215.7 1042.0L2219.2 1040.2L2221.7 1038.1L2223.3 1035.9Z' fill='#c6d6a4' opacity='1'/>
<path d='M2294.4 1044.1L2294.2 1042.5L2293.3 1041.0L2291.8 1039.5L2289.7 1038.2L2287.2 1037.1L2284.2 1036.2L2280.9 1035.5L2277.3 1035.1L2273.7 1034.9L2270.0 1035.1L2266.5 1035.5L2263.2 1036.2L2260.2 1037.1L2257.6 1038.2L2255.4 1039.5L2253.8 1041.0L2252.8 1042.5L2252.5 1044.1L2252.7 1045.7L2253.6 1047.2L2255.0 1048.7L2257.1 1050.0L2259.6 1051.1L2262.5 1052.0L2265.8 1052.7L2269.3 1053.1L2272.9 1053.3L2276.5 1053.1L2280.1 1052.7L2283.5 1052.0L2286.5 1051.1L2289.2 1050.0L2291.4 1048.7L2293.0 1047.2L2294.0 1045.7Z' fill='#bcd0a0' opacity='1'/>
<path d='M2235.5 999.6L2235.1 996.8L2234.3 994.2L2233.3 991.7L2232.0 989.5L2230.4 987.5L2228.7 986.0L2226.9 984.8L2225.1 984.1L2223.2 983.9L2221.5 984.1L2219.8 984.8L2218.3 986.0L2217.0 987.5L2216.0 989.5L2215.2 991.7L2214.7 994.2L2214.5 996.8L2214.6 999.6L2215.0 1002.3L2215.7 1004.9L2216.6 1007.4L2217.8 1009.7L2219.2 1011.6L2220.8 1013.2L2222.5 1014.3L2224.3 1015.0L2226.1 1015.3L2227.9 1015.0L2229.7 1014.3L2231.3 1013.2L2232.7 1011.6L2233.9 1009.7L2234.7 1007.4L2235.3 1004.9L2235.6 1002.3Z' fill='#c6d6a4' opacity='1'/>
<path d='M2206.8 962.9L2206.2 961.1L2205.0 959.3L2203.3 957.7L2201.2 956.2L2198.7 954.9L2196.0 953.8L2193.0 953.1L2189.9 952.6L2186.7 952.4L2183.7 952.6L2180.8 953.1L2178.1 953.8L2175.8 954.9L2173.8 956.2L2172.3 957.7L2171.3 959.3L2170.8 961.1L2170.9 962.9L2171.4 964.7L2172.5 966.5L2174.1 968.1L2176.2 969.6L2178.6 970.9L2181.4 972.0L2184.3 972.8L2187.4 973.2L2190.6 973.4L2193.7 973.2L2196.7 972.8L2199.4 972.0L2201.8 970.9L2203.8 969.6L2205.4 968.1L2206.4 966.5L2206.9 964.7Z' fill='#d4dea8' opacity='1'/>
<path d='M2265.0 934.1L2264.0 931.8L2262.6 929.6L2260.9 927.6L2258.9 925.7L2256.7 924.1L2254.4 922.8L2252.1 921.8L2249.8 921.2L2247.5 921.0L2245.5 921.2L2243.6 921.8L2242.1 922.8L2240.8 924.1L2239.9 925.7L2239.3 927.6L2239.1 929.6L2239.3 931.8L2239.9 934.1L2240.9 936.4L2242.1 938.6L2243.7 940.6L2245.5 942.5L2247.6 944.1L2249.8 945.4L2252.1 946.4L2254.4 947.0L2256.6 947.2L2258.8 947.0L2260.7 946.4L2262.5 945.4L2263.9 944.1L2264.9 942.5L2265.6 940.6L2265.8 938.6L2265.6 936.4Z' fill='#ccd8aa' opacity='1'/>
<path d='M2276.8 1096.5L2277.0 1093.3L2276.3 1090.2L2274.6 1087.3L2272.0 1084.7L2268.6 1082.4L2264.4 1080.6L2259.7 1079.2L2254.6 1078.4L2249.2 1078.1L2243.8 1078.4L2238.4 1079.2L2233.3 1080.6L2228.6 1082.4L2224.4 1084.7L2220.8 1087.3L2218.1 1090.2L2216.1 1093.3L2215.0 1096.5L2214.9 1099.7L2215.6 1102.7L2217.2 1105.6L2219.7 1108.3L2222.9 1110.5L2226.8 1112.3L2231.3 1113.7L2236.2 1114.5L2241.4 1114.8L2246.8 1114.5L2252.1 1113.7L2257.3 1112.3L2262.2 1110.5L2266.6 1108.3L2270.4 1105.6L2273.4 1102.7L2275.6 1099.7Z' fill='#f0dcc2' opacity='1'/>
<path d='M2244.9 1088.6L2245.1 1086.3L2244.7 1084.1L2243.9 1082.1L2242.7 1080.2L2241.0 1078.6L2239.0 1077.3L2236.6 1076.3L2234.1 1075.7L2231.4 1075.5L2228.7 1075.7L2226.0 1076.3L2223.4 1077.3L2221.0 1078.6L2218.8 1080.2L2217.0 1082.1L2215.5 1084.1L2214.5 1086.3L2213.9 1088.6L2213.7 1090.9L2214.0 1093.1L2214.8 1095.2L2216.0 1097.0L2217.5 1098.6L2219.5 1100.0L2221.7 1100.9L2224.2 1101.5L2226.8 1101.7L2229.5 1101.5L2232.2 1100.9L2234.9 1100.0L2237.4 1098.6L2239.6 1097.0L2241.5 1095.2L2243.1 1093.1L2244.2 1090.9Z' fill='#efd6bc' opacity='0.8'/>
<path d='M2344.0 1141.0L2345.0 1138.7L2345.5 1136.5L2345.6 1134.4L2345.2 1132.6L2344.4 1131.0L2343.2 1129.7L2341.7 1128.7L2339.8 1128.1L2337.7 1127.9L2335.5 1128.1L2333.1 1128.7L2330.7 1129.7L2328.4 1131.0L2326.1 1132.6L2324.0 1134.4L2322.1 1136.5L2320.5 1138.7L2319.3 1141.0L2318.3 1143.3L2317.7 1145.5L2317.6 1147.5L2317.8 1149.4L2318.4 1151.0L2319.4 1152.3L2320.8 1153.3L2322.5 1153.9L2324.5 1154.1L2326.7 1153.9L2329.1 1153.3L2331.6 1152.3L2334.1 1151.0L2336.5 1149.4L2338.8 1147.5L2340.9 1145.5L2342.6 1143.3Z' fill='#c8d6a8' opacity='1'/>
<path d='M1865.1 837.2L1865.3 832.2L1864.2 827.3L1862.1 822.8L1859.0 818.7L1855.1 815.1L1850.5 812.3L1845.3 810.1L1839.5 808.8L1833.1 808.4L1826.1 808.8L1818.6 810.1L1810.9 812.3L1803.1 815.1L1795.5 818.7L1788.6 822.8L1782.7 827.3L1777.9 832.2L1774.5 837.2L1772.7 842.2L1772.6 847.1L1774.2 851.6L1777.4 855.7L1782.2 859.3L1788.2 862.2L1795.4 864.3L1803.3 865.6L1811.8 866.0L1820.5 865.6L1829.1 864.3L1837.2 862.2L1844.7 859.3L1851.2 855.7L1856.7 851.6L1860.8 847.1L1863.6 842.2Z' fill='#f6f6fb' opacity='1'/>
<path d='M1780.4 826.7L1781.4 824.0L1780.9 821.4L1779.1 818.9L1776.1 816.6L1771.9 814.7L1766.7 813.1L1760.6 812.0L1753.6 811.3L1745.8 811.0L1737.4 811.3L1728.6 812.0L1719.6 813.1L1710.7 814.7L1702.1 816.6L1694.3 818.9L1687.5 821.4L1682.1 824.0L1678.1 826.7L1675.9 829.5L1675.6 832.1L1677.0 834.6L1680.3 836.8L1685.2 838.8L1691.7 840.3L1699.4 841.5L1708.0 842.2L1717.3 842.4L1727.0 842.2L1736.6 841.5L1745.9 840.3L1754.5 838.8L1762.2 836.8L1768.8 834.6L1774.1 832.1L1778.0 829.5Z' fill='#e9e9e6' opacity='1'/>
<path d='M1761.9 850.3L1762.7 848.0L1763.0 845.8L1762.7 843.7L1762.0 841.9L1760.8 840.3L1759.1 839.0L1757.0 838.0L1754.6 837.4L1751.9 837.2L1748.9 837.4L1745.7 838.0L1742.5 839.0L1739.4 840.3L1736.3 841.9L1733.5 843.7L1731.0 845.8L1729.0 848.0L1727.5 850.3L1726.5 852.6L1726.1 854.8L1726.4 856.8L1727.2 858.7L1728.6 860.3L1730.5 861.6L1732.9 862.6L1735.7 863.2L1738.7 863.4L1741.9 863.2L1745.1 862.6L1748.3 861.6L1751.4 860.3L1754.3 858.7L1756.8 856.8L1758.9 854.8L1760.7 852.6Z' fill='#e4e4dc' opacity='1'/>
<path d='M1960.6 824.1L1960.0 823.0L1958.8 821.9L1957.1 820.8L1954.9 819.9L1952.4 819.1L1949.5 818.4L1946.4 818.0L1943.2 817.7L1939.9 817.6L1936.7 817.7L1933.6 818.0L1930.7 818.4L1928.1 819.1L1925.9 819.9L1924.1 820.8L1922.8 821.9L1922.0 823.0L1921.8 824.1L1922.2 825.2L1923.2 826.3L1924.7 827.4L1926.8 828.3L1929.3 829.1L1932.2 829.8L1935.5 830.3L1938.9 830.6L1942.4 830.7L1945.8 830.6L1949.1 830.3L1952.2 829.8L1954.9 829.1L1957.2 828.3L1958.9 827.4L1960.1 826.3L1960.7 825.2Z' fill='#f0f0f4' opacity='1'/>
<path d='M2046.9 834.6L2045.8 833.2L2044.2 831.9L2042.1 830.7L2039.6 829.5L2036.8 828.6L2033.8 827.8L2030.7 827.2L2027.5 826.8L2024.3 826.7L2021.3 826.8L2018.5 827.2L2016.0 827.8L2013.9 828.6L2012.2 829.5L2010.9 830.7L2010.1 831.9L2009.9 833.2L2010.2 834.6L2011.1 835.9L2012.5 837.3L2014.3 838.5L2016.7 839.6L2019.4 840.6L2022.4 841.4L2025.6 842.0L2028.9 842.3L2032.3 842.4L2035.5 842.3L2038.5 842.0L2041.2 841.4L2043.5 840.6L2045.3 839.6L2046.6 838.5L2047.3 837.3L2047.4 835.9Z' fill='#eeeeee' opacity='1'/>
<path d='M2115.9 824.1L2114.7 823.2L2113.0 822.3L2110.9 821.5L2108.5 820.7L2105.9 820.1L2103.1 819.6L2100.2 819.2L2097.4 818.9L2094.7 818.9L2092.2 818.9L2089.9 819.2L2088.0 819.6L2086.3 820.1L2085.1 820.7L2084.4 821.5L2084.1 822.3L2084.2 823.2L2084.9 824.1L2085.9 825.0L2087.5 825.9L2089.4 826.7L2091.6 827.5L2094.1 828.1L2096.9 828.6L2099.7 829.0L2102.6 829.3L2105.5 829.3L2108.1 829.3L2110.6 829.0L2112.7 828.6L2114.5 828.1L2115.8 827.5L2116.6 826.7L2116.9 825.9L2116.7 825.0Z' fill='#eee' opacity='1'/>
<path d='M1578.4 871.2L1578.7 870.6L1578.6 869.9L1578.1 869.3L1577.1 868.7L1575.8 868.2L1574.2 867.8L1572.3 867.6L1570.1 867.4L1567.8 867.3L1565.4 867.4L1563.0 867.6L1560.6 867.8L1558.4 868.2L1556.3 868.7L1554.5 869.3L1553.0 869.9L1551.8 870.6L1551.1 871.2L1550.7 871.9L1550.8 872.6L1551.4 873.2L1552.3 873.8L1553.6 874.3L1555.3 874.6L1557.2 874.9L1559.4 875.1L1561.8 875.2L1564.2 875.1L1566.7 874.9L1569.1 874.6L1571.3 874.3L1573.4 873.8L1575.1 873.2L1576.6 872.6L1577.7 871.9Z' fill='#e4e6e2' opacity='0.8'/>
</g></g>
<path d='M2021.2 911.8L2025.7 909.2L2031.6 908.4L2035.4 909.2L2036.1 913.1L2031.4 914.5L2030.8 918.4L2034.7 919.7L2036.3 922.3L2039.1 924.1L2038.3 927.6L2041.6 933.3L2036.8 934.6L2031.6 933.1L2028.7 930.2L2029.3 924.9L2025.0 921.0L2022.0 917.1ZM2048.8 909.2L2054.9 909.2L2056.9 913.1L2052.5 915.8L2049.5 913.1ZM2154.7 896.1L2158.6 894.0L2163.1 885.7L2164.0 885.1L2162.2 891.4L2157.1 896.1Z' fill='#7fb0d6' filter='url(#bl1)'/>
</g>
<g clip-path='url(#mapclip)' fill='none' stroke-width='4.6' stroke-linecap='butt'>
<path d='M1883.02 1040.57L1883.14 1039.25' stroke='#4216ff'/>
<path d='M1883.11 1039.55L1883.23 1038.23' stroke='#4316ff'/>
<path d='M1883.20 1038.54L1883.33 1037.22' stroke='#4417ff'/>
<path d='M1883.30 1037.52L1883.42 1036.20' stroke='#4517ff'/>
<path d='M1883.39 1036.51L1883.52 1035.18' stroke='#4617ff'/>
<path d='M1883.49 1035.49L1883.61 1034.17' stroke='#4818ff'/>
<path d='M1883.58 1034.47L1883.71 1033.15' stroke='#4918ff'/>
<path d='M1883.68 1033.45L1883.80 1032.13' stroke='#4a19ff'/>
<path d='M1883.77 1032.44L1883.90 1031.11' stroke='#4b19ff'/>
<path d='M1883.87 1031.42L1883.99 1030.09' stroke='#4c19ff'/>
<path d='M1883.96 1030.40L1884.09 1029.08' stroke='#4d1aff'/>
<path d='M1884.06 1029.38L1884.19 1028.06' stroke='#4e1aff'/>
<path d='M1884.16 1028.36L1884.28 1027.04' stroke='#4f1aff'/>
<path d='M1884.25 1027.34L1884.38 1026.02' stroke='#501bff'/>
<path d='M1884.35 1026.32L1884.48 1025.00' stroke='#511bff'/>
<path d='M1884.45 1025.30L1884.58 1023.97' stroke='#521bff'/>
<path d='M1884.55 1024.28L1884.67 1022.95' stroke='#531cff'/>
<path d='M1884.64 1023.26L1884.77 1021.93' stroke='#541cff'/>
<path d='M1884.74 1022.24L1884.87 1020.91' stroke='#551cff'/>
<path d='M1884.84 1021.22L1884.97 1019.89' stroke='#561dff'/>
<path d='M1884.94 1020.19L1885.07 1018.86' stroke='#571dff'/>
<path d='M1885.04 1019.17L1885.17 1017.84' stroke='#581dff'/>
<path d='M1885.14 1018.15L1885.27 1016.82' stroke='#591eff'/>
<path d='M1885.24 1017.12L1885.37 1015.79' stroke='#5a1eff'/>
<path d='M1885.34 1016.10L1885.47 1014.77' stroke='#5b1eff'/>
<path d='M1885.44 1015.07L1885.58 1013.74' stroke='#5c1fff'/>
<path d='M1885.55 1014.05L1885.68 1012.72' stroke='#5d1fff'/>
<path d='M1885.65 1013.02L1885.78 1011.69' stroke='#5d1fff'/>
<path d='M1885.75 1012.00L1885.89 1010.67' stroke='#5e1fff'/>
<path d='M1885.85 1010.97L1885.99 1009.64' stroke='#5f20ff'/>
<path d='M1885.96 1009.95L1886.09 1008.61' stroke='#6020ff'/>
<path d='M1886.06 1008.92L1886.20 1007.58' stroke='#6120ff'/>
<path d='M1886.17 1007.89L1886.30 1006.56' stroke='#6221ff'/>
<path d='M1886.27 1006.87L1886.41 1005.53' stroke='#6321ff'/>
<path d='M1886.38 1005.84L1886.52 1004.50' stroke='#6421ff'/>
<path d='M1886.49 1004.81L1886.63 1003.47' stroke='#6522ff'/>
<path d='M1886.59 1003.78L1886.73 1002.44' stroke='#6522ff'/>
<path d='M1886.70 1002.75L1886.84 1001.41' stroke='#6622ff'/>
<path d='M1886.81 1001.72L1886.95 1000.38' stroke='#6722ff'/>
<path d='M1886.92 1000.69L1887.06 999.35' stroke='#6823ff'/>
<path d='M1887.03 999.66L1887.17 998.32' stroke='#6923ff'/>
<path d='M1887.14 998.63L1887.29 997.29' stroke='#6a23ff'/>
<path d='M1887.25 997.60L1887.40 996.26' stroke='#6a23ff'/>
<path d='M1887.36 996.57L1887.51 995.23' stroke='#6b24ff'/>
<path d='M1887.48 995.54L1887.62 994.20' stroke='#6c24ff'/>
<path d='M1887.59 994.51L1887.74 993.17' stroke='#6d24ff'/>
<path d='M1887.70 993.48L1887.85 992.13' stroke='#6d24ff'/>
<path d='M1887.82 992.44L1887.97 991.10' stroke='#6e25ff'/>
<path d='M1887.94 991.41L1888.09 990.07' stroke='#6f25ff'/>
<path d='M1888.05 990.38L1888.21 989.03' stroke='#7025ff'/>
<path d='M1888.17 989.34L1888.32 988.00' stroke='#7025ff'/>
<path d='M1888.29 988.31L1888.44 986.96' stroke='#7126ff'/>
<path d='M1888.41 987.27L1888.57 985.93' stroke='#7226ff'/>
<path d='M1888.53 986.24L1888.69 984.89' stroke='#7326ff'/>
<path d='M1888.65 985.20L1888.81 983.86' stroke='#7326ff'/>
<path d='M1888.77 984.17L1888.93 982.82' stroke='#7427ff'/>
<path d='M1888.90 983.13L1889.06 981.78' stroke='#7527ff'/>
<path d='M1889.02 982.09L1889.18 980.74' stroke='#7527ff'/>
<path d='M1889.15 981.05L1889.31 979.70' stroke='#7627ff'/>
<path d='M1889.27 980.01L1889.44 978.66' stroke='#7728ff'/>
<path d='M1889.40 978.97L1889.57 977.62' stroke='#7728ff'/>
<path d='M1889.53 977.93L1889.70 976.58' stroke='#7828ff'/>
<path d='M1889.66 976.89L1889.83 975.54' stroke='#7928ff'/>
<path d='M1889.79 975.85L1889.96 974.50' stroke='#7928ff'/>
<path d='M1889.92 974.81L1890.10 973.46' stroke='#7a29ff'/>
<path d='M1890.05 973.77L1890.23 972.42' stroke='#7a29ff'/>
<path d='M1890.19 972.73L1890.37 971.37' stroke='#7b29ff'/>
<path d='M1890.32 971.69L1890.50 970.33' stroke='#7c29ff'/>
<path d='M1890.46 970.64L1890.64 969.29' stroke='#7c29ff'/>
<path d='M1890.60 969.60L1890.78 968.24' stroke='#7d2aff'/>
<path d='M1890.74 968.56L1890.92 967.20' stroke='#7d2aff'/>
<path d='M1890.88 967.51L1891.06 966.16' stroke='#7e2aff'/>
<path d='M1891.02 966.47L1891.21 965.11' stroke='#7e2aff'/>
<path d='M1891.16 965.43L1891.35 964.07' stroke='#7f2aff'/>
<path d='M1891.31 964.38L1891.50 963.03' stroke='#7f2aff'/>
<path d='M1891.45 963.34L1891.65 961.98' stroke='#802bff'/>
<path d='M1891.60 962.29L1891.80 960.94' stroke='#802bff'/>
<path d='M1891.75 961.25L1891.95 959.89' stroke='#812bff'/>
<path d='M1891.90 960.21L1892.10 958.85' stroke='#812bff'/>
<path d='M1892.05 959.16L1892.25 957.80' stroke='#822bff'/>
<path d='M1892.21 958.12L1892.41 956.76' stroke='#822bff'/>
<path d='M1892.36 957.07L1892.56 955.71' stroke='#832cff'/>
<path d='M1892.52 956.03L1892.72 954.67' stroke='#832cff'/>
<path d='M1892.67 954.98L1892.88 953.63' stroke='#842cff'/>
<path d='M1892.83 953.94L1893.04 952.58' stroke='#842cff'/>
<path d='M1892.99 952.90L1893.20 951.54' stroke='#842cff'/>
<path d='M1893.16 951.85L1893.37 950.49' stroke='#852cff'/>
<path d='M1893.32 950.81L1893.54 949.45' stroke='#852cff'/>
<path d='M1893.49 949.76L1893.70 948.41' stroke='#862dff'/>
<path d='M1893.65 948.72L1893.87 947.36' stroke='#862dff'/>
<path d='M1893.82 947.68L1894.04 946.32' stroke='#862dff'/>
<path d='M1893.99 946.63L1894.22 945.28' stroke='#872dff'/>
<path d='M1894.17 945.59L1894.39 944.24' stroke='#872dff'/>
<path d='M1894.34 944.55L1894.57 943.19' stroke='#872dff'/>
<path d='M1894.52 943.51L1894.75 942.15' stroke='#882dff'/>
<path d='M1894.70 942.47L1894.93 941.11' stroke='#882dff'/>
<path d='M1894.88 941.42L1895.11 940.07' stroke='#882dff'/>
<path d='M1895.06 940.38L1895.30 939.03' stroke='#892eff'/>
<path d='M1895.24 939.34L1895.48 937.99' stroke='#892eff'/>
<path d='M1895.43 938.30L1895.67 936.95' stroke='#892eff'/>
<path d='M1895.62 937.26L1895.87 935.91' stroke='#8a2eff'/>
<path d='M1895.81 936.22L1896.06 934.87' stroke='#8a2eff'/>
<path d='M1896.00 935.19L1896.25 933.84' stroke='#8a2eff'/>
<path d='M1896.20 934.15L1896.45 932.80' stroke='#8a2eff'/>
<path d='M1896.39 933.11L1896.65 931.76' stroke='#8b2eff'/>
<path d='M1896.59 932.07L1896.86 930.72' stroke='#8b2eff'/>
<path d='M1896.79 931.03L1897.06 929.68' stroke='#8b2eff'/>
<path d='M1897.00 930.00L1897.27 928.65' stroke='#8b2eff'/>
<path d='M1897.21 928.96L1897.48 927.61' stroke='#8b2eff'/>
<path d='M1897.42 927.92L1897.69 926.57' stroke='#8c2fff'/>
<path d='M1897.63 926.89L1897.91 925.54' stroke='#8c2fff'/>
<path d='M1897.84 925.85L1898.13 924.50' stroke='#8c2fff'/>
<path d='M1898.06 924.81L1898.35 923.47' stroke='#8c2fff'/>
<path d='M1898.28 923.78L1898.57 922.43' stroke='#8c2fff'/>
<path d='M1898.51 922.74L1898.80 921.40' stroke='#8c2fff'/>
<path d='M1898.73 921.71L1899.03 920.36' stroke='#8d2fff'/>
<path d='M1898.96 920.67L1899.27 919.33' stroke='#8d2fff'/>
<path d='M1899.20 919.64L1899.50 918.29' stroke='#8d2fff'/>
<path d='M1899.43 918.60L1899.74 917.26' stroke='#8d2fff'/>
<path d='M1899.67 917.57L1899.99 916.23' stroke='#8d2fff'/>
<path d='M1899.91 916.54L1900.23 915.19' stroke='#8d2fff'/>
<path d='M1900.16 915.50L1900.48 914.16' stroke='#8d2fff'/>
<path d='M1900.41 914.47L1900.74 913.13' stroke='#8d2fff'/>
<path d='M1900.66 913.44L1901.00 912.09' stroke='#8d2fff'/>
<path d='M1900.92 912.40L1901.26 911.06' stroke='#8d2fff'/>
<path d='M1901.18 911.37L1901.52 910.03' stroke='#8d2fff'/>
<path d='M1901.44 910.34L1901.79 909.00' stroke='#8d2fff'/>
<path d='M1901.71 909.31L1902.07 907.97' stroke='#8d2fff'/>
<path d='M1901.98 908.28L1902.34 906.94' stroke='#8d2fff'/>
<path d='M1902.26 907.25L1902.63 905.91' stroke='#8d2fff'/>
<path d='M1902.54 906.21L1902.91 904.87' stroke='#8d2fff'/>
<path d='M1902.83 905.18L1903.20 903.84' stroke='#8d2fff'/>
<path d='M1903.12 904.15L1903.50 902.81' stroke='#8d2fff'/>
<path d='M1903.41 903.12L1903.80 901.78' stroke='#8d2fff'/>
<path d='M1903.71 902.09L1904.11 900.75' stroke='#8d2fff'/>
<path d='M1904.01 901.06L1904.42 899.73' stroke='#8d2fff'/>
<path d='M1904.32 900.03L1904.73 898.70' stroke='#8d2fff'/>
<path d='M1904.64 899.01L1905.05 897.67' stroke='#8d2fff'/>
<path d='M1904.96 897.98L1905.38 896.64' stroke='#8d2fff'/>
<path d='M1905.28 896.95L1905.71 895.61' stroke='#8d2fff'/>
<path d='M1905.61 895.92L1906.05 894.58' stroke='#8d2fff'/>
<path d='M1905.95 894.89L1906.40 893.56' stroke='#8d2fff'/>
<path d='M1906.29 893.87L1906.75 892.53' stroke='#8d2fff'/>
<path d='M1906.64 892.84L1907.10 891.50' stroke='#8c2fff'/>
<path d='M1906.99 891.81L1907.47 890.48' stroke='#8c2fff'/>
<path d='M1907.36 890.79L1907.84 889.45' stroke='#8c2fff'/>
<path d='M1907.72 889.76L1908.21 888.43' stroke='#8c2fff'/>
<path d='M1908.10 888.74L1908.60 887.40' stroke='#8c2fff'/>
<path d='M1908.48 887.71L1908.99 886.38' stroke='#8c2fff'/>
<path d='M1908.87 886.69L1909.39 885.36' stroke='#8c2fff'/>
<path d='M1909.27 885.66L1909.79 884.33' stroke='#8b2eff'/>
<path d='M1909.67 884.64L1910.21 883.31' stroke='#8b2eff'/>
<path d='M1910.08 883.62L1910.63 882.29' stroke='#8b2eff'/>
<path d='M1910.50 882.59L1911.06 881.26' stroke='#8b2eff'/>
<path d='M1910.93 881.57L1911.51 880.24' stroke='#8a2eff'/>
<path d='M1911.37 880.55L1911.96 879.22' stroke='#8a2eff'/>
<path d='M1911.82 879.53L1912.42 878.20' stroke='#8a2eff'/>
<path d='M1912.28 878.50L1912.89 877.18' stroke='#8a2eff'/>
<path d='M1912.75 877.48L1913.37 876.16' stroke='#892eff'/>
<path d='M1913.22 876.46L1913.86 875.14' stroke='#892eff'/>
<path d='M1913.71 875.44L1914.36 874.12' stroke='#892eff'/>
<path d='M1914.21 874.42L1914.88 873.10' stroke='#892eff'/>
<path d='M1914.72 873.41L1915.40 872.08' stroke='#882dff'/>
<path d='M1915.24 872.39L1915.94 871.07' stroke='#882dff'/>
<path d='M1915.78 871.37L1916.49 870.05' stroke='#882dff'/>
<path d='M1916.32 870.36L1917.05 869.04' stroke='#872dff'/>
<path d='M1916.88 869.35L1917.63 868.03' stroke='#872dff'/>
<path d='M1917.46 868.33L1918.22 867.02' stroke='#872dff'/>
<path d='M1918.04 867.32L1918.83 866.01' stroke='#862dff'/>
<path d='M1918.64 866.31L1919.45 865.00' stroke='#862dff'/>
<path d='M1919.26 865.31L1920.08 864.00' stroke='#862dff'/>
<path d='M1919.89 864.30L1920.74 863.00' stroke='#852cff'/>
<path d='M1920.54 863.30L1921.40 861.99' stroke='#852cff'/>
<path d='M1921.20 862.29L1922.09 861.00' stroke='#842cff'/>
<path d='M1921.88 861.29L1922.80 860.00' stroke='#842cff'/>
<path d='M1922.58 860.30L1923.52 859.00' stroke='#842cff'/>
<path d='M1923.30 859.30L1924.26 858.01' stroke='#832cff'/>
<path d='M1924.04 858.31L1925.03 857.02' stroke='#832cff'/>
<path d='M1924.80 857.32L1925.81 856.04' stroke='#822bff'/>
<path d='M1925.58 856.33L1926.62 855.05' stroke='#822bff'/>
<path d='M1926.38 855.35L1927.45 854.07' stroke='#812bff'/>
<path d='M1927.20 854.37L1928.31 853.10' stroke='#812bff'/>
<path d='M1928.05 853.39L1929.19 852.12' stroke='#812bff'/>
<path d='M1928.92 852.42L1930.10 851.16' stroke='#802bff'/>
<path d='M1929.82 851.45L1931.03 850.19' stroke='#802bff'/>
<path d='M1930.75 850.48L1931.99 849.23' stroke='#7f2aff'/>
<path d='M1931.70 849.52L1932.99 848.27' stroke='#7f2aff'/>
<path d='M1932.69 848.56L1934.01 847.32' stroke='#7e2aff'/>
<path d='M1933.70 847.61L1935.07 846.37' stroke='#7e2aff'/>
<path d='M1934.75 846.66L1936.17 845.43' stroke='#7d2aff'/>
<path d='M1935.84 845.71L1937.30 844.50' stroke='#7c29ff'/>
<path d='M1936.95 844.78L1938.47 843.56' stroke='#7c29ff'/>
<path d='M1938.11 843.84L1939.67 842.64' stroke='#7b29ff'/>
<path d='M1939.31 842.92L1940.92 841.72' stroke='#7b29ff'/>
<path d='M1940.54 842.00L1942.22 840.81' stroke='#7a29ff'/>
<path d='M1941.83 841.08L1943.56 839.91' stroke='#7a29ff'/>
<path d='M1943.15 840.18L1944.95 839.01' stroke='#7928ff'/>
<path d='M1944.53 839.28L1946.39 838.13' stroke='#7828ff'/>
<path d='M1945.95 838.39L1947.88 837.25' stroke='#7828ff'/>
<path d='M1947.43 837.51L1949.43 836.38' stroke='#7728ff'/>
<path d='M1948.96 836.64L1951.04 835.52' stroke='#7728ff'/>
<path d='M1950.55 835.77L1952.72 834.66' stroke='#7627ff'/>
<path d='M1952.21 834.92L1954.46 833.82' stroke='#7527ff'/>
<path d='M1953.93 834.07L1956.27 832.99' stroke='#7527ff'/>
<path d='M1955.72 833.24L1958.16 832.17' stroke='#7427ff'/>
<path d='M1957.59 832.42L1960.13 831.37' stroke='#7326ff'/>
<path d='M1959.53 831.61L1962.17 830.58' stroke='#7326ff'/>
<path d='M1961.55 830.81L1964.31 829.80' stroke='#7226ff'/>
<path d='M1963.66 830.03L1966.53 829.03' stroke='#7126ff'/>
<path d='M1965.86 829.26L1968.86 828.29' stroke='#7126ff'/>
<path d='M1968.15 828.51L1971.28 827.56' stroke='#7025ff'/>
<path d='M1970.54 827.77L1973.80 826.84' stroke='#6f25ff'/>
<path d='M1973.03 827.06L1976.44 826.15' stroke='#6f25ff'/>
<path d='M1975.63 826.36L1979.18 825.48' stroke='#6e25ff'/>
<path d='M1978.35 825.68L1982.05 824.84' stroke='#6d24ff'/>
<path d='M1981.17 825.03L1985.03 824.21' stroke='#6d24ff'/>
<path d='M1984.12 824.40L1988.14 823.61' stroke='#6c24ff'/>
<path d='M1987.20 823.79L1991.38 823.04' stroke='#6b24ff'/>
<path d='M1990.40 823.21L1994.75 822.50' stroke='#6a23ff'/>
<path d='M1993.72 822.66L1998.25 821.99' stroke='#6a23ff'/>
<path d='M1997.19 822.14L2001.88 821.51' stroke='#6923ff'/>
<path d='M2000.78 821.65L2005.65 821.07' stroke='#6823ff'/>
<path d='M2004.51 821.20L2009.55 820.66' stroke='#6722ff'/>
<path d='M2008.36 820.78L2013.57 820.29' stroke='#6722ff'/>
<path d='M2012.35 820.40L2017.72 819.96' stroke='#6622ff'/>
<path d='M2016.46 820.06L2021.99 819.68' stroke='#6522ff'/>
<path d='M2020.70 819.76L2026.37 819.43' stroke='#6421ff'/>
<path d='M2025.04 819.50L2030.84 819.23' stroke='#6321ff'/>
<path d='M2029.49 819.28L2035.41 819.07' stroke='#6221ff'/>
<path d='M2034.04 819.11L2040.06 818.95' stroke='#6221ff'/>
<path d='M2038.66 818.98L2044.77 818.89' stroke='#6120ff'/>
<path d='M2043.35 818.90L2049.54 818.87' stroke='#6020ff'/>
<path d='M2048.10 818.87L2054.34 818.89' stroke='#5f20ff'/>
<path d='M2052.89 818.88L2059.16 818.96' stroke='#5e1fff'/>
<path d='M2057.71 818.94L2063.98 819.08' stroke='#5d1fff'/>
<path d='M2062.54 819.04L2068.80 819.24' stroke='#5d1fff'/>
<path d='M2067.36 819.19L2073.59 819.45' stroke='#5c1fff'/>
<path d='M2072.16 819.38L2078.35 819.70' stroke='#5b1eff'/>
<path d='M2076.93 819.62L2083.06 819.99' stroke='#5a1eff'/>
<path d='M2081.66 819.90L2087.72 820.32' stroke='#591eff'/>
<path d='M2086.33 820.21L2092.30 820.68' stroke='#581dff'/>
<path d='M2090.93 820.57L2096.81 821.09' stroke='#571dff'/>
<path d='M2095.46 820.96L2101.23 821.52' stroke='#561dff'/>
<path d='M2099.91 821.39L2105.57 821.99' stroke='#561dff'/>
<path d='M2104.28 821.85L2109.81 822.50' stroke='#551cff'/>
<path d='M2108.55 822.34L2113.96 823.03' stroke='#541cff'/>
<path d='M2112.73 822.86L2118.01 823.58' stroke='#531cff'/>
<path d='M2116.81 823.41L2121.97 824.17' stroke='#521bff'/>
<path d='M2120.79 823.99L2125.82 824.77' stroke='#511bff'/>
<path d='M2124.68 824.59L2129.58 825.40' stroke='#501bff'/>
<path d='M2128.46 825.21L2133.24 826.05' stroke='#4f1aff'/>
<path d='M2132.15 825.85L2136.81 826.72' stroke='#4e1aff'/>
<path d='M2135.75 826.52L2140.28 827.41' stroke='#4d1aff'/>
<path d='M2139.25 827.20L2143.66 828.11' stroke='#4c19ff'/>
<path d='M2142.66 827.90L2146.96 828.83' stroke='#4b19ff'/>
<path d='M2145.98 828.61L2150.17 829.57' stroke='#4a19ff'/>
<path d='M2149.22 829.34L2153.30 830.32' stroke='#4918ff'/>
<path d='M2152.37 830.09L2156.34 831.08' stroke='#4818ff'/>
<path d='M2155.44 830.85L2159.31 831.85' stroke='#4718ff'/>
<path d='M2158.43 831.62L2162.21 832.64' stroke='#4617ff'/>
<path d='M2161.35 832.40L2165.03 833.43' stroke='#4517ff'/>
<path d='M2164.19 833.19L2167.78 834.24' stroke='#4417ff'/>
<path d='M2166.96 834.00L2170.46 835.06' stroke='#4316ff'/>
<path d='M2169.66 834.81L2173.07 835.88' stroke='#4216ff'/>
<path d='M2172.30 835.63L2175.63 836.71' stroke='#4116ff'/>
<path d='M2174.87 836.46L2178.12 837.55' stroke='#4015ff'/>
<path d='M2177.38 837.30L2180.55 838.40' stroke='#3f15ff'/>
<path d='M2179.83 838.14L2182.93 839.25' stroke='#3e15ff'/>
<path d='M2182.22 838.99L2185.25 840.11' stroke='#3d14ff'/>
<path d='M2184.56 839.85L2187.52 840.97' stroke='#3c14ff'/>
<path d='M2186.85 840.71L2189.74 841.84' stroke='#3b14ff'/>
<path d='M2189.08 841.58L2191.91 842.71' stroke='#3a13ff'/>
<path d='M2191.27 842.45L2194.04 843.59' stroke='#3913ff'/>
<path d='M2193.41 843.33L2196.12 844.48' stroke='#3813ff'/>
<path d='M2195.50 844.21L2198.15 845.36' stroke='#3712ff'/>
<path d='M2197.55 845.10L2200.15 846.26' stroke='#3612ff'/>
<path d='M2199.55 845.99L2202.10 847.15' stroke='#3512ff'/>
<path d='M2201.52 846.88L2204.01 848.05' stroke='#3411ff'/>
<path d='M2203.44 847.78L2205.88 848.95' stroke='#3311ff'/>
<path d='M2205.33 848.68L2207.72 849.86' stroke='#3211ff'/>
<path d='M2207.17 849.58L2209.52 850.76' stroke='#3110ff'/>
<path d='M2208.99 850.49L2211.29 851.67' stroke='#3010ff'/>
<path d='M2210.76 851.40L2213.02 852.58' stroke='#2f10ff'/>
<path d='M2212.51 852.31L2214.73 853.50' stroke='#2e0fff'/>
<path d='M2214.22 853.22L2216.40 854.41' stroke='#2c0fff'/>
<path d='M2215.90 854.14L2218.04 855.33' stroke='#2b0eff'/>
<path d='M2217.55 855.06L2219.65 856.25' stroke='#2a0eff'/>
<path d='M2219.17 855.98L2221.23 857.18' stroke='#290eff'/>
<path d='M2220.76 856.90L2222.78 858.10' stroke='#280dff'/>
<path d='M2222.32 857.82L2224.31 859.02' stroke='#270dff'/>
<path d='M2223.85 858.75L2225.81 859.95' stroke='#260dff'/>
<path d='M2225.36 859.67L2227.29 860.88' stroke='#250cff'/>
<path d='M2226.85 860.60L2228.74 861.81' stroke='#240cff'/>
<path d='M2228.30 861.53L2230.16 862.74' stroke='#220bff'/>
<path d='M2229.74 862.46L2231.57 863.67' stroke='#210bff'/>
<path d='M2231.15 863.39L2232.95 864.60' stroke='#200bff'/>
<path d='M2232.54 864.32L2234.31 865.53' stroke='#1f0aff'/>
<path d='M2233.90 865.25L2235.64 866.47' stroke='#1e0aff'/>
<path d='M2235.24 866.19L2236.96 867.40' stroke='#1d0aff'/>
<path d='M2236.57 867.12L2238.25 868.34' stroke='#1c09ff'/>
<path d='M2237.87 868.05L2239.53 869.27' stroke='#1b09ff'/>
<path d='M2239.15 868.99L2240.78 870.21' stroke='#1908ff'/>
<path d='M2240.41 869.93L2242.02 871.14' stroke='#1808ff'/>
<path d='M2241.65 870.86L2243.23 872.08' stroke='#1708ff'/>
<path d='M2242.87 871.80L2244.43 873.01' stroke='#1607ff'/>
<path d='M2244.07 872.73L2245.61 873.95' stroke='#1507ff'/>
<path d='M2245.26 873.67L2246.77 874.89' stroke='#1407ff'/>
<path d='M2246.43 874.61L2247.92 875.82' stroke='#1206ff'/>
<path d='M2247.58 875.54L2249.05 876.76' stroke='#1106ff'/>
<path d='M2248.71 876.48L2250.16 877.70' stroke='#1005ff'/>
<path d='M2249.83 877.41L2251.25 878.63' stroke='#0f05ff'/>
<path d='M2250.93 878.35L2252.33 879.57' stroke='#0e05ff'/>
<path d='M2252.01 879.29L2253.40 880.50' stroke='#0d04ff'/>
<path d='M2253.08 880.22L2254.45 881.44' stroke='#0b04ff'/>
<path d='M2254.14 881.16L2255.49 882.38' stroke='#0a03ff'/>
<path d='M2255.18 882.10L2256.51 883.31' stroke='#0903ff'/>
<path d='M2256.20 883.03L2257.52 884.25' stroke='#0803ff'/>
<path d='M2257.21 883.97L2258.51 885.19' stroke='#0702ff'/>
<path d='M2258.21 884.91L2259.49 886.12' stroke='#0502ff'/>
<path d='M2259.20 885.84L2260.46 887.06' stroke='#0401ff'/>
<path d='M2260.17 886.78L2261.41 888.00' stroke='#0301ff'/>
<path d='M2261.13 887.72L2262.36 888.93' stroke='#0201ff'/>
<path d='M2262.07 888.65L2263.29 889.87' stroke='#0100ff'/>
<path d='M2263.01 889.59L2264.21 890.81' stroke='#0001fe'/>
<path d='M2263.93 890.53L2265.11 891.74' stroke='#0003fc'/>
<path d='M2264.84 891.46L2266.01 892.68' stroke='#0005fa'/>
<path d='M2265.74 892.40L2266.89 893.62' stroke='#0007f8'/>
<path d='M2266.63 893.34L2267.77 894.56' stroke='#0009f6'/>
<path d='M2267.50 894.27L2268.63 895.49' stroke='#000bf4'/>
<path d='M2268.37 895.21L2269.48 896.43' stroke='#000df2'/>
<path d='M2269.23 896.15L2270.32 897.37' stroke='#000ff0'/>
<path d='M2270.07 897.09L2271.15 898.30' stroke='#0011ee'/>
<path d='M2270.90 898.02L2271.97 899.24' stroke='#0013ec'/>
<path d='M2271.73 898.96L2272.78 900.18' stroke='#0015ea'/>
<path d='M2272.54 899.90L2273.59 901.12' stroke='#0017e8'/>
<path d='M2273.35 900.84L2274.38 902.06' stroke='#0019e6'/>
<path d='M2274.14 901.78L2275.16 903.00' stroke='#001be4'/>
<path d='M2274.93 902.71L2275.94 903.94' stroke='#001de2'/>
<path d='M2275.70 903.65L2276.70 904.87' stroke='#001fe0'/>
<path d='M2276.47 904.59L2277.46 905.81' stroke='#0021de'/>
<path d='M2277.23 905.53L2278.20 906.75' stroke='#0023dc'/>
<path d='M2277.98 906.47L2278.94 907.69' stroke='#0025da'/>
<path d='M2278.72 907.41L2279.67 908.63' stroke='#0027d8'/>
<path d='M2279.45 908.35L2280.39 909.58' stroke='#002ad5'/>
<path d='M2280.18 909.29L2281.11 910.52' stroke='#002cd3'/>
<path d='M2280.89 910.23L2281.81 911.46' stroke='#002ed1'/>
<path d='M2281.60 911.18L2282.51 912.40' stroke='#0030cf'/>
<path d='M2282.30 912.12L2283.20 913.34' stroke='#0032cd'/>
<path d='M2282.99 913.06L2283.88 914.29' stroke='#0034cb'/>
<path d='M2283.68 914.00L2284.56 915.23' stroke='#0036c9'/>
<path d='M2284.36 914.95L2285.22 916.17' stroke='#0038c7'/>
<path d='M2285.02 915.89L2285.88 917.12' stroke='#003ac5'/>
<path d='M2285.69 916.84L2286.54 918.06' stroke='#003cc3'/>
<path d='M2286.34 917.78L2287.18 919.01' stroke='#003fc0'/>
<path d='M2286.99 918.73L2287.82 919.96' stroke='#0041be'/>
<path d='M2287.63 919.67L2288.45 920.90' stroke='#0043bc'/>
<path d='M2288.26 920.62L2289.08 921.85' stroke='#0045ba'/>
<path d='M2288.89 921.56L2289.69 922.80' stroke='#0047b8'/>
<path d='M2289.51 922.51L2290.30 923.74' stroke='#0049b6'/>
<path d='M2290.12 923.46L2290.91 924.69' stroke='#004bb4'/>
<path d='M2290.73 924.41L2291.50 925.64' stroke='#004db2'/>
<path d='M2291.32 925.35L2292.09 926.59' stroke='#0050af'/>
<path d='M2291.92 926.30L2292.68 927.53' stroke='#0052ad'/>
<path d='M2292.50 927.25L2293.25 928.48' stroke='#0054ab'/>
<path d='M2293.08 928.20L2293.82 929.43' stroke='#0056a9'/>
<path d='M2293.65 929.15L2294.38 930.38' stroke='#0058a7'/>
<path d='M2294.22 930.09L2294.94 931.33' stroke='#005aa5'/>
<path d='M2294.77 931.04L2295.49 932.28' stroke='#005ca3'/>
<path d='M2295.33 931.99L2296.03 933.22' stroke='#005fa0'/>
<path d='M2295.87 932.94L2296.57 934.17' stroke='#00619e'/>
<path d='M2296.41 933.89L2297.10 935.12' stroke='#00639c'/>
<path d='M2296.94 934.83L2297.63 936.07' stroke='#00659a'/>
<path d='M2297.47 935.78L2298.14 937.01' stroke='#006798'/>
<path d='M2297.99 936.73L2298.66 937.96' stroke='#006996'/>
<path d='M2298.50 937.68L2299.16 938.91' stroke='#006b94'/>
<path d='M2299.01 938.62L2299.66 939.85' stroke='#006e91'/>
<path d='M2299.51 939.57L2300.15 940.80' stroke='#00708f'/>
<path d='M2300.01 940.51L2300.64 941.74' stroke='#00728d'/>
<path d='M2300.50 941.46L2301.12 942.69' stroke='#00748b'/>
<path d='M2300.98 942.40L2301.60 943.63' stroke='#007689'/>
<path d='M2301.46 943.35L2302.07 944.58' stroke='#007887'/>
<path d='M2301.93 944.29L2302.53 945.52' stroke='#007a85'/>
<path d='M2302.39 945.24L2302.99 946.46' stroke='#007d82'/>
<path d='M2302.85 946.18L2303.44 947.40' stroke='#007f80'/>
<path d='M2303.31 947.12L2303.89 948.34' stroke='#00817e'/>
<path d='M2303.75 948.06L2304.33 949.28' stroke='#00837c'/>
<path d='M2304.20 949.00L2304.76 950.22' stroke='#00857a'/>
<path d='M2304.63 949.94L2305.19 951.16' stroke='#008778'/>
<path d='M2305.06 950.88L2305.61 952.10' stroke='#008a75'/>
<path d='M2305.49 951.82L2306.03 953.04' stroke='#008c73'/>
<path d='M2305.91 952.76L2306.44 953.97' stroke='#008e71'/>
<path d='M2306.32 953.69L2306.85 954.91' stroke='#00906f'/>
<path d='M2306.73 954.63L2307.25 955.84' stroke='#00926d'/>
<path d='M2307.13 955.56L2307.65 956.77' stroke='#00946b'/>
<path d='M2307.53 956.49L2308.04 957.71' stroke='#009669'/>
<path d='M2307.92 957.43L2308.42 958.64' stroke='#009867'/>
<path d='M2308.31 958.36L2308.80 959.57' stroke='#009b64'/>
<path d='M2308.69 959.29L2309.18 960.50' stroke='#009d62'/>
<path d='M2309.06 960.22L2309.55 961.42' stroke='#009f60'/>
<path d='M2309.44 961.14L2309.91 962.35' stroke='#00a15e'/>
<path d='M2309.80 962.07L2310.27 963.27' stroke='#00a35c'/>
<path d='M2310.16 963.00L2310.62 964.20' stroke='#00a55a'/>
<path d='M2310.52 963.92L2310.97 965.12' stroke='#00a758'/>
<path d='M2310.87 964.84L2311.32 966.04' stroke='#00a956'/>
<path d='M2311.21 965.77L2311.66 966.97' stroke='#00ab54'/>
<path d='M2311.55 966.69L2311.99 967.89' stroke='#00ae51'/>
<path d='M2311.89 967.61L2312.32 968.81' stroke='#00b04f'/>
<path d='M2312.22 968.53L2312.65 969.73' stroke='#00b24d'/>
<path d='M2312.55 969.45L2312.97 970.65' stroke='#00b44b'/>
<path d='M2312.87 970.37L2313.28 971.57' stroke='#00b649'/>
<path d='M2313.19 971.29L2313.60 972.49' stroke='#00b847'/>
<path d='M2313.50 972.21L2313.90 973.40' stroke='#00ba45'/>
<path d='M2313.81 973.13L2314.21 974.32' stroke='#00bc43'/>
<path d='M2314.11 974.04L2314.50 975.23' stroke='#00be41'/>
<path d='M2314.41 974.96L2314.80 976.15' stroke='#00c03f'/>
<path d='M2314.71 975.88L2315.09 977.06' stroke='#00c23d'/>
<path d='M2315.00 976.79L2315.37 977.98' stroke='#00c43b'/>
<path d='M2315.29 977.70L2315.65 978.89' stroke='#00c639'/>
<path d='M2315.57 978.62L2315.93 979.80' stroke='#00c936'/>
<path d='M2315.85 979.53L2316.20 980.71' stroke='#00cb34'/>
<path d='M2316.12 980.44L2316.47 981.63' stroke='#00cd32'/>
<path d='M2316.39 981.35L2316.74 982.54' stroke='#00cf30'/>
<path d='M2316.66 982.26L2317.00 983.44' stroke='#00d12e'/>
<path d='M2316.92 983.17L2317.25 984.35' stroke='#00d32c'/>
<path d='M2317.18 984.08L2317.50 985.26' stroke='#00d52a'/>
<path d='M2317.43 984.99L2317.75 986.17' stroke='#00d728'/>
<path d='M2317.68 985.90L2318.00 987.07' stroke='#00d926'/>
<path d='M2317.92 986.80L2318.24 987.98' stroke='#00db24'/>
<path d='M2318.16 987.71L2318.47 988.89' stroke='#00dd22'/>
<path d='M2318.40 988.61L2318.70 989.79' stroke='#00df20'/>
<path d='M2318.63 989.52L2318.93 990.69' stroke='#00e11e'/>
<path d='M2318.86 990.42L2319.16 991.60' stroke='#00e31c'/>
<path d='M2319.09 991.33L2319.38 992.50' stroke='#00e51a'/>
<path d='M2319.31 992.23L2319.59 993.40' stroke='#00e718'/>
<path d='M2319.53 993.13L2319.81 994.30' stroke='#00e916'/>
<path d='M2319.74 994.03L2320.01 995.20' stroke='#00eb14'/>
<path d='M2319.95 994.93L2320.22 996.10' stroke='#00ed12'/>
<path d='M2320.16 995.83L2320.42 997.00' stroke='#00ef10'/>
<path d='M2320.36 996.73L2320.62 997.90' stroke='#00f10e'/>
<path d='M2320.56 997.63L2320.81 998.79' stroke='#00f30c'/>
<path d='M2320.76 998.52L2321.00 999.69' stroke='#00f50a'/>
<path d='M2320.95 999.42L2321.19 1000.59' stroke='#00f708'/>
<path d='M2321.14 1000.32L2321.37 1001.48' stroke='#00f906'/>
<path d='M2321.32 1001.21L2321.55 1002.38' stroke='#00fb04'/>
<path d='M2321.50 1002.11L2321.73 1003.27' stroke='#00fd02'/>
<path d='M2321.68 1003.00L2321.90 1004.16' stroke='#00fe01'/>
<path d='M2321.85 1003.89L2322.07 1005.05' stroke='#01ff00'/>
<path d='M2322.02 1004.79L2322.24 1005.95' stroke='#03ff00'/>
<path d='M2322.19 1005.68L2322.40 1006.84' stroke='#05ff00'/>
<path d='M2322.35 1006.57L2322.56 1007.73' stroke='#07ff00'/>
<path d='M2322.51 1007.46L2322.71 1008.62' stroke='#09ff00'/>
<path d='M2322.67 1008.35L2322.86 1009.50' stroke='#0bff00'/>
<path d='M2322.82 1009.24L2323.01 1010.39' stroke='#0dff00'/>
<path d='M2322.97 1010.12L2323.16 1011.28' stroke='#0fff00'/>
<path d='M2323.11 1011.01L2323.30 1012.16' stroke='#11ff00'/>
<path d='M2323.26 1011.90L2323.44 1013.04' stroke='#13ff00'/>
<path d='M2323.40 1012.78L2323.57 1013.93' stroke='#14ff00'/>
<path d='M2323.53 1013.66L2323.70 1014.81' stroke='#16ff00'/>
<path d='M2323.66 1014.54L2323.83 1015.69' stroke='#18ff00'/>
<path d='M2323.79 1015.42L2323.95 1016.57' stroke='#1aff00'/>
<path d='M2323.92 1016.30L2324.07 1017.44' stroke='#1cff00'/>
<path d='M2324.04 1017.18L2324.19 1018.32' stroke='#1eff00'/>
<path d='M2324.16 1018.06L2324.31 1019.20' stroke='#1fff00'/>
<path d='M2324.27 1018.94L2324.42 1020.07' stroke='#21ff00'/>
<path d='M2324.39 1019.81L2324.53 1020.95' stroke='#23ff00'/>
<path d='M2324.49 1020.69L2324.63 1021.82' stroke='#25ff00'/>
<path d='M2324.60 1021.56L2324.73 1022.70' stroke='#27ff00'/>
<path d='M2324.70 1022.43L2324.83 1023.57' stroke='#28ff00'/>
<path d='M2324.80 1023.31L2324.93 1024.44' stroke='#2aff00'/>
<path d='M2324.90 1024.18L2325.02 1025.31' stroke='#2cff00'/>
<path d='M2324.99 1025.05L2325.11 1026.18' stroke='#2eff00'/>
<path d='M2325.09 1025.92L2325.20 1027.05' stroke='#30ff00'/>
<path d='M2325.17 1026.79L2325.28 1027.92' stroke='#31ff00'/>
<path d='M2325.26 1027.66L2325.36 1028.79' stroke='#33ff00'/>
<path d='M2325.34 1028.53L2325.44 1029.66' stroke='#35ff00'/>
<path d='M2325.42 1029.40L2325.52 1030.53' stroke='#37ff00'/>
<path d='M2325.49 1030.27L2325.59 1031.40' stroke='#38ff00'/>
<path d='M2325.57 1031.14L2325.66 1032.27' stroke='#3aff00'/>
<path d='M2325.64 1032.01L2325.72 1033.13' stroke='#3cff00'/>
<path d='M2325.70 1032.87L2325.79 1034.00' stroke='#3dff00'/>
<path d='M2325.77 1033.74L2325.85 1034.87' stroke='#3fff00'/>
<path d='M2325.83 1034.61L2325.91 1035.73' stroke='#41ff00'/>
<path d='M2325.89 1035.47L2325.96 1036.60' stroke='#43ff00'/>
<path d='M2325.94 1036.34L2326.01 1037.47' stroke='#44ff00'/>
<path d='M2326.00 1037.21L2326.06 1038.33' stroke='#46ff00'/>
<path d='M2326.05 1038.07L2326.11 1039.20' stroke='#48ff00'/>
<path d='M2326.09 1038.94L2326.15 1040.06' stroke='#49ff00'/>
<path d='M2326.14 1039.80L2326.19 1040.93' stroke='#4bff00'/>
<path d='M2326.18 1040.67L2326.23 1041.80' stroke='#4dff00'/>
<path d='M2326.22 1041.54L2326.27 1042.66' stroke='#4eff00'/>
<path d='M2326.26 1042.40L2326.30 1043.53' stroke='#50ff00'/>
<path d='M2326.29 1043.27L2326.33 1044.39' stroke='#51ff00'/>
<path d='M2326.32 1044.13L2326.36 1045.26' stroke='#53ff00'/>
<path d='M2326.35 1045.00L2326.38 1046.13' stroke='#55ff00'/>
<path d='M2326.38 1045.87L2326.40 1046.99' stroke='#56ff00'/>
<path d='M2326.40 1046.73L2326.42 1047.86' stroke='#58ff00'/>
<path d='M2326.42 1047.60L2326.44 1048.73' stroke='#59ff00'/>
<path d='M2326.44 1048.47L2326.45 1049.59' stroke='#5bff00'/>
<path d='M2326.45 1049.33L2326.47 1050.46' stroke='#5dff00'/>
<path d='M2326.46 1050.20L2326.47 1051.33' stroke='#5eff00'/>
<path d='M2326.47 1051.07L2326.48 1052.20' stroke='#60ff00'/>
<path d='M2326.48 1051.94L2326.48 1053.07' stroke='#61ff00'/>
<path d='M2326.48 1052.81L2326.48 1053.94' stroke='#63ff00'/>
<path d='M2326.48 1053.68L2326.48 1054.81' stroke='#64ff00'/>
<path d='M2326.48 1054.55L2326.48 1055.68' stroke='#66ff00'/>
<path d='M2326.48 1055.41L2326.47 1056.54' stroke='#68ff00'/>
<path d='M2326.47 1056.28L2326.46 1057.41' stroke='#69ff00'/>
<path d='M2326.46 1057.15L2326.45 1058.28' stroke='#6bff00'/>
<path d='M2326.45 1058.02L2326.43 1059.15' stroke='#6cff00'/>
<path d='M2326.44 1058.89L2326.42 1060.02' stroke='#6eff00'/>
<path d='M2326.42 1059.76L2326.39 1060.89' stroke='#6fff00'/>
<path d='M2326.40 1060.63L2326.37 1061.76' stroke='#71ff00'/>
<path d='M2326.38 1061.50L2326.35 1062.63' stroke='#72ff00'/>
<path d='M2326.35 1062.37L2326.32 1063.50' stroke='#74ff00'/>
<path d='M2326.33 1063.24L2326.29 1064.37' stroke='#75ff00'/>
<path d='M2326.30 1064.11L2326.25 1065.24' stroke='#76ff00'/>
<path d='M2326.26 1064.98L2326.22 1066.11' stroke='#78ff00'/>
<path d='M2326.23 1065.85L2326.18 1066.98' stroke='#79ff00'/>
<path d='M2326.19 1066.72L2326.14 1067.85' stroke='#7bff00'/>
<path d='M2326.15 1067.59L2326.09 1068.72' stroke='#7cff00'/>
<path d='M2326.10 1068.46L2326.04 1069.59' stroke='#7eff00'/>
<path d='M2326.06 1069.32L2326.00 1070.45' stroke='#7fff00'/>
<path d='M2326.01 1070.19L2325.94 1071.32' stroke='#80ff00'/>
<path d='M2325.96 1071.06L2325.89 1072.19' stroke='#82ff00'/>
<path d='M2325.91 1071.93L2325.83 1073.05' stroke='#83ff00'/>
<path d='M2325.85 1072.79L2325.77 1073.92' stroke='#84ff00'/>
<path d='M2325.79 1073.66L2325.71 1074.79' stroke='#86ff00'/>
<path d='M2325.73 1074.53L2325.65 1075.65' stroke='#87ff00'/>
<path d='M2325.67 1075.39L2325.58 1076.52' stroke='#88ff00'/>
<path d='M2325.60 1076.26L2325.51 1077.38' stroke='#8aff00'/>
<path d='M2325.53 1077.12L2325.44 1078.25' stroke='#8bff00'/>
<path d='M2325.46 1077.99L2325.36 1079.11' stroke='#8cff00'/>
<path d='M2325.38 1078.85L2325.28 1079.97' stroke='#8eff00'/>
<path d='M2325.31 1079.71L2325.20 1080.84' stroke='#8fff00'/>
<path d='M2325.23 1080.58L2325.12 1081.70' stroke='#90ff00'/>
<path d='M2325.15 1081.44L2325.04 1082.56' stroke='#92ff00'/>
<path d='M2325.06 1082.30L2324.95 1083.42' stroke='#93ff00'/>
<path d='M2324.98 1083.16L2324.86 1084.28' stroke='#94ff00'/>
<path d='M2324.89 1084.02L2324.77 1085.14' stroke='#95ff00'/>
<path d='M2324.80 1084.88L2324.67 1086.00' stroke='#96ff00'/>
<path d='M2324.70 1085.74L2324.58 1086.85' stroke='#98ff00'/>
<path d='M2324.61 1086.60L2324.48 1087.71' stroke='#99ff00'/>
<path d='M2324.51 1087.45L2324.38 1088.56' stroke='#9aff00'/>
<path d='M2324.41 1088.31L2324.27 1089.42' stroke='#9bff00'/>
<path d='M2324.30 1089.16L2324.16 1090.27' stroke='#9cff00'/>
<path d='M2324.20 1090.02L2324.06 1091.13' stroke='#9dff00'/>
<path d='M2324.09 1090.87L2323.94 1091.98' stroke='#9fff00'/>
<path d='M2323.98 1091.72L2323.83 1092.83' stroke='#a0ff00'/>
<path d='M2323.87 1092.57L2323.72 1093.68' stroke='#a1ff00'/>
<path d='M2323.75 1093.42L2323.60 1094.53' stroke='#a2ff00'/>
<path d='M2323.63 1094.27L2323.48 1095.37' stroke='#a3ff00'/>
<path d='M2323.51 1095.12L2323.35 1096.22' stroke='#a4ff00'/>
<path d='M2323.39 1095.97L2323.23 1097.06' stroke='#a5ff00'/>
<path d='M2323.27 1096.81L2323.10 1097.91' stroke='#a6ff00'/>
<path d='M2323.14 1097.65L2322.97 1098.75' stroke='#a7ff00'/>
<path d='M2323.01 1098.50L2322.84 1099.59' stroke='#a8ff00'/>
<path d='M2322.88 1099.34L2322.71 1100.43' stroke='#a9ff00'/>
<path d='M2322.75 1100.18L2322.57 1101.27' stroke='#aaff00'/>
<path d='M2322.61 1101.02L2322.43 1102.10' stroke='#abff00'/>
<path d='M2322.47 1101.85L2322.29 1102.94' stroke='#acff00'/>
<path d='M2322.34 1102.69L2322.15 1103.78' stroke='#adff00'/>
<path d='M2322.19 1103.53L2322.01 1104.61' stroke='#aeff00'/>
<path d='M2322.05 1104.36L2321.86 1105.44' stroke='#afff00'/>
<path d='M2321.90 1105.19L2321.71 1106.28' stroke='#b0ff00'/>
<path d='M2321.76 1106.03L2321.56 1107.11' stroke='#b1ff00'/>
<path d='M2321.60 1106.86L2321.41 1107.94' stroke='#b2ff00'/>
<path d='M2321.45 1107.69L2321.25 1108.77' stroke='#b3ff00'/>
<path d='M2321.30 1108.52L2321.09 1109.60' stroke='#b4ff00'/>
<path d='M2321.14 1109.35L2320.93 1110.43' stroke='#b5ff00'/>
<path d='M2320.98 1110.18L2320.77 1111.26' stroke='#b5ff00'/>
<path d='M2320.82 1111.01L2320.61 1112.08' stroke='#b6ff00'/>
<path d='M2320.66 1111.84L2320.44 1112.91' stroke='#b7ff00'/>
<path d='M2320.49 1112.66L2320.28 1113.74' stroke='#b8ff00'/>
<path d='M2320.33 1113.49L2320.11 1114.57' stroke='#b9ff00'/>
<path d='M2320.16 1114.32L2319.93 1115.39' stroke='#baff00'/>
<path d='M2319.99 1115.14L2319.76 1116.22' stroke='#baff00'/>
<path d='M2319.81 1115.97L2319.58 1117.05' stroke='#bbff00'/>
<path d='M2319.64 1116.80L2319.40 1117.87' stroke='#bcff00'/>
<path d='M2319.46 1117.62L2319.22 1118.70' stroke='#bdff00'/>
<path d='M2319.28 1118.45L2319.04 1119.52' stroke='#bdff00'/>
<path d='M2319.10 1119.28L2318.86 1120.35' stroke='#beff00'/>
<path d='M2318.91 1120.10L2318.67 1121.18' stroke='#bfff00'/>
<path d='M2318.73 1120.93L2318.48 1122.00' stroke='#c0ff00'/>
<path d='M2318.54 1121.76L2318.29 1122.83' stroke='#c0ff00'/>
<path d='M2318.35 1122.58L2318.10 1123.66' stroke='#c1ff00'/>
<path d='M2318.15 1123.41L2317.90 1124.49' stroke='#c2ff00'/>
<path d='M2317.96 1124.24L2317.70 1125.31' stroke='#c2ff00'/>
<path d='M2317.76 1125.07L2317.50 1126.14' stroke='#c3ff00'/>
<path d='M2317.56 1125.89L2317.30 1126.97' stroke='#c4ff00'/>
<path d='M2317.36 1126.72L2317.10 1127.80' stroke='#c4ff00'/>
<path d='M2317.16 1127.55L2316.89 1128.63' stroke='#c5ff00'/>
<path d='M2316.95 1128.38L2316.68 1129.46' stroke='#c6ff00'/>
<path d='M2316.75 1129.21L2316.47 1130.29' stroke='#c6ff00'/>
<path d='M2316.54 1130.04L2316.26 1131.12' stroke='#c7ff00'/>
<path d='M2316.32 1130.87L2316.05 1131.96' stroke='#c7ff00'/>
<path d='M2316.11 1131.71L2315.83 1132.79' stroke='#c8ff00'/>
<path d='M2315.89 1132.54L2315.61 1133.62' stroke='#c9ff00'/>
<path d='M2315.68 1133.37L2315.39 1134.46' stroke='#c9ff00'/>
<path d='M2315.46 1134.21L2315.17 1135.30' stroke='#caff00'/>
<path d='M2315.23 1135.04L2314.94 1136.13' stroke='#caff00'/>
<path d='M2315.01 1135.88L2314.71 1136.97' stroke='#cbff00'/>
<path d='M2314.78 1136.72L2314.48 1137.81' stroke='#cbff00'/>
<path d='M2314.55 1137.56L2314.25 1138.65' stroke='#ccff00'/>
<path d='M2314.32 1138.40L2314.02 1139.49' stroke='#ccff00'/>
<path d='M2314.09 1139.24L2313.78 1140.33' stroke='#cdff00'/>
<path d='M2313.85 1140.08L2313.54 1141.17' stroke='#cdff00'/>
<path d='M2313.61 1140.92L2313.30 1142.02' stroke='#ceff00'/>
<path d='M2313.37 1141.76L2313.06 1142.86' stroke='#ceff00'/>
<path d='M2313.13 1142.61L2312.81 1143.70' stroke='#ceff00'/>
<path d='M2312.89 1143.45L2312.57 1144.55' stroke='#cfff00'/>
<path d='M2312.64 1144.29L2312.32 1145.39' stroke='#cfff00'/>
<path d='M2312.39 1145.14L2312.07 1146.24' stroke='#d0ff00'/>
<path d='M2312.14 1145.98L2311.81 1147.08' stroke='#d0ff00'/>
<path d='M2311.89 1146.83L2311.56 1147.93' stroke='#d0ff00'/>
<path d='M2311.64 1147.68L2311.30 1148.77' stroke='#d1ff00'/>
<path d='M2311.38 1148.52L2311.05 1149.62' stroke='#d1ff00'/>
<path d='M2311.12 1149.37L2310.79 1150.47' stroke='#d1ff00'/>
<path d='M2310.86 1150.21L2310.52 1151.31' stroke='#d2ff00'/>
<path d='M2310.60 1151.06L2310.26 1152.16' stroke='#d2ff00'/>
<path d='M2310.34 1151.91L2310.00 1153.01' stroke='#d2ff00'/>
<path d='M2310.08 1152.75L2309.73 1153.85' stroke='#d2ff00'/>
<path d='M2309.81 1153.60L2309.46 1154.70' stroke='#d3ff00'/>
<path d='M2309.54 1154.44L2309.19 1155.54' stroke='#d3ff00'/>
<path d='M2309.27 1155.29L2308.92 1156.39' stroke='#d3ff00'/>
<path d='M2309.00 1156.14L2308.65 1157.23' stroke='#d3ff00'/>
<path d='M2308.73 1156.98L2308.37 1158.08' stroke='#d4ff00'/>
<path d='M2308.45 1157.83L2308.10 1158.92' stroke='#d4ff00'/>
<path d='M2308.18 1158.67L2307.82 1159.77' stroke='#d4ff00'/>
<path d='M2307.90 1159.52L2307.54 1160.61' stroke='#d4ff00'/>
<path d='M2307.62 1160.36L2307.26 1161.46' stroke='#d4ff00'/>
<path d='M2307.34 1161.20L2306.98 1162.30' stroke='#d4ff00'/>
<path d='M2307.06 1162.04L2306.70 1163.14' stroke='#d5ff00'/>
<path d='M2306.78 1162.89L2306.41 1163.98' stroke='#d5ff00'/>
<path d='M2306.50 1163.73L2306.13 1164.82' stroke='#d5ff00'/>
<path d='M2306.21 1164.57L2305.84 1165.66' stroke='#d5ff00'/>
<path d='M2305.93 1165.41L2305.56 1166.50' stroke='#d5ff00'/>
<path d='M2305.64 1166.25L2305.27 1167.34' stroke='#d5ff00'/>
<path d='M2305.36 1167.09L2304.98 1168.17' stroke='#d5ff00'/>
<path d='M2305.07 1167.92L2304.69 1169.01' stroke='#d5ff00'/>
<path d='M2304.78 1168.76L2304.41 1169.85' stroke='#d5ff00'/>
<path d='M2304.49 1169.60L2304.12 1170.68' stroke='#d5ff00'/>
<path d='M2304.20 1170.43L2303.83 1171.51' stroke='#d5ff00'/>
<path d='M2303.91 1171.26L2303.54 1172.34' stroke='#d5ff00'/>
<path d='M2303.62 1172.09L2303.25 1173.17' stroke='#d5ff00'/>
<path d='M2303.33 1172.92L2302.95 1174.00' stroke='#d5ff00'/>
<path d='M2303.04 1173.75L2302.66 1174.83' stroke='#d5ff00'/>
<path d='M2302.75 1174.58L2302.37 1175.66' stroke='#d5ff00'/>
<path d='M2302.46 1175.41L2302.08 1176.48' stroke='#d5ff00'/>
<path d='M2302.17 1176.23L2301.79 1177.30' stroke='#d5ff00'/>
<path d='M2301.88 1177.06L2301.50 1178.12' stroke='#d4ff00'/>
<path d='M2301.59 1177.88L2301.21 1178.94' stroke='#d4ff00'/>
<path d='M2301.30 1178.70L2300.92 1179.76' stroke='#d4ff00'/>
<path d='M2301.01 1179.52L2300.63 1180.58' stroke='#d4ff00'/>
<path d='M2300.72 1180.33L2300.34 1181.40' stroke='#d4ff00'/>
<path d='M2300.43 1181.15L2300.05 1182.21' stroke='#d4ff00'/>
<path d='M2300.14 1181.97L2299.77 1183.03' stroke='#d3ff00'/>
<path d='M2299.85 1182.78L2299.48 1183.84' stroke='#d3ff00'/>
<path d='M2299.56 1183.59L2299.19 1184.65' stroke='#d3ff00'/>
<path d='M2299.28 1184.41L2298.91 1185.46' stroke='#d3ff00'/>
<path d='M2298.99 1185.22L2298.62 1186.27' stroke='#d2ff00'/>
<path d='M2298.71 1186.03L2298.34 1187.08' stroke='#d2ff00'/>
<path d='M2298.43 1186.84L2298.06 1187.89' stroke='#d2ff00'/>
<path d='M2298.15 1187.64L2297.78 1188.69' stroke='#d2ff00'/>
<path d='M2297.87 1188.45L2297.50 1189.50' stroke='#d1ff00'/>
<path d='M2297.59 1189.26L2297.23 1190.30' stroke='#d1ff00'/>
<path d='M2297.31 1190.06L2296.96 1191.10' stroke='#d1ff00'/>
<path d='M2297.04 1190.86L2296.69 1191.90' stroke='#d0ff00'/>
<path d='M2296.77 1191.66L2296.42 1192.70' stroke='#d0ff00'/>
<path d='M2296.50 1192.46L2296.15 1193.50' stroke='#d0ff00'/>
<path d='M2296.23 1193.26L2295.89 1194.30' stroke='#cfff00'/>
<path d='M2295.97 1194.06L2295.63 1195.09' stroke='#cfff00'/>
<path d='M2295.71 1194.86L2295.37 1195.89' stroke='#ceff00'/>
<path d='M2295.45 1195.65L2295.12 1196.68' stroke='#ceff00'/>
<path d='M2295.19 1196.44L2294.87 1197.47' stroke='#ceff00'/>
<path d='M2294.94 1197.23L2294.62 1198.26' stroke='#cdff00'/>
<path d='M2294.70 1198.03L2294.38 1199.05' stroke='#cdff00'/>
<path d='M2294.46 1198.81L2294.15 1199.84' stroke='#ccff00'/>
<path d='M2294.22 1199.60L2293.92 1200.62' stroke='#ccff00'/>
<path d='M2293.99 1200.39L2293.69 1201.41' stroke='#cbff00'/>
<path d='M2293.76 1201.17L2293.47 1202.19' stroke='#cbff00'/>
<path d='M2293.54 1201.95L2293.26 1202.97' stroke='#caff00'/>
<path d='M2293.32 1202.73L2293.05 1203.75' stroke='#caff00'/>
<path d='M2293.11 1203.51L2292.85 1204.52' stroke='#c9ff00'/>
<path d='M2292.91 1204.29L2292.65 1205.30' stroke='#c9ff00'/>
<path d='M2292.71 1205.07L2292.47 1206.07' stroke='#c8ff00'/>
<path d='M2292.52 1205.84L2292.29 1206.84' stroke='#c7ff00'/>
<path d='M2292.34 1206.61L2292.12 1207.61' stroke='#c7ff00'/>
<path d='M2292.17 1207.38L2291.95 1208.38' stroke='#c6ff00'/>
<path d='M2292.00 1208.15L2291.80 1209.15' stroke='#c6ff00'/>
<path d='M2291.85 1208.92L2291.66 1209.91' stroke='#c5ff00'/>
<path d='M2291.70 1209.68L2291.53 1210.67' stroke='#c4ff00'/>
<path d='M2291.57 1210.44L2291.41 1211.43' stroke='#c4ff00'/>
<path d='M2291.44 1211.20L2291.30 1212.18' stroke='#c3ff00'/>
<path d='M2291.33 1211.96L2291.20 1212.94' stroke='#c2ff00'/>
<path d='M2291.23 1212.71L2291.12 1213.69' stroke='#c2ff00'/>
<path d='M1521.48 1214.21L1523.82 1215.18' stroke='#c0ff00'/>
<path d='M1523.28 1214.96L1525.66 1215.93' stroke='#bfff00'/>
<path d='M1525.11 1215.70L1527.52 1216.67' stroke='#bfff00'/>
<path d='M1526.96 1216.44L1529.42 1217.40' stroke='#beff00'/>
<path d='M1528.85 1217.18L1531.34 1218.14' stroke='#bdff00'/>
<path d='M1530.76 1217.92L1533.30 1218.87' stroke='#bcff00'/>
<path d='M1532.71 1218.65L1535.28 1219.59' stroke='#bcff00'/>
<path d='M1534.68 1219.37L1537.30 1220.31' stroke='#bbff00'/>
<path d='M1536.69 1220.10L1539.35 1221.03' stroke='#baff00'/>
<path d='M1538.73 1220.82L1541.43 1221.74' stroke='#b9ff00'/>
<path d='M1540.80 1221.53L1543.55 1222.45' stroke='#b8ff00'/>
<path d='M1542.91 1222.24L1545.70 1223.16' stroke='#b8ff00'/>
<path d='M1545.05 1222.95L1547.89 1223.86' stroke='#b7ff00'/>
<path d='M1547.23 1223.65L1550.12 1224.55' stroke='#b6ff00'/>
<path d='M1549.45 1224.34L1552.39 1225.24' stroke='#b5ff00'/>
<path d='M1551.71 1225.03L1554.70 1225.92' stroke='#b4ff00'/>
<path d='M1554.00 1225.72L1557.04 1226.60' stroke='#b3ff00'/>
<path d='M1556.33 1226.40L1559.43 1227.27' stroke='#b2ff00'/>
<path d='M1558.71 1227.07L1561.86 1227.94' stroke='#b1ff00'/>
<path d='M1561.13 1227.74L1564.34 1228.59' stroke='#b0ff00'/>
<path d='M1563.59 1228.40L1566.86 1229.24' stroke='#afff00'/>
<path d='M1566.10 1229.05L1569.43 1229.89' stroke='#aeff00'/>
<path d='M1568.65 1229.70L1572.04 1230.52' stroke='#adff00'/>
<path d='M1571.25 1230.33L1574.71 1231.15' stroke='#adff00'/>
<path d='M1573.90 1230.96L1577.42 1231.77' stroke='#acff00'/>
<path d='M1576.60 1231.58L1580.19 1232.38' stroke='#abff00'/>
<path d='M1579.35 1232.20L1583.00 1232.98' stroke='#aaff00'/>
<path d='M1582.15 1232.80L1585.87 1233.57' stroke='#a8ff00'/>
<path d='M1585.00 1233.39L1588.79 1234.15' stroke='#a7ff00'/>
<path d='M1587.91 1233.97L1591.77 1234.71' stroke='#a6ff00'/>
<path d='M1590.87 1234.54L1594.80 1235.27' stroke='#a5ff00'/>
<path d='M1593.89 1235.10L1597.89 1235.81' stroke='#a4ff00'/>
<path d='M1596.96 1235.65L1601.03 1236.34' stroke='#a3ff00'/>
<path d='M1600.08 1236.19L1604.23 1236.86' stroke='#a2ff00'/>
<path d='M1603.27 1236.71L1607.49 1237.36' stroke='#a1ff00'/>
<path d='M1606.51 1237.21L1610.81 1237.85' stroke='#a0ff00'/>
<path d='M1609.81 1237.71L1614.18 1238.32' stroke='#9fff00'/>
<path d='M1613.16 1238.18L1617.60 1238.77' stroke='#9eff00'/>
<path d='M1616.57 1238.64L1621.08 1239.21' stroke='#9cff00'/>
<path d='M1620.03 1239.08L1624.61 1239.63' stroke='#9bff00'/>
<path d='M1623.55 1239.51L1628.20 1240.03' stroke='#9aff00'/>
<path d='M1627.12 1239.91L1631.83 1240.41' stroke='#99ff00'/>
<path d='M1630.74 1240.29L1635.51 1240.76' stroke='#98ff00'/>
<path d='M1634.40 1240.66L1639.23 1241.10' stroke='#97ff00'/>
<path d='M1638.11 1241.00L1642.99 1241.41' stroke='#95ff00'/>
<path d='M1641.86 1241.32L1646.79 1241.70' stroke='#94ff00'/>
<path d='M1645.65 1241.62L1650.61 1241.96' stroke='#93ff00'/>
<path d='M1649.46 1241.89L1654.46 1242.20' stroke='#92ff00'/>
<path d='M1653.31 1242.13L1658.33 1242.42' stroke='#90ff00'/>
<path d='M1657.17 1242.36L1662.21 1242.60' stroke='#8fff00'/>
<path d='M1661.05 1242.55L1666.10 1242.76' stroke='#8eff00'/>
<path d='M1664.93 1242.72L1669.98 1242.89' stroke='#8dff00'/>
<path d='M1668.82 1242.86L1673.86 1243.00' stroke='#8bff00'/>
<path d='M1672.70 1242.97L1677.72 1243.07' stroke='#8aff00'/>
<path d='M1676.57 1243.05L1681.55 1243.12' stroke='#89ff00'/>
<path d='M1680.40 1243.11L1685.32 1243.13' stroke='#87ff00'/>
<path d='M1684.19 1243.13L1689.04 1243.12' stroke='#86ff00'/>
<path d='M1687.93 1243.13L1692.72 1243.08' stroke='#85ff00'/>
<path d='M1691.62 1243.09L1696.36 1243.01' stroke='#83ff00'/>
<path d='M1695.28 1243.03L1699.97 1242.91' stroke='#82ff00'/>
<path d='M1698.89 1242.94L1703.53 1242.78' stroke='#81ff00'/>
<path d='M1702.46 1242.82L1707.06 1242.62' stroke='#7fff00'/>
<path d='M1706.01 1242.68L1710.55 1242.44' stroke='#7eff00'/>
<path d='M1709.51 1242.50L1713.97 1242.22' stroke='#7cff00'/>
<path d='M1712.95 1242.29L1717.32 1241.97' stroke='#7bff00'/>
<path d='M1716.33 1242.05L1720.59 1241.70' stroke='#7aff00'/>
<path d='M1719.62 1241.78L1723.77 1241.39' stroke='#78ff00'/>
<path d='M1722.83 1241.49L1726.87 1241.06' stroke='#77ff00'/>
<path d='M1725.95 1241.16L1729.88 1240.71' stroke='#75ff00'/>
<path d='M1728.98 1240.82L1732.79 1240.32' stroke='#74ff00'/>
<path d='M1731.93 1240.44L1735.61 1239.92' stroke='#72ff00'/>
<path d='M1734.78 1240.04L1738.34 1239.49' stroke='#70ff00'/>
<path d='M1737.53 1239.62L1740.98 1239.03' stroke='#6fff00'/>
<path d='M1740.20 1239.17L1743.52 1238.56' stroke='#6dff00'/>
<path d='M1742.77 1238.70L1745.97 1238.06' stroke='#6cff00'/>
<path d='M1745.24 1238.21L1748.32 1237.55' stroke='#6aff00'/>
<path d='M1747.63 1237.70L1750.59 1237.01' stroke='#68ff00'/>
<path d='M1749.92 1237.17L1752.77 1236.46' stroke='#67ff00'/>
<path d='M1752.13 1236.62L1754.87 1235.89' stroke='#65ff00'/>
<path d='M1754.25 1236.06L1756.88 1235.30' stroke='#63ff00'/>
<path d='M1756.29 1235.48L1758.82 1234.70' stroke='#62ff00'/>
<path d='M1758.25 1234.88L1760.67 1234.08' stroke='#60ff00'/>
<path d='M1760.12 1234.27L1762.45 1233.45' stroke='#5eff00'/>
<path d='M1761.93 1233.64L1764.16 1232.81' stroke='#5dff00'/>
<path d='M1763.66 1233.00L1765.80 1232.15' stroke='#5bff00'/>
<path d='M1765.32 1232.35L1767.37 1231.48' stroke='#59ff00'/>
<path d='M1766.91 1231.68L1768.88 1230.80' stroke='#57ff00'/>
<path d='M1768.44 1231.01L1770.33 1230.12' stroke='#56ff00'/>
<path d='M1769.90 1230.32L1771.71 1229.42' stroke='#54ff00'/>
<path d='M1771.30 1229.63L1773.05 1228.71' stroke='#52ff00'/>
<path d='M1772.65 1228.93L1774.32 1228.00' stroke='#50ff00'/>
<path d='M1773.94 1228.21L1775.55 1227.28' stroke='#4eff00'/>
<path d='M1775.18 1227.49L1776.72 1226.55' stroke='#4dff00'/>
<path d='M1776.37 1226.77L1777.85 1225.81' stroke='#4bff00'/>
<path d='M1777.52 1226.03L1778.93 1225.07' stroke='#49ff00'/>
<path d='M1778.61 1225.29L1779.97 1224.32' stroke='#47ff00'/>
<path d='M1779.67 1224.55L1780.97 1223.57' stroke='#45ff00'/>
<path d='M1780.68 1223.80L1781.93 1222.82' stroke='#43ff00'/>
<path d='M1781.65 1223.04L1782.85 1222.05' stroke='#42ff00'/>
<path d='M1782.58 1222.28L1783.74 1221.29' stroke='#40ff00'/>
<path d='M1783.47 1221.52L1784.59 1220.52' stroke='#3eff00'/>
<path d='M1784.34 1220.75L1785.40 1219.75' stroke='#3cff00'/>
<path d='M1785.16 1219.98L1786.19 1218.98' stroke='#3aff00'/>
<path d='M1785.96 1219.21L1786.95 1218.20' stroke='#38ff00'/>
<path d='M1786.72 1218.44L1787.67 1217.43' stroke='#36ff00'/>
<path d='M1787.46 1217.66L1788.38 1216.65' stroke='#34ff00'/>
<path d='M1788.17 1216.88L1789.05 1215.86' stroke='#33ff00'/>
<path d='M1788.85 1216.10L1789.71 1215.08' stroke='#31ff00'/>
<path d='M1789.51 1215.31L1790.34 1214.29' stroke='#2fff00'/>
<path d='M1790.15 1214.53L1790.94 1213.50' stroke='#2dff00'/>
<path d='M1790.76 1213.74L1791.53 1212.71' stroke='#2bff00'/>
<path d='M1791.36 1212.94L1792.10 1211.91' stroke='#29ff00'/>
<path d='M1791.93 1212.15L1792.65 1211.11' stroke='#27ff00'/>
<path d='M1792.48 1211.35L1793.18 1210.32' stroke='#25ff00'/>
<path d='M1793.02 1210.56L1793.69 1209.51' stroke='#23ff00'/>
<path d='M1793.54 1209.76L1794.19 1208.71' stroke='#21ff00'/>
<path d='M1794.04 1208.95L1794.67 1207.91' stroke='#1fff00'/>
<path d='M1794.52 1208.15L1795.13 1207.10' stroke='#1dff00'/>
<path d='M1794.99 1207.34L1795.58 1206.29' stroke='#1bff00'/>
<path d='M1795.45 1206.54L1796.02 1205.48' stroke='#19ff00'/>
<path d='M1795.89 1205.73L1796.44 1204.67' stroke='#18ff00'/>
<path d='M1796.32 1204.92L1796.85 1203.86' stroke='#16ff00'/>
<path d='M1796.73 1204.10L1797.25 1203.04' stroke='#14ff00'/>
<path d='M1797.13 1203.29L1797.64 1202.23' stroke='#12ff00'/>
<path d='M1797.52 1202.47L1798.01 1201.41' stroke='#10ff00'/>
<path d='M1797.90 1201.66L1798.37 1200.59' stroke='#0eff00'/>
<path d='M1798.27 1200.84L1798.73 1199.77' stroke='#0cff00'/>
<path d='M1798.62 1200.02L1799.07 1198.95' stroke='#0aff00'/>
<path d='M1798.97 1199.19L1799.40 1198.12' stroke='#08ff00'/>
<path d='M1799.31 1198.37L1799.73 1197.30' stroke='#06ff00'/>
<path d='M1799.63 1197.54L1800.04 1196.47' stroke='#04ff00'/>
<path d='M1799.95 1196.72L1800.35 1195.64' stroke='#02ff00'/>
<path d='M1800.26 1195.89L1800.65 1194.81' stroke='#00fe01'/>
<path d='M1800.56 1195.06L1800.94 1193.98' stroke='#00fc03'/>
<path d='M1800.85 1194.23L1801.22 1193.14' stroke='#00fa05'/>
<path d='M1801.14 1193.39L1801.50 1192.31' stroke='#00f807'/>
<path d='M1801.42 1192.56L1801.77 1191.47' stroke='#00f609'/>
<path d='M1801.69 1191.72L1802.03 1190.63' stroke='#00f40b'/>
<path d='M1801.95 1190.88L1802.28 1189.79' stroke='#00f20d'/>
<path d='M1802.21 1190.04L1802.53 1188.95' stroke='#00f00f'/>
<path d='M1802.46 1189.20L1802.77 1188.10' stroke='#00ee11'/>
<path d='M1802.70 1188.36L1803.01 1187.26' stroke='#00ec13'/>
<path d='M1802.94 1187.51L1803.24 1186.41' stroke='#00ea15'/>
<path d='M1803.17 1186.67L1803.46 1185.56' stroke='#00e817'/>
<path d='M1803.39 1185.82L1803.68 1184.71' stroke='#00e619'/>
<path d='M1803.62 1184.97L1803.89 1183.86' stroke='#00e31c'/>
<path d='M1803.83 1184.11L1804.10 1183.00' stroke='#00e11e'/>
<path d='M1804.04 1183.26L1804.31 1182.15' stroke='#00df20'/>
<path d='M1804.25 1182.40L1804.51 1181.29' stroke='#00dd22'/>
<path d='M1804.45 1181.55L1804.70 1180.43' stroke='#00db24'/>
<path d='M1804.64 1180.69L1804.89 1179.56' stroke='#00d926'/>
<path d='M1804.84 1179.82L1805.08 1178.70' stroke='#00d728'/>
<path d='M1805.02 1178.96L1805.26 1177.83' stroke='#00d42b'/>
<path d='M1805.21 1178.09L1805.44 1176.96' stroke='#00d22d'/>
<path d='M1805.39 1177.23L1805.62 1176.09' stroke='#00d02f'/>
<path d='M1805.56 1176.36L1805.79 1175.22' stroke='#00ce31'/>
<path d='M1805.74 1175.48L1805.95 1174.35' stroke='#00cc33'/>
<path d='M1805.90 1174.61L1806.12 1173.48' stroke='#00ca35'/>
<path d='M1806.07 1173.74L1806.27 1172.60' stroke='#00c738'/>
<path d='M1806.23 1172.87L1806.43 1171.73' stroke='#00c53a'/>
<path d='M1806.38 1171.99L1806.58 1170.85' stroke='#00c33c'/>
<path d='M1806.54 1171.11L1806.73 1169.97' stroke='#00c13e'/>
<path d='M1806.69 1170.24L1806.88 1169.09' stroke='#00be41'/>
<path d='M1806.83 1169.36L1807.02 1168.21' stroke='#00bc43'/>
<path d='M1806.98 1168.48L1807.16 1167.33' stroke='#00ba45'/>
<path d='M1807.12 1167.60L1807.30 1166.45' stroke='#00b847'/>
<path d='M1807.26 1166.72L1807.43 1165.57' stroke='#00b649'/>
<path d='M1807.39 1165.83L1807.56 1164.68' stroke='#00b34c'/>
<path d='M1807.53 1164.95L1807.69 1163.80' stroke='#00b14e'/>
<path d='M1807.66 1164.06L1807.82 1162.91' stroke='#00af50'/>
<path d='M1807.78 1163.18L1807.94 1162.03' stroke='#00ad52'/>
<path d='M1807.91 1162.29L1808.07 1161.14' stroke='#00aa55'/>
<path d='M1808.03 1161.40L1808.19 1160.25' stroke='#00a857'/>
<path d='M1808.15 1160.51L1808.30 1159.36' stroke='#00a659'/>
<path d='M1808.27 1159.62L1808.42 1158.46' stroke='#00a45b'/>
<path d='M1808.38 1158.73L1808.53 1157.57' stroke='#00a15e'/>
<path d='M1808.50 1157.84L1808.64 1156.68' stroke='#009f60'/>
<path d='M1808.61 1156.95L1808.75 1155.78' stroke='#009d62'/>
<path d='M1808.72 1156.05L1808.86 1154.89' stroke='#009b64'/>
<path d='M1808.83 1155.15L1808.96 1153.99' stroke='#009867'/>
<path d='M1808.93 1154.26L1809.07 1153.09' stroke='#009669'/>
<path d='M1809.04 1153.36L1809.17 1152.19' stroke='#00946b'/>
<path d='M1809.14 1152.46L1809.27 1151.29' stroke='#00916e'/>
<path d='M1809.24 1151.56L1809.37 1150.39' stroke='#008f70'/>
<path d='M1809.34 1150.66L1809.46 1149.48' stroke='#008d72'/>
<path d='M1809.43 1149.75L1809.56 1148.58' stroke='#008b74'/>
<path d='M1809.53 1148.85L1809.65 1147.67' stroke='#008877'/>
<path d='M1809.63 1147.94L1809.75 1146.76' stroke='#008679'/>
<path d='M1809.72 1147.04L1809.84 1145.86' stroke='#00847b'/>
<path d='M1809.81 1146.13L1809.93 1144.95' stroke='#00817e'/>
<path d='M1809.90 1145.22L1810.02 1144.03' stroke='#007f80'/>
<path d='M1809.99 1144.31L1810.10 1143.12' stroke='#007d82'/>
<path d='M1810.08 1143.40L1810.19 1142.21' stroke='#007b84'/>
<path d='M1810.16 1142.48L1810.27 1141.29' stroke='#007887'/>
<path d='M1810.25 1141.57L1810.36 1140.38' stroke='#007689'/>
<path d='M1810.33 1140.65L1810.44 1139.46' stroke='#00748b'/>
<path d='M1810.42 1139.74L1810.52 1138.54' stroke='#00718e'/>
<path d='M1810.50 1138.82L1810.60 1137.62' stroke='#006f90'/>
<path d='M1810.58 1137.90L1810.68 1136.70' stroke='#006d92'/>
<path d='M1810.66 1136.98L1810.76 1135.78' stroke='#006a95'/>
<path d='M1810.74 1136.05L1810.84 1134.85' stroke='#006897'/>
<path d='M1810.82 1135.13L1810.92 1133.93' stroke='#006699'/>
<path d='M1810.90 1134.21L1810.99 1133.00' stroke='#00639c'/>
<path d='M1810.97 1133.28L1811.07 1132.07' stroke='#00619e'/>
<path d='M1811.05 1132.35L1811.15 1131.14' stroke='#005fa0'/>
<path d='M1811.12 1131.42L1811.22 1130.21' stroke='#005ca3'/>
<path d='M1811.20 1130.49L1811.29 1129.28' stroke='#005aa5'/>
<path d='M1811.27 1129.56L1811.37 1128.34' stroke='#0058a7'/>
<path d='M1811.34 1128.62L1811.44 1127.41' stroke='#0055aa'/>
<path d='M1811.42 1127.69L1811.51 1126.47' stroke='#0053ac'/>
<path d='M1811.49 1126.75L1811.58 1125.53' stroke='#0051ae'/>
<path d='M1811.56 1125.81L1811.65 1124.59' stroke='#004eb1'/>
<path d='M1811.63 1124.87L1811.72 1123.65' stroke='#004cb3'/>
<path d='M1811.70 1123.93L1811.79 1122.71' stroke='#004ab5'/>
<path d='M1811.77 1122.99L1811.86 1121.77' stroke='#0047b8'/>
<path d='M1811.84 1122.05L1811.93 1120.82' stroke='#0045ba'/>
<path d='M1811.91 1121.10L1812.00 1119.87' stroke='#0043bc'/>
<path d='M1811.98 1120.16L1812.07 1118.93' stroke='#0040bf'/>
<path d='M1812.05 1119.21L1812.13 1117.98' stroke='#003ec1'/>
<path d='M1812.11 1118.26L1812.20 1117.03' stroke='#003cc3'/>
<path d='M1812.18 1117.31L1812.27 1116.08' stroke='#0039c6'/>
<path d='M1812.25 1116.36L1812.33 1115.13' stroke='#0037c8'/>
<path d='M1812.31 1115.41L1812.40 1114.17' stroke='#0035ca'/>
<path d='M1812.38 1114.46L1812.47 1113.22' stroke='#0032cd'/>
<path d='M1812.45 1113.50L1812.53 1112.26' stroke='#0030cf'/>
<path d='M1812.51 1112.55L1812.60 1111.31' stroke='#002ed1'/>
<path d='M1812.58 1111.59L1812.66 1110.35' stroke='#002bd4'/>
<path d='M1812.64 1110.64L1812.73 1109.39' stroke='#0029d6'/>
<path d='M1812.71 1109.68L1812.79 1108.43' stroke='#0027d8'/>
<path d='M1812.77 1108.72L1812.86 1107.47' stroke='#0025da'/>
<path d='M1812.84 1107.76L1812.92 1106.51' stroke='#0022dd'/>
<path d='M1812.90 1106.80L1812.98 1105.54' stroke='#0020df'/>
<path d='M1812.96 1105.83L1813.05 1104.58' stroke='#001ee1'/>
<path d='M1813.03 1104.87L1813.11 1103.62' stroke='#001be4'/>
<path d='M1813.09 1103.91L1813.18 1102.65' stroke='#0019e6'/>
<path d='M1813.16 1102.94L1813.24 1101.68' stroke='#0017e8'/>
<path d='M1813.22 1101.97L1813.30 1100.72' stroke='#0014eb'/>
<path d='M1813.28 1101.01L1813.37 1099.75' stroke='#0012ed'/>
<path d='M1813.35 1100.04L1813.43 1098.78' stroke='#0010ef'/>
<path d='M1813.41 1099.07L1813.49 1097.81' stroke='#000ef1'/>
<path d='M1813.47 1098.10L1813.56 1096.84' stroke='#000bf4'/>
<path d='M1813.54 1097.13L1813.62 1095.87' stroke='#0009f6'/>
<path d='M1813.60 1096.16L1813.68 1094.90' stroke='#0007f8'/>
<path d='M1813.67 1095.19L1813.75 1093.92' stroke='#0004fb'/>
<path d='M1813.73 1094.22L1813.81 1092.95' stroke='#0002fd'/>
<path d='M1813.79 1093.24L1813.88 1091.98' stroke='#0000ff'/>
<path d='M1813.86 1092.27L1813.94 1091.00' stroke='#0100ff'/>
<path d='M1813.92 1091.29L1814.00 1090.03' stroke='#0301ff'/>
<path d='M1813.99 1090.32L1814.07 1089.05' stroke='#0401ff'/>
<path d='M1814.05 1089.34L1814.13 1088.07' stroke='#0502ff'/>
<path d='M1814.11 1088.37L1814.20 1087.10' stroke='#0702ff'/>
<path d='M1814.18 1087.39L1814.26 1086.12' stroke='#0803ff'/>
<path d='M1814.24 1086.41L1814.33 1085.14' stroke='#0903ff'/>
<path d='M1814.31 1085.43L1814.39 1084.16' stroke='#0b04ff'/>
<path d='M1814.37 1084.45L1814.46 1083.18' stroke='#0c04ff'/>
<path d='M1814.44 1083.47L1814.52 1082.20' stroke='#0d04ff'/>
<path d='M1814.50 1082.50L1814.59 1081.23' stroke='#0f05ff'/>
<path d='M1814.57 1081.52L1814.65 1080.25' stroke='#1005ff'/>
<path d='M1814.63 1080.54L1814.72 1079.27' stroke='#1106ff'/>
<path d='M1814.70 1079.57L1814.78 1078.30' stroke='#1306ff'/>
<path d='M1814.76 1078.59L1814.85 1077.32' stroke='#1407ff'/>
<path d='M1814.83 1077.62L1814.91 1076.35' stroke='#1507ff'/>
<path d='M1814.89 1076.64L1814.98 1075.38' stroke='#1607ff'/>
<path d='M1814.96 1075.67L1815.05 1074.40' stroke='#1808ff'/>
<path d='M1815.03 1074.69L1815.11 1073.43' stroke='#1908ff'/>
<path d='M1815.09 1073.72L1815.18 1072.45' stroke='#1a09ff'/>
<path d='M1815.16 1072.74L1815.25 1071.48' stroke='#1c09ff'/>
<path d='M1815.22 1071.77L1815.31 1070.50' stroke='#1d0aff'/>
<path d='M1815.29 1070.79L1815.38 1069.53' stroke='#1e0aff'/>
<path d='M1815.36 1069.82L1815.45 1068.55' stroke='#1f0aff'/>
<path d='M1815.43 1068.84L1815.52 1067.57' stroke='#210bff'/>
<path d='M1815.50 1067.87L1815.59 1066.59' stroke='#220bff'/>
<path d='M1815.56 1066.89L1815.66 1065.61' stroke='#230cff'/>
<path d='M1815.63 1065.91L1815.73 1064.63' stroke='#240cff'/>
<path d='M1815.70 1064.93L1815.80 1063.65' stroke='#250cff'/>
<path d='M1815.77 1063.95L1815.87 1062.67' stroke='#270dff'/>
<path d='M1815.85 1062.96L1815.94 1061.69' stroke='#280dff'/>
<path d='M1815.92 1061.98L1816.01 1060.70' stroke='#290eff'/>
<path d='M1815.99 1061.00L1816.08 1059.71' stroke='#2a0eff'/>
<path d='M1816.06 1060.01L1816.16 1058.72' stroke='#2c0fff'/>
<path d='M1816.14 1059.02L1816.23 1057.73' stroke='#2d0fff'/>
<path d='M1816.21 1058.03L1816.31 1056.74' stroke='#2e0fff'/>
<path d='M1816.28 1057.04L1816.38 1055.74' stroke='#2f10ff'/>
<path d='M1816.36 1056.04L1816.46 1054.75' stroke='#3010ff'/>
<path d='M1816.44 1055.04L1816.54 1053.75' stroke='#3110ff'/>
<path d='M1816.51 1054.05L1816.62 1052.74' stroke='#3311ff'/>
<path d='M1816.59 1053.04L1816.70 1051.74' stroke='#3411ff'/>
<path d='M1816.67 1052.04L1816.78 1050.73' stroke='#3512ff'/>
<path d='M1816.75 1051.03L1816.86 1049.72' stroke='#3612ff'/>
<path d='M1816.83 1050.02L1816.94 1048.71' stroke='#3712ff'/>
<path d='M1816.92 1049.01L1817.02 1047.69' stroke='#3913ff'/>
<path d='M1817.00 1048.00L1817.11 1046.67' stroke='#3a13ff'/>
<path d='M1817.08 1046.98L1817.19 1045.65' stroke='#3b14ff'/>
<path d='M1817.17 1045.96L1817.28 1044.62' stroke='#3c14ff'/>
<path d='M1817.25 1044.93L1817.37 1043.59' stroke='#3d14ff'/>
<path d='M1817.34 1043.90L1817.46 1042.56' stroke='#3e15ff'/>
<path d='M1817.43 1042.87L1817.55 1041.52' stroke='#4015ff'/>
<path d='M1817.52 1041.83L1817.64 1040.48' stroke='#4116ff'/>
<path d='M1817.61 1040.79L1817.73 1039.44' stroke='#4216ff'/>
<path d='M1817.71 1039.75L1817.83 1038.39' stroke='#4316ff'/>
<path d='M1817.80 1038.70L1817.92 1037.34' stroke='#4417ff'/>
<path d='M1817.89 1037.65L1818.02 1036.28' stroke='#4517ff'/>
<path d='M1817.99 1036.60L1818.12 1035.22' stroke='#4617ff'/>
<path d='M1818.09 1035.54L1818.22 1034.15' stroke='#4718ff'/>
<path d='M1818.19 1034.47L1818.32 1033.08' stroke='#4918ff'/>
<path d='M1818.29 1033.40L1818.43 1031.99' stroke='#4a19ff'/>
<path d='M1818.40 1032.31L1818.54 1030.89' stroke='#4b19ff'/>
<path d='M1818.50 1031.22L1818.65 1029.78' stroke='#4c19ff'/>
<path d='M1818.61 1030.11L1818.76 1028.66' stroke='#4d1aff'/>
<path d='M1818.73 1029.00L1818.88 1027.54' stroke='#4e1aff'/>
<path d='M1818.84 1027.88L1818.99 1026.41' stroke='#4f1aff'/>
<path d='M1818.96 1026.75L1819.11 1025.28' stroke='#511bff'/>
<path d='M1819.08 1025.62L1819.23 1024.14' stroke='#521bff'/>
<path d='M1819.20 1024.48L1819.35 1023.00' stroke='#531cff'/>
<path d='M1819.32 1023.35L1819.48 1021.87' stroke='#541cff'/>
</g>
<path d='M1670.1 795.3L2142.5 795.3A236.2 235.7 0 0 1 2142.5 1266.7L1670.1 1266.7A236.2 235.7 0 0 1 1670.1 795.3Z' fill='none' stroke='#000' stroke-width='2.9'/>
<path d='M1874.7 1032.1L1891.3 1048.7M1874.7 1048.7L1891.3 1032.1' stroke='#000' stroke-width='2.2' fill='none'/>
<path d='M1879.9 980.9L1896.5 997.5M1879.9 997.5L1896.5 980.9' stroke='#000' stroke-width='2.2' fill='none'/>
<path d='M1887.3 928.8L1903.9 945.4M1887.3 945.4L1903.9 928.8' stroke='#000' stroke-width='2.2' fill='none'/>
<path d='M1901.0 877.2L1917.6 893.8M1901.0 893.8L1917.6 877.2' stroke='#000' stroke-width='2.2' fill='none'/>
<path d='M1940.9 828.2L1957.5 844.8M1940.9 844.8L1957.5 828.2' stroke='#000' stroke-width='2.2' fill='none'/>
<path d='M2120.7 817.0L2137.3 833.6M2120.7 833.6L2137.3 817.0' stroke='#000' stroke-width='2.2' fill='none'/>
<path d='M2229.8 859.9L2246.4 876.5M2229.8 876.5L2246.4 859.9' stroke='#000' stroke-width='2.2' fill='none'/>
<path d='M2276.2 906.8L2292.8 923.4M2276.2 923.4L2292.8 906.8' stroke='#000' stroke-width='2.2' fill='none'/>
<path d='M2301.6 953.9L2318.2 970.5M2301.6 970.5L2318.2 953.9' stroke='#000' stroke-width='2.2' fill='none'/>
<path d='M2314.2 999.3L2330.8 1015.9M2314.2 1015.9L2330.8 999.3' stroke='#000' stroke-width='2.2' fill='none'/>
<path d='M2318.2 1042.9L2334.8 1059.5M2318.2 1059.5L2334.8 1042.9' stroke='#000' stroke-width='2.2' fill='none'/>
<path d='M2315.3 1086.1L2331.9 1102.7M2315.3 1102.7L2331.9 1086.1' stroke='#000' stroke-width='2.2' fill='none'/>
<path d='M2306.7 1127.7L2323.3 1144.3M2306.7 1144.3L2323.3 1127.7' stroke='#000' stroke-width='2.2' fill='none'/>
<path d='M2293.2 1169.7L2309.8 1186.3M2293.2 1186.3L2309.8 1169.7' stroke='#000' stroke-width='2.2' fill='none'/>
<path d='M1519.3 1209.0L1535.9 1225.6M1519.3 1225.6L1535.9 1209.0' stroke='#000' stroke-width='2.2' fill='none'/>
<path d='M1668.8 1234.8L1685.4 1251.4M1668.8 1251.4L1685.4 1234.8' stroke='#000' stroke-width='2.2' fill='none'/>
<path d='M1778.5 1210.0L1795.1 1226.6M1778.5 1226.6L1795.1 1210.0' stroke='#000' stroke-width='2.2' fill='none'/>
<path d='M1797.1 1168.8L1813.7 1185.4M1797.1 1185.4L1813.7 1168.8' stroke='#000' stroke-width='2.2' fill='none'/>
<path d='M1802.8 1123.9L1819.4 1140.5M1802.8 1140.5L1819.4 1123.9' stroke='#000' stroke-width='2.2' fill='none'/>
<path d='M1806.1 1076.0L1822.7 1092.6M1806.1 1092.6L1822.7 1076.0' stroke='#000' stroke-width='2.2' fill='none'/>
<path d='M1809.9 1026.0L1826.5 1042.6M1809.9 1042.6L1826.5 1026.0' stroke='#000' stroke-width='2.2' fill='none'/>
<circle cx='1883.0' cy='1040.4' r='4.9' fill='#000'/>
<circle cx='2139.2' cy='827.2' r='4.9' fill='#000'/>
<circle cx='2326.5' cy='1056.1' r='4.9' fill='#000'/>
<circle cx='1708.3' cy='1242.6' r='4.9' fill='#000'/>
<circle cx='1819.5' cy='1021.8' r='4.9' fill='#000'/>
<text x='1832.5' y='1015.2' font-size='27.78' text-anchor='start' fill='#000'>05:03:17 UT</text>
<text x='1896.0' y='1061.6' font-size='27.78' text-anchor='start' fill='#000'>03:22:10 UT</text>
<path d='M1454.1 1314.1L1463.3 1323.3M1454.1 1323.3L1463.3 1314.1' stroke='#000' stroke-width='3.2' fill='none'/>
<circle cx='1458.7' cy='1353.1' r='6.9' fill='#000'/>
<text x='1497.5' y='1326.4' font-size='22.22' text-anchor='start' fill='#000'>5 min intervals</text>
<text x='1497.5' y='1360.2' font-size='22.22' text-anchor='start' fill='#000'>Axis intervals</text>
<text x='1452.0' y='1404.0' font-size='22.22' text-anchor='start' fill='#000'>Operating mode: AM</text>
<rect x='1745.20' y='1308.30' width='549.00' height='26.30' fill='url(#cb5)' stroke='#000' stroke-width='2.2'/>
<line x1='1790.95' y1='1335.70' x2='1790.95' y2='1345.40' stroke='#000' stroke-width='2.2' stroke-linecap='butt'/>
<text x='1791.0' y='1371.6' font-size='22.22' text-anchor='middle' fill='#000'>400</text>
<line x1='1882.45' y1='1335.70' x2='1882.45' y2='1345.40' stroke='#000' stroke-width='2.2' stroke-linecap='butt'/>
<text x='1882.5' y='1371.6' font-size='22.22' text-anchor='middle' fill='#000'>600</text>
<line x1='1973.95' y1='1335.70' x2='1973.95' y2='1345.40' stroke='#000' stroke-width='2.2' stroke-linecap='butt'/>
<text x='1974.0' y='1371.6' font-size='22.22' text-anchor='middle' fill='#000'>800</text>
<line x1='2065.45' y1='1335.70' x2='2065.45' y2='1345.40' stroke='#000' stroke-width='2.2' stroke-linecap='butt'/>
<text x='2065.4' y='1371.6' font-size='22.22' text-anchor='middle' fill='#000'>1000</text>
<line x1='2156.95' y1='1335.70' x2='2156.95' y2='1345.40' stroke='#000' stroke-width='2.2' stroke-linecap='butt'/>
<text x='2156.9' y='1371.6' font-size='22.22' text-anchor='middle' fill='#000'>1200</text>
<line x1='2248.45' y1='1335.70' x2='2248.45' y2='1345.40' stroke='#000' stroke-width='2.2' stroke-linecap='butt'/>
<text x='2248.4' y='1371.6' font-size='22.22' text-anchor='middle' fill='#000'>1400</text>
<text x='2019.7' y='1406.8' font-size='22.22' text-anchor='middle' fill='#000'>Altitude (km)</text>
<text x='1609.0' y='1450.8' font-size='22.22' text-anchor='middle' fill='#000'>VSA</text>
<text x='1739.7' y='1450.8' font-size='22.22' text-anchor='middle' fill='#000'>VES</text>
<text x='1870.3' y='1450.8' font-size='22.22' text-anchor='middle' fill='#000'>VD+</text>
<text x='2001.0' y='1450.8' font-size='22.22' text-anchor='middle' fill='#000'>VD-</text>
<text x='2131.6' y='1450.8' font-size='22.22' text-anchor='middle' fill='#000'>VMCPF</text>
<text x='2262.2' y='1450.8' font-size='22.22' text-anchor='middle' fill='#000'>VCMPB</text>
<text x='1451.0' y='1480.3' font-size='22.22' text-anchor='start' fill='#000'>Min (V)</text>
<text x='1609.0' y='1480.3' font-size='22.22' text-anchor='middle' fill='#000'>0</text>
<text x='1739.7' y='1480.3' font-size='22.22' text-anchor='middle' fill='#000'>-1.45</text>
<text x='1870.3' y='1480.3' font-size='22.22' text-anchor='middle' fill='#000'>-0.18</text>
<text x='2001.0' y='1480.3' font-size='22.22' text-anchor='middle' fill='#000'>-0.14</text>
<text x='2131.6' y='1480.3' font-size='22.22' text-anchor='middle' fill='#000'>-4</text>
<text x='2262.2' y='1480.3' font-size='22.22' text-anchor='middle' fill='#000'>0</text>
<text x='1451.0' y='1509.4' font-size='22.22' text-anchor='start' fill='#000'>Max (V)</text>
<text x='1609.0' y='1509.4' font-size='22.22' text-anchor='middle' fill='#000'>0</text>
<text x='1739.7' y='1509.4' font-size='22.22' text-anchor='middle' fill='#000'>-1.19</text>
<text x='1870.3' y='1509.4' font-size='22.22' text-anchor='middle' fill='#000'>0.48</text>
<text x='2001.0' y='1509.4' font-size='22.22' text-anchor='middle' fill='#000'>0.47</text>
<text x='2131.6' y='1509.4' font-size='22.22' text-anchor='middle' fill='#000'>-1</text>
<text x='2262.2' y='1509.4' font-size='22.22' text-anchor='middle' fill='#000'>0</text>
<text x='1451.0' y='1538.7' font-size='22.22' text-anchor='start' fill='#000'>Ave (V)</text>
<text x='1609.0' y='1538.7' font-size='22.22' text-anchor='middle' fill='#000'>0</text>
<text x='1739.7' y='1538.7' font-size='22.22' text-anchor='middle' fill='#000'>-1.38</text>
<text x='1870.3' y='1538.7' font-size='22.22' text-anchor='middle' fill='#000'>-0.03</text>
<text x='2001.0' y='1538.7' font-size='22.22' text-anchor='middle' fill='#000'>0.01</text>
<text x='2131.6' y='1538.7' font-size='22.22' text-anchor='middle' fill='#000'>-2</text>
<text x='2262.2' y='1538.7' font-size='22.22' text-anchor='middle' fill='#000'>0</text>
<text x='1448.0' y='1578.9' font-size='27.78' text-anchor='start' fill='#000'>Produced by irm_summary version 5</text>
<path d='M183.0 72.1L223.8 0.6L308.0 0.6L348.8 72.1L308.0 144.1L223.8 144.1Z' fill='#fff' stroke='#cfe6e8' stroke-width='1.2'/>
<g clip-path='url(#hexclip)'>
<path d='M191.9 72.7L228.9 9.2L302.9 9.2L339.2 72.7L305.4 131.4L225.7 131.4Z' fill='#03060c'/>
<g filter='url(#bl2)'><circle cx='351.3' cy='420.9' r='363.0' fill='#0c4a30'/><circle cx='351.3' cy='420.9' r='359.5' fill='#1f9a58'/><circle cx='351.3' cy='420.9' r='355.0' fill='#0a3a2a'/></g>
<circle cx='351.3' cy='420.9' r='352.0' fill='url(#earthg)'/>
<g filter='url(#bl3)' fill='#fff' opacity='0.75'>
<ellipse cx='249.3' cy='102.0' rx='33.2' ry='3.6' transform='rotate(-14 249.3 102.0)'/>
<ellipse cx='281.2' cy='96.9' rx='25.5' ry='2.8' transform='rotate(-12 281.2 96.9)'/>
<ellipse cx='239.1' cy='114.8' rx='20.4' ry='3.8' transform='rotate(-20 239.1 114.8)'/>
<ellipse cx='287.6' cy='112.2' rx='23.0' ry='3.8' transform='rotate(-18 287.6 112.2)'/>
<ellipse cx='264.6' cy='107.1' rx='15.3' ry='2.3' transform='rotate(-10 264.6 107.1)'/>
<ellipse cx='306.7' cy='102.0' rx='15.3' ry='3.1' transform='rotate(-25 306.7 102.0)'/>
<ellipse cx='231.4' cy='125.0' rx='15.3' ry='2.8' transform='rotate(-15 231.4 125.0)'/>
<ellipse cx='313.1' cy='91.8' rx='15.3' ry='2.0' transform='rotate(-12 313.1 91.8)'/>
<ellipse cx='274.8' cy='122.4' rx='20.4' ry='3.3' transform='rotate(-10 274.8 122.4)'/>
<ellipse cx='217.4' cy='105.9' rx='8.9' ry='1.8' transform='rotate(-20 217.4 105.9)'/>
</g>
<path d='M293.9 122.4L318.2 105.9L310.5 127.6L305.4 131.4Z' fill='#1e62b8'/>
<path d='M221.2 132.7 Q249.3 122.4 272.2 116.7 Q292.7 118.6 306.7 132.7Z' fill='#fff'/>
<circle cx='265.9' cy='116.3' r='7' fill='#1f6fc8'/><path d='M261.9 117.3Q265.9 110.3 269.9 117.3' stroke='#fff' stroke-width='0.9' fill='none'/><rect x='262.5' y='118.5' width='6.8' height='1.8' fill='#fff'/><circle cx='265.9' cy='116.1' r='0.9' fill='#e33'/>
<path d='M276.7 63.1L279.3 62.5L306.7 105.2L302.9 106.5Z' fill='#fff' opacity='0.8'/>
<line x1='248.0' y1='34.4' x2='242.3' y2='14.0' stroke='#9a9a9a' stroke-width='0.6'/>
<line x1='263.3' y1='38.3' x2='278.6' y2='28.7' stroke='#9a9a9a' stroke-width='0.6'/>
<line x1='240.4' y1='51.0' x2='219.9' y2='60.6' stroke='#b89050' stroke-width='0.7'/>
<line x1='239.1' y1='61.2' x2='221.2' y2='61.2' stroke='#e0a040' stroke-width='1.3'/>
<line x1='256.9' y1='74.0' x2='243.5' y2='89.3' stroke='#c08040' stroke-width='1.0'/>
<line x1='260.8' y1='74.6' x2='263.3' y2='84.2' stroke='#a07040' stroke-width='0.8'/>
<circle cx='221.9' cy='61.2' r='1.6' fill='#ffd070'/>
<path d='M267.1 56.1L282.4 54.8L274.8 71.4L256.9 74.0Z' fill='#c79a4a'/>
<path d='M269.1 59.9L278.0 59.3L273.5 68.9L264.6 69.9Z' fill='#e8d8a0'/>
<path d='M271.6 61.2L276.7 61.0L274.2 66.3L269.7 66.8Z' fill='#7ab0e0'/>
<path d='M246.7 33.8L262.0 38.3L281.2 53.6L267.1 56.1L249.3 42.1Z' fill='#1f5fae'/>
<path d='M249.3 42.1L267.1 56.1L256.9 74.0L238.4 62.5Z' fill='#2f86d6'/>
<path d='M246.7 33.8L249.3 42.1L238.4 62.5L241.6 51.0Z' fill='#c89040'/>
<circle cx='232.1' cy='27.4' r='1.3' fill='#c8c8ff'/>
<circle cx='202.1' cy='66.6' r='1.2' fill='#c8c8ff'/>
<circle cx='269.7' cy='12.1' r='0.5' fill='#c8c8ff'/>
<circle cx='293.9' cy='16.6' r='0.5' fill='#c8c8ff'/>
<circle cx='305.4' cy='45.9' r='0.5' fill='#c8c8ff'/>
<circle cx='213.6' cy='42.1' r='0.5' fill='#c8c8ff'/>
<circle cx='285.0' cy='38.3' r='0.4' fill='#c8c8ff'/>
<circle cx='316.9' cy='53.6' r='0.4' fill='#c8c8ff'/>
<circle cx='236.5' cy='15.3' r='0.4' fill='#c8c8ff'/>
<circle cx='259.5' cy='19.1' r='0.4' fill='#c8c8ff'/>
<circle cx='300.3' cy='31.9' r='0.4' fill='#c8c8ff'/>
<circle cx='223.8' cy='53.6' r='0.4' fill='#c8c8ff'/>
</g>
<text x='265.6' y='133.4' font-family="'Liberation Sans',sans-serif" font-weight='bold' font-size='6.6' text-anchor='middle' fill='#3aa4e6' textLength='58' lengthAdjust='spacingAndGlyphs'>CASSIOPE</text>
<g clip-path='url(#esadisc)' fill='none' stroke='#3f7ec6' stroke-width='1.45'>
<circle cx='2114.2' cy='66.0' r='22.00'/>
<circle cx='2114.2' cy='66.0' r='24.52'/>
<circle cx='2114.2' cy='66.0' r='27.04'/>
<circle cx='2114.2' cy='66.0' r='29.56'/>
<circle cx='2114.2' cy='66.0' r='32.08'/>
<circle cx='2114.2' cy='66.0' r='34.60'/>
<circle cx='2114.2' cy='66.0' r='37.12'/>
<circle cx='2114.2' cy='66.0' r='39.64'/>
<circle cx='2114.2' cy='66.0' r='42.16'/>
<circle cx='2114.2' cy='66.0' r='44.68'/>
<circle cx='2114.2' cy='66.0' r='47.20'/>
<circle cx='2114.2' cy='66.0' r='49.72'/>
<circle cx='2114.2' cy='66.0' r='52.24'/>
<circle cx='2114.2' cy='66.0' r='54.76'/>
<circle cx='2114.2' cy='66.0' r='57.28'/>
<circle cx='2114.2' cy='66.0' r='59.80'/>
<circle cx='2114.2' cy='66.0' r='62.32'/>
<circle cx='2114.2' cy='66.0' r='64.84'/>
<circle cx='2114.2' cy='66.0' r='67.36'/>
<circle cx='2114.2' cy='66.0' r='69.88'/>
<circle cx='2114.2' cy='66.0' r='72.40'/>
<circle cx='2114.2' cy='66.0' r='74.92'/>
<circle cx='2114.2' cy='66.0' r='77.44'/>
<circle cx='2114.2' cy='66.0' r='79.96'/>
<circle cx='2114.2' cy='66.0' r='82.48'/>
<circle cx='2114.2' cy='66.0' r='85.00'/>
<circle cx='2114.2' cy='66.0' r='87.52'/>
<circle cx='2114.2' cy='66.0' r='90.04'/>
<circle cx='2114.2' cy='66.0' r='92.56'/>
<circle cx='2114.2' cy='66.0' r='95.08'/>
<circle cx='2114.2' cy='66.0' r='97.60'/>
<circle cx='2114.2' cy='66.0' r='100.12'/>
<circle cx='2114.2' cy='66.0' r='102.64'/>
<circle cx='2114.2' cy='66.0' r='105.16'/>
<circle cx='2114.2' cy='66.0' r='107.68'/>
<circle cx='2114.2' cy='66.0' r='110.20'/>
</g>
<path d='M2113.2 86.0 L2144.2 72.0 L2154.2 106.0 L2122.2 112.0Z' fill='#fff'/>
<path d='M2117.2 41.5 A24.5 24.5 0 0 0 2117.2 90.5' stroke='#fff' stroke-width='8.5' fill='none'/>
<g clip-path='url(#esaball)' stroke='#3f7ec6' stroke-width='1.45'>
<line x1='2092.2' y1='47.00' x2='2136.2' y2='47.00'/>
<line x1='2092.2' y1='49.52' x2='2136.2' y2='49.52'/>
<line x1='2092.2' y1='52.04' x2='2136.2' y2='52.04'/>
<line x1='2092.2' y1='54.56' x2='2136.2' y2='54.56'/>
<line x1='2092.2' y1='57.08' x2='2136.2' y2='57.08'/>
<line x1='2092.2' y1='59.60' x2='2136.2' y2='59.60'/>
<line x1='2092.2' y1='62.12' x2='2136.2' y2='62.12'/>
<line x1='2092.2' y1='64.64' x2='2136.2' y2='64.64'/>
<line x1='2092.2' y1='67.16' x2='2136.2' y2='67.16'/>
<line x1='2092.2' y1='69.68' x2='2136.2' y2='69.68'/>
<line x1='2092.2' y1='72.20' x2='2136.2' y2='72.20'/>
<line x1='2092.2' y1='74.72' x2='2136.2' y2='74.72'/>
<line x1='2092.2' y1='77.24' x2='2136.2' y2='77.24'/>
<line x1='2092.2' y1='79.76' x2='2136.2' y2='79.76'/>
<line x1='2092.2' y1='82.28' x2='2136.2' y2='82.28'/>
<line x1='2092.2' y1='84.80' x2='2136.2' y2='84.80'/>
</g>
<rect x='2097.2' y='65.5' width='38' height='5.6' fill='#fff'/>
<path d='M2116.2 49.5 A16.5 16.5 0 0 0 2116.2 82.5' stroke='#fff' stroke-width='4.5' fill='none' transform='translate(-2.5 0)'/>
<circle cx='2056.3' cy='65.2' r='5.4' fill='#fff'/>
<text x='2227.7' y='94.6' font-family="'Liberation Sans',sans-serif" font-weight='bold' font-size='107' text-anchor='middle' fill='#14267f' textLength='166' lengthAdjust='spacingAndGlyphs'>esa</text>
</svg></body></html>
